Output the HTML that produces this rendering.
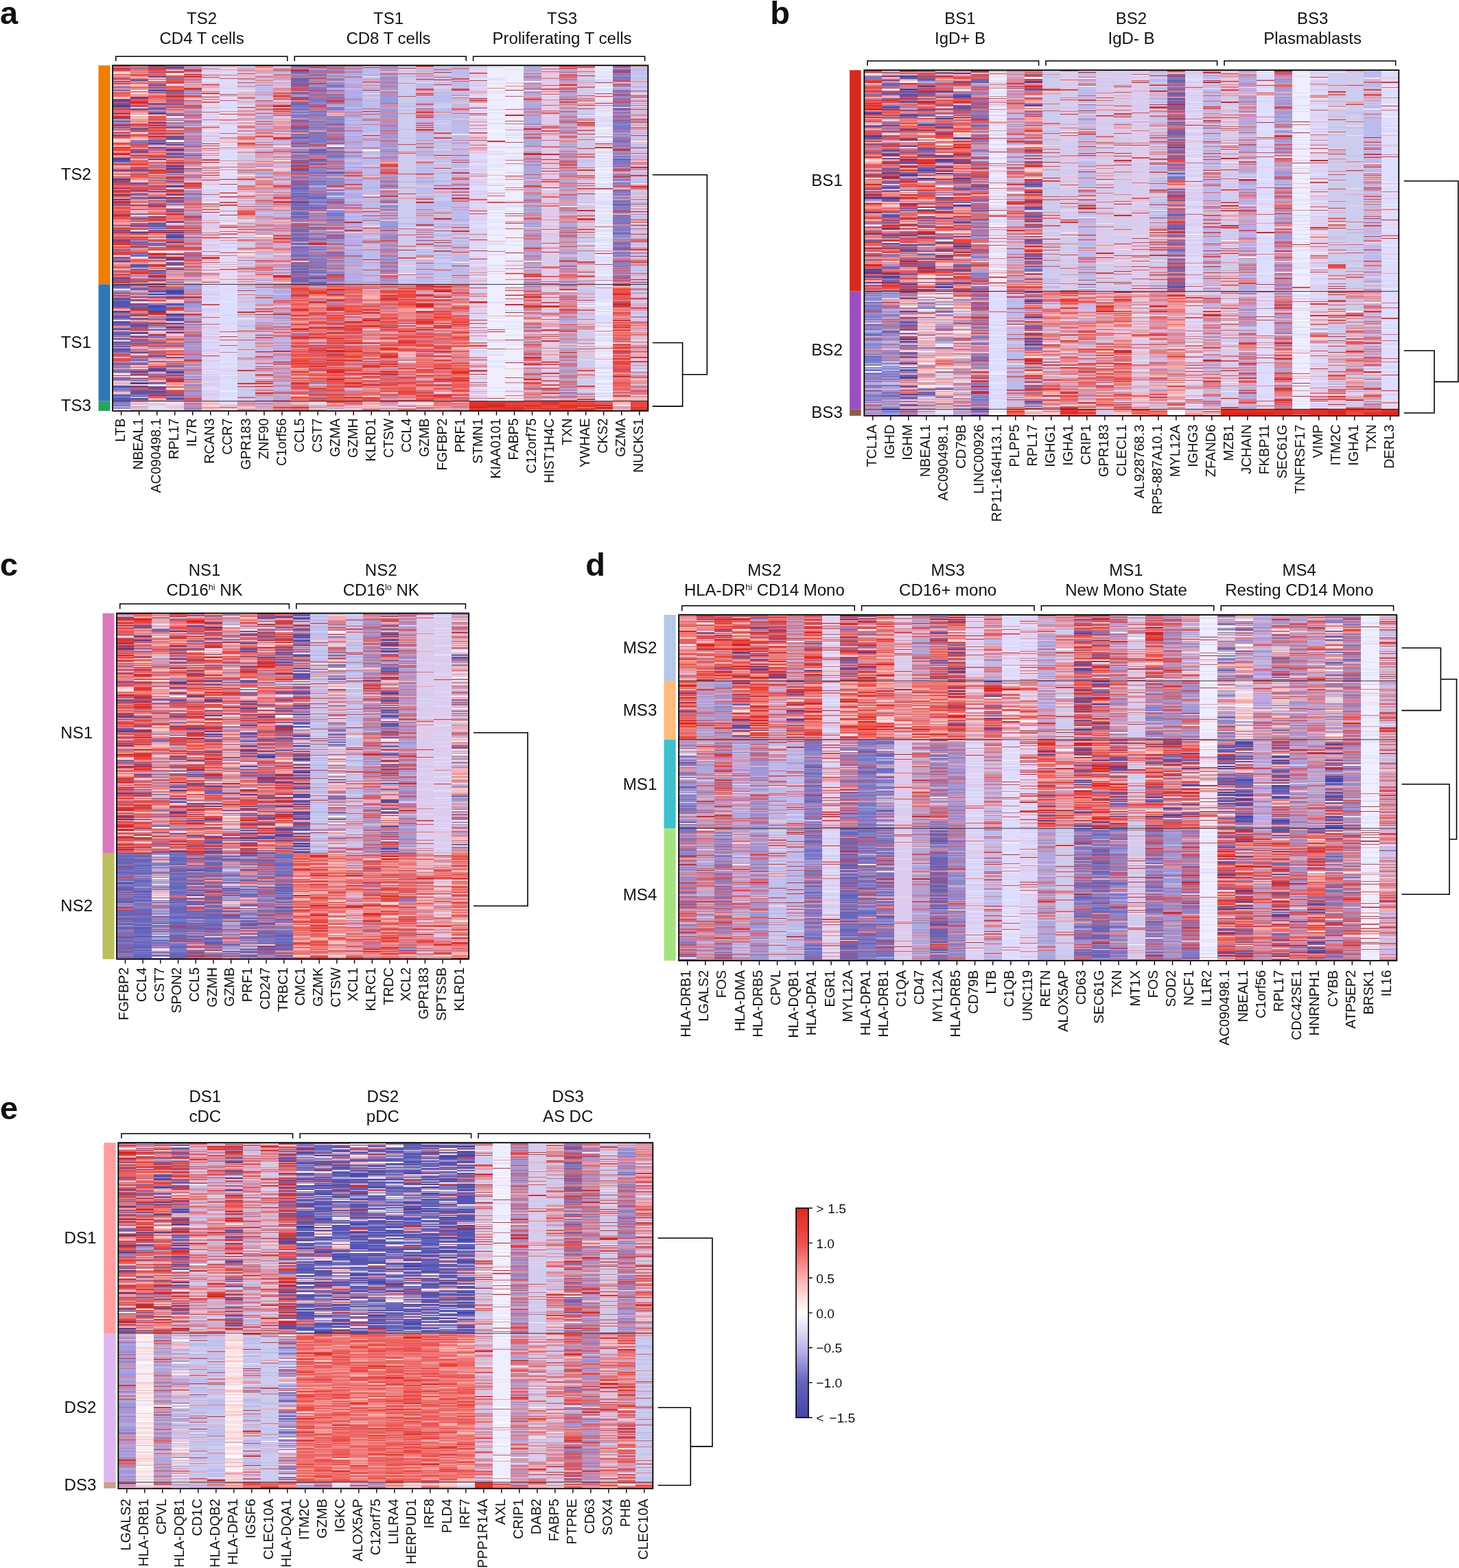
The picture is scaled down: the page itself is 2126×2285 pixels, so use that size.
<!DOCTYPE html>
<html><head><meta charset="utf-8"><title>Figure</title>
<style>html,body{margin:0;padding:0;background:#fff}svg{display:block}text{font-family:'Liberation Sans', Arial, Helvetica, sans-serif;fill:#111}</style></head>
<body>
<svg width="2126" height="2285" viewBox="0 0 2126 2285">
<rect width="2126" height="2285" fill="#fff"/>
<!-- panel a -->
<defs><clipPath id="cpa"><rect x="163.6" y="95.3" width="781.2" height="503.5"/></clipPath><filter id="bla" filterUnits="userSpaceOnUse" x="155.6" y="87" width="797.2" height="520" color-interpolation-filters="sRGB"><feGaussianBlur in="SourceGraphic" stdDeviation="0.35 0.5" result="S"/><feColorMatrix in="S" values=".299 .587 .114 0 0 .299 .587 .114 0 0 .299 .587 .114 0 0 0 0 0 1 0" result="L"/><feGaussianBlur in="SourceGraphic" stdDeviation="0.9 1.3"/><feColorMatrix values=".3505 -.2935 -.057 0 .5 -.1495 .2065 -.057 0 .5 -.1495 -.2935 .443 0 .5 0 0 0 1 0"/><feComposite in2="L" operator="arithmetic" k1="0" k2="2" k3="1" k4="-1"/></filter></defs>
<g clip-path="url(#cpa)"><g filter="url(#bla)" fill="none" stroke-width="26.04" shape-rendering="crispEdges">
<rect x="157.6" y="89" width="793.2" height="516" fill="#d8d4ee"/>
<path stroke="#66b" d="M176.62 93v1m0 33v1m0 3v2m0 15v1m0 23v2m0 2v2m0 7v2m0 79v2m0 30v2m0 74v3m0 17v1m0 12v2m0 8v3m0 6v2m0 9v2m0 16v2m0 2v2m0 2v1m0 7v2m0 5v1m0 4v3m0 1v2m0 10v4m0 8v3m0 16v2m0 9v2m0 9v2m0 25v1M202.66 100v1m0 106v1m0 41v1m0 37v3m0 21v2m0 14v2m0 20v1m0 2v2m0 18v2m0 15v1m0 20v1m0 4v2m0 2v4m0 22v3m0 9v2m0 12v1m0 4v2m0 3v1m0 4v1m0 2v1m0 5v3m0 1v2m0 2v1M228.7 94v1m0 5v1m0 20v1m0 35v1m0 8v1m0 37v3m0 55v1m0 33v1m0 30v2m0 25v3m0 3v1m0 34v2m0 23v1m0 43v2m0 5v1m0 5v1m0 3v1m0 17v2m0 46v1m0 9v3M254.74 113v1m0 32v2m0 3v2m0 14v2m0 6v1m0 7v1m0 23v1m0 19v1m0 15v1m0 15v1m0 3v3m0 27v3m0 10v2m0 84v1m0 26v1m0 1v2m0 5v2m0 49v2m0 22v1m0 25v1m0 3v2m0 12v1m0 31v1M437.02 95v2m0 7v2m0 9v3m0 2v1m0 2v2m0 9v1m0 6v1m0 6v1m0 1v3m0 10v1m0 23v2m0 6v1m0 25v2m0 3v1m0 6v2m0 5v1m0 2v1m0 24v2m0 3v3m0 5v2m0 2v2m0 11v2m0 2v2m0 6v3m0 2v2m0 17v1m0 2v1m0 8v3m0 5v3m0 2v1m0 12v2m0 3v2m0 8v2m0 2v2m0 4v1m0 6v2m0 1v1m0 1v1M463.06 217v3m0 1v2m0 10v2m0 3v2m0 47v3m0 12v2m0 30v1m0 14v1m0 47v1m0 8v1m0 4v3M489.1 250v3m0 146v2M905.74 101v3m0 56v1m0 70v2m0 65v2m0 40v1m0 20v2m0 5v1m0 39v1"/>
<path stroke="#fcc" d="M176.62 94v1m0 9v4m0 25v1m0 8v2m0 58v5m0 5v2m0 179v1m0 152v1m0 1v2M202.66 123v2m0 32v1m0 35v2m0 7v2m0 109v2m0 192v1m0 7v3m0 14v1m0 3v2M228.7 212v2m0 21v1m0 18v1m0 79v1m0 54v1m0 93v1m0 70v2m0 6v1M254.74 106v1m0 15v1m0 40v1m0 89v1m0 42v1m0 3v2m0 70v2m0 6v2m0 213v1M280.78 174v1m0 236v2M306.82 150v1m0 93v1m0 9v1m0 51v1m0 27v1M332.86 93v1m0 31v1m0 75v1m0 9v1m0 123v1m0 15v1m0 53v1m0 7v1m0 7v1M358.9 280v1m0 209v1M384.94 100v1m0 159v2m0 194v1M410.98 192v1m0 52v2M437.02 380v2m0 216v3M463.06 329v1m0 255v2M541.18 195v1m0 30v1m0 14v1m0 62v1m0 40v1m0 133v2m0 96v1m0 12v2M593.26 527v1M619.3 118v1m0 164v1m0 300v1M645.34 127v1m0 118v1m0 187v2M671.38 173v1m0 332v2M697.42 100v1m0 49v1m0 28v1m0 15v1m0 380v1M749.5 397v1M775.54 466v2M801.58 400v1m0 20v1m0 79v1m0 61v1M827.62 413v1M853.66 152v1m0 207v1m0 29v1m0 55v2m0 122v1M879.7 175v1M905.74 417v2M931.78 138v1m0 200v1m0 155v3m0 53v1"/>
<path stroke="#e55" d="M176.62 95v2m0 17v1m0 19v3m0 24v2m0 29v1m0 64v2m0 58v3m0 26v1m0 20v1m0 9v2m0 16v2m0 51v2m0 76v1M202.66 114v1m0 29v2m0 66v3m0 12v1m0 27v4m0 75v1m0 12v2m0 8v2m0 34v1m0 124v2M228.7 104v2m0 9v1m0 23v3m0 30v2m0 42v1m0 10v1m0 8v2m0 35v3m0 85v2m0 46v1m0 11v2m0 80v1m0 11v3m0 56v1m0 2v1m0 6v1M254.74 111v2m0 3v2m0 19v2m0 9v1m0 1v1m0 82v2m0 3v2m0 41v2m0 7v2m0 58v2m0 126v1m0 20v2m0 3v2m0 7v1m0 49v2M280.78 141v1m0 45v2m0 25v1m0 21v2m0 59v1m0 35v1m0 4v2m0 14v3m0 130v2M306.82 100v1m0 34v1m0 8v1m0 18v1m0 79v1m0 1v1m0 126v1m0 27v1m0 61v1M332.86 194v1m0 48v1m0 43v1m0 42v1m0 37v1M358.9 308v3M384.94 221v2m0 231v1m0 18v1m0 17v1m0 54v1M410.98 135v2m0 30v2m0 33v2m0 49v1m0 43v1m0 35v1m0 8v3m0 7v2M437.02 249v1m0 3v1m0 161v2m0 20v2m0 3v3m0 33v1m0 4v1m0 22v1m0 4v2m0 5v2m0 2v2m0 8v3m0 16v1m0 8v2m0 3v3m0 3v3M463.06 134v1m0 93v2m0 10v1m0 64v1m0 162v2m0 1v1m0 18v1m0 13v2m0 9v5m0 16v2m0 6v2m0 10v1m0 11v1M489.1 104v2m0 298v2m0 8v1m0 2v2m0 11v2m0 13v3m0 38v1m0 4v2m0 11v2m0 14v2m0 4v1m0 8v1m0 10v1m0 4v1m0 2v2m0 1v3m0 9v2m0 9v4M515.14 302v2m0 115v1m0 10v2m0 18v3m0 4v2m0 2v2m0 28v2m0 2v3m0 12v1m0 2v1m0 12v1m0 47v1M541.18 158v1m0 14v1m0 1v1m0 68v1m0 200v3m0 25v1m0 100v1M567.22 401v3m0 10v1m0 2v2m0 13v2m0 8v3m0 19v2m0 5v1m0 19v2m0 36v1m0 22v2m0 11v3m0 15v1M593.26 333v1m0 66v1m0 25v2m0 11v3m0 24v2m0 22v1m0 10v2m0 5v2m0 22v1m0 13v1m0 9v1m0 35v1M619.3 96v1m0 13v1m0 20v1m0 18v1m0 9v1m0 1v1m0 1v1m0 1v1m0 23v1m0 150v1m0 50v1m0 35v2m0 43v1m0 8v1m0 4v2m0 2v2m0 8v2m0 5v2m0 31v2M645.34 200v1m0 135v1m0 29v1m0 97v2m0 10v1m0 29v1m0 6v1m0 16v2m0 1v2m0 30v3M671.38 118v1m0 39v1m0 6v1m0 125v1m0 123v2m0 19v1m0 22v2m0 3v4m0 6v2m0 7v1m0 15v2m0 3v2m0 5v2m0 23v5m0 19v2m0 1v2M697.42 167v1m0 43v1m0 44v1m0 33v2m0 185v1m0 54v1m0 24v1M723.46 285v1M749.5 140v1m0 92v1m0 189v1M775.54 317v3m0 143v1m0 17v2m0 18v2m0 11v1m0 7v2m0 50v1m0 21v2M801.58 104v1m0 32v1m0 15v1m0 7v1m0 29v1m0 2v1m0 9v1m0 40v1m0 18v2m0 20v2m0 73v1m0 40v2m0 6v1m0 22v1m0 31v1m0 24v1m0 37v1m0 25v1m0 5v1m0 22v1M827.62 115v1m0 28v2m0 52v2m0 53v1m0 182v1m0 161v3M853.66 104v1m0 22v1m0 15v1m0 31v1m0 27v1m0 52v1m0 101v1m0 6v1m0 43v1m0 41v2m0 22v1m0 1v1m0 1v1M879.7 585v5m0 8v3M905.74 150v1m0 23v1m0 95v3m0 125v1m0 7v1m0 25v2m0 55v1m0 13v1m0 14v2m0 7v1m0 5v2m0 6v2m0 14v3m0 8v1m0 6v2M931.78 174v1m0 64v1m0 121v1m0 36v1m0 71v1m0 98v2m0 21v1"/>
<path stroke="#e66" d="M176.62 97v2m0 9v2m0 27v4m0 43v1m0 25v2m0 41v1m0 16v3m0 8v2m0 21v4m0 14v1m0 4v2m0 11v2m0 17v1m0 30v1m0 6v1m0 3v3m0 53v2M202.66 93v1m0 12v1m0 3v1m0 10v1m0 29v2m0 75v2m0 3v2m0 1v2m0 32v3m0 20v3m0 24v2m0 8v1m0 34v3m0 12v2m0 25v1m0 90v1m0 12v2m0 71v1M228.7 118v2m0 5v2m0 15v2m0 31v1m0 4v2m0 5v2m0 11v2m0 5v1m0 13v2m0 32v2m0 9v2m0 17v2m0 17v1m0 67v2m0 41v2m0 78v3m0 3v2m0 24v1m0 7v1m0 16v2M254.74 99v1m0 25v2m0 1v3m0 22v3m0 74v1m0 82v2m0 2v3m0 97v2m0 64v1m0 26v3m0 17v2m0 12v2m0 2v2M280.78 189v1m0 12v2m0 98v2m0 1v1m0 71v2m0 148v1m0 10v3M306.82 149v1m0 24v1m0 73v1M332.86 109v1m0 29v1m0 34v1m0 25v1m0 139v1m0 31v1M358.9 142v2m0 56v2m0 8v2m0 64v1m0 152v1m0 28v1m0 50v1M384.94 95v2m0 49v2m0 32v2m0 28v2m0 129v1m0 50v1m0 77v1m0 4v1m0 28v1m0 50v1m0 12v1m0 6v1m0 8v1M410.98 144v2m0 234v2m0 57v3m0 42v2M437.02 320v2m0 104v2m0 4v4m0 12v2m0 3v2m0 15v1m0 2v1m0 7v1m0 12v1m0 13v2m0 18v1m0 15v2m0 8v2m0 24v3m0 1v1m0 11v2M463.06 189v1m0 231v2m0 5v2m0 18v2m0 14v2m0 28v1m0 3v1m0 25v2m0 6v1M489.1 415v2m0 3v1m0 34v2m0 33v1m0 3v1m0 27v2m0 3v1m0 8v2m0 6v2m0 19v3m0 30v3M515.14 420v1m0 2v3m0 11v2m0 9v2m0 23v1m0 8v1m0 23v1m0 40v1m0 8v1m0 3v2m0 13v2m0 10v3m0 8v3M541.18 181v1m0 20v1m0 1v1m0 214v1m0 48v2m0 8v1m0 7v1m0 19v1m0 11v2m0 10v2m0 9v2m0 7v2m0 11v2m0 6v3m0 22v2M567.22 278v2m0 179v4m0 7v1m0 1v1m0 10v1m0 3v2m0 25v1m0 39v2m0 6v1m0 15v2M593.26 221v1m0 136v1m0 78v2m0 6v3m0 31v2m0 5v1m0 54v2m0 8v1m0 11v2m0 10v2m0 19v2M619.3 237v1m0 67v1m0 29v1m0 2v1m0 33v1m0 46v1m0 16v1m0 24v2m0 13v1m0 49v1m0 3v2m0 1v2m0 13v2m0 43v2m0 3v3M645.34 455v2m0 2v2m0 5v2m0 13v1m0 12v1m0 4v2m0 2v1m0 31v1m0 5v2m0 8v1m0 28v3m0 15v3M671.38 139v1m0 19v1m0 119v1m0 165v3m0 13v2m0 26v1m0 3v1m0 26v2m0 24v1m0 10v3m0 2v1m0 11v1M697.42 182v1m0 32v1m0 125v1m0 179v1m0 19v1m0 38v1m0 3v1M723.46 366v1M749.5 159v1m0 20v1m0 80v1m0 14v1m0 17v2m0 27v1m0 67v1m0 68v1m0 96v1m0 18v1M775.54 163v1m0 284v2m0 20v1m0 2v1m0 29v1m0 20v2M801.58 114v1m0 181v1m0 92v1m0 117v1m0 40v1m0 16v1M827.62 113v1m0 113v1m0 173v3m0 41v3m0 7v2m0 37v1m0 34v1m0 20v1m0 32v1M853.66 98v1m0 27v1m0 18v1m0 43v1m0 34v2m0 18v1m0 167v1m0 52v1m0 111v1m0 15v2M879.7 153v1m0 176v1m0 77v1M905.74 377v2m0 78v2m0 20v2m0 1v1m0 8v2m0 11v2m0 4v1m0 45v1m0 3v2m0 3v3M931.78 153v1m0 12v1m0 1v1m0 18v1m0 85v3m0 14v1m0 21v1m0 20v1m0 177v2m0 61v1"/>
<path stroke="#d33" d="M176.62 99v1m0 18v2m0 30v1m0 5v1m0 32v1m0 73v3m0 12v2m0 53v1m0 18v5m0 32v1m0 19v1m0 1v2m0 134v1M202.66 244v1m0 88v1m0 7v1m0 3v1m0 113v2m0 33v1M228.7 127v1m0 22v1m0 34v2m0 39v1m0 1v2m0 17v2m0 71v2m0 63v2m0 7v1M254.74 257v2m0 18v1m0 44v1m0 18v1M280.78 101v3m0 162v2m0 111v1M306.82 112v1m0 192v1m0 105v1m0 106v1M332.86 268v1m0 62v1M358.9 93v1m0 26v1m0 213v1m0 147v1m0 56v2m0 38v1M384.94 453v1m0 34v1m0 67v1m0 1v2m0 3v1M410.98 139v2m0 316v2m0 17v1M437.02 144v2m0 95v2m0 2v2m0 203v3m0 6v2m0 25v1m0 4v3m0 99v2M463.06 114v1m0 6v1m0 317v3m0 28v1m0 32v1m0 80v1M489.1 146v2m0 280v2m0 20v3m0 23v3m0 27v1m0 3v1m0 2v1m0 10v2m0 2v1m0 9v3m0 27v1M515.14 468v3m0 5v1m0 1v1m0 32v2m0 31v2m0 11v3M541.18 98v1m0 188v1m0 15v1m0 10v1m0 17v1m0 20v1m0 120v2m0 23v2m0 32v2M567.22 240v1m0 44v2m0 143v2m0 2v3m0 56v1m0 26v2M593.26 99v1m0 182v1m0 137v1m0 50v1m0 38v1M619.3 115v1m0 174v1m0 37v1m0 21v1m0 64v4m0 51v2m0 31v1m0 52v1m0 26v1M645.34 93v1m0 107v1m0 43v1m0 28v2m0 138v1m0 17v2m0 37v1m0 35v1m0 28v2m0 14v2m0 21v2M671.38 236v1m0 14v2m0 8v1m0 74v1m0 213v1M697.42 307v1m0 69v1m0 41v1m0 19v3m0 24v1m0 72v2M723.46 585v2m0 6v2m0 1v2M749.5 590v2m0 1v8M775.54 530v2m0 58v2M801.58 100v1m0 89v1m0 222v1m0 44v1m0 84v1m0 17v1m0 10v2m0 11v5M827.62 99v1m0 259v1m0 61v2m0 59v1m0 109v3M853.66 97v1m0 60v1m0 159v2m0 18v1m0 43v1m0 54v1m0 136v1m0 15v2m0 3v1m0 2v3M879.7 595v1M905.74 257v2m0 207v2m0 13v1m0 24v1m0 4v2m0 1v1m0 7v2m0 4v1M931.78 141v1m0 36v1m0 92v2m0 77v1m0 22v1m0 219v2m0 1v2"/>
<path stroke="#55a" d="M176.62 100v1m0 14v1m0 35v2m0 43v2m0 64v1m0 66v1m0 5v2m0 69v1m0 27v2m0 3v3m0 37v2m0 5v1m0 23v1m0 52v2M202.66 116v2m0 40v2m0 60v1m0 26v2m0 17v2m0 119v2m0 3v1m0 55v2m0 24v2m0 37v1m0 49v2m0 9v1m0 5v3M228.7 95v2m0 26v2m0 162v3m0 2v1m0 22v2m0 8v2m0 2v1m0 3v1m0 11v1m0 28v3m0 21v1m0 9v1m0 4v1m0 36v3m0 19v1m0 45v2m0 43v2m0 6v3M254.74 133v1m0 64v2m0 49v1m0 42v1m0 49v3m0 14v1m0 22v2m0 1v2m0 55v3m0 14v2m0 5v2m0 78v1m0 5v2m0 26v3"/>
<path stroke="#e44" d="M176.62 101v3m0 9v1m0 35v1m0 30v2m0 11v2m0 20v1m0 1v3m0 82v2m0 4v2m0 5v2m0 20v1m0 7v1m0 23v3m0 143v3m0 4v4M202.66 127v1m0 5v1m0 12v2m0 32v2m0 14v2m0 12v2m0 26v3m0 4v2m0 26v3m0 49v2m0 67v3m0 81v1m0 22v2m0 41v2M228.7 97v2m0 2v3m0 4v2m0 79v3m0 1v2m0 116v2m0 24v1m0 11v1m0 183v2m0 13v2M254.74 127v1m0 16v2m0 69v1m0 89v1m0 25v2m0 24v2m0 2v2m0 27v2m0 42v2m0 79v3m0 32v1m0 18v2m0 3v1M280.78 108v2m0 10v1m0 210v2m0 13v1m0 13v1m0 23v1m0 83v2m0 110v3M306.82 185v1m0 26v1m0 3v1m0 15v1m0 63v1m0 4v1m0 44v1m0 35v1m0 15v1m0 73v1M332.86 137v1m0 8v1m0 139v1m0 11v1m0 38v1m0 157v1M358.9 107v1m0 152v2m0 87v1m0 145v1M384.94 379v1m0 38v1m0 14v1m0 85v2m0 8v1m0 17v1m0 14v1M410.98 270v3m0 14v3m0 294v1M437.02 128v3m0 51v1m0 52v1m0 183v2m0 68v2m0 8v2m0 12v1m0 12v1m0 8v1m0 27v2m0 9v1M463.06 97v2m0 356v4m0 28v2m0 24v1m0 12v1m0 2v3m0 19v1M489.1 216v1m0 53v3m0 186v2m0 42v1m0 14v2m0 12v1m0 10v1m0 18v1M515.14 268v2m0 204v2m0 3v2m0 8v1m0 30v2m0 41v2M541.18 215v1m0 14v1m0 29v1m0 210v1m0 50v2m0 56v3M567.22 250v3m0 57v1m0 165v1m0 2v3m0 87v2m0 13v1M593.26 253v1m0 121v2m0 53v4m0 40v2m0 19v3m0 5v1m0 53v3m0 11v4M619.3 94v1m0 34v2m0 27v1m0 11v2m0 17v1m0 19v1m0 135v1m0 9v2m0 26v1m0 71v2m0 7v4m0 18v1m0 24v2m0 15v1m0 9v3m0 36v2m0 1v3M645.34 101v1m0 10v1m0 157v1m0 150v2m0 30v2m0 2v2m0 19v1m0 7v1m0 6v1m0 10v2m0 20v1m0 5v1m0 13v1m0 7v2m0 22v2M671.38 114v2m0 13v2m0 102v1m0 46v1m0 145v2m0 40v3m0 13v2m0 65v3m0 14v3m0 4v2m0 2v1M697.42 204v1m0 390v1M723.46 294v2m0 184v1m0 27v1M749.5 207v1m0 227v1m0 114v1M775.54 200v2m0 52v1m0 302v3m0 38v3M801.58 124v1m0 4v2m0 32v1m0 50v1m0 85v1m0 33v1m0 91v1m0 13v2m0 85v1m0 27v1m0 34v2m0 1v2M827.62 244v1m0 134v1m0 70v3m0 103v1m0 11v1m0 16v2m0 9v2M853.66 173v1m0 7v1m0 8v1m0 76v1m0 2v1m0 3v2m0 108v1m0 123v1m0 30v2m0 22v1M879.7 140v1m0 133v2M905.74 192v1m0 211v2m0 13v1m0 6v2m0 102v2m0 6v3M931.78 223v1m0 13v1m0 8v1m0 9v1m0 95v1m0 11v1m0 3v1m0 11v1m0 5v1m0 47v2m0 70v1m0 19v1m0 58v2m0 3v2m0 3v1m0 2v3"/>
<path stroke="#fbb" d="M176.62 110v1m0 12v2m0 49v1m0 52v1m0 185v1m0 81v3m0 73v3M202.66 107v1m0 48v1m0 7v2m0 6v2m0 18v1m0 38v2m0 29v4m0 31v1m0 8v2m0 2v1m0 12v2m0 136v2m0 115v1m0 19v3M228.7 149v1m0 17v2m0 61v1m0 46v1m0 62v1m0 41v3m0 54v3m0 34v1m0 16v1m0 14v2m0 14v2M254.74 192v1m0 80v3m0 9v2m0 81v1m0 28v1m0 41v3m0 26v2m0 3v1m0 13v2m0 9v1m0 15v1m0 3v2m0 4v2M280.78 113v1m0 30v2m0 2v1m0 104v1m0 9v3m0 64v1m0 124v2M306.82 132v1m0 12v1m0 115v1m0 63v1m0 32v1m0 43v3m0 5v1M332.86 165v1m0 39v2m0 31v1m0 159v1M358.9 94v1m0 238v1m0 96v1m0 111v1M384.94 175v1m0 60v2m0 326v1M410.98 122v1m0 60v1m0 65v1M463.06 414v1m0 145v2M515.14 596v2M541.18 144v1m0 111v1m0 29v1m0 43v1m0 27v1m0 73v2m0 61v3m0 87v2m0 6v2M567.22 104v2m0 214v2M593.26 598v3M619.3 106v1m0 122v1m0 27v1m0 11v1m0 315v2M645.34 241v1m0 105v1M671.38 149v2m0 63v1m0 123v1m0 24v1m0 78v3M697.42 198v1m0 37v1m0 67v1m0 107v1M723.46 270v1M749.5 121v1m0 101v1m0 215v1m0 97v1M801.58 135v1m0 13v1m0 14v1m0 103v1m0 162v1m0 18v1m0 63v1m0 59v1M827.62 107v1m0 264v2m0 24v1M853.66 102v2m0 45v1m0 38v1m0 61v1m0 75v1m0 103v1m0 7v1m0 31v1m0 5v1m0 39v2m0 26v1M879.7 161v1M905.74 579v4m0 4v3m0 6v2M931.78 198v1m0 8v1m0 42v1m0 32v1m0 3v1m0 33v1m0 83v1"/>
<path stroke="#d89" d="M176.62 111v2M280.78 97v2m0 84v1m0 156v1m0 187v1M358.9 141v1m0 19v2m0 4v2m0 21v2m0 3v1m0 66v1m0 50v2m0 15v1m0 61v1m0 13v2m0 179v3M384.94 120v1m0 117v2m0 53v3m0 9v1m0 9v2m0 16v1m0 20v3m0 235v1M410.98 115v1m0 12v3m0 56v2m0 61v3m0 2v2m0 3v2m0 11v3m0 7v2m0 25v1m0 50v2m0 57v1m0 50v1m0 15v2m0 57v1m0 45v1M437.02 595v1M489.1 111v2m0 221v1m0 54v1M541.18 436v1m0 16v2m0 36v2m0 43v5m0 21v1M567.22 172v2m0 86v2m0 107v3m0 78v3m0 29v1m0 39v2m0 44v1M593.26 415v2m0 53v1m0 13v2m0 18v2m0 56v1M619.3 434v2m0 3v3M645.34 420v1m0 162v1M671.38 434v2m0 1v2m0 89v1m0 1v2m0 46v1M775.54 311v2m0 64v2m0 41v1m0 85v1m0 40v1m0 3v1m0 11v2M827.62 230v1m0 10v2m0 17v2m0 6v2m0 34v1m0 29v1m0 62v1m0 44v3m0 42v2M931.78 478v1m0 24v3m0 26v1"/>
<path stroke="#f99" d="M176.62 116v2m0 125v1m0 76v2m0 1v2m0 57v2m0 97v1M202.66 111v2m0 21v1m0 2v4m0 144v2m0 15v2m0 80v1m0 45v2m0 34v2m0 15v1m0 66v1M228.7 93v1m0 13v1m0 6v1m0 18v1m0 3v2m0 21v1m0 59v1m0 69v2m0 14v2m0 60v1m0 8v2m0 57v1m0 22v2m0 2v1m0 4v2m0 52v2M254.74 95v2m0 60v1m0 16v1m0 14v1m0 22v2m0 17v2m0 35v2m0 40v1m0 16v2m0 60v1m0 92v1m0 39v2m0 33v5M280.78 125v2m0 7v1m0 250v2m0 170v3m0 25v2M306.82 122v1m0 60v1m0 2v1m0 11v1m0 19v2m0 17v1m0 21v1m0 8v1m0 35v1m0 16v1m0 25v1m0 31v1m0 213v2M332.86 97v1m0 81v1m0 187v1m0 17v1M358.9 439v1m0 44v1M384.94 101v3m0 421v1m0 45v1M410.98 323v2m0 52v2M437.02 133v1m0 59v2m0 276v1m0 42v1m0 28v1m0 33v1m0 5v1M463.06 541v3M489.1 166v1m0 252v1m0 14v2m0 151v3M541.18 120v1m0 172v1m0 39v1m0 2v1m0 89v4M567.22 192v1m0 262v2M593.26 288v2m0 230v2M619.3 134v2m0 123v1m0 267v1m0 62v2M645.34 164v1m0 50v1m0 63v2m0 26v1m0 160v2m0 74v2m0 22v1M671.38 157v1m0 21v1m0 76v1m0 5v1m0 216v2m0 6v2m0 9v1m0 72v3M697.42 202v1m0 14v1m0 191v1m0 110v1m0 9v1m0 39v1M723.46 495v1M749.5 258v1m0 140v1m0 22v1m0 85v1m0 61v1M775.54 120v1m0 157v2M801.58 282v1m0 185v1m0 13v1m0 28v1m0 4v2M827.62 296v1m0 122v1M853.66 96v1m0 22v1m0 141v1m0 51v1m0 1v1m0 14v1m0 4v1m0 5v1m0 74v1m0 39v1m0 36v1m0 18v1m0 23v1m0 8v1m0 3v1m0 29v1M879.7 523v1M905.74 250v3m0 208v2m0 20v1m0 59v1m0 51v1M931.78 96v1m0 2v1m0 88v1m0 39v1m0 5v1m0 1v1m0 32v1m0 131v1"/>
<path stroke="#ebb" d="M176.62 120v1M202.66 169v3m0 334v1M228.7 346v1m0 137v2M306.82 595v1M358.9 149v1M437.02 587v3M593.26 513v1"/>
<path stroke="#55b" d="M176.62 121v1m0 111v2m0 12v2m0 101v2m0 62v3m0 19v1m0 5v6m0 13v2m0 5v2m0 23v1m0 10v2m0 2v2m0 65v2m0 3v4M202.66 305v1m0 53v1m0 25v2m0 45v2m0 30v2m0 4v1m0 19v1m0 33v2m0 1v1m0 1v1m0 41v3M228.7 106v1m0 44v2m0 5v2m0 35v1m0 19v1m0 43v1m0 18v2m0 55v2m0 77v1m0 8v3m0 6v2m0 14v2m0 76v1m0 9v2m0 31v2M254.74 185v2m0 13v2m0 8v2m0 11v3m0 97v2m0 4v1m0 190v2m0 53v2M437.02 247v2m0 44v3M905.74 277v1"/>
<path stroke="#e43" d="M176.62 122v1m0 75v2m0 8v2m0 6v1m0 21v3m0 27v2m0 10v1m0 4v2m0 44v2m0 27v1m0 49v1M202.66 108v2m0 50v1m0 93v1m0 23v2m0 66v1m0 32v1m0 92v1m0 6v2m0 10v2M228.7 174v1m0 75v3m0 64v3m0 21v1m0 8v2m0 11v2m0 72v2m0 74v1m0 65v1M254.74 110v1m0 7v3m0 69v2m0 1v2m0 49v1m0 2v2m0 11v2m0 68v1m0 18v1m0 100v3m0 98v1M280.78 139v2m0 129v3m0 88v2M306.82 109v1m0 38v1m0 134v1m0 14v1m0 144v2M332.86 114v1m0 51v1m0 127v2m0 32v1m0 12v1m0 141v1m0 19v1M358.9 208v2m0 101v2M384.94 198v2m0 92v1m0 184v1m0 4v1m0 51v1M410.98 161v2m0 251v1m0 112v1m0 65v2M437.02 192v1m0 134v2m0 92v2m0 101v2m0 1v1m0 51v1M463.06 423v3m0 56v1m0 3v1m0 78v3m0 6v3M489.1 99v1m0 231v2m0 68v3m0 66v1m0 1v1m0 26v2m0 29v2m0 15v1m0 2v1m0 5v1m0 17v3m0 1v1m0 6v2M515.14 255v2m0 179v1m0 16v2m0 29v2m0 32v2m0 18v3m0 9v2m0 26v1m0 5v1M541.18 94v1m0 71v1m0 154v1m0 71v1m0 56v3m0 11v2m0 69v1m0 12v2m0 4v2M567.22 241v2m0 107v2m0 71v3m0 42v2m0 45v3m0 15v2m0 25v2M593.26 107v1m0 32v1m0 69v1m0 12v1m0 118v1m0 80v3m0 2v2m0 12v3m0 36v1m0 7v1m0 1v2m0 43v2m0 31v2m0 7v1M619.3 97v1m0 9v1m0 106v1m0 159v1m0 62v2m0 38v1m0 20v1m0 19v2m0 40v2m0 9v3m0 1v2M645.34 193v2m0 115v1m0 39v1m0 42v1m0 42v3m0 22v3m0 60v2M671.38 93v1m0 132v1m0 66v1m0 66v1m0 40v1m0 46v2m0 41v2m0 1v1m0 37v1M697.42 145v1m0 2v1m0 162v1m0 116v1m0 2v1m0 67v1m0 3v1m0 30v1M723.46 595v1m0 2v3M749.5 176v1m0 79v1m0 54v1m0 2v1m0 104v1m0 167v3m0 2v1M775.54 144v2m0 124v3m0 88v2m0 36v5m0 3v1m0 177v5m0 3v2M801.58 354v1m0 35v1m0 54v1m0 41v1m0 48v1m0 40v1m0 14v1m0 3v5M827.62 473v1m0 113v3m0 5v1M853.66 139v1m0 76v1m0 97v1m0 87v2m0 10v1m0 131v1m0 38v5M879.7 385v1m0 121v1M905.74 414v1m0 6v2m0 32v2m0 16v1m0 27v2m0 23v1m0 19v1m0 30v1M931.78 132v1m0 14v1m0 11v1m0 13v1m0 11v1m0 111v1m0 25v1m0 17v1m0 106v2m0 100v1m0 36v3"/>
<path stroke="#a8b" d="M176.62 125v2m0 296v3m0 143v2M202.66 120v1m0 68v1m0 224v1m0 107v2M228.7 148v1m0 174v2M280.78 166v1m0 111v2M437.02 108v2m0 54v2m0 51v3m0 11v2m0 47v1M463.06 123v4m0 184v2m0 4v3m0 5v2m0 15v3m0 5v2M489.1 95v2m0 78v1m0 68v1m0 137v2M905.74 99v1m0 120v3m0 119v3m0 22v1m0 39v1"/>
<path stroke="#e88" d="M176.62 128v3m0 90v2m0 3v1m0 32v1m0 27v3m0 2v1m0 64v2m0 26v2m0 89v1m0 26v1M202.66 104v2m0 22v3m0 30v2m0 3v1m0 9v2m0 17v1m0 19v1m0 7v3m0 15v2m0 16v3m0 28v2m0 8v2m0 61v2m0 17v2m0 33v2m0 63v1m0 21v2m0 41v1M228.7 146v2m0 44v1m0 30v3m0 12v2m0 5v2m0 21v2m0 149v1m0 46v2m0 60v1m0 1v2m0 24v1M254.74 161v2m0 33v2m0 16v1m0 11v1m0 93v2m0 18v1m0 57v1m0 7v1m0 1v2m0 20v2m0 49v1m0 44v1M280.78 158v2m0 4v2m0 6v2m0 126v2m0 90v1m0 1v1m0 170v3M306.82 127v1M332.86 101v1m0 60v1m0 12v1m0 26v1m0 44v1m0 32v1m0 69v1m0 56v1M358.9 101v3m0 94v2m0 73v3m0 21v1m0 52v2m0 64v1m0 106v1M384.94 97v2m0 17v2m0 144v1m0 10v3m0 7v2m0 102v2m0 26v1m0 27v2m0 55v2m0 51v1m0 15v1m0 7v1M410.98 120v1m0 64v2m0 49v2m0 92v1m0 36v1m0 41v1M437.02 146v2m0 288v1m0 18v2m0 38v3m0 40v3m0 6v1m0 4v2m0 38v1M463.06 227v1m0 117v1m0 84v2m0 10v3m0 8v2m0 6v2m0 3v2m0 13v1m0 7v1m0 73v2M489.1 363v2m0 117v1m0 4v2m0 44v2M515.14 428v2m0 12v3m0 77v2M541.18 128v1m0 126v1m0 84v1m0 8v1m0 14v1m0 17v1m0 31v3m0 31v2m0 9v2m0 22v1m0 9v1m0 74v1m0 6v2m0 7v1m0 13v3M567.22 153v3m0 77v2m0 185v1m0 7v2m0 48v1m0 25v2m0 89v1M593.26 121v1m0 151v1m0 85v1m0 88v2m0 7v6m0 14v1m0 57v1m0 43v1M619.3 99v1m0 104v1m0 10v1m0 5v1m0 13v1m0 18v1m0 33v2m0 21v1m0 1v2m0 19v1m0 44v1m0 109v1m0 39v1m0 16v1M645.34 163v1m0 405v2m0 13v1m0 8v2M671.38 217v1m0 84v1m0 59v1m0 41v1m0 66v1m0 4v1m0 4v1m0 19v2m0 12v3m0 4v2m0 2v1m0 63v2M697.42 107v1m0 25v1m0 1v1m0 41v1m0 9v1m0 6v1m0 58v1m0 143v1m0 2v1m0 55v1m0 50v1M723.46 281v1M749.5 189v1m0 196v1m0 42v1M775.54 434v2m0 28v2m0 84v1m0 9v2m0 9v3m0 1v2m0 1v1M801.58 182v1m0 13v1m0 56v1m0 45v1m0 20v1m0 139v1m0 28v1m0 36v1M827.62 204v3m0 38v2m0 70v3m0 119v3m0 51v1M853.66 146v1m0 82v1m0 30v1m0 62v1m0 9v1m0 12v1m0 54v1m0 26v1m0 4v1m0 131v1M879.7 199v1m0 165v1m0 53v1M905.74 411v2m0 35v2m0 3v2m0 9v2m0 2v2m0 16v1m0 3v1m0 17v2m0 34v2m0 37v1m0 8v1M931.78 118v1m0 31v1m0 31v1m0 87v1m0 15v1m0 17v1m0 19v1m0 15v1m0 36v1m0 6v1m0 89v2m0 1v1m0 6v2m0 92v1"/>
<path stroke="#faa" d="M176.62 141v1m0 53v1m0 11v1m0 12v1m0 20v2m0 7v3m0 23v1m0 48v2m0 57v1m0 6v1m0 58v3m0 29v1m0 23v1m0 13v2m0 35v3M202.66 95v2m0 78v1m0 2v2m0 20v2m0 14v1m0 75v1m0 15v2m0 94v2m0 28v2m0 57v1m0 34v1m0 4v2M228.7 233v2m0 46v2m0 59v3m0 2v2m0 62v2m0 93v1m0 73v3M254.74 101v3m0 78v1m0 4v2m0 215v2m0 49v2m0 49v1m0 21v1m0 54v1M280.78 430v2m0 39v1m0 9v1M306.82 156v1m0 142v1m0 85v1m0 3v1m0 19v1m0 81v1M332.86 207v1m0 9v1m0 103v1m0 60v1m0 5v1m0 4v1M358.9 481v1M384.94 99v1m0 57v1m0 87v2m0 98v1m0 1v2m0 14v4m0 31v1m0 2v3m0 10v1m0 36v2m0 10v1m0 39v1m0 22v1m0 30v1M410.98 215v1m0 86v3m0 60v2m0 39v1M437.02 468v2m0 6v1m0 30v1m0 28v2m0 10v2m0 18v1M463.06 100v1m0 207v2m0 122v2m0 61v3M489.1 164v2m0 1v2m0 263v2m0 150v1M541.18 280v1m0 58v1m0 90v2m0 2v2m0 3v3m0 35v1m0 20v1m0 21v2m0 56v1M567.22 236v2m0 252v1m0 20v2m0 58v3m0 22v2M593.26 515v3M619.3 320v1m0 37v1m0 119v1M645.34 315v1m0 194v1m0 81v1M671.38 244v1m0 53v1m0 31v1m0 39v2m0 36v1m0 5v1m0 180v1M697.42 218v2m0 171v1m0 54v2m0 52v2m0 49v1M723.46 255v1m0 95v1m0 43v1m0 64v1M749.5 332v1m0 247v1M775.54 459v2M801.58 107v1m0 5v1m0 71v1m0 47v1m0 50v1m0 13v1m0 16v1m0 24v1m0 182v1M827.62 125v2m0 184v2M853.66 120v1m0 59v1m0 19v1m0 16v1m0 5v1m0 53v1m0 24v1m0 90v2m0 142v1M879.7 141v1m0 328v1M905.74 584v1M931.78 121v1m0 40v1m0 138v1m0 57v1m0 126v1"/>
<path stroke="#946" d="M176.62 144v2M202.66 221v2m0 75v2M228.7 565v3M254.74 156v1m0 130v3m0 43v1m0 1v2M437.02 114v1m0 7v1"/>
<path stroke="#44a" d="M176.62 146v2m0 5v3m0 26v1m0 47v3m0 2v1m0 24v2m0 21v2m0 5v2m0 88v2m0 71v2m0 15v1m0 2v1m0 20v1m0 3v1m0 51v1m0 11v1M202.66 142v2m0 43v2m0 37v1m0 50v1m0 51v1m0 8v2m0 133v1m0 10v2m0 28v1m0 26v2m0 3v1m0 4v1m0 5v3m0 17v1M228.7 111v2m0 18v2m0 1v1m0 29v2m0 12v2m0 28v2m0 21v2m0 195v2m0 15v3m0 5v2m0 83v3M254.74 97v2m0 1v1m0 116v3m0 21v2m0 2v2m0 7v1m0 15v3m0 10v2m0 53v2m0 5v2m0 5v2m0 23v2m0 14v1m0 29v5m0 4v2m0 23v2m0 5v2m0 5v2m0 3v2m0 6v2m0 55v3"/>
<path stroke="#e77" d="M176.62 157v1m0 2v1m0 6v2m0 18v2m0 39v2m0 15v2m0 7v1m0 55v1m0 31v3m0 16v2m0 24v2m0 39v2m0 2v2m0 40v2m0 13v1m0 42v1M202.66 94v1m0 6v3m0 59v1m0 10v1m0 8v1m0 1v2m0 11v2m0 50v3m0 51v1m0 26v2m0 44v2m0 20v2m0 10v3m0 39v4m0 11v2m0 82v2m0 29v1M228.7 110v1m0 9v1m0 1v1m0 12v2m0 7v2m0 7v3m0 20v2m0 18v2m0 65v3m0 14v1m0 2v2m0 8v3m0 6v2m0 4v3m0 69v2m0 9v1m0 42v2m0 37v1m0 20v1m0 46v2m0 3v1m0 4v1M254.74 160v1m0 23v1m0 35v3m0 12v1m0 30v2m0 12v1m0 34v2m0 37v3m0 38v2m0 13v1m0 3v1m0 75v1m0 4v3m0 9v1m0 27v1m0 42v1M280.78 110v1m0 5v2m0 102v1m0 10v2m0 60v3m0 27v2m0 27v2m0 26v2M306.82 125v1m0 7v1m0 89v1m0 2v1m0 24v2m0 71v1m0 14v1m0 5v1m0 20v1m0 7v1m0 2v1m0 15v1M332.86 215v1m0 18v1m0 72v1m0 205v1m0 79v2M358.9 183v2m0 17v2m0 125v1m0 8v2m0 181v1M384.94 111v2m0 167v1m0 79v1m0 30v1m0 38v1m0 3v1m0 10v1m0 16v1m0 32v1m0 3v1m0 13v1m0 8v1m0 16v2M410.98 108v3m0 2v1m0 81v1m0 154v2m0 11v2m0 27v1m0 155v2M437.02 255v2m0 160v2m0 20v3m0 15v2m0 7v2m0 6v2m0 22v1m0 2v2m0 7v1M463.06 241v2m0 176v2m0 13v2m0 14v3m0 19v1m0 6v2m0 39v2m0 13v1m0 10v1m0 31v1M489.1 298v2m0 157v2m0 9v2m0 38v2m0 38v2m0 27v1m0 12v2M515.14 207v1m0 207v2m0 97v1m0 17v1m0 8v3m0 8v4m0 13v2M541.18 116v1m0 7v1m0 133v1m0 104v1m0 37v1m0 9v1m0 5v2m0 18v2m0 48v2m0 14v3m0 2v5m0 30v1m0 12v1M567.22 176v2m0 67v2m0 2v1m0 165v2m0 22v3m0 11v2m0 11v2m0 18v1m0 11v1m0 25v2m0 12v3M593.26 165v1m0 268v2m0 19v2m0 7v2m0 21v2m0 5v1m0 16v2m0 31v2m0 14v2m0 33v1M619.3 236v1m0 162v1m0 4v1m0 9v1m0 79v1m0 4v2m0 23v2m0 6v1m0 21v2m0 1v3m0 35v1M645.34 229v1m0 100v1m0 88v1m0 53v1m0 16v3m0 35v2m0 20v1m0 36v5M671.38 99v2m0 41v1m0 17v1m0 43v1m0 3v1m0 58v1m0 78v1m0 70v3m0 8v4m0 7v3m0 11v2m0 8v1m0 18v1m0 12v3m0 29v1m0 7v1m0 12v2m0 6v1m0 8v3m0 19v3M697.42 200v1m0 280v1m0 2v1m0 4v1m0 70v1m0 1v1M723.46 128v1M749.5 125v1m0 112v1m0 34v1m0 59v1m0 12v1m0 33v1m0 26v1M775.54 142v2m0 137v2m0 221v2m0 5v2m0 23v2M801.58 96v1m0 36v1m0 11v1m0 67v1m0 23v2m0 24v1m0 124v1m0 27v1m0 54v1m0 1v1m0 1v1m0 17v1m0 36v1M827.62 97v2m0 52v2m0 251v2M853.66 147v1m0 3v1m0 32v1m0 70v1m0 216v1m0 22v1m0 4v1m0 3v1M879.7 211v1m0 270v1m0 109v1m0 3v2M905.74 276v1m0 115v1m0 44v2m0 11v3m0 62v3m0 2v2m0 2v2m0 26v2m0 9v2M931.78 232v1m0 118v1m0 27v1m0 1v1m0 91v1"/>
<path stroke="#947" d="M176.62 158v2m0 178v2m0 64v2M202.66 322v1m0 119v3m0 124v2M228.7 214v1m0 85v2m0 77v1M254.74 139v2m0 95v2m0 38v1M463.06 404v2"/>
<path stroke="#f98" d="M176.62 163v1m0 234v1M202.66 125v2M228.7 322v1M254.74 415v2m0 74v2M280.78 546v1M384.94 196v2M410.98 176v2M437.02 461v2M489.1 384v1M541.18 472v1M593.26 450v3M619.3 463v1m0 42v1m0 44v1M645.34 445v3M671.38 510v1M931.78 554v2"/>
<path stroke="#d22" d="M176.62 164v2m0 3v3m0 42v1m0 8v3m0 23v1m0 27v1m0 15v3m0 17v2m0 34v1m0 18v1M202.66 141v1m0 6v3m0 217v1m0 29v1m0 7v1m0 155v1M228.7 99v1m0 82v2m0 14v2m0 76v1m0 61v2m0 29v3m0 29v3m0 3v1m0 47v2m0 13v1m0 16v2M254.74 104v2m0 35v1m0 162v1m0 6v2m0 61v3m0 117v1m0 59v2M280.78 111v2m0 113v1m0 102v1m0 102v2M306.82 123v1m0 12v1m0 4v1m0 67v1m0 23v1m0 2v1m0 18v1m0 6v1m0 46v1m0 65v2M332.86 95v1m0 165v1m0 19v1m0 31v1m0 32v1m0 45v1M358.9 156v1m0 234v1m0 31v1m0 31v1m0 107v1M384.94 450v1m0 7v1m0 20v1m0 32v1m0 24v1m0 34v2M410.98 153v3m0 2v2m0 40v2m0 199v3m0 107v2M437.02 101v3m0 368v1m0 6v2m0 48v1M463.06 354v3m0 153v1M489.1 421v2m0 70v1m0 17v2m0 28v2m0 9v2M515.14 323v2m0 174v2m0 78v1M541.18 119v1m0 11v1m0 30v1m0 34v1m0 110v1m0 69v1m0 76v2m0 9v2m0 58v1m0 17v2m0 14v2M567.22 541v2m0 1v2M593.26 364v1m0 49v1m0 68v1m0 14v1m0 51v1m0 32v1M619.3 136v1m0 1v1m0 13v1m0 10v1m0 15v1m0 2v1m0 5v1m0 64v1m0 40v2m0 31v1m0 102v2m0 10v6m0 99v1M645.34 105v1m0 10v1m0 6v1m0 102v1m0 91v2m0 33v1m0 63v2m0 4v3m0 51v1M671.38 269v1m0 4v2m0 8v1m0 3v2m0 47v1m0 134v1m0 56v1m0 13v1M697.42 106v1m0 36v1m0 13v1m0 35v1m0 155v1m0 15v1m0 138v1m0 19v1m0 67v3m0 3v3M723.46 483v1m0 106v3M749.5 131v1m0 35v2m0 199v1m0 61v1m0 12v2m0 10v1m0 72v1M775.54 187v2m0 34v3m0 206v2m0 86v2m0 30v2M801.58 165v1m0 18v1m0 1v1m0 37v2m0 6v1m0 16v1m0 117v1m0 78v2m0 48v2m0 46v1m0 24v1m0 9v1M827.62 95v2m0 51v1m0 91v1M853.66 110v1m0 42v1m0 24v1m0 3v1m0 45v1m0 29v1m0 23v1m0 23v2m0 12v1m0 13v1m0 61v1m0 165v1M879.7 120v1m0 29v1m0 58v1m0 4v1m0 154v1m0 220v2m0 1v2M905.74 428v2m0 12v3m0 25v1m0 6v1m0 70v2M931.78 139v1m0 36v1m0 20v1m0 45v2m0 10v1m0 52v1m0 19v1m0 34v1m0 18v1m0 24v1m0 3v1m0 115v1"/>
<path stroke="#77c" d="M176.62 166v1m0 212v1m0 148v1m0 9v3m0 24v4m0 8v2m0 6v2m0 3v2M202.66 184v1m0 23v2m0 159v3m0 36v1m0 145v2M228.7 156v1m0 140v1m0 99v1m0 6v2m0 36v3m0 34v2m0 8v4m0 21v1m0 29v2m0 4v1M254.74 94v1m0 39v1m0 272v1m0 3v2m0 50v1m0 74v3m0 36v1M437.02 106v2m0 13v1m0 35v3m0 7v2m0 9v2m0 16v4m0 12v2m0 16v1m0 7v2m0 10v3m0 4v2m0 11v3m0 3v1m0 1v2m0 3v2m0 5v2m0 8v2m0 6v2m0 7v3m0 5v2m0 6v1m0 15v1m0 13v5m0 1v3m0 17v2m0 7v1m0 2v3m0 9v1M463.06 95v2m0 2v1m0 10v1m0 2v1m0 13v4m0 6v2m0 5v4m0 13v3m0 3v2m0 7v2m0 7v2m0 5v4m0 2v10m0 15v3m0 18v1m0 5v3m0 2v2m0 2v1m0 3v3m0 2v2m0 13v4m0 6v3m0 2v4m0 2v1m0 5v1m0 19v1m0 9v2m0 4v1m0 12v1m0 3v2m0 7v2m0 11v2m0 3v1m0 4v2m0 11v1m0 1v1m0 168v1M489.1 123v4m0 14v1m0 8v1m0 5v1m0 1v2m0 14v1m0 12v2m0 26v1m0 5v2m0 4v3m0 5v1m0 17v1m0 36v2m0 4v2m0 13v4m0 18v1m0 11v1m0 1v2m0 20v3m0 7v1m0 29v1M905.74 94v1m0 13v2m0 1v4m0 7v1m0 8v4m0 4v2m0 12v3m0 13v3m0 4v4m0 3v6m0 6v1m0 11v1m0 4v2m0 2v1m0 10v1m0 7v3m0 3v2m0 40v2m0 8v3m0 6v2m0 13v5m0 1v2m0 8v1m0 7v1m0 3v1m0 6v2m0 5v1m0 24v1m0 16v3m0 9v1"/>
<path stroke="#979" d="M176.62 175v1"/>
<path stroke="#99d" d="M176.62 178v2m0 240v1m0 172v2M202.66 401v3m0 106v1M254.74 399v2m0 69v1M280.78 100v1m0 60v2m0 19v1m0 13v2m0 6v3m0 1v2m0 17v1m0 19v2m0 101v2m0 7v1m0 55v4m0 1v3m0 3v2m0 14v6m0 5v2m0 8v5m0 2v1m0 2v3m0 10v1m0 4v3m0 5v4m0 3v2m0 10v2m0 2v2m0 6v2m0 3v3m0 5v3m0 2v3m0 11v3m0 3v1m0 2v4m0 8v2m0 8v2M437.02 161v2m0 3v1M463.06 337v1m0 99v2M489.1 151v2m0 64v3m0 11v2m0 29v1m0 130v1m0 4v1m0 11v1m0 72v1M567.22 94v1m0 2v2m0 2v3m0 3v1m0 3v2m0 1v1m0 1v2m0 3v1m0 1v2m0 3v3m0 2v1m0 5v11m0 1v2m0 3v1m0 1v5m0 4v5m0 3v1m0 2v4m0 3v5m0 6v6m0 6v2m0 2v2m0 2v4m0 1v2m0 7v3m0 2v1m0 21v2m0 3v1m0 3v2m0 5v3m0 5v2m0 7v2m0 4v1m0 1v2m0 2v2m0 2v2m0 9v3m0 2v8m0 1v3m0 6v2m0 7v1m0 4v3m0 4v2m0 5v1m0 5v3m0 3v2m0 9v1m0 14v2m0 1v2m0 2v1m0 5v1m0 157v1M775.54 298v2m0 5v1m0 68v3M827.62 243v1m0 5v1M905.74 161v2m0 33v2m0 139v1m0 9v2m0 50v2"/>
<path stroke="#957" d="M176.62 183v1m0 127v2M202.66 283v2m0 32v3m0 248v1M228.7 249v1m0 143v1M254.74 228v2m0 154v1"/>
<path stroke="#cce" d="M176.62 190v2m0 368v2M202.66 585v2m0 8v1M280.78 184v1M332.86 112v1M358.9 95v4m0 1v1m0 3v2m0 2v2m0 6v2m0 3v1m0 1v2m0 2v1m0 5v1m0 5v2m0 3v4m0 2v3m0 10v1m0 28v1m0 33v1m0 1v5m0 12v2m0 7v1m0 4v1m0 3v3m0 2v2m0 23v4m0 1v2m0 22v3m0 2v2m0 6v2m0 8v1m0 1v2m0 3v5m0 23v4m0 3v2m0 1v1m0 22v3m0 1v3m0 1v1m0 2v5m0 2v3m0 1v4m0 1v6m0 2v6m0 2v2m0 1v2m0 1v2m0 1v1m0 1v7m0 2v5m0 2v1m0 1v5m0 2v3m0 1v13m0 1v2m0 1v8m0 4v3m0 1v6m0 1v3m0 2v1m0 1v15m0 2v3m0 1v4m0 1v8m0 3v5M384.94 115v1m0 6v1m0 21v2m0 10v1m0 153v1m0 116v1m0 18v2m0 37v1m0 46v1M410.98 169v3m0 54v1m0 163v1M489.1 285v2M541.18 97v1m0 14v1m0 28v2m0 6v1m0 43v1m0 26v1m0 18v1m0 17v1m0 44v1m0 20v1m0 3v1m0 34v1m0 17v1m0 8v1M593.26 93v6m0 1v7m0 1v2m0 1v1m0 1v4m0 1v3m0 1v18m0 1v10m0 1v2m0 2v4m0 1v4m0 1v16m0 1v5m0 1v12m0 2v7m0 2v9m0 1v1m0 1v22m0 1v6m0 1v2m0 1v1m0 1v5m0 2v7m0 1v8m0 1v5m0 2v12m0 1v9m0 1v4m0 1v7m0 2v4m0 1v1m0 1v8m0 1v4m0 1v1m0 1v8m0 2v4m0 1v10m0 2v3m0 3v4m0 1v8m0 1v1m0 1v1m0 1v3m0 1v3m0 1v3m0 1v1m0 100v1m0 3v2m0 8v1m0 48v1M619.3 109v1m0 34v1m0 4v1m0 81v1m0 10v1m0 28v2m0 7v1m0 10v1m0 72v1m0 4v1m0 42v1M645.34 94v1m0 1v2m0 6v1m0 2v3m0 1v1m0 1v1m0 3v3m0 2v1m0 1v3m0 1v3m0 1v2m0 3v1m0 11v1m0 1v7m0 7v1m0 6v1m0 2v2m0 1v4m0 1v2m0 1v1m0 1v1m0 1v3m0 3v3m0 4v2m0 4v2m0 2v2m0 1v4m0 3v1m0 6v1m0 2v1m0 2v4m0 2v1m0 4v1m0 1v2m0 3v2m0 1v2m0 1v2m0 4v2m0 8v2m0 4v2m0 1v1m0 1v6m0 9v1m0 2v2m0 4v1m0 2v1m0 8v2m0 4v1m0 1v1m0 1v2m0 3v3m0 4v2m0 2v1m0 2v1m0 1v1m0 4v1m0 3v2m0 3v2m0 3v2m0 2v6m0 2v1m0 1v3m0 1v1m0 5v1m0 1v1m0 1v1m0 2v2m0 2v2m0 1v2m0 59v1M671.38 96v1m0 37v1m0 12v1m0 18v1m0 157v2m0 17v3m0 3v1m0 3v2M775.54 262v1M801.58 151v1m0 98v1m0 77v1m0 14v2m0 61v1m0 4v1m0 41v1m0 67v1m0 25v1m0 9v1m0 22v1M853.66 93v3m0 3v3m0 3v5m0 1v6m0 1v1m0 2v1m0 1v3m0 2v5m0 1v5m0 1v2m0 2v1m0 3v1m0 1v1m0 3v4m0 1v7m0 1v1m0 1v1m0 2v1m0 1v1m0 1v2m0 5v1m0 1v3m0 3v4m0 1v4m0 1v2m0 1v11m0 3v5m0 3v2m0 2v3m0 1v1m0 1v8m0 1v1m0 3v1m0 1v3m0 3v1m0 1v1m0 2v5m0 1v2m0 1v3m0 2v1m0 1v4m0 1v8m0 2v4m0 2v3m0 1v3m0 2v2m0 1v2m0 3v2m0 3v1m0 2v2m0 1v3m0 1v2m0 4v1m0 1v2m0 1v3m0 2v5m0 1v1m0 1v3m0 1v1m0 1v4m0 1v15m0 4v5m0 1v2m0 2v1m0 1v4m0 3v5m0 1v2m0 1v1m0 1v1m0 2v5m0 1v2m0 1v1m0 1v1m0 1v2m0 1v3m0 2v3m0 1v2m0 3v3m0 2v3m0 1v1m0 1v6m0 1v4m0 1v1m0 1v2m0 3v1m0 1v12m0 2v1m0 1v4m0 1v2m0 2v3m0 1v3m0 2v2m0 2v6m0 1v11m0 2v1m0 3v2m0 3v2m0 1v12m0 2v1m0 1v4m0 1v1m0 3v2m0 3v1m0 2v2M931.78 94v2m0 2v1m0 1v1m0 3v1m0 1v1m0 2v3m0 1v1m0 2v2m0 2v1m0 1v3m0 3v4m0 3v1m0 4v1m0 3v1m0 3v2m0 1v2m0 1v2m0 5v1m0 2v2m0 1v1m0 2v2m0 3v1m0 1v1m0 3v1m0 1v1m0 6v1m0 1v1m0 7v2m0 2v1m0 3v2m0 2v1m0 4v3m0 1v2m0 1v2m0 7v1m0 1v1m0 2v1m0 1v1m0 1v1m0 2v1m0 3v1m0 3v1m0 4v1m0 1v1m0 2v1m0 4v1m0 8v3m0 1v1m0 6v2m0 2v2m0 4v1m0 6v2m0 3v2m0 1v2m0 2v1m0 4v1m0 7v2m0 4v2m0 4v1m0 2v1m0 1v1m0 6v1m0 2v2m0 1v1m0 4v3m0 4v1m0 2v2m0 10v1m0 1v1m0 1v2m0 2v2m0 5v3m0 4v1m0 2v1m0 2v5m0 3v3m0 4v2m0 5v5m0 11v2m0 2v4m0 3v4m0 8v1m0 5v1m0 8v2m0 1v1m0 4v4m0 11v1m0 7v4m0 4v2m0 1v3m0 8v2m0 14v2m0 13v2m0 2v1"/>
<path stroke="#c67" d="M176.62 200v2M280.78 387v2m0 10v2M384.94 334v1M410.98 543v1m0 27v3M463.06 158v2m0 390v1M489.1 259v1m0 94v3m0 141v1M515.14 227v1m0 144v2M567.22 190v2m0 153v1m0 155v2m0 25v1m0 21v1M775.54 292v1m0 130v3m0 11v2m0 32v1m0 5v1m0 37v3m0 47v3M827.62 128v3m0 18v1m0 26v2m0 42v1m0 117v2m0 2v3m0 65v1m0 4v2m0 15v2m0 98v1m0 14v1m0 15v2M905.74 393v1m0 15v1m0 20v2"/>
<path stroke="#99c" d="M176.62 236v2M254.74 172v2M463.06 409v1M489.1 287v3"/>
<path stroke="#a9c" d="M176.62 244v1m0 269v1M202.66 315v2M254.74 436v1M905.74 121v1m0 205v2m0 60v1m0 161v1"/>
<path stroke="#ecc" d="M176.62 255v2M254.74 176v2M306.82 585v2M358.9 411v2m0 185v3M593.26 585v2"/>
<path stroke="#a47" d="M176.62 273v3M905.74 95v2"/>
<path stroke="#a68" d="M176.62 296v1m0 68v2M202.66 276v1m0 261v3m0 24v3M437.02 183v1m0 60v1m0 59v1M463.06 104v2m0 106v2m0 29v1M489.1 93v1m0 296v1m0 80v1M905.74 325v2m0 60v2m0 1v1"/>
<path stroke="#d32" d="M176.62 297v1M202.66 182v1m0 7v2m0 168v1m0 36v1m0 11v1m0 40v3M228.7 298v2m0 87v2m0 68v2M254.74 93v1m0 37v2m0 145v2m0 168v2m0 77v1m0 28v1M280.78 128v3m0 184v2m0 140v2m0 65v2M306.82 342v1M332.86 299v1m0 190v1M358.9 454v1m0 103v2M384.94 492v1m0 52v1M410.98 293v3m0 51v2M437.02 430v2m0 109v2m0 14v3M463.06 426v2m0 49v2m0 12v2m0 14v1m0 25v2m0 12v1M489.1 436v3m0 9v2m0 13v1m0 20v2M515.14 335v2m0 144v1m0 42v2m0 36v1M541.18 351v1m0 124v1m0 37v1m0 17v1m0 46v1M567.22 477v1m0 25v1m0 3v3m0 8v2m0 10v2M593.26 436v1M619.3 168v1m0 16v1m0 234v1m0 32v2m0 13v2m0 9v2m0 9v1M645.34 358v1m0 6v1m0 108v2m0 35v2m0 5v2m0 57v1M671.38 131v1m0 127v1m0 71v1m0 35v1m0 19v1m0 153v2m0 11v2m0 28v1M697.42 117v1m0 28v1m0 18v1m0 305v1m0 73v1m0 39v7m0 4v2M723.46 205v2m0 373v1m0 6v3M749.5 325v1m0 72v1m0 96v1m0 89v2M775.54 195v1m0 249v3m0 144v1m0 2v1M801.58 261v1m0 11v1m0 154v1m0 27v1m0 23v2m0 49v1m0 34v2m0 27v1M827.62 123v2m0 388v1m0 70v1m0 5v2M853.66 179v1m0 15v1m0 51v2m0 132v1m0 199v2m0 9v1m0 3v2M879.7 136v1m0 78v1M905.74 104v2m0 111v3m0 195v2m0 90v1M931.78 215v1m0 104v1m0 27v1m0 171v2"/>
<path stroke="#e76" d="M176.62 300v2M228.7 243v1M384.94 189v1M410.98 550v1M437.02 445v3m0 72v2M515.14 471v1M567.22 563v2M593.26 421v2M619.3 522v2M645.34 415v2m0 65v1M671.38 533v2m0 12v1M905.74 420v1m0 111v1m0 21v2"/>
<path stroke="#eef" d="M176.62 330v1M202.66 487v2M228.7 560v2m0 33v1M254.74 107v1M280.78 121v1M306.82 116v1m0 152v1M332.86 159v1m0 56v1m0 18v1m0 13v1m0 17v1m0 14v1m0 10v1m0 44v1m0 70v1m0 29v1m0 48v1m0 39v1m0 5v1m0 11v1m0 22v2m0 8v1M410.98 212v2M463.06 595v1M619.3 120v1m0 210v1m0 46v1m0 208v3M697.42 509v1M723.46 94v4m0 1v14m0 1v1m0 2v4m0 1v6m0 1v4m0 1v1m0 1v9m0 1v13m0 2v3m0 1v8m0 1v5m0 2v9m0 1v14m0 3v5m0 2v5m0 2v1m0 3v5m0 1v2m0 1v3m0 1v2m0 1v1m0 1v3m0 1v7m0 1v5m0 1v5m0 1v1m0 2v6m0 1v3m0 1v1m0 3v5m0 1v1m0 3v3m0 1v1m0 2v1m0 2v4m0 1v3m0 1v5m0 1v2m0 1v6m0 1v2m0 1v8m0 1v8m0 1v1m0 1v1m0 2v8m0 2v3m0 2v14m0 2v3m0 1v3m0 1v2m0 1v15m0 1v25m0 2v18m0 1v2m0 1v1m0 1v2m0 1v9m0 1v1m0 1v2m0 1v11m0 4v9m0 1v3m0 1v3m0 2v7m0 1v1m0 1v5m0 1v1m0 1v29m0 1v4m0 1v6m0 1v2m0 1v4M749.5 93v1m0 1v6m0 1v18m0 2v3m0 1v2m0 1v2m0 1v6m0 1v1m0 1v1m0 1v15m0 3v4m0 1v1m0 2v7m0 1v3m0 1v4m0 1v1m0 1v1m0 1v4m0 1v1m0 2v2m0 1v6m0 1v6m0 2v7m0 1v4m0 1v1m0 1v2m0 1v4m0 1v1m0 1v9m0 3v3m0 3v2m0 1v5m0 1v5m0 1v2m0 1v2m0 1v12m0 1v1m0 2v2m0 4v5m0 1v2m0 2v1m0 2v1m0 1v4m0 1v1m0 1v1m0 1v2m0 1v3m0 3v11m0 1v4m0 1v5m0 1v10m0 1v8m0 1v2m0 1v2m0 1v2m0 1v1m0 1v2m0 1v1m0 1v2m0 4v5m0 1v1m0 1v11m0 1v2m0 2v5m0 2v4m0 1v1m0 1v1m0 1v3m0 2v1m0 2v3m0 2v1m0 3v3m0 1v8m0 1v5m0 1v3m0 1v8m0 1v6m0 3v1m0 1v2m0 1v5m0 2v15m0 1v2m0 1v8m0 1v12m0 1v4m0 5v5m0 1v2m0 4v4m0 2v2m0 1v4M853.66 168v1m0 128v1m0 144v1M879.7 95v5m0 1v3m0 1v1m0 1v2m0 1v1m0 2v2m0 6v1m0 1v1m0 2v3m0 4v1m0 1v1m0 6v3m0 1v1m0 5v1m0 6v1m0 2v1m0 1v2m0 1v2m0 10v1m0 5v4m0 1v2m0 1v1m0 2v2m0 2v1m0 1v3m0 5v1m0 2v1m0 4v2m0 4v2m0 2v2m0 2v2m0 2v1m0 3v1m0 3v3m0 1v5m0 1v1m0 1v2m0 2v2m0 1v4m0 3v1m0 2v1m0 2v6m0 2v2m0 2v2m0 1v1m0 7v2m0 2v1m0 1v2m0 2v3m0 1v1m0 1v1m0 2v2m0 3v1m0 2v2m0 4v2m0 4v3m0 1v4m0 1v1m0 4v1m0 1v3m0 2v2m0 2v1m0 6v4m0 3v1m0 3v1m0 1v1m0 2v1m0 3v1m0 2v1m0 1v1m0 1v1m0 1v3m0 5v1m0 1v1m0 1v3m0 3v1m0 19v1m0 2v6m0 2v1m0 2v2m0 2v3m0 1v1m0 12v1m0 4v5m0 2v2m0 3v2m0 2v1m0 4v5m0 3v1m0 1v1m0 2v1m0 1v2m0 1v4m0 2v1m0 1v2m0 1v1m0 1v2m0 2v1m0 4v4m0 2v3m0 3v1m0 2v5m0 3v3m0 1v3m0 1v3m0 3v1m0 3v4m0 1v1"/>
<path stroke="#e65" d="M176.62 334v1M202.66 97v2M228.7 399v2m0 167v1M254.74 142v2m0 96v1m0 233v2m0 92v1M280.78 249v1m0 178v2M358.9 306v2M384.94 214v1M410.98 404v2M463.06 436v1m0 115v4M489.1 461v2M515.14 426v2m0 27v2m0 15v1m0 17v1m0 7v1m0 16v3m0 11v1m0 50v3M541.18 489v1m0 93v1M567.22 238v2m0 249v1m0 9v2m0 50v1M593.26 507v1M619.3 504v2m0 29v1M645.34 514v1M671.38 473v1m0 29v1m0 79v1M775.54 491v2m0 36v1M827.62 236v2m0 280v2M905.74 472v1m0 11v2m0 1v2m0 4v1m0 77v3M931.78 487v2"/>
<path stroke="#a69" d="M176.62 347v2m0 115v2m0 52v2M228.7 507v1m0 3v2M280.78 146v2m0 28v2m0 103v2M437.02 331v2m0 46v1M463.06 108v2m0 196v2m0 69v2m0 14v1M489.1 142v2m0 101v2m0 125v2m0 33v1m0 58v2M905.74 97v2m0 24v2m0 19v2m0 99v2m0 68v2m0 43v1"/>
<path stroke="#968" d="M176.62 363v2M202.66 463v1M254.74 195v1m0 164v1m0 171v1M437.02 214v1M463.06 327v2m0 60v1M489.1 137v2"/>
<path stroke="#fdd" d="M176.62 372v2m0 47v2m0 43v2m0 76v2m0 10v1m0 27v1M202.66 296v1m0 77v3m0 62v3m0 118v2M228.7 116v2m0 195v2M254.74 108v2m0 13v2m0 44v3m0 162v1m0 52v2m0 24v1m0 23v2m0 47v1m0 2v1m0 72v1m0 2v3m0 19v3M280.78 106v1m0 136v1M306.82 105v1m0 32v1M332.86 173v1m0 80v1M358.9 255v2m0 63v2m0 47v3M384.94 244v1m0 306v1M410.98 230v1m0 2v2m0 251v1M437.02 215v1m0 359v2M541.18 111v1m0 217v1M593.26 387v1M619.3 233v1m0 141v2m0 73v3m0 139v1M645.34 228v1M671.38 196v1M749.5 454v1M775.54 380v2M801.58 326v1m0 8v1M827.62 300v2m0 121v3M853.66 524v1M879.7 238v1M905.74 120v1m0 378v2m0 73v1M931.78 136v1m0 47v1m0 11v1m0 8v2m0 95v1"/>
<path stroke="#e87" d="M176.62 392v1M202.66 118v2m0 2v1M228.7 257v2M254.74 262v1M384.94 263v3M410.98 379v1M463.06 175v1m0 401v1M489.1 377v2M515.14 546v1M541.18 569v2M671.38 486v1M775.54 584v1M931.78 556v1"/>
<path stroke="#958" d="M176.62 399v2m0 29v2M202.66 436v1m0 93v2M228.7 474v2m0 22v1M254.74 135v2m0 113v3m0 55v2m0 59v3M437.02 175v1m0 32v2m0 200v1M463.06 231v2M905.74 175v1m0 121v1m0 82v2"/>
<path stroke="#a9b" d="M176.62 477v1M228.7 406v1M254.74 298v2M280.78 407v1"/>
<path stroke="#a57" d="M176.62 490v1M202.66 230v1M228.7 330v1M254.74 115v1m0 33v1m0 421v3M437.02 266v2m0 54v1m0 7v1m0 10v1m0 40v2m0 24v1m0 5v1M463.06 122v1m0 8v2m0 23v1M489.1 94v1m0 113v2m0 67v1m0 89v1M905.74 137v2m0 9v1m0 113v1m0 29v1"/>
<path stroke="#aad" d="M176.62 491v2M202.66 390v2M228.7 184v1m0 167v2m0 72v2m0 155v1M280.78 322v1m0 11v1M384.94 172v2m0 76v3m0 23v1m0 172v1m0 73v1m0 59v1M410.98 345v1m0 73v1m0 3v3m0 4v2m0 2v2m0 25v2m0 3v2m0 9v1m0 28v1m0 28v1m0 11v1m0 8v1m0 3v2m0 7v2m0 9v3M463.06 230v1m0 39v3m0 84v2M489.1 108v2m0 242v2m0 120v2M515.14 97v2m0 2v3m0 2v1m0 7v1m0 6v1m0 20v2m0 2v2m0 3v5m0 2v2m0 6v1m0 2v3m0 3v1m0 13v1m0 14v3m0 1v2m0 10v1m0 5v1m0 16v2m0 12v2m0 7v2m0 8v2m0 7v2m0 38v2m0 10v1m0 2v1m0 22v2m0 9v5m0 3v2m0 8v1m0 18v2m0 115v1M541.18 109v1m0 64v1m0 98v1m0 44v2M567.22 287v3M619.3 116v1m0 52v1m0 22v1m0 31v2m0 32v1m0 5v2m0 15v1m0 26v1m0 1v1m0 14v1m0 270v2M671.38 305v1m0 14v1m0 6v1M775.54 97v3m0 1v3m0 4v2m0 3v1m0 1v3m0 5v2m0 2v1m0 5v1m0 1v4m0 11v8m0 8v1m0 2v11m0 2v1m0 2v2m0 5v1m0 9v10m0 2v1m0 5v3m0 3v1m0 1v2m0 8v2m0 1v3m0 3v7m0 1v4m0 7v4m0 3v3m0 1v1m0 7v5m0 12v3m0 1v4m0 5v2m0 5v3m0 4v1m0 3v1m0 3v3m0 1v1m0 4v1m0 2v3m0 2v6m0 7v1m0 1v3m0 7v1m0 4v5m0 4v1m0 3v1m0 8v1m0 1v3m0 3v1m0 46v2m0 11v2m0 2v3m0 12v1m0 5v2m0 6v3m0 8v2m0 6v1m0 8v1m0 5v2m0 5v2m0 18v1M827.62 101v3m0 14v2m0 15v2m0 9v2m0 2v1m0 5v1m0 7v2m0 1v2m0 3v2m0 8v1m0 1v1m0 2v2m0 7v2m0 12v4m0 7v2m0 8v2m0 17v3m0 1v1m0 8v3m0 7v3m0 5v2m0 2v2m0 5v1m0 4v3m0 8v3m0 14v6m0 2v1m0 7v1m0 5v3m0 7v2m0 6v3m0 6v5m0 5v1m0 8v1m0 15v1m0 4v1m0 2v2m0 1v1m0 27v2m0 7v2m0 4v1m0 2v2m0 9v2m0 10v2m0 4v3m0 10v2m0 5v3m0 4v2m0 2v1m0 8v3m0 5v1m0 2v1m0 4v3m0 8v1m0 2v3m0 6v1M905.74 128v3m0 62v2m0 35v1m0 32v3m0 80v1m0 222v2"/>
<path stroke="#a7a" d="M176.62 507v1M202.66 204v3m0 36v1m0 93v1m0 197v1M228.7 161v2m0 39v2m0 6v2m0 93v1M254.74 178v2M280.78 107v1m0 41v1m0 104v1M437.02 111v2m0 232v1M463.06 135v2m0 43v2m0 187v3m0 7v1m0 147v1m0 43v3M489.1 185v2m0 2v1m0 202v1M905.74 115v1m0 51v2m0 141v1m0 80v1"/>
<path stroke="#b9c" d="M176.62 527v1M280.78 137v2m0 146v2m0 23v3m0 123v1m0 13v3m0 61v1m0 75v2M463.06 399v2M489.1 133v1m0 50v1m0 62v3m0 161v2M567.22 244v1m0 89v1m0 3v2m0 71v2m0 123v2M905.74 110v1m0 263v3"/>
<path stroke="#77b" d="M176.62 529v1m0 5v1M437.02 153v3m0 18v1m0 15v2m0 67v1m0 69v1m0 12v3m0 39v1m0 8v1M463.06 382v2m0 10v1m0 6v3M489.1 115v1m0 79v1m0 114v1M905.74 233v2m0 78v2m0 23v2"/>
<path stroke="#a79" d="M176.62 533v2M202.66 428v2M228.7 241v2M254.74 208v2m0 127v1m0 123v2M280.78 190v2m0 197v1m0 142v1m0 23v1m0 21v1M437.02 292v1M489.1 223v3M567.22 99v1m0 13v1m0 6v1m0 13v1m0 15v1m0 92v1m0 19v3m0 106v2m0 13v2m0 6v2M905.74 107v1"/>
<path stroke="#e99" d="M176.62 536v2M202.66 342v3M228.7 260v2m0 148v1m0 99v1M254.74 255v2m0 144v3m0 132v2M280.78 308v2m0 219v1M358.9 287v3M410.98 235v1M463.06 214v1m0 230v3m0 53v2m0 45v2m0 42v1m0 3v2M489.1 592v1M567.22 100v1m0 431v1M619.3 565v3M671.38 420v1M775.54 439v3m0 114v1M827.62 278v2m0 13v3M905.74 471v1m0 78v1"/>
<path stroke="#fa9" d="M176.62 543v1"/>
<path stroke="#88c" d="M176.62 551v1m0 35v3m0 5v1M202.66 99v1m0 443v1m0 31v2M228.7 128v3m0 109v1m0 90v2m0 187v2M254.74 114v1m0 232v2m0 96v3m0 45v1m0 7v2M280.78 115v1m0 19v2m0 26v1m0 28v1m0 30v3m0 57v2m0 2v3m0 84v3m0 183v2M437.02 99v1m0 56v1m0 32v1m0 12v2m0 16v1m0 117v2m0 71v2m0 74v2m0 73v1M463.06 101v3m0 14v2m0 28v1m0 15v2m0 6v2m0 4v2m0 3v1m0 3v2m0 26v1m0 29v5m0 12v1m0 10v3m0 14v2m0 21v2m0 45v3m0 11v3m0 7v1m0 114v2m0 56v3m0 2v1M489.1 101v3m0 2v1m0 3v1m0 3v1m0 5v2m0 12v1m0 4v2m0 19v1m0 2v1m0 5v5m0 2v4m0 2v1m0 13v2m0 6v3m0 7v1m0 15v1m0 12v1m0 16v2m0 1v7m0 11v4m0 7v1m0 7v2m0 13v5m0 9v1m0 8v2m0 1v1m0 8v2m0 8v1m0 26v2m0 17v1m0 1v1m0 4v1m0 12v2M567.22 300v2m0 45v2M905.74 151v2m0 27v2m0 8v2m0 16v2m0 13v3m0 17v1m0 5v1m0 3v1m0 6v2m0 6v2m0 11v2m0 4v3m0 6v1m0 3v2m0 2v1m0 25v1m0 26v2m0 10v3m0 10v2m0 1v2"/>
<path stroke="#bac" d="M176.62 554v2M280.78 118v2m0 120v1m0 3v1m0 150v2m0 79v1m0 1v1m0 75v2M437.02 357v2M463.06 216v1M489.1 349v1m0 9v1M775.54 395v2M905.74 141v1"/>
<path stroke="#bad" d="M176.62 574v1M228.7 486v1M280.78 215v1m0 126v3m0 12v2m0 102v2M463.06 417v2M489.1 113v1m0 14v3m0 322v2M567.22 311v2m0 2v2M775.54 260v2M905.74 593v2"/>
<path stroke="#eaa" d="M176.62 592v1M202.66 423v3M228.7 430v2m0 100v1M280.78 195v1M384.94 270v3m0 322v1M437.02 556v1M541.18 587v3M567.22 495v3M905.74 585v2"/>
<path stroke="#fff" d="M176.62 596v2M202.66 131v2m0 393v1m0 29v1M228.7 113v1m0 245v1m0 7v1m0 110v1m0 64v1m0 41v2M254.74 204v3m0 160v1M306.82 294v2m0 6v1M332.86 168v1m0 230v1M358.9 464v1M384.94 561v1M489.1 212v2M541.18 218v2m0 64v1M567.22 276v1M619.3 361v1M723.46 190v1m0 274v1M749.5 142v1m0 170v1m0 142v1m0 99v1M853.66 354v1m0 90v1m0 57v1M905.74 156v1"/>
<path stroke="#969" d="M176.62 598v3M202.66 253v1m0 27v2M228.7 244v1m0 145v1m0 113v2M437.02 131v2m0 74v1m0 69v1m0 9v3m0 95v2M463.06 367v1M489.1 226v1M905.74 149v1m0 7v1m0 46v3m0 147v3m0 6v2m0 148v1"/>
<path stroke="#fee" d="M202.66 113v1m0 21v2m0 30v2m0 166v2m0 211v2M228.7 365v2m0 25v1m0 199v1M254.74 394v1m0 113v2M280.78 276v1M306.82 190v1M332.86 325v1M358.9 176v2m0 187v2M384.94 342v3m0 199v1M489.1 305v1M541.18 136v1M567.22 297v1M593.26 398v1m0 194v2M619.3 98v1M671.38 140v1m0 54v1m0 186v1M697.42 498v1m0 20v1M775.54 118v2M801.58 99v1m0 39v1m0 22v1m0 113v1M905.74 590v2M931.78 267v1m0 17v1m0 39v1"/>
<path stroke="#b68" d="M202.66 115v1M228.7 253v1m0 324v1M280.78 157v1m0 9v2m0 38v1m0 4v2m0 82v1m0 20v3m0 48v1m0 70v3m0 30v1m0 17v1m0 61v2m0 41v1M437.02 94v1m0 54v1m0 78v2M463.06 139v2m0 55v2m0 189v2m0 26v2m0 152v2M489.1 144v2m0 3v1m0 33v1m0 16v2m0 327v1m0 49v1M567.22 106v1m0 140v2m0 4v1m0 38v4m0 102v1m0 128v1m0 46v1M827.62 387v2M905.74 349v1m0 126v1"/>
<path stroke="#a58" d="M202.66 153v3m0 61v3m0 48v2m0 84v3m0 163v2M228.7 270v3M254.74 121v1m0 257v1m0 204v1M437.02 118v2m0 5v2m0 136v3m0 74v1m0 9v2m0 8v1M463.06 220v1M489.1 148v1m0 31v2m0 164v1"/>
<path stroke="#e54" d="M202.66 235v1m0 104v1M228.7 163v1m0 5v3m0 185v2M254.74 166v1m0 196v2M280.78 397v1M384.94 598v3M410.98 407v1M437.02 423v3m0 38v2m0 37v1m0 11v3m0 12v2m0 14v1m0 31v1M463.06 508v2m0 73v1M489.1 423v3m0 38v2m0 7v1m0 5v2m0 8v1m0 5v3m0 9v1m0 55v2M515.14 421v2m0 22v3m0 59v3M567.22 426v2m0 29v2m0 47v1m0 3v1m0 64v2M593.26 482v1m0 82v3M619.3 543v1m0 18v1M645.34 489v1m0 72v1M671.38 544v2M775.54 428v2m0 68v1m0 45v2M827.62 283v2M905.74 423v3m0 8v3m0 37v2m0 22v1m0 36v1m0 26v1m0 35v3M931.78 498v1"/>
<path stroke="#ddf" d="M202.66 280v1M228.7 482v1m0 46v1M254.74 302v2m0 21v2m0 38v2M306.82 93v2m0 1v1m0 4v1m0 5v1m0 2v2m0 5v3m0 6v1m0 4v1m0 7v1m0 2v2m0 2v2m0 3v2m0 1v2m0 1v1m0 1v3m0 3v1m0 2v2m0 2v2m0 2v1m0 1v5m0 4v1m0 1v1m0 1v1m0 1v1m0 1v1m0 1v1m0 1v2m0 1v1m0 4v2m0 1v1m0 3v1m0 2v1m0 3v2m0 4v2m0 2v1m0 3v1m0 2v2m0 1v2m0 3v1m0 2v1m0 10v1m0 2v1m0 2v2m0 3v5m0 3v1m0 2v1m0 1v1m0 3v2m0 7v1m0 2v1m0 6v1m0 2v3m0 1v1m0 2v1m0 2v1m0 15v1m0 6v2m0 4v1m0 1v1m0 1v2m0 4v1m0 3v2m0 3v4m0 1v1m0 4v1m0 2v1m0 2v1m0 1v2m0 2v3m0 2v2m0 10v2m0 3v5m0 2v1m0 1v3m0 2v1m0 4v2m0 1v1m0 1v1m0 1v5m0 2v4m0 5v1m0 1v4m0 1v1m0 2v5m0 1v2m0 1v2m0 4v1m0 1v1m0 1v1m0 1v1m0 2v2m0 2v1m0 2v3m0 2v1m0 1v2m0 1v3m0 5v2m0 1v2m0 3v3m0 3v1m0 1v2m0 1v2m0 1v2m0 2v3m0 1v2m0 2v1m0 7v1m0 1v1m0 5v6m0 2v1m0 6v1m0 1v1m0 3v1M332.86 94v1m0 1v1m0 1v3m0 1v2m0 1v2m0 1v1m0 1v2m0 1v1m0 1v10m0 1v2m0 1v8m0 1v1m0 1v6m0 1v9m0 1v2m0 1v2m0 1v2m0 2v1m0 1v4m0 3v3m0 1v1m0 1v12m0 1v5m0 3v2m0 3v3m0 1v3m0 3v16m0 2v2m0 1v4m0 1v3m0 1v1m0 1v4m0 1v6m0 1v5m0 2v11m0 3v3m0 2v5m0 3v2m0 2v7m0 1v5m0 1v7m0 1v3m0 1v2m0 1v1m0 2v3m0 1v1m0 2v1m0 2v4m0 1v2m0 3v2m0 1v5m0 1v6m0 2v3m0 1v9m0 1v2m0 1v2m0 1v3m0 2v4m0 3v4m0 1v1m0 1v1m0 2v2m0 1v7m0 1v17m0 1v19m0 1v11m0 1v11m0 1v4m0 1v1m0 1v1m0 1v2m0 1v7m0 1v3m0 1v5m0 1v14m0 2v4m0 1v1m0 1v2m0 2v4m0 2v1m0 1v2m0 1v17m0 2v8m0 1v5m0 2v3M463.06 587v3M593.26 587v3M671.38 245v1m0 35v1m0 99v1M697.42 94v2m0 3v1m0 2v2m0 4v1m0 4v4m0 1v1m0 8v2m0 5v1m0 1v1m0 2v3m0 9v3m0 4v3m0 1v3m0 4v4m0 3v1m0 3v2m0 3v1m0 2v2m0 1v2m0 3v1m0 6v1m0 16v1m0 3v8m0 1v1m0 3v5m0 1v1m0 1v1m0 3v1m0 1v2m0 2v1m0 1v1m0 1v2m0 1v1m0 4v1m0 2v8m0 2v1m0 3v2m0 1v1m0 5v1m0 3v2m0 1v2m0 1v1m0 4v2m0 4v1m0 2v1m0 2v1m0 1v3m0 1v7m0 1v1m0 2v1m0 1v1m0 8v1m0 2v1m0 2v3m0 1v3m0 1v3m0 1v2m0 1v5m0 5v1m0 1v1m0 2v4m0 11v1m0 2v3m0 6v1m0 2v1m0 2v2m0 4v1m0 5v1m0 6v1m0 1v1m0 3v1m0 5v1m0 1v1m0 3v2m0 2v1m0 1v2m0 1v3m0 2v1m0 1v1m0 1v5m0 1v3m0 4v1m0 1v2m0 1v2m0 1v1m0 1v3m0 7v1m0 2v1m0 3v1m0 1v4m0 4v1m0 5v1m0 2v1m0 5v2m0 4v1m0 2v2m0 2v1m0 2v3m0 8v4m0 1v1m0 4v2m0 5v3M723.46 93v1m0 4v1m0 14v1m0 1v2m0 4v1m0 11v1m0 1v1m0 9v1m0 13v2m0 3v1m0 8v1m0 5v2m0 26v1m0 5v2m0 5v2m0 1v3m0 5v1m0 2v1m0 3v1m0 2v1m0 1v1m0 3v1m0 13v1m0 5v1m0 1v1m0 7v1m0 5v2m0 6v1m0 1v1m0 5v1m0 1v2m0 1v2m0 4v1m0 3v1m0 5v1m0 2v1m0 6v1m0 2v1m0 8v1m0 10v1m0 1v2m0 8v1m0 4v2m0 14v2m0 3v1m0 6v1m0 15v1m0 25v2m0 21v1m0 4v1m0 9v1m0 17v3m0 13v1m0 3v2m0 7v1m0 1v1m0 5v1m0 1v1m0 29v1m0 4v1m0 6v1M749.5 94v1m0 6v1m0 18v1m0 7v1m0 9v1m0 19v1m0 1v1m0 4v1m0 19v1m0 1v1m0 6v1m0 1v2m0 2v1m0 13v2m0 12v1m0 1v1m0 9v1m0 9v3m0 4v1m0 9v1m0 11v1m0 12v1m0 5v4m0 5v1m0 2v1m0 5v1m0 4v1m0 6v1m0 5v1m0 16v1m0 5v1m0 19v1m0 5v1m0 4v1m0 4v1m0 2v1m0 8v1m0 31v1m0 8v2m0 3v2m0 16v1m0 5v1m0 3v1m0 8v1m0 7v2m0 1v1m0 2v1m0 6v1m0 15v1m0 29v1m0 2v2m0 5v1m0 2v2m0 1v1m0 5v1M801.58 108v1m0 34v2m0 24v1m0 166v1m0 2v1m0 17v1m0 104v2m0 3v1m0 18v1m0 21v1m0 29v1m0 3v1m0 35v1M879.7 93v2m0 5v1m0 3v1m0 1v1m0 2v1m0 1v2m0 2v3m0 1v1m0 2v1m0 1v2m0 3v4m0 1v1m0 2v3m0 5v1m0 1v3m0 1v1m0 2v5m0 1v1m0 2v1m0 2v1m0 2v6m0 1v3m0 1v5m0 4v1m0 2v1m0 1v2m0 2v1m0 2v1m0 3v4m0 3v1m0 3v2m0 2v4m0 2v2m0 2v2m0 2v2m0 1v1m0 1v1m0 1v3m0 3v1m0 5v1m0 1v1m0 2v2m0 2v1m0 4v3m0 1v2m0 9v2m0 2v2m0 2v1m0 1v7m0 2v2m0 1v1m0 2v2m0 3v1m0 1v1m0 1v2m0 2v3m0 1v2m0 2v2m0 1v1m0 2v4m0 3v1m0 4v1m0 1v4m0 1v1m0 3v2m0 2v2m0 1v1m0 1v3m0 5v3m0 1v3m0 1v1m0 1v1m0 2v3m0 1v2m0 1v1m0 1v1m0 1v1m0 3v5m0 3v1m0 3v3m0 1v1m0 1v17m0 1v2m0 6v2m0 1v2m0 2v2m0 3v1m0 1v10m0 1v1m0 1v4m0 6v1m0 2v2m0 3v2m0 1v4m0 5v3m0 3v2m0 1v1m0 2v1m0 4v2m0 4v1m0 1v1m0 2v2m0 1v2m0 1v1m0 4v2m0 3v3m0 1v2m0 5v3m0 3v1m0 3v1m0 3v3m0 1v3m0 4v1"/>
<path stroke="#a8a" d="M202.66 350v2M254.74 180v2M280.78 104v2M463.06 111v2"/>
<path stroke="#aac" d="M202.66 361v2M280.78 347v2m0 61v1M437.02 352v2M489.1 254v1"/>
<path stroke="#b7a" d="M202.66 426v2m0 80v2M254.74 158v2M280.78 169v3m0 126v2m0 45v1m0 136v1m0 30v1m0 78v1M437.02 463v1M463.06 93v1m0 182v1m0 38v2m0 146v1M489.1 116v2m0 184v2m0 138v3m0 56v2M515.14 262v1M567.22 108v2m0 5v1m0 68v1m0 8v2m0 33v2m0 29v1m0 105v2m0 37v2m0 88v1M775.54 240v1m0 176v2m0 75v1M827.62 141v1m0 50v1m0 40v2m0 3v2m0 128v1m0 202v3M905.74 172v2m0 205v1m0 15v2m0 13v1m0 136v1"/>
<path stroke="#a46" d="M202.66 437v2M254.74 202v2"/>
<path stroke="#bbd" d="M202.66 579v1M280.78 221v2m0 324v1M437.02 323v2M489.1 257v2M567.22 157v1M905.74 273v3m0 35v2"/>
<path stroke="#ebc" d="M202.66 587v3M332.86 590v2M358.9 134v1m0 47v1m0 21v3m0 95v2m0 104v1m0 183v1m0 2v1M384.94 182v1M410.98 125v3M645.34 426v2m0 167v1"/>
<path stroke="#ede" d="M202.66 590v2M254.74 585v2M306.82 590v2M332.86 596v2M358.9 131v2M384.94 410v1M515.14 595v1M567.22 592v1"/>
<path stroke="#c9b" d="M202.66 592v1M280.78 93v1m0 296v1m0 57v2M384.94 123v2m0 26v2m0 16v3m0 118v2m0 46v2m0 10v2m0 33v2m0 21v1M410.98 331v2m0 80v1m0 171v2m0 8v1M489.1 161v2M515.14 148v1m0 15v2m0 16v1m0 2v2m0 117v1m0 189v1m0 6v2M541.18 457v2m0 88v1M567.22 202v2m0 3v1m0 19v1m0 76v1m0 55v1m0 152v1m0 21v1m0 44v3M619.3 520v2M645.34 428v2m0 9v3M671.38 596v2M775.54 110v1m0 14v2m0 106v2m0 9v1m0 18v3m0 54v2m0 93v2m0 4v2m0 87v1M827.62 139v2m0 17v2m0 47v1m0 82v2m0 180v1m0 18v2m0 14v1m0 36v2M905.74 166v1m0 118v2m0 3v2M931.78 546v1"/>
<path stroke="#dbc" d="M202.66 593v2m0 1v2M280.78 404v2m0 3v1M358.9 135v2m0 20v1m0 2v1m0 53v1m0 12v1m0 8v2m0 121v1m0 33v1M384.94 94v1m0 117v2m0 160v3M410.98 172v2m0 134v2m0 10v3M567.22 593v2M593.26 473v1M645.34 527v1M775.54 468v2m0 99v2M905.74 127v1"/>
<path stroke="#b69" d="M228.7 217v3M437.02 550v1M463.06 142v2m0 137v2m0 37v2M489.1 131v2M905.74 146v2"/>
<path stroke="#936" d="M228.7 417v2m0 156v2M254.74 297v1"/>
<path stroke="#97a" d="M228.7 461v2M254.74 164v2m0 50v1M437.02 97v2m0 11v1m0 99v2m0 50v1m0 50v2m0 79v1M463.06 107v1m0 25v1m0 132v2M905.74 142v2m0 19v1m0 158v1"/>
<path stroke="#dce" d="M228.7 587v5m0 4v2M254.74 453v2m0 137v3m0 3v3M280.78 304v1m0 60v2M306.82 95v1m0 2v2m0 2v3m0 1v1m0 1v1m0 4v3m0 4v2m0 2v1m0 3v3m0 3v1m0 2v1m0 2v1m0 12v1m0 4v1m0 3v1m0 1v1m0 1v2m0 2v2m0 3v1m0 1v1m0 6v1m0 3v1m0 3v1m0 1v1m0 1v1m0 4v1m0 1v4m0 4v1m0 1v1m0 1v1m0 4v1m0 3v2m0 3v2m0 3v1m0 5v1m0 6v1m0 2v1m0 2v1m0 2v3m0 5v2m0 4v1m0 5v3m0 1v2m0 3v3m0 2v4m0 9v1m0 4v1m0 4v1m0 1v2m0 1v2m0 2v2m0 2v8m0 1v1m0 1v2m0 1v2m0 6v1m0 1v1m0 1v1m0 2v3m0 2v3m0 2v1m0 1v1m0 12v1m0 2v1m0 4v1m0 5v1m0 2v1m0 1v1m0 1v1m0 3v2m0 10v2m0 1v1m0 3v2m0 1v4m0 2v1m0 1v1m0 1v1m0 11v5m0 1v1m0 4v1m0 2v1m0 5v1m0 5v4m0 1v1m0 1v1m0 1v1m0 1v2m0 2v1m0 2v2m0 3v2m0 1v1m0 2v1m0 3v5m0 2v1m0 3v2m0 3v3m0 1v1m0 2v1m0 2v1m0 2v2m0 3v1m0 2v2m0 1v7m0 1v1m0 1v5m0 6v2m0 1v6m0 1v1m0 1v3m0 8v1M332.86 104v1m0 2v1m0 20v1m0 27v1m0 24v1m0 167v1m0 10v1m0 39v1m0 9v1m0 48v1m0 11v1m0 20v1m0 14v1m0 21v1m0 6v1m0 2v2m0 4v1m0 2v1m0 2v1M358.9 111v2m0 5v2m0 2v1m0 5v3m0 27v2m0 9v3m0 8v2m0 5v2m0 7v2m0 18v1m0 3v1m0 2v3m0 9v1m0 30v2m0 9v1m0 3v4m0 5v2m0 13v1m0 35v4m0 15v1m0 11v2m0 3v2m0 6v2m0 10v4m0 3v2m0 3v1m0 12v1m0 23v2m0 18v1m0 45v1m0 15v1m0 6v1m0 57v2M384.94 108v2m0 31v1m0 21v1m0 208v2m0 10v1M410.98 97v2m0 148v2m0 120v3M463.06 598v3M489.1 596v2M515.14 338v2M541.18 552v2M593.26 117v1m0 64v1m0 19v1m0 43v1m0 11v1m0 43v1m0 9v1m0 18v1m0 15v1m0 1v1m0 31v2m0 13v1m0 7v1m0 67v1m0 74v1M645.34 571v3M697.42 93v1m0 2v3m0 2v1m0 2v2m0 3v4m0 6v8m0 2v4m0 4v2m0 3v1m0 1v1m0 2v1m0 1v1m0 4v3m0 4v1m0 4v1m0 1v1m0 4v3m0 2v1m0 4v2m0 1v1m0 3v1m0 6v1m0 1v1m0 1v1m0 3v6m0 1v3m0 1v1m0 4v3m0 8v1m0 1v2m0 6v1m0 1v1m0 1v3m0 1v1m0 3v1m0 3v1m0 2v1m0 1v4m0 1v2m0 8v2m0 1v3m0 2v1m0 1v2m0 2v1m0 1v3m0 2v1m0 2v1m0 2v2m0 3v1m0 1v2m0 1v2m0 1v2m0 1v1m0 3v1m0 7v1m0 1v2m0 1v1m0 1v1m0 1v6m0 2v1m0 1v2m0 3v1m0 3v1m0 6v1m0 5v3m0 1v1m0 1v1m0 1v2m0 4v3m0 1v5m0 1v1m0 2v1m0 3v4m0 1v1m0 2v1m0 1v2m0 3v3m0 1v4m0 2v1m0 1v4m0 1v1m0 5v3m0 3v1m0 1v3m0 3v1m0 1v1m0 2v1m0 4v1m0 1v1m0 12v2m0 2v1m0 5v1m0 1v1m0 7v1m0 3v1m0 3v2m0 1v1m0 4v1m0 4v1m0 1v3m0 1v1m0 3v1m0 1v2m0 5v1m0 1v1m0 3v2m0 2v1m0 3v1m0 1v2m0 1v1m0 1v1m0 4v1m0 2v3m0 3v3M775.54 183v1m0 207v1m0 135v1m0 5v2M801.58 93v3m0 1v2m0 2v3m0 1v2m0 2v4m0 2v9m0 1v4m0 2v2m0 1v1m0 1v1m0 1v1m0 1v3m0 3v3m0 1v1m0 1v1m0 1v7m0 5v3m0 1v12m0 1v1m0 3v3m0 2v2m0 1v1m0 1v7m0 1v8m0 2v9m0 2v6m0 2v3m0 2v6m0 1v3m0 2v2m0 1v7m0 1v1m0 3v2m0 1v4m0 1v2m0 1v5m0 1v1m0 1v1m0 2v8m0 1v1m0 3v14m0 1v4m0 1v5m0 1v1m0 1v5m0 3v2m0 2v2m0 2v9m0 1v2m0 1v3m0 1v5m0 1v20m0 3v9m0 1v1m0 2v2m0 1v3m0 2v1m0 1v2m0 1v4m0 1v4m0 1v1m0 1v2m0 1v1m0 1v6m0 2v3m0 3v2m0 1v2m0 1v2m0 1v1m0 1v1m0 1v1m0 2v1m0 1v1m0 2v2m0 1v1m0 1v1m0 1v4m0 3v3m0 2v1m0 2v2m0 1v2m0 2v3m0 1v5m0 2v2m0 1v2m0 1v1m0 2v3m0 1v1m0 1v2m0 3v1m0 2v4m0 1v1m0 1v3m0 3v2m0 2v5m0 2v1m0 1v2m0 2v1m0 1v1m0 3v1m0 1v2m0 3v2m0 4v2m0 1v1M827.62 160v1M853.66 133v1m0 36v2m0 74v1m0 7v1m0 36v2m0 5v1m0 37v1m0 46v1m0 33v1m0 74v1m0 20v1M879.7 118v1m0 369v1m0 47v1M931.78 463v1m0 25v1m0 20v1m0 17v1"/>
<path stroke="#dde" d="M228.7 593v2M254.74 596v2M306.82 598v3M358.9 153v3m0 37v2m0 145v1M410.98 146v2M593.26 526v1M775.54 131v2M931.78 538v3"/>
<path stroke="#ecd" d="M228.7 598v3M254.74 590v2M306.82 596v2M332.86 592v1M358.9 217v3m0 137v2M410.98 118v2M515.14 592v1"/>
<path stroke="#b79" d="M254.74 420v1M280.78 175v1m0 9v2m0 70v2m0 82v1m0 135v1m0 6v2m0 83v2M437.02 374v3M463.06 169v3m0 12v1m0 23v2m0 16v1m0 53v1M489.1 97v2m0 137v2m0 17v2m0 117v3M567.22 125v2m0 77v3m0 156v2M775.54 107v1m0 3v2m0 277v1M827.62 157v1m0 3v2m0 15v2m0 34v1m0 100v2m0 14v2m0 148v1m0 38v2M905.74 210v2m0 185v1"/>
<path stroke="#98c" d="M280.78 94v1m0 36v3m0 44v2m0 30v2m0 47v1m0 32v1m0 13v2m0 5v2m0 10v2m0 10v1m0 53v1m0 6v1m0 35v2M437.02 260v2M463.06 141v1m0 32v1m0 61v2m0 22v2m0 30v1m0 105v1m0 107v1M489.1 100v1m0 26v1m0 176v1m0 20v2m0 53v2m0 3v2m0 8v2M567.22 268v2m0 60v1m0 36v1m0 9v3m0 13v1M905.74 215v1m0 38v1"/>
<path stroke="#cbe" d="M280.78 95v2M384.94 121v1m0 28v1m0 262v1M410.98 133v1m0 226v1m0 67v2m0 148v1M489.1 335v2M567.22 399v2M645.34 479v2m0 34v3M775.54 486v1M931.78 432v2m0 21v2"/>
<path stroke="#b8b" d="M280.78 99v1m0 22v1m0 70v2m0 22v3m0 147v1m0 40v1m0 102v2m0 7v2m0 53v3M410.98 455v2m0 69v1M463.06 368v1m0 38v1M489.1 240v1m0 96v1M567.22 137v2m0 75v1m0 68v2m0 99v1m0 7v1m0 4v1M775.54 114v1m0 65v2m0 350v1m0 29v1M827.62 116v2m0 277v2m0 101v1m0 34v2M905.74 93v1m0 120v1"/>
<path stroke="#c78" d="M280.78 114v1m0 120v1m0 2v2m0 15v2m0 33v2m0 28v2m0 137v2M384.94 158v2m0 4v2m0 10v2m0 15v2m0 64v1m0 8v2m0 57v2m0 32v2m0 34v1M410.98 94v1m0 6v3m0 60v2m0 18v1m0 5v2m0 205v1m0 19v2m0 44v1m0 26v1m0 92v1M437.02 482v1M463.06 115v1m0 368v2M489.1 327v2m0 32v2m0 28v1m0 89v1M515.14 99v2m0 10v2m0 160v3m0 54v1m0 196v1m0 7v1m0 47v1M541.18 442v3M567.22 182v1m0 94v1m0 79v2m0 49v1m0 147v1M619.3 459v2m0 11v1m0 96v2M645.34 448v2m0 45v3m0 87v2M671.38 450v3m0 37v1M775.54 342v3m0 201v1M827.62 110v1m0 146v2m0 46v1m0 173v2m0 2v1m0 30v1m0 62v1M905.74 125v2m0 332v2m0 2v1M931.78 421v2m0 139v1m0 5v1"/>
<path stroke="#cac" d="M280.78 123v2m0 35v1M384.94 352v2m0 57v2m0 183v2M410.98 95v2m0 14v2m0 43v1m0 133v2M437.02 484v2M489.1 118v2M515.14 122v1m0 89v2m0 35v1m0 4v1m0 15v3m0 33v2m0 86v4m0 65v1M567.22 131v2m0 457v2M775.54 95v2m0 7v3m0 86v2m0 101v1m0 37v1m0 57v1m0 33v2m0 61v1m0 5v3m0 40v3m0 39v3M827.62 166v1m0 13v2m0 26v2m0 7v3m0 140v3m0 19v2m0 6v1m0 15v1m0 21v2m0 54v2m0 13v2"/>
<path stroke="#dab" d="M280.78 127v1m0 22v1m0 268v1m0 113v2M358.9 106v1m0 3v1m0 26v2m0 102v2m0 14v2m0 56v5m0 17v1m0 36v3m0 7v1m0 9v1M384.94 110v1m0 115v1m0 60v3m0 33v4m0 266v2M410.98 163v1m0 59v3m0 15v2m0 106v1m0 4v3m0 136v1m0 39v2m0 28v2M489.1 330v1m0 63v1M541.18 461v2M593.26 463v1M619.3 544v2M645.34 522v2M671.38 457v2M775.54 160v1M827.62 153v3m0 27v1m0 78v1m0 208v1m0 55v1M905.74 259v1M931.78 479v2m0 12v1m0 35v1"/>
<path stroke="#dac" d="M280.78 142v2m0 106v3m0 7v2M358.9 233v2m0 43v2m0 121v3M384.94 114v1m0 20v2m0 183v2M410.98 180v2m0 94v1m0 4v2m0 58v1m0 15v2M437.02 585v2M515.14 593v2M541.18 421v2m0 123v1m0 45v1M671.38 585v2M827.62 216v1m0 363v3M931.78 442v6m0 42v1m0 27v2m0 64v1"/>
<path stroke="#d9a" d="M280.78 151v2m0 174v2m0 174v1M358.9 125v2m0 21v1m0 29v2m0 32v2m0 7v2m0 15v3m0 2v1m0 5v1m0 42v1m0 32v2m0 4v2m0 30v2m0 2v2m0 26v2m0 188v2M384.94 134v1m0 55v2m0 35v3m0 48v2m0 26v2m0 21v1m0 37v1M410.98 99v1m0 31v2m0 18v2m0 29v1m0 27v2m0 4v1m0 14v2m0 35v2m0 30v2m0 35v1m0 140v1m0 20v2m0 17v2m0 18v3m0 33v1m0 15v2M463.06 474v2m0 7v1M489.1 340v1M515.14 387v2m0 75v4m0 35v1m0 29v2M541.18 423v3m0 101v1m0 37v3M567.22 337v1M593.26 493v1m0 28v2M619.3 423v3m0 6v2m0 102v2m0 36v1m0 4v1M645.34 483v3m0 77v2M671.38 455v2M775.54 352v2m0 133v2m0 54v1M827.62 120v1m0 199v2m0 28v2m0 2v3m0 6v2m0 94v2m0 13v2m0 35v2M905.74 365v2M931.78 414v1m0 126v2m0 14v3m0 17v1m0 5v1"/>
<path stroke="#b57" d="M280.78 153v3m0 112v2m0 65v2m0 35v2M410.98 220v1M437.02 160v1m0 15v2m0 118v1m0 102v2m0 27v2m0 74v2M463.06 153v3m0 54v2m0 23v1m0 302v3M489.1 293v3m0 24v2m0 20v3m0 23v1M567.22 473v1M905.74 158v2m0 146v4"/>
<path stroke="#c56" d="M280.78 156v1m0 236v1m0 104v1M463.06 476v1m0 45v2m0 56v3M567.22 305v1m0 29v2m0 57v1m0 42v2m0 87v1m0 19v1m0 10v3M827.62 93v1m0 14v2m0 23v1m0 101v1m0 144v2M905.74 529v1"/>
<path stroke="#b9b" d="M280.78 180v2m0 359v2m0 36v1M437.02 139v2M463.06 365v2m0 25v1M489.1 107v1M567.22 166v1m0 56v3m0 195v2M775.54 196v2m0 132v1m0 182v1m0 63v1M827.62 94v1m0 369v2m0 72v3m0 13v2M905.74 100v1"/>
<path stroke="#c79" d="M280.78 198v2m0 73v3m0 125v3m0 9v1m0 112v1m0 60v3M384.94 297v1M410.98 93v1m0 134v2m0 116v1m0 156v1M437.02 368v1M463.06 459v2M489.1 233v2m0 6v2m0 328v3M515.14 104v2m0 57v1m0 26v2m0 240v2M567.22 95v2m0 86v1m0 96v1m0 304v2M775.54 93v1m0 34v3m0 27v2m0 24v1m0 45v3m0 57v2m0 48v1m0 19v1m0 11v2M827.62 100v1m0 154v2m0 9v2m0 124v1m0 41v2m0 17v2m0 6v2m0 67v2m0 16v2m0 10v2m0 17v1M905.74 135v2m0 103v1m0 254v3"/>
<path stroke="#b8a" d="M280.78 200v2M410.98 515v3M437.02 223v3M463.06 94v1m0 11v1m0 9v2m0 2v1m0 175v1m0 41v2M489.1 322v1m0 116v3M515.14 144v2m0 107v1m0 103v2M567.22 118v2m0 2v1m0 262v2M775.54 121v2m0 89v2m0 66v1m0 12v3m0 14v1m0 78v1m0 46v1m0 13v3M827.62 104v3m0 20v1m0 46v2m0 9v2m0 3v2m0 8v2m0 21v3m0 2v2m0 47v1m0 28v2m0 27v2m0 15v2m0 76v2m0 44v1m0 26v1M905.74 198v2"/>
<path stroke="#c9a" d="M280.78 216v1M358.9 250v3M437.02 172v2M463.06 323v2m0 10v2M489.1 122v1m0 12v2m0 377v1M905.74 244v1M931.78 426v2m0 8v1"/>
<path stroke="#98d" d="M280.78 228v2m0 47v1m0 216v1M489.1 192v1m0 14v1m0 72v1m0 25v4M567.22 342v3m0 44v2"/>
<path stroke="#b78" d="M280.78 230v1M489.1 238v2M567.22 220v1m0 92v2m0 233v2M827.62 302v2"/>
<path stroke="#c8a" d="M280.78 233v2m0 27v1m0 119v2m0 22v1m0 16v3m0 11v2m0 40v2m0 14v3m0 12v1m0 87v3M358.9 99v1M384.94 184v1m0 7v1m0 48v2m0 10v1m0 3v2m0 7v2m0 32v2m0 47v1M410.98 141v1m0 120v1m0 22v2m0 19v2m0 81v1m0 3v1m0 142v2M437.02 100v1m0 468v2m0 19v2M463.06 157v1m0 99v2m0 38v1m0 175v1m0 19v1M489.1 193v2M515.14 127v1m0 39v2m0 240v1M567.22 93v1m0 33v1m0 7v2m0 26v3m0 29v1m0 14v2m0 140v2M619.3 514v1m0 35v1M671.38 423v3m0 51v1m0 40v2m0 73v2M775.54 148v1m0 18v2m0 20v1m0 110v2m0 11v2m0 30v1m0 17v4m0 31v1m0 84v1M827.62 134v1m0 28v1m0 25v1m0 36v1m0 20v2m0 21v3m0 3v1m0 45v3m0 12v1m0 8v1m0 60v1m0 18v2m0 82v1m0 30v2M905.74 578v1"/>
<path stroke="#d8a" d="M280.78 241v2m0 240v1M384.94 149v1m0 185v2m0 56v1m0 193v3M410.98 217v3m0 1v2m0 75v2m0 27v3m0 222v2M463.06 254v1M515.14 215v1M567.22 254v1m0 288v1M619.3 448v2m0 43v1m0 69v2M671.38 524v2M775.54 394v1"/>
<path stroke="#c57" d="M280.78 245v2m0 122v3M463.06 253v1m0 257v2M489.1 190v2M905.74 536v2"/>
<path stroke="#cab" d="M280.78 280v1M463.06 190v2M489.1 153v3M905.74 226v1"/>
<path stroke="#c89" d="M280.78 349v1M384.94 330v1M410.98 483v1M437.02 216v1m0 260v1M463.06 150v1m0 126v1m0 44v1M515.14 487v2M567.22 174v1m0 171v1m0 98v3M619.3 457v2M775.54 335v2m0 45v2M905.74 350v2"/>
<path stroke="#b67" d="M280.78 363v2m0 124v1M437.02 93v1M463.06 528v1M567.22 270v3m0 109v2m0 90v2M905.74 494v1"/>
<path stroke="#cbd" d="M280.78 414v1M384.94 142v2m0 22v1m0 35v2m0 27v2m0 113v1m0 57v2M410.98 160v1m0 179v1M515.14 290v2M541.18 490v1M567.22 110v1m0 197v2m0 174v2m0 112v3M775.54 217v3m0 184v2m0 13v1m0 33v2M827.62 215v1m0 288v3"/>
<path stroke="#a9d" d="M280.78 504v2m0 2v2m0 86v2M489.1 357v2m0 6v2M567.22 226v1m0 28v2m0 102v1M775.54 161v2m0 35v2m0 83v2m0 40v2M827.62 131v2m0 9v2m0 143v3m0 121v2m0 24v2m0 136v2"/>
<path stroke="#d68" d="M280.78 515v3M515.14 439v3m0 41v1M775.54 411v2"/>
<path stroke="#dbd" d="M280.78 551v1M358.9 189v1M384.94 195v1m0 8v3m0 8v1M410.98 189v1m0 6v2m0 65v3m0 116v2m0 61v3m0 34v1m0 31v1m0 17v1M515.14 233v2m0 5v1m0 118v1M593.26 476v1M619.3 474v2M775.54 297v1m0 33v2m0 151v2m0 68v2M827.62 195v1m0 6v2m0 55v1M931.78 428v2m0 53v1m0 68v2"/>
<path stroke="#bbe" d="M306.82 97v1M332.86 354v1M358.9 420v1m0 13v1m0 26v1m0 12v2m0 15v1m0 30v1m0 1v1m0 43v1m0 8v2M384.94 93v1m0 12v2m0 5v1m0 11v9m0 5v2m0 7v1m0 12v2m0 4v2m0 5v1m0 3v2m0 3v1m0 1v2m0 13v2m0 6v2m0 7v4m0 9v1m0 9v1m0 2v1m0 5v1m0 4v3m0 20v1m0 7v2m0 9v1m0 1v2m0 2v2m0 4v2m0 1v4m0 7v1m0 8v2m0 4v1m0 2v1m0 27v4m0 5v2m0 16v2m0 9v2m0 1v1m0 6v2m0 1v8m0 1v2m0 1v2m0 2v8m0 5v1m0 6v1m0 1v1m0 1v3m0 2v6m0 1v2m0 1v1m0 1v1m0 1v1m0 1v2m0 1v2m0 1v2m0 1v2m0 2v2m0 1v3m0 3v1m0 2v7m0 2v5m0 2v1m0 2v1m0 2v2m0 1v2m0 1v1m0 1v2m0 1v1m0 2v3m0 4v3m0 1v1m0 1v1m0 5v1m0 4v3m0 2v1m0 3v1m0 1v1m0 1v5m0 2v2m0 3v2M410.98 104v4m0 6v1m0 1v2m0 3v1m0 1v2m0 25v1m0 6v1m0 8v1m0 26v2m0 9v6m0 4v1m0 12v1m0 10v2m0 3v2m0 9v1m0 2v3m0 6v2m0 9v3m0 12v1m0 3v1m0 14v4m0 10v2m0 7v1m0 3v2m0 19v1m0 8v1m0 5v3m0 7v1m0 6v1m0 2v3m0 2v2m0 7v1m0 1v1m0 10v2m0 45v2m0 3v1m0 21v3m0 3v2m0 1v2m0 7v1m0 10v2m0 25v1m0 5v3m0 5v3m0 7v2m0 21v3M463.06 590v2M489.1 210v2m0 61v3m0 2v2m0 313v2M515.14 110v1m0 4v1m0 2v3m0 7v3m0 25v2m0 14v3m0 1v4m0 3v2m0 7v1m0 3v2m0 19v3m0 11v2m0 2v1m0 5v2m0 2v2m0 12v1m0 18v3m0 11v1m0 18v4m0 2v3m0 2v1m0 6v1m0 3v1m0 7v1m0 5v2m0 11v3m0 4v1m0 21v2m0 2v1m0 14v1m0 1v1m0 2v1m0 45v2m0 87v2m0 15v4m0 8v1M541.18 93v1m0 1v2m0 2v10m0 1v1m0 2v3m0 1v2m0 2v3m0 1v3m0 1v2m0 1v4m0 1v4m0 2v1m0 1v4m0 1v8m0 1v3m0 1v3m0 1v6m0 3v5m0 1v11m0 1v1m0 1v1m0 1v4m0 1v1m0 1v10m0 1v2m0 3v5m0 1v3m0 1v8m0 1v1m0 1v2m0 1v10m0 4v1m0 1v12m0 1v6m0 1v3m0 1v1m0 2v5m0 1v8m0 3v3m0 1v5m0 1v3m0 2v1m0 1v1m0 1v3m0 1v1m0 2v1m0 2v2m0 1v2m0 2v4m0 1v3m0 1v1m0 1v1m0 1v4m0 1v3m0 3v13m0 1v1m0 1v1m0 1v6m0 1v3m0 1v7m0 1v9m0 1v2m0 67v1m0 19v2m0 21v2M567.22 215v1M593.26 110v1m0 1v1m0 38v1m0 2v2m0 4v1m0 27v1m0 12v1m0 9v1m0 44v1m0 7v2m0 51v1m0 7v2m0 53v1m0 27v1m0 3v1M619.3 93v1m0 1v1m0 4v6m0 2v1m0 2v4m0 2v1m0 1v1m0 1v8m0 3v2m0 3v1m0 1v5m0 1v4m0 2v1m0 1v5m0 1v1m0 1v1m0 3v1m0 1v1m0 4v7m0 1v2m0 1v2m0 1v2m0 3v1m0 1v11m0 1v4m0 1v4m0 2v5m0 1v2m0 2v3m0 1v1m0 1v1m0 1v1m0 3v4m0 1v10m0 2v2m0 3v4m0 2v3m0 1v1m0 2v7m0 2v1m0 1v4m0 4v2m0 2v9m0 1v2m0 1v1m0 2v1m0 2v5m0 1v4m0 1v1m0 2v2m0 1v2m0 2v2m0 1v2m0 1v3m0 1v4m0 1v4m0 2v1m0 1v2m0 1v2m0 1v4m0 1v2m0 1v1m0 3v1m0 2v3m0 1v8m0 1v6m0 1v4m0 1v7m0 1v1m0 12v2m0 55v1m0 23v1m0 44v2M645.34 95v1m0 2v3m0 1v2m0 2v1m0 3v1m0 3v2m0 4v2m0 9v1m0 2v3m0 1v11m0 1v1m0 7v5m0 3v6m0 1v2m0 2v1m0 4v1m0 2v1m0 1v1m0 1v1m0 5v1m0 3v1m0 2v1m0 2v4m0 2v2m0 7v3m0 1v2m0 1v1m0 3v2m0 1v2m0 4v1m0 2v2m0 3v1m0 2v3m0 2v1m0 2v1m0 2v4m0 2v2m0 1v3m0 4v1m0 2v1m0 2v1m0 1v1m0 6v9m0 1v2m0 3v2m0 2v2m0 2v2m0 2v3m0 2v4m0 3v1m0 2v1m0 1v1m0 3v4m0 3v1m0 2v1m0 3v3m0 2v3m0 4v1m0 2v3m0 2v2m0 6v2m0 1v1m0 3v1m0 1v1m0 1v3m0 1v1m0 1v1m0 1v2m0 2v2m0 2v1m0 2v1m0 143v3M671.38 94v2m0 1v2m0 2v13m0 2v2m0 1v10m0 3v2m0 1v4m0 2v1m0 1v4m0 1v1m0 2v6m0 4v4m0 2v6m0 1v5m0 1v15m0 2v7m0 1v3m0 1v5m0 1v2m0 1v8m0 1v6m0 1v2m0 1v7m0 2v5m0 2v3m0 1v2m0 1v1m0 2v4m0 1v1m0 1v4m0 2v3m0 3v2m0 1v3m0 2v1m0 1v1m0 1v4m0 1v3m0 1v2m0 1v14m0 1v3m0 2v1m0 1v2m0 2v4m0 3v4m0 4v2m0 1v3m0 2v5m0 1v1m0 2v3m0 1v2m0 2v9m0 2v4m0 1v13m0 1v2m0 1v3m0 1v5m0 18v2m0 143v1M775.54 149v1M827.62 569v2M853.66 117v1m0 4v1m0 19v1m0 23v1m0 48v1m0 17v1m0 1v1m0 74v1m0 11v1m0 22v1m0 6v1m0 70v1m0 2v1m0 31v1m0 82v1m0 30v2m0 4v1M931.78 93v1m0 3v1m0 3v3m0 1v1m0 1v2m0 3v1m0 1v2m0 3v1m0 5v3m0 5v2m0 2v1m0 4v2m0 1v2m0 9v3m0 1v1m0 2v1m0 5v1m0 2v1m0 6v2m0 5v1m0 2v1m0 1v1m0 1v3m0 3v1m0 2v2m0 6v2m0 1v2m0 1v1m0 3v1m0 5v2m0 1v3m0 9v1m0 5v2m0 2v2m0 1v1m0 2v1m0 1v1m0 1v2m0 1v3m0 9v1m0 3v1m0 1v1m0 1v1m0 6v1m0 2v3m0 2v2m0 2v1m0 3v1m0 1v1m0 5v2m0 1v2m0 6v2m0 1v1m0 2v1m0 1v2m0 2v1m0 4v2m0 1v1m0 2v1m0 3v1m0 1v2m0 5v1m0 6v3m0 2v1m0 3v1m0 4v1m0 1v1m0 2v1m0 1v1m0 2v2m0 2v1m0 1v2m0 5v1m0 1v1m0 1v1m0 2v1m0 122v2"/>
<path stroke="#fba" d="M306.82 587v3M775.54 215v1M931.78 580v3"/>
<path stroke="#edd" d="M332.86 585v2m0 11v3"/>
<path stroke="#eee" d="M332.86 595v1"/>
<path stroke="#eab" d="M358.9 113v1m0 50v2M384.94 118v2m0 113v2M410.98 198v2M515.14 590v2M593.26 506v1M671.38 508v2M931.78 472v1m0 42v3"/>
<path stroke="#d78" d="M358.9 114v1m0 70v2m0 113v2m0 2v1m0 56v2m0 26v1m0 20v1M384.94 160v1m0 46v1m0 96v1M410.98 100v1m0 41v2m0 173v3m0 15v2m0 111v2m0 29v2m0 48v1m0 47v1m0 18v2M515.14 308v2m0 107v2m0 15v2m0 41v1m0 93v3M541.18 494v1m0 12v1m0 20v1m0 28v3M593.26 417v2m0 49v2m0 54v2m0 3v1m0 3v2m0 8v1m0 10v2m0 28v1M619.3 481v1m0 86v1M645.34 430v2m0 18v3m0 17v1m0 27v1m0 39v3m0 7v2M671.38 421v2m0 175v3M775.54 259v1m0 182v3m0 27v1m0 55v1m0 54v1M827.62 122v1m0 46v3m0 173v1m0 48v1m0 129v2m0 31v3M931.78 420v1m0 40v2m0 5v2m0 1v1m0 41v1m0 29v1m0 4v2m0 21v3"/>
<path stroke="#d77" d="M358.9 115v1m0 50v1m0 80v2m0 21v3M384.94 153v3m0 224v2M410.98 280v1M593.26 419v1m0 58v1M775.54 490v1M931.78 563v2"/>
<path stroke="#d9b" d="M358.9 172v2m0 1v1m0 31v1M384.94 104v2m0 117v3m0 91v3m0 39v1m0 22v2M410.98 148v1m0 25v1m0 3v2m0 192v2m0 96v1m0 116v3M489.1 595v1M567.22 587v3M593.26 590v2M619.3 513v1M645.34 596v2M931.78 450v3m0 28v1m0 25v3m0 37v1m0 17v3"/>
<path stroke="#e9a" d="M358.9 174v1m0 171v1m0 243v2M541.18 595v1M593.26 453v2m0 125v3M645.34 501v2m0 17v2"/>
<path stroke="#d88" d="M358.9 215v1m0 28v1m0 351v2M410.98 134v1m0 2v2M463.06 160v1M593.26 530v2"/>
<path stroke="#dcd" d="M358.9 253v1M384.94 216v1m0 64v2M410.98 175v1m0 64v1M827.62 501v2"/>
<path stroke="#d67" d="M358.9 285v2m0 92v1M384.94 389v1m0 4v1m0 4v2M410.98 437v2m0 123v1M515.14 95v2m0 153v3m0 161v1m0 71v1m0 6v1m0 36v2m0 53v2M541.18 420v1m0 42v1m0 18v1m0 30v1m0 1v3m0 11v1M593.26 548v2m0 2v2m0 14v1M619.3 484v2m0 9v3m0 12v1m0 4v3M645.34 442v3m0 42v2m0 19v2m0 33v1m0 3v1m0 26v1M671.38 478v1m0 101v3m0 9v1M775.54 134v1m0 212v2m0 81v2m0 23v2m0 19v1m0 102v1M827.62 111v2m0 80v2m0 204v2"/>
<path stroke="#c9c" d="M384.94 137v2m0 48v2M410.98 149v1m0 237v2m0 53v3m0 134v1M515.14 123v2m0 220v1m0 39v2M775.54 164v2m0 24v2m0 35v1m0 140v1m0 88v2M827.62 313v2m0 25v1m0 44v2m0 99v1"/>
<path stroke="#d66" d="M384.94 235v1m0 11v2m0 141v1M515.14 536v2"/>
<path stroke="#bae" d="M384.94 357v2M410.98 305v1m0 9v2m0 81v1m0 27v2m0 8v1m0 16v2m0 9v2m0 8v2m0 5v1m0 9v2m0 1v1m0 13v3m0 9v2m0 19v2m0 1v2M515.14 107v1m0 8v2m0 13v4m0 2v4m0 8v1m0 11v2m0 17v2m0 5v2m0 4v3m0 4v4m0 10v1m0 21v2m0 22v2m0 1v3m0 15v4m0 2v3m0 3v5m0 2v2m0 8v1m0 4v2m0 3v2m0 5v2m0 2v2m0 9v3m0 1v1m0 2v8m0 8v2m0 2v3m0 7v1m0 4v1m0 6v1m0 9v3m0 2v2M775.54 94v1m0 5v1m0 40v1m0 74v1m0 196v1M827.62 121v1m0 247v3m0 96v2"/>
<path stroke="#c8b" d="M410.98 385v2m0 28v2m0 137v2M515.14 334v1M541.18 470v1"/>
<path stroke="#fcb" d="M410.98 411v2"/>
<path stroke="#aae" d="M410.98 432v2m0 25v2m0 37v1m0 8v1m0 14v2M515.14 93v2m0 13v2m0 3v1m0 11v2m0 8v2m0 4v1m0 8v1m0 9v1m0 37v2m0 10v2m0 4v1m0 6v3m0 2v3m0 7v2m0 7v2m0 56v1m0 62v1m0 11v2m0 16v3m0 3v2M775.54 146v2m0 88v2m0 7v2m0 29v1m0 50v2M827.62 114v1m0 22v2m0 250v1m0 18v1m0 119v1"/>
<path stroke="#d99" d="M410.98 450v3M541.18 484v2M593.26 538v3M671.38 513v1"/>
<path stroke="#daa" d="M410.98 472v1"/>
<path stroke="#c68" d="M410.98 489v1m0 38v1m0 1v2M437.02 127v1M463.06 352v2m0 160v1M489.1 198v2M515.14 221v2m0 75v2M567.22 448v2m0 97v1M775.54 235v1M827.62 391v1m0 186v1M905.74 118v2m0 69v1"/>
<path stroke="#cad" d="M410.98 568v1M775.54 139v2M827.62 280v1m0 189v1"/>
<path stroke="#98b" d="M437.02 113v1m0 23v2m0 167v2"/>
<path stroke="#959" d="M437.02 135v2"/>
<path stroke="#858" d="M437.02 142v2m0 56v2m0 103v1m0 89v2"/>
<path stroke="#87c" d="M437.02 169v3M463.06 149v1m0 1v2m0 13v1m0 15v1m0 95v2m0 53v1m0 13v2m0 31v2m0 9v1M489.1 157v1m0 118v1m0 46v2m0 72v1M905.74 106v1m0 75v1m0 17v4m0 24v2m0 25v2m0 9v2m0 12v1m0 24v1m0 28v3m0 35v2m0 20v1"/>
<path stroke="#97b" d="M437.02 180v2m0 22v3m0 20v1M905.74 331v2"/>
<path stroke="#b45" d="M437.02 184v1m0 51v2M489.1 515v3M905.74 445v3"/>
<path stroke="#859" d="M437.02 185v2"/>
<path stroke="#b56" d="M437.02 254v1m0 151v1M463.06 331v2M489.1 202v2m0 16v1M905.74 116v2m0 321v3"/>
<path stroke="#96a" d="M437.02 297v1m0 63v2"/>
<path stroke="#869" d="M437.02 335v2"/>
<path stroke="#e98" d="M463.06 593v2M671.38 514v1M905.74 478v1"/>
<path stroke="#b89" d="M489.1 560v2"/>
<path stroke="#d56" d="M515.14 504v2M619.3 421v2M645.34 556v1"/>
<path stroke="#c45" d="M567.22 463v1M905.74 247v2"/>
<path stroke="#d43" d="M593.26 499v2M645.34 560v2"/>
<path stroke="#a6a" d="M905.74 164v2m0 72v2m0 38v2m0 49v1"/>
</g></g>
<line x1="163.6" x2="944.8" y1="414.4" y2="414.4" stroke="#101020" stroke-width="0.9" opacity="0.9"/>
<line x1="163.6" x2="944.8" y1="584.6" y2="584.6" stroke="#101020" stroke-width="0.9" opacity="0.9"/>
<rect x="164.1" y="95.3" width="780.2" height="503.5" fill="none" stroke="#000" stroke-width="1.8"/>
<rect x="143.5" y="95.3" width="17" height="319.1" fill="#F07E00"/>
<text transform="translate(133 261.85) scale(1.045 1)" font-size="23.1" text-anchor="end">TS2</text>
<rect x="143.5" y="414.4" width="17" height="170.2" fill="#2E79B5"/>
<text transform="translate(133 506.5) scale(1.045 1)" font-size="23.1" text-anchor="end">TS1</text>
<rect x="143.5" y="584.6" width="17" height="14.2" fill="#2BA160"/>
<text transform="translate(133 598.7) scale(1.045 1)" font-size="23.1" text-anchor="end">TS3</text>
<path d="M168.8 89V82.3H418.8V89" fill="none" stroke="#000" stroke-width="1.5"/>
<text transform="translate(294.1 34.5) scale(1.04 1)" font-size="23.1" text-anchor="middle">TS2</text>
<text transform="translate(294.1 63.5) scale(1.04 1)" font-size="23.1" text-anchor="middle">CD4 T cells</text>
<path d="M429.2 89V82.3H679.2V89" fill="none" stroke="#000" stroke-width="1.5"/>
<text transform="translate(566 34.5) scale(1.04 1)" font-size="23.1" text-anchor="middle">TS1</text>
<text transform="translate(566 63.5) scale(1.04 1)" font-size="23.1" text-anchor="middle">CD8 T cells</text>
<path d="M689.6 89V82.3H939.6V89" fill="none" stroke="#000" stroke-width="1.5"/>
<text transform="translate(819 34.5) scale(1.04 1)" font-size="23.1" text-anchor="middle">TS3</text>
<text transform="translate(819 63.5) scale(1.04 1)" font-size="23.1" text-anchor="middle">Proliferating T cells</text>
<text transform="translate(182.22 609.7) rotate(-90) scale(0.976 1)" font-size="20" text-anchor="end">LTB</text>
<text transform="translate(208.26 609.7) rotate(-90) scale(0.976 1)" font-size="20" text-anchor="end">NBEAL1</text>
<text transform="translate(234.3 609.7) rotate(-90) scale(0.976 1)" font-size="20" text-anchor="end">AC090498.1</text>
<text transform="translate(260.34 609.7) rotate(-90) scale(0.976 1)" font-size="20" text-anchor="end">RPL17</text>
<text transform="translate(286.38 609.7) rotate(-90) scale(0.976 1)" font-size="20" text-anchor="end">IL7R</text>
<text transform="translate(312.42 609.7) rotate(-90) scale(0.976 1)" font-size="20" text-anchor="end">RCAN3</text>
<text transform="translate(338.46 609.7) rotate(-90) scale(0.976 1)" font-size="20" text-anchor="end">CCR7</text>
<text transform="translate(364.5 609.7) rotate(-90) scale(0.976 1)" font-size="20" text-anchor="end">GPR183</text>
<text transform="translate(390.54 609.7) rotate(-90) scale(0.976 1)" font-size="20" text-anchor="end">ZNF90</text>
<text transform="translate(416.58 609.7) rotate(-90) scale(0.976 1)" font-size="20" text-anchor="end">C1orf56</text>
<text transform="translate(442.62 609.7) rotate(-90) scale(0.976 1)" font-size="20" text-anchor="end">CCL5</text>
<text transform="translate(468.66 609.7) rotate(-90) scale(0.976 1)" font-size="20" text-anchor="end">CST7</text>
<text transform="translate(494.7 609.7) rotate(-90) scale(0.976 1)" font-size="20" text-anchor="end">GZMA</text>
<text transform="translate(520.74 609.7) rotate(-90) scale(0.976 1)" font-size="20" text-anchor="end">GZMH</text>
<text transform="translate(546.78 609.7) rotate(-90) scale(0.976 1)" font-size="20" text-anchor="end">KLRD1</text>
<text transform="translate(572.82 609.7) rotate(-90) scale(0.976 1)" font-size="20" text-anchor="end">CTSW</text>
<text transform="translate(598.86 609.7) rotate(-90) scale(0.976 1)" font-size="20" text-anchor="end">CCL4</text>
<text transform="translate(624.9 609.7) rotate(-90) scale(0.976 1)" font-size="20" text-anchor="end">GZMB</text>
<text transform="translate(650.94 609.7) rotate(-90) scale(0.976 1)" font-size="20" text-anchor="end">FGFBP2</text>
<text transform="translate(676.98 609.7) rotate(-90) scale(0.976 1)" font-size="20" text-anchor="end">PRF1</text>
<text transform="translate(703.02 609.7) rotate(-90) scale(0.976 1)" font-size="20" text-anchor="end">STMN1</text>
<text transform="translate(729.06 609.7) rotate(-90) scale(0.976 1)" font-size="20" text-anchor="end">KIAA0101</text>
<text transform="translate(755.1 609.7) rotate(-90) scale(0.976 1)" font-size="20" text-anchor="end">FABP5</text>
<text transform="translate(781.14 609.7) rotate(-90) scale(0.976 1)" font-size="20" text-anchor="end">C12orf75</text>
<text transform="translate(807.18 609.7) rotate(-90) scale(0.976 1)" font-size="20" text-anchor="end">HIST1H4C</text>
<text transform="translate(833.22 609.7) rotate(-90) scale(0.976 1)" font-size="20" text-anchor="end">TXN</text>
<text transform="translate(859.26 609.7) rotate(-90) scale(0.976 1)" font-size="20" text-anchor="end">YWHAE</text>
<text transform="translate(885.3 609.7) rotate(-90) scale(0.976 1)" font-size="20" text-anchor="end">CKS2</text>
<text transform="translate(911.34 609.7) rotate(-90) scale(0.976 1)" font-size="20" text-anchor="end">GZMA</text>
<text transform="translate(937.38 609.7) rotate(-90) scale(0.976 1)" font-size="20" text-anchor="end">NUCKS1</text>
<path d="M176.62 599.7v5.6M202.66 599.7v5.6M228.7 599.7v5.6M254.74 599.7v5.6M280.78 599.7v5.6M306.82 599.7v5.6M332.86 599.7v5.6M358.9 599.7v5.6M384.94 599.7v5.6M410.98 599.7v5.6M437.02 599.7v5.6M463.06 599.7v5.6M489.1 599.7v5.6M515.14 599.7v5.6M541.18 599.7v5.6M567.22 599.7v5.6M593.26 599.7v5.6M619.3 599.7v5.6M645.34 599.7v5.6M671.38 599.7v5.6M697.42 599.7v5.6M723.46 599.7v5.6M749.5 599.7v5.6M775.54 599.7v5.6M801.58 599.7v5.6M827.62 599.7v5.6M853.66 599.7v5.6M879.7 599.7v5.6M905.74 599.7v5.6M931.78 599.7v5.6" fill="none" stroke="#000" stroke-width="1.4"/>
<path d="M950.8 499.5H994.6V592.1H950.8M950.8 254.8H1030.3V545.8H994.6" fill="none" stroke="#000" stroke-width="1.6" stroke-linejoin="miter"/>
<text x="0" y="34.8" font-size="47" font-weight="bold" fill="#000">a</text>
<!-- panel b -->
<defs><clipPath id="cpb"><rect x="1258.8" y="102.2" width="780" height="503.7"/></clipPath><filter id="blb" filterUnits="userSpaceOnUse" x="1250.8" y="94" width="796" height="520" color-interpolation-filters="sRGB"><feGaussianBlur in="SourceGraphic" stdDeviation="0.35 0.5" result="S"/><feColorMatrix in="S" values=".299 .587 .114 0 0 .299 .587 .114 0 0 .299 .587 .114 0 0 0 0 0 1 0" result="L"/><feGaussianBlur in="SourceGraphic" stdDeviation="0.9 1.3"/><feColorMatrix values=".3505 -.2935 -.057 0 .5 -.1495 .2065 -.057 0 .5 -.1495 -.2935 .443 0 .5 0 0 0 1 0"/><feComposite in2="L" operator="arithmetic" k1="0" k2="2" k3="1" k4="-1"/></filter></defs>
<g clip-path="url(#cpb)"><g filter="url(#blb)" fill="none" stroke-width="26" shape-rendering="crispEdges">
<rect x="1252.8" y="96" width="792" height="516" fill="#d8d4ee"/>
<path stroke="#e66" d="M1271.8 100v3m0 26v3m0 80v2m0 25v2m0 11v2m0 7v2m0 17v2m0 24v1m0 8v2m0 7v2m0 19v1m0 14v1m0 2v2m0 5v1m0 46v3M1297.8 181v1m0 2v1m0 54v4m0 60v2m0 73v1m0 15v2m0 18v1M1323.8 123v2m0 26v4m0 17v2m0 10v3m0 9v1m0 54v1m0 38v1m0 2v1m0 18v3m0 7v1m0 54v1m0 29v1m0 4v1m0 11v1m0 3v1m0 79v2m0 44v1m0 16v3M1349.8 162v4m0 21v2m0 20v1m0 13v2m0 14v2m0 34v2m0 5v1m0 4v3m0 58v4m0 10v1m0 42v1m0 143v1m0 49v1M1375.8 112v3m0 32v4m0 61v2m0 84v3m0 21v1m0 19v3m0 79v1M1401.8 100v3m0 71v2m0 40v2m0 10v2m0 1v1m0 25v2m0 18v1m0 12v1m0 39v2m0 8v2m0 6v1m0 78v1m0 34v2m0 64v1m0 8v1M1427.8 128v1m0 12v2m0 57v1m0 49v1m0 34v2m0 30v2m0 25v1m0 4v3m0 17v1m0 42v1m0 15v1m0 102v2m0 60v1M1453.8 238v1m0 27v1m0 7v1m0 38v2m0 139v1M1479.8 257v2m0 31v1m0 16v4m0 19v2m0 123v1m0 12v1m0 38v1m0 34v1m0 26v1m0 26v2m0 6v2M1505.8 123v2m0 10v4m0 38v1m0 11v1m0 24v2m0 27v1m0 54v3m0 16v2m0 157v1m0 36v2m0 67v2m0 4v1M1531.8 151v1m0 27v2m0 83v1m0 26v1m0 21v2m0 97v1m0 37v5m0 17v1m0 32v1m0 5v2m0 86v1M1557.8 162v1m0 23v1m0 242v3m0 8v2m0 30v1m0 3v3m0 65v2m0 20v2m0 10v2m0 2v2m0 4v1m0 17v2M1583.8 112v1m0 3v1m0 125v1m0 16v1m0 37v1m0 66v1m0 24v1m0 32v1m0 10v1m0 6v2m0 48v2m0 30v2M1609.8 135v1m0 10v1m0 6v1m0 44v2m0 69v1m0 11v1m0 12v1m0 16v1m0 120v1m0 7v2m0 1v1m0 13v1m0 80v3M1635.8 124v1m0 43v1m0 39v1m0 190v1m0 33v1m0 28v2m0 3v1m0 18v1m0 35v5m0 34v1m0 18v1M1661.8 190v1m0 17v1m0 57v1m0 91v1m0 73v1m0 69v1m0 28v2m0 60v1m0 6v1M1687.8 162v1m0 34v1m0 23v1m0 102v1m0 7v1m0 16v1m0 12v2m0 33v1m0 64v3m0 12v2m0 16v1m0 56v2M1713.8 185v2m0 22v1m0 13v2m0 68v1m0 27v1m0 98v1m0 13v2m0 29v2m0 28v1m0 12v2M1739.8 490v1m0 2v1m0 9v1m0 24v1M1765.8 208v1m0 4v1m0 37v1m0 5v1m0 22v1m0 11v1m0 80v1m0 46v1m0 95v1M1791.8 126v1m0 85v1m0 81v1m0 59v1m0 111v1m0 37v1m0 14v1M1817.8 184v1m0 36v2m0 279v1m0 54v1M1843.8 492v1m0 24v1M1869.8 125v2m0 103v1m0 1v3m0 63v3m0 75v1m0 61v2m0 49v1m0 56v1m0 2v1m0 14v1m0 5v1m0 10v1M1895.8 562v1M1921.8 196v1m0 25v1m0 151v1m0 1v1m0 113v1m0 104v1M1947.8 124v1m0 137v1m0 101v1m0 48v1m0 53v1m0 18v1m0 40v1m0 21v1m0 17v1m0 12v1M1973.8 151v1m0 171v1m0 238v2m0 2v2M1999.8 119v2m0 18v1m0 26v1m0 44v1m0 43v2m0 4v1m0 5v1m0 9v1m0 28v1m0 43v2m0 34v2m0 57v3m0 13v1m0 132v2M2025.8 127v1m0 32v1m0 118v1m0 25v1m0 135v1m0 45v1m0 39v1"/>
<path stroke="#e43" d="M1271.8 103v2m0 11v2m0 9v1m0 11v2m0 14v3m0 99v2m0 14v2m0 32v2m0 8v2m0 18v3m0 67v1m0 13v1M1297.8 254v3m0 22v1m0 40v1m0 40v1m0 5v2m0 31v1m0 16v3m0 20v2M1323.8 176v1m0 13v2m0 177v1m0 50v1M1349.8 106v2m0 15v2m0 14v2m0 44v2m0 13v1m0 9v2m0 16v2m0 40v3m0 4v1m0 7v2m0 93v2M1375.8 121v2m0 70v1m0 3v4m0 30v1m0 164v2M1401.8 123v2m0 34v2m0 21v1m0 4v2m0 94v2m0 64v5m0 16v1m0 31v3M1427.8 108v2m0 17v1m0 23v2m0 86v2m0 13v3m0 128v3m0 93v1M1453.8 143v1M1479.8 293v3m0 15v1m0 89v1m0 15v3m0 180v1m0 5v2M1505.8 128v1m0 14v2m0 55v1m0 8v1m0 11v2m0 67v1m0 29v1m0 5v1m0 90v3m0 28v2m0 88v3m0 27v2m0 24v2M1531.8 194v1m0 160v1M1557.8 130v2m0 65v1m0 125v1m0 47v1m0 66v2m0 47v2m0 87v2M1583.8 121v1m0 23v1m0 60v1m0 6v1m0 71v1m0 89v1m0 106v3m0 23v2m0 19v2m0 6v1m0 60v1m0 2v3M1609.8 142v1m0 64v1m0 300v2m0 7v2m0 2v1m0 6v1m0 15v2m0 3v1m0 31v1m0 7v2M1635.8 134v1m0 19v1m0 138v1m0 159v2m0 61v1m0 24v2m0 46v2M1661.8 353v1m0 9v1m0 8v1m0 1v1m0 223v1M1687.8 100v1m0 68v1m0 13v1m0 16v1m0 49v1m0 28v1m0 54v1m0 29v1m0 234v1m0 4v2M1713.8 100v3m0 276v1m0 139v2m0 41v2M1739.8 127v1m0 289v1m0 20v1m0 1v1m0 79v1m0 26v1m0 16v1m0 17v1M1765.8 175v1m0 18v1m0 53v1m0 19v1m0 69v2m0 65v1m0 100v2m0 91v1M1791.8 303v1m0 2v1m0 118v1m0 1v1m0 119v1M1817.8 193v1m0 41v2m0 349v2M1843.8 200v1m0 288v1m0 101v1M1869.8 106v2m0 47v3m0 298v1m0 108v1M1895.8 544v1m0 55v1M1921.8 141v1m0 123v1m0 173v1m0 2v1m0 44v1m0 9v1m0 13v1m0 6v1m0 63v1M1947.8 192v1m0 25v1m0 56v1m0 27v1m0 14v1m0 87v1m0 18v2m0 32v2m0 63v1M1973.8 124v1m0 27v1m0 441v4m0 1v2M1999.8 130v2m0 5v2m0 68v1m0 57v1m0 62v2m0 138v1m0 107v2m0 22v1M2025.8 464v1"/>
<path stroke="#d22" d="M1271.8 105v1m0 44v1m0 7v3m0 5v1m0 101v2m0 26v2m0 64v1m0 22v3m0 10v2m0 24v1M1297.8 135v1m0 23v2m0 65v2m0 31v2m0 81v2m0 67v1M1323.8 232v3m0 6v2m0 21v2m0 17v2m0 32v2m0 23v2m0 61v1M1349.8 132v1m0 14v3m0 33v1m0 53v2m0 39v1m0 22v2m0 34v3m0 49v3m0 2v2M1375.8 110v2m0 73v2m0 7v2m0 30v2m0 81v2m0 19v2m0 31v2m0 7v2m0 4v1M1401.8 214v2m0 9v1m0 11v2m0 43v1m0 84v2M1427.8 103v2m0 177v1m0 23v1m0 114v1m0 140v2m0 6v4M1453.8 412v1M1479.8 128v1m0 21v1m0 99v1m0 45v2m0 37v2m0 90v1m0 4v1m0 39v1m0 75v1m0 19v1M1505.8 100v3m0 12v1m0 9v2m0 42v1m0 71v2m0 18v2m0 16v1m0 14v2m0 23v1m0 38v2m0 5v2m0 9v1m0 92v1m0 54v3m0 2v2m0 16v2M1531.8 236v1m0 22v1m0 3v1m0 84v1m0 153v1m0 73v2M1557.8 166v1m0 153v1m0 3v1m0 102v1M1583.8 105v1m0 17v1m0 71v1m0 27v1m0 2v1m0 23v1m0 48v2m0 2v1m0 73v1m0 36v1m0 178v1M1609.8 168v1m0 53v1m0 145v2m0 5v1m0 77v2m0 50v1M1635.8 170v1m0 62v2m0 62v1m0 15v2m0 40v1m0 39v1m0 29v2m0 29v1m0 54v2M1661.8 211v1m0 208v1M1687.8 110v1m0 13v1m0 7v1m0 19v1m0 3v2m0 48v1m0 30v1m0 39v1m0 20v1m0 36v1m0 24v1m0 11v1M1713.8 151v2m0 170v1m0 97v1M1739.8 182v1m0 250v1m0 98v1m0 3v1m0 4v1M1765.8 105v1m0 13v2m0 55v1m0 9v1m0 19v1m0 94v1m0 18v1m0 4v1m0 4v1m0 34v1m0 8v1m0 13v1m0 69v3m0 63v3M1791.8 118v1m0 29v2m0 64v1m0 15v2m0 15v1m0 28v1m0 22v2m0 27v2m0 1v1m0 33v1m0 49v1m0 33v1m0 22v1m0 107v1m0 13v1m0 1v3m0 2v3m0 2v2M1817.8 261v2m0 149v1m0 130v1m0 54v1m0 2v5M1843.8 124v1m0 53v1m0 159v2m0 74v1m0 106v1m0 79v3m0 2v2M1869.8 103v2m0 206v1m0 93v1m0 38v1m0 54v2m0 21v2m0 19v1m0 38v2m0 12v2M1895.8 177v1m0 15v1m0 162v1m0 201v1m0 18v1M1921.8 233v2m0 96v1m0 22v1m0 104v2m0 11v1m0 16v1m0 47v1m0 66v2M1947.8 332v1m0 87v1m0 8v1m0 9v1m0 26v1m0 23v1m0 61v1m0 25v1m0 10v1m0 8v6m0 2v2M1973.8 248v1m0 175v1m0 157v2M1999.8 200v1m0 16v1m0 6v1m0 4v1m0 13v1m0 31v1m0 245v1M2025.8 320v1m0 22v1m0 3v1m0 248v2m0 3v3"/>
<path stroke="#dce" d="M1271.8 106v2m0 480v1M1297.8 434v2m0 128v1M1349.8 578v2M1375.8 473v1m0 123v1M1401.8 127v1M1453.8 474v1m0 6v1m0 10v1m0 7v1m0 46v1m0 3v1m0 3v1m0 12v1m0 7v1m0 3v1M1531.8 122v1m0 10v1m0 1v1m0 47v1m0 34v1m0 5v1m0 16v1m0 1v1m0 14v1m0 82v1m0 7v1m0 50v1m0 13v1m0 86v1M1557.8 100v3m0 1v5m0 1v1m0 1v4m0 3v2m0 1v2m0 2v2m0 6v1m0 6v1m0 1v1m0 6v4m0 1v1m0 2v2m0 1v1m0 1v2m0 3v1m0 1v3m0 2v2m0 1v1m0 3v2m0 1v1m0 2v1m0 1v1m0 1v1m0 2v1m0 2v2m0 1v6m0 1v1m0 1v2m0 2v1m0 2v2m0 2v1m0 2v2m0 2v1m0 1v2m0 1v2m0 1v1m0 2v2m0 2v4m0 1v1m0 1v2m0 2v3m0 2v2m0 1v2m0 1v4m0 2v5m0 1v1m0 3v1m0 2v1m0 2v1m0 3v2m0 2v1m0 1v1m0 5v1m0 3v3m0 2v3m0 1v3m0 2v1m0 8v1m0 2v3m0 1v1m0 2v1m0 4v1m0 2v1m0 7v1m0 1v1m0 5v4m0 1v1m0 4v4m0 1v1m0 2v3m0 4v1m0 3v1m0 11v3m0 1v2m0 3v1m0 1v4m0 1v2m0 79v1M1583.8 222v1m0 273v1M1609.8 100v1m0 3v1m0 1v3m0 1v3m0 3v1m0 4v2m0 4v5m0 2v1m0 1v5m0 3v1m0 5v1m0 1v1m0 1v5m0 2v1m0 2v1m0 1v2m0 4v1m0 1v2m0 2v1m0 4v7m0 2v2m0 2v2m0 6v1m0 5v2m0 4v1m0 1v1m0 4v1m0 1v1m0 2v1m0 1v1m0 2v2m0 1v3m0 1v1m0 2v2m0 1v2m0 1v3m0 1v2m0 3v1m0 4v1m0 2v2m0 2v1m0 3v1m0 5v1m0 1v1m0 2v1m0 2v2m0 2v2m0 1v1m0 1v4m0 1v1m0 2v3m0 4v1m0 4v1m0 1v4m0 4v1m0 3v3m0 1v1m0 1v6m0 1v8m0 4v1m0 1v1m0 1v1m0 4v1m0 1v1m0 5v2m0 2v1m0 1v1m0 2v1m0 1v2m0 8v1m0 5v1m0 1v3m0 1v2m0 5v1m0 1v2m0 4v1m0 74v1m0 22v2m0 14v2m0 9v1m0 23v1m0 23v4m0 1v2m0 5v1M1635.8 100v1m0 2v4m0 3v1m0 1v3m0 1v2m0 3v1m0 5v1m0 1v3m0 1v1m0 3v2m0 2v2m0 1v1m0 1v1m0 3v1m0 5v4m0 3v2m0 6v2m0 2v2m0 8v1m0 1v1m0 1v1m0 1v1m0 4v4m0 3v1m0 2v1m0 3v1m0 1v2m0 4v3m0 5v1m0 1v1m0 2v1m0 5v2m0 4v1m0 1v1m0 2v2m0 7v4m0 2v1m0 3v1m0 2v1m0 2v2m0 2v1m0 1v1m0 1v2m0 1v1m0 2v4m0 1v1m0 2v1m0 3v2m0 1v1m0 1v3m0 4v1m0 5v1m0 1v2m0 2v1m0 2v2m0 4v1m0 2v5m0 1v3m0 2v1m0 1v5m0 1v1m0 1v2m0 1v4m0 1v1m0 1v3m0 2v1m0 1v1m0 1v1m0 4v4m0 1v3m0 6v1m0 2v1m0 5v3m0 1v1m0 7v1m0 66v3m0 23v2m0 58v2m0 14v2M1661.8 101v7m0 2v5m0 1v1m0 4v11m0 1v11m0 1v8m0 1v1m0 1v8m0 1v1m0 1v9m0 2v5m0 1v6m0 1v17m0 1v1m0 2v16m0 3v4m0 1v8m0 1v5m0 2v14m0 1v9m0 1v11m0 2v1m0 1v4m0 1v10m0 1v2m0 1v9m0 1v6m0 1v15m0 1v1m0 3v5m0 1v2m0 1v1m0 1v4m0 1v1m0 1v3m0 1v1m0 2v1m0 2v4m0 1v7m0 1v4m0 1v12m0 1v6m0 1v2m0 1v3m0 1v1m0 1v2m0 3v1m0 7v2m0 4v1m0 21v4m0 6v2m0 17v8m0 2v2m0 3v2m0 1v2m0 4v4m0 1v2m0 4v3m0 13v2m0 1v2m0 6v2m0 1v3m0 7v3m0 10v3m0 4v1m0 2v1M1739.8 103v6m0 1v1m0 1v1m0 5v4m0 2v3m0 1v4m0 2v2m0 1v4m0 1v2m0 1v2m0 3v2m0 1v1m0 2v2m0 2v4m0 1v1m0 2v1m0 1v1m0 1v1m0 4v5m0 1v1m0 1v3m0 5v5m0 2v1m0 4v4m0 2v1m0 3v2m0 1v1m0 3v1m0 2v2m0 1v2m0 6v1m0 1v1m0 1v1m0 2v2m0 2v1m0 1v1m0 1v1m0 2v4m0 5v1m0 4v2m0 1v2m0 2v3m0 1v7m0 1v6m0 3v1m0 2v5m0 6v2m0 3v1m0 2v1m0 1v2m0 1v1m0 1v5m0 2v1m0 3v1m0 1v2m0 3v1m0 1v2m0 2v3m0 2v1m0 1v3m0 1v1m0 1v1m0 1v2m0 1v2m0 2v2m0 1v1m0 7v1m0 5v2m0 2v1m0 1v1m0 3v2m0 1v1m0 1v3m0 1v1m0 4v4m0 5v1m0 4v3m0 3v1m0 6v1m0 1v1m0 2v1m0 4v1m0 1v2m0 1v3m0 1v1m0 5v1m0 3v3m0 2v3m0 3v3m0 4v3m0 6v2m0 3v1m0 5v1m0 5v1m0 1v1m0 2v1m0 3v1m0 2v1m0 2v1m0 6v2m0 2v3m0 1v1m0 1v1m0 3v2m0 2v2m0 3v1m0 1v3m0 3v1m0 1v1m0 3v1m0 3v1m0 1v3m0 4v1m0 6v2m0 2v1M1765.8 513v2M1791.8 103v4m0 1v1m0 4v3m0 5v2m0 1v1m0 4v1m0 3v1m0 1v1m0 4v1m0 5v2m0 2v1m0 1v1m0 2v4m0 6v2m0 1v2m0 4v2m0 2v3m0 1v1m0 2v1m0 5v2m0 1v1m0 3v2m0 2v1m0 3v2m0 1v1m0 1v1m0 1v1m0 1v2m0 2v3m0 1v1m0 1v1m0 2v1m0 3v3m0 2v2m0 1v3m0 1v3m0 4v2m0 5v2m0 1v3m0 1v2m0 1v2m0 3v1m0 1v1m0 2v2m0 1v1m0 2v1m0 1v1m0 1v2m0 2v2m0 3v1m0 4v1m0 6v4m0 3v1m0 4v2m0 1v1m0 9v3m0 1v2m0 3v1m0 2v1m0 8v2m0 3v2m0 2v1m0 2v1m0 3v1m0 3v2m0 3v1m0 8v1m0 9v1m0 1v1m0 5v1m0 4v1m0 5v2m0 1v1m0 4v1m0 2v1m0 6v3m0 1v2m0 2v1m0 10v1m0 5v1m0 6v1m0 1v1m0 5v2m0 2v1m0 1v1m0 2v1m0 3v3m0 2v2m0 2v2m0 2v2m0 1v1m0 1v1m0 2v3m0 1v3m0 5v3m0 3v3m0 2v2m0 2v1m0 5v1m0 1v1m0 4v1m0 3v3m0 2v2m0 2v2m0 2v1m0 3v1m0 4v2m0 4v2m0 1v1m0 2v1m0 1v1m0 1v1m0 2v1M1817.8 298v3M1843.8 127v1m0 5v1m0 13v1m0 63v1m0 31v1m0 23v1m0 15v1m0 63v1m0 7v1m0 20v1m0 25v1m0 8v1m0 6v2m0 8v1m0 3v2m0 8v1m0 1v1m0 52v1m0 9v1m0 21v1m0 2v1m0 10v1m0 31v1M1869.8 515v1M1921.8 100v1m0 2v1m0 1v3m0 1v1m0 7v4m0 2v4m0 2v3m0 1v1m0 3v2m0 4v1m0 6v2m0 6v1m0 3v1m0 2v1m0 1v2m0 1v1m0 1v1m0 5v1m0 2v1m0 5v2m0 2v2m0 2v1m0 1v4m0 1v2m0 3v4m0 4v1m0 9v1m0 1v2m0 7v1m0 2v1m0 1v3m0 2v1m0 1v2m0 1v1m0 5v2m0 5v1m0 5v1m0 2v1m0 1v4m0 1v1m0 5v6m0 4v2m0 1v2m0 9v1m0 4v2m0 1v1m0 1v1m0 1v1m0 1v3m0 1v3m0 4v1m0 8v1m0 3v4m0 1v1m0 1v1m0 2v1m0 2v3m0 1v1m0 3v1m0 3v1m0 1v1m0 2v2m0 1v2m0 2v4m0 3v1m0 1v1m0 2v1m0 1v1m0 5v2m0 1v1m0 5v1m0 1v6m0 4v1m0 7v1m0 1v2m0 3v1m0 4v3m0 2v3m0 2v2m0 4v1m0 6v1m0 8v1m0 1v1m0 13v2m0 4v1m0 2v3m0 1v1m0 1v2m0 1v1m0 1v1m0 1v1m0 2v1m0 1v2m0 6v3m0 1v1m0 1v1m0 3v2m0 2v1m0 2v1m0 3v2m0 1v1m0 4v3m0 1v1m0 1v1m0 2v5m0 2v1m0 1v1m0 2v2m0 6v2m0 1v3M1947.8 144v1m0 63v1m0 39v1m0 14v1m0 145v2m0 83v1m0 42v1m0 6v1m0 42v1M1973.8 108v1m0 10v2m0 14v1m0 18v1m0 3v1m0 10v1m0 2v1m0 34v1m0 30v1m0 1v1m0 58v2m0 23v1m0 8v1m0 1v1m0 40v1m0 9v2m0 21v2m0 76v2m0 27v1m0 54v3m0 18v1M1999.8 473v1M2025.8 113v2m0 69v1m0 4v1m0 1v1m0 92v1m0 3v2m0 32v1m0 10v1m0 7v1m0 3v1m0 14v1m0 16v1m0 30v1m0 6v1m0 1v1m0 32v1m0 27v1m0 22v1m0 32v1m0 1v1m0 4v1m0 5v1m0 22v1m0 3v2"/>
<path stroke="#fee" d="M1271.8 108v2m0 149v2m0 66v3M1297.8 129v3m0 220v2m0 15v1M1323.8 118v3m0 157v1m0 164v1m0 45v1m0 47v1M1349.8 100v3m0 154v2m0 143v3m0 59v1m0 30v1m0 15v2m0 15v1m0 26v2m0 5v2M1375.8 115v1m0 154v3m0 97v1m0 150v1m0 16v3m0 8v1m0 49v1m0 1v1M1401.8 193v1m0 288v3m0 17v1m0 67v1M1453.8 228v1m0 41v1m0 57v2m0 34v1m0 41v2m0 196v2M1505.8 212v2m0 128v2m0 57v1m0 117v2M1531.8 411v1m0 109v1M1557.8 191v1M1583.8 274v1m0 145v1M1609.8 264v1M1635.8 363v1m0 91v1M1687.8 212v1m0 123v1M1713.8 506v2M1739.8 341v1m0 87v1m0 71v1M1765.8 129v1m0 120v1M1791.8 350v2m0 81v1m0 5v1m0 29v1m0 87v1M1843.8 104v1M1921.8 368v1M1947.8 105v1m0 456v1m0 13v1m0 16v1M1999.8 238v1m0 201v2m0 112v1"/>
<path stroke="#a7a" d="M1271.8 110v2m0 102v2m0 258v2m0 74v2M1297.8 448v2m0 63v2M1323.8 127v1m0 72v1m0 247v2m0 52v1m0 95v1M1349.8 462v2M1375.8 127v1m0 11v2m0 125v2m0 273v2M1401.8 382v1M1427.8 164v2m0 145v1m0 36v1m0 30v1m0 42v1m0 163v2M1505.8 374v2m0 127v2M1713.8 279v1m0 29v2"/>
<path stroke="#77c" d="M1271.8 112v3m0 21v3m0 281v1m0 6v1m0 12v2m0 3v3m0 2v3m0 8v1m0 3v2m0 2v1m0 2v1m0 6v2m0 4v1m0 6v1m0 2v1m0 5v1m0 14v1m0 5v5m0 1v1m0 2v2m0 5v3m0 2v3m0 9v2m0 4v3m0 4v3m0 5v2m0 4v2m0 7v1M1297.8 153v2m0 23v3m0 138v1m0 50v1m0 1v2m0 163v1m0 3v2m0 1v2m0 6v2m0 11v1m0 5v3m0 20v2m0 3v2M1323.8 193v1m0 69v1m0 191v1m0 8v1m0 41v2m0 35v1m0 40v2m0 10v2m0 2v1M1349.8 376v1m0 71v2M1375.8 182v2m0 80v2m0 74v2m0 6v1m0 52v1m0 21v1m0 48v1m0 6v2m0 11v1M1401.8 176v1m0 144v1m0 174v1M1427.8 105v1m0 47v2m0 7v2m0 3v2m0 1v2m0 20v1m0 10v4m0 11v3m0 14v2m0 36v2m0 21v2m0 3v2m0 4v2m0 12v1m0 2v2m0 16v2m0 23v2m0 29v2m0 6v1m0 10v3m0 12v1m0 43v1m0 9v1m0 12v3m0 17v2m0 1v2m0 34v3m0 3v1m0 1v2m0 10v2m0 1v3m0 10v2m0 2v1M1505.8 472v1m0 19v1m0 6v2m0 7v2M1713.8 112v3m0 12v2m0 41v2m0 10v1m0 68v1m0 5v4m0 29v1m0 20v1m0 5v2m0 33v2m0 24v1m0 22v1"/>
<path stroke="#a79" d="M1271.8 115v1m0 219v2M1297.8 474v2m0 19v1M1349.8 193v1M1375.8 166v1m0 20v2m0 116v1m0 121v1m0 6v2M1401.8 365v2m0 160v1M1427.8 185v2M1505.8 254v3m0 324v1M1869.8 105v1"/>
<path stroke="#d33" d="M1271.8 118v3m0 49v2m0 56v2m0 14v1m0 126v1M1297.8 167v2m0 14v1m0 28v2m0 107v1M1323.8 201v2m0 25v2m0 31v2m0 24v3m0 8v3m0 26v3m0 146v1M1349.8 232v5m0 70v2m0 15v2m0 20v2m0 48v2m0 25v1M1375.8 216v2m0 136v2M1401.8 147v3m0 60v2m0 11v2m0 38v1m0 90v2m0 66v1M1427.8 177v1m0 23v2m0 42v2m0 303v2M1453.8 306v1M1479.8 121v2m0 82v2m0 61v2m0 329v1M1505.8 190v2m0 85v1m0 208v1m0 10v2M1531.8 130v2m0 90v1M1557.8 436v2m0 58v1m0 24v1m0 49v3m0 19v1m0 4v3M1583.8 188v1m0 4v1m0 83v1m0 13v1m0 10v1m0 46v1m0 11v1m0 19v1m0 218v1M1609.8 261v1m0 11v1m0 227v1M1635.8 165v2m0 60v1m0 12v1m0 131v1m0 38v1m0 24v2m0 75v2m0 14v2m0 62v1M1661.8 310v1m0 77v1m0 207v2M1687.8 356v1m0 14v1m0 35v1m0 12v1m0 24v3m0 39v2m0 13v1m0 75v2M1713.8 429v3M1739.8 264v1M1765.8 117v1m0 65v1m0 39v1m0 8v1m0 19v1m0 8v1m0 93v1m0 25v1m0 1v1m0 69v2m0 100v2M1791.8 217v1m0 77v1m0 11v1m0 228v1M1817.8 499v2m0 28v2m0 68v1m0 6v2M1843.8 117v1m0 307v1m0 40v1M1869.8 334v1m0 30v2m0 199v2M1895.8 237v1m0 361v1m0 1v3m0 2v2M1921.8 266v1m0 65v1m0 39v1m0 70v1m0 134v1m0 5v1m0 13v1m0 2v3M1947.8 134v1m0 39v1m0 242v1m0 44v1m0 41v1m0 36v1m0 5v1m0 20v1m0 1v1m0 6v1M1973.8 456v1m0 1v3m0 137v1m0 7v2M1999.8 273v1m0 12v1m0 31v1m0 61v1m0 160v2m0 23v2m0 28v2m0 1v1m0 4v4M2025.8 119v2m0 33v1m0 73v1m0 234v1m0 82v1"/>
<path stroke="#fbb" d="M1271.8 121v2m0 46v1m0 65v2m0 14v1m0 11v1m0 29v3m0 15v1m0 101v1M1297.8 103v2m0 100v2m0 87v2m0 9v1m0 202v2M1323.8 116v2m0 121v2m0 83v2m0 114v2m0 16v4m0 124v2M1349.8 279v1m0 11v2m0 39v2m0 24v2m0 7v2m0 10v1m0 21v1m0 12v1m0 12v1m0 33v1m0 8v3m0 9v3m0 16v1m0 22v3m0 11v3m0 11v3M1375.8 100v3m0 5v2m0 45v3m0 148v1m0 78v3m0 74v2m0 6v2m0 15v2m0 44v2m0 11v1m0 27v2M1401.8 108v2m0 93v2m0 169v3m0 87v1m0 20v1m0 20v2m0 9v2M1427.8 283v2m0 130v2m0 121v3M1453.8 127v1m0 40v1m0 10v2m0 67v1m0 37v1m0 16v1m0 92v1M1479.8 278v1m0 311v1M1505.8 210v2m0 16v2m0 19v1m0 74v2m0 89v2m0 26v1m0 38v3m0 73v3M1531.8 132v1m0 17v1m0 449v1m0 3v4M1557.8 257v1M1583.8 182v1m0 180v1m0 142v2m0 76v2m0 8v2M1609.8 115v1m0 29v1m0 57v1m0 155v1m0 3v1m0 7v1m0 134v2M1635.8 247v1m0 110v1m0 128v2m0 4v2m0 67v2m0 42v2M1661.8 515v1m0 64v1M1687.8 258v1m0 84v1m0 62v1M1713.8 176v1m0 93v3m0 204v2m0 64v1m0 11v2m0 19v2m0 4v2M1739.8 204v1m0 65v1m0 335v2M1765.8 127v1m0 35v1m0 6v1m0 50v1m0 89v2m0 86v1m0 147v2m0 45v2M1791.8 235v1m0 68v1m0 95v1m0 45v2m0 105v1M1843.8 297v1m0 280v1m0 15v1M1869.8 511v2M1895.8 245v1m0 21v1m0 5v1m0 175v1M1921.8 341v2m0 13v1m0 67v1m0 19v1m0 26v1m0 20v1m0 48v1M1947.8 170v1m0 277v1m0 59v1m0 5v1m0 18v1m0 52v1M1973.8 107v1M1999.8 162v1m0 231v1m0 176v3M2025.8 267v1m0 36v1m0 65v1m0 214v1m0 9v1"/>
<path stroke="#a9b" d="M1271.8 123v2m0 318v1M1401.8 468v1"/>
<path stroke="#e55" d="M1271.8 125v2m0 20v3m0 24v2m0 9v2m0 9v1m0 21v3m0 84v1m0 50v2m0 7v2m0 12v1m0 8v1m0 17v1m0 182v2M1297.8 132v1m0 29v4m0 34v1m0 15v2m0 88v1m0 10v2m0 39v2m0 5v2m0 12v1m0 40v1M1323.8 106v2m0 37v2m0 12v2m0 57v3m0 2v2m0 43v5m0 28v2m0 8v1m0 34v2m0 1v3m0 30v1m0 11v4m0 35v1m0 43v2m0 13v1M1349.8 108v2m0 41v2m0 2v3m0 18v1m0 77v3m0 52v2m0 235v1M1375.8 123v2m0 3v4m0 13v2m0 31v3m0 40v2m0 50v2m0 46v1m0 23v1m0 25v1m0 34v1m0 120v1m0 1v2M1401.8 145v2m0 31v3m0 9v3m0 19v2m0 7v2m0 22v2m0 59v1m0 20v3m0 59v3M1427.8 187v2m0 48v2m0 41v2m0 16v3m0 60v1M1453.8 123v1m0 77v1m0 222v1M1479.8 177v1m0 18v1m0 55v2m0 94v1m0 25v2m0 38v1m0 18v1m0 89v2m0 25v1m0 21v2M1505.8 105v1m0 52v1m0 71v1m0 8v2m0 70v1m0 51v2m0 17v1m0 75v3m0 18v2m0 29v1m0 54v1M1531.8 161v1m0 55v1m0 100v1m0 9v2m0 40v1m0 8v1m0 8v1m0 39v1m0 7v2m0 26v1m0 51v1m0 35v2m0 8v2m0 24v1M1557.8 103v1m0 12v1m0 169v1m0 55v1m0 82v2m0 15v1m0 12v1m0 59v1m0 65v1M1583.8 139v1m0 33v1m0 17v1m0 81v1m0 56v1m0 66v1m0 40v2m0 47v2m0 4v2M1609.8 209v1m0 5v1m0 87v1m0 26v1m0 96v1m0 20v5m0 32v1m0 24v1m0 18v2m0 23v1m0 2v1m0 18v2M1635.8 160v1m0 20v1m0 68v1m0 83v1m0 170v1m0 25v2m0 4v1m0 12v2m0 24v2m0 14v1M1661.8 117v1m0 1v2m0 167v2m0 103v1m0 22v1m0 159v2M1687.8 123v1m0 31v1m0 52v1m0 15v1m0 6v1m0 19v1m0 24v1m0 61v2m0 4v1m0 9v1m0 61v1m0 44v1M1713.8 167v2m0 66v2m0 27v2m0 116v1m0 2v3m0 23v1M1739.8 312v1m0 150v1m0 18v1m0 21v1m0 6v1m0 1v1m0 73v1M1765.8 101v2m0 36v1m0 7v1m0 30v1m0 75v1m0 48v1m0 27v1m0 12v1m0 25v1m0 31v1m0 147v2M1791.8 260v1m0 136v1m0 47v1m0 18v1m0 16v1m0 10v1M1817.8 413v1M1843.8 273v1m0 38v1M1869.8 210v2m0 4v2m0 39v2m0 21v2m0 139v1m0 10v1m0 24v1m0 35v2m0 8v2m0 79v2m0 3v2M1895.8 439v1M1921.8 122v1m0 16v1m0 71v1m0 48v1m0 18v1m0 65v1m0 13v1m0 139v1m0 81v1M1947.8 137v2m0 249v1m0 12v1m0 36v1m0 30v1m0 1v1m0 60v1m0 39v2m0 7v1M1973.8 177v1m0 178v1m0 46v2m0 64v1m0 12v3m0 53v3M1999.8 253v1m0 40v1m0 2v1m0 124v1M2025.8 496v1"/>
<path stroke="#e44" d="M1271.8 128v1m0 4v2m0 10v2m0 4v2m0 14v2m0 23v1m0 1v2m0 9v2m0 34v2m0 42v2m0 166v2M1297.8 100v3m0 44v3m0 51v2m0 7v2m0 38v1m0 56v2m0 21v2m0 81v1M1323.8 141v2m0 177v1m0 11v2m0 18v2m0 8v1m0 16v1m0 35v2m0 6v1M1349.8 129v3m0 26v1m0 13v2m0 16v2m0 22v2m0 25v2m0 7v1m0 32v2m0 32v2m0 98v3m0 36v1M1375.8 151v2m0 6v2m0 8v1m0 77v2m0 1v1m0 26v1m0 13v2m0 26v1m0 14v1m0 59v2m0 4v1m0 6v1m0 73v1M1401.8 112v3m0 28v2m0 5v1m0 13v2m0 121v3m0 1v2m0 29v1m0 37v1m0 18v1m0 18v2m0 7v1m0 85v2M1427.8 251v1m0 153v1m0 63v1m0 15v1m0 113v1M1453.8 315v1m0 31v1m0 9v1m0 45v2M1479.8 421v1m0 45v1m0 19v1m0 48v1m0 57v1M1505.8 110v2m0 4v2m0 9v1m0 33v1m0 45v2m0 54v1m0 14v1m0 61v2m0 27v1m0 28v2m0 7v1M1531.8 242v1m0 43v1m0 73v1m0 3v1m0 162v1m0 26v1m0 27v2M1557.8 145v1m0 47v1m0 75v1m0 20v1m0 240v2m0 63v2M1583.8 279v1m0 128v1m0 141v2M1609.8 241v1m0 155v1m0 71v1m0 92v2M1635.8 194v1m0 218v1m0 18v1m0 40v1m0 78v2m0 1v2m0 17v2M1661.8 108v1m0 55v1m0 64v2m0 149v1m0 25v1m0 80v2M1687.8 101v2m0 164v1m0 74v1m0 46v1m0 95v1m0 88v2m0 30v2M1713.8 228v2m0 2v3m0 52v3m0 34v2m0 263v2M1739.8 434v1m0 10v1m0 16v1m0 91v1m0 30v1M1765.8 228v1m0 84v2m0 119v2M1791.8 130v2m0 35v1m0 3v1m0 12v1m0 2v1m0 144v1m0 29v1m0 42v1m0 119v2m0 12v2m0 52v1M1817.8 335v2m0 149v1m0 14v1m0 53v2M1843.8 222v1m0 5v1m0 355v1M1869.8 231v1m0 285v2m0 31v2m0 9v1M1895.8 418v2m0 176v2M1921.8 160v1m0 76v1m0 63v1m0 4v1m0 27v1m0 150v1M1947.8 254v1m0 72v1m0 57v3m0 49v1m0 6v1m0 8v1m0 42v1m0 49v1m0 35v1M1973.8 368v1m0 31v1m0 92v2m0 4v2m0 100v5M1999.8 215v1m0 9v1m0 14v1m0 17v1m0 31v1m0 24v1m0 8v1m0 39v1m0 31v1m0 134v2M2025.8 448v1m0 73v1m0 46v1"/>
<path stroke="#947" d="M1271.8 132v1M1323.8 143v2m0 42v2m0 189v1m0 9v1m0 32v1m0 40v2M1375.8 192v1M1401.8 118v3m0 250v1M1427.8 270v3M1505.8 218v3m0 70v2m0 56v3m0 129v1m0 84v2M1713.8 400v1"/>
<path stroke="#e88" d="M1271.8 135v1m0 53v1m0 36v2m0 36v4m0 10v1m0 24v2m0 7v3m0 17v2m0 8v2m0 30v2m0 4v5M1297.8 106v2m0 10v3m0 30v2m0 68v2m0 60v2m0 11v2m0 65v2m0 57v1M1323.8 174v2m0 31v2m0 40v1m0 25v2m0 8v2m0 18v1m0 9v2m0 84v1m0 168v1M1349.8 145v2m0 37v1m0 45v1m0 35v2m0 67v2m0 5v2m0 28v4m0 39v2m0 11v1m0 40v1m0 65v2m0 49v2M1375.8 116v2m0 18v3m0 23v2m0 10v2m0 38v2m0 21v2m0 6v2m0 7v3m0 11v2m0 23v1m0 17v1m0 12v2m0 32v2m0 2v1m0 13v1m0 2v1m0 2v1m0 15v2m0 76v1m0 54v2m0 10v1M1401.8 103v2m0 20v2m0 58v2m0 2v1m0 17v2m0 59v2m0 31v2m0 17v1m0 59v2m0 32v1m0 25v2m0 1v1m0 4v2m0 22v1m0 26v2m0 15v1m0 44v1m0 38v1M1427.8 216v2m0 91v2m0 49v1m0 145v2m0 3v2M1453.8 128v1m0 19v2m0 9v1m0 81v1m0 48v1m0 43v1m0 41v1M1479.8 100v3m0 13v2m0 35v2m0 230v3m0 1v3m0 149v1m0 33v1M1505.8 132v1m0 17v1m0 13v2m0 27v1m0 3v3m0 87v3m0 47v3m0 22v1m0 4v2m0 54v1m0 4v1m0 41v2m0 23v1m0 15v2m0 3v3m0 27v1m0 5v2M1531.8 108v1m0 27v1m0 110v1m0 61v1m0 119v3m0 85v2m0 25v2m0 18v1m0 24v2M1557.8 227v1m0 73v1m0 88v2m0 8v1m0 63v1m0 3v1m0 12v1m0 40v2m0 3v1m0 52v1m0 23v2M1583.8 196v1m0 17v1m0 105v1m0 22v1m0 224v2m0 34v2M1609.8 160v1m0 196v1m0 78v2m0 32v2m0 14v1m0 28v1m0 50v2m0 16v2m0 2v1m0 2v1M1635.8 388v1m0 51v2m0 22v1m0 9v2m0 9v1m0 9v1m0 1v2m0 47v3m0 16v1M1661.8 177v1M1687.8 161v1m0 6v1m0 12v1m0 11v1m0 86v1m0 72v1m0 118v1m0 37v1m0 46v1m0 3v1m0 34v3M1713.8 141v2m0 123v2m0 90v2m0 16v1m0 19v2m0 27v3m0 12v2m0 1v1m0 13v1m0 15v1m0 7v1m0 23v1m0 7v3m0 11v1m0 40v2m0 23v1M1739.8 383v1m0 135v1m0 10v1m0 73v2M1765.8 169v1m0 77v1m0 141v1m0 16v1m0 9v1m0 52v1m0 4v2m0 34v1m0 89v1M1791.8 109v1m0 1v1m0 15v1m0 49v1m0 12v1m0 129v1m0 47v1m0 13v1m0 19v1m0 40v1m0 4v1m0 8v1m0 30v1m0 62v1M1817.8 166v1m0 18v2m0 136v1m0 179v2m0 16v1M1843.8 116v1m0 20v2m0 423v1M1869.8 277v1m0 92v2m0 62v2m0 59v1m0 17v2M1895.8 252v1m0 53v1m0 207v1m0 54v1m0 34v2M1921.8 454v1m0 12v1m0 109v1M1947.8 231v1m0 85v1m0 38v1m0 142v1m0 19v1m0 2v1m0 20v1m0 4v1M1973.8 103v1m0 339v1m0 45v1M1999.8 142v1m0 4v1m0 23v1m0 70v1m0 42v1m0 209v1M2025.8 142v1m0 444v1"/>
<path stroke="#faa" d="M1271.8 141v2m0 35v3m0 6v2m0 56v2m0 30v1m0 42v2m0 12v1m0 13v1m0 9v2m0 48v3m0 155v2M1297.8 108v2m0 2v3m0 26v2m0 50v1m0 81v2m0 49v1m0 21v1m0 27v1m0 47v1M1323.8 105v1m0 139v2m0 32v1m0 11v2m0 1v2m0 140v4m0 16v1m0 30v2m0 7v1m0 25v2m0 7v2m0 11v2m0 12v3m0 27v1m0 3v4M1349.8 105v1m0 68v2m0 20v1m0 101v3m0 99v1m0 11v1m0 12v2m0 62v1m0 7v2m0 20v2m0 16v1m0 54v1m0 8v1M1375.8 103v2m0 38v2m0 44v1m0 49v2m0 22v1m0 18v1m0 37v1m0 6v3m0 181v4m0 7v2m0 31v2m0 27v2M1401.8 105v1m0 90v1m0 42v2m0 6v2m0 36v2m0 55v2m0 98v1m0 68v2m0 52v1M1427.8 263v1m0 174v2m0 16v1m0 46v2M1453.8 152v1m0 24v1m0 72v1m0 134v1m0 8v1m0 58v1M1479.8 159v2m0 193v2m0 119v1m0 10v1m0 19v1m0 1v1m0 80v1M1505.8 147v3m0 34v1m0 9v2m0 7v2m0 27v3m0 9v1m0 5v1m0 6v2m0 23v1m0 63v2m0 31v1m0 33v1m0 13v1m0 36v1m0 56v1m0 21v3m0 8v1m0 23v2m0 21v3M1531.8 213v1m0 161v1m0 82v3m0 49v1m0 60v3m0 24v1M1557.8 264v1m0 196v1m0 43v1m0 23v2M1583.8 183v1m0 24v1m0 53v1m0 63v1m0 55v1m0 78v1M1609.8 200v1m0 25v1m0 12v1m0 138v1m0 41v1m0 8v3m0 95v1m0 13v2m0 50v1m0 11v1M1635.8 153v1m0 289v1m0 13v1m0 41v2m0 95v2m0 2v1M1661.8 291v1m0 286v2m0 24v2M1687.8 136v1m0 41v1m0 9v1m0 37v1m0 100v1m0 205v2m0 27v2m0 27v1M1713.8 105v3m0 169v1m0 23v2m0 43v2m0 26v2m0 88v1m0 3v1m0 55v3m0 10v1m0 23v1m0 9v3m0 6v1M1739.8 425v1m0 51v1m0 30v1m0 90v1M1765.8 323v1m0 71v1m0 175v3m0 27v3M1791.8 101v2m0 16v2m0 262v1m0 29v1m0 72v1M1817.8 106v2m0 136v1M1869.8 135v1m0 442v2M1895.8 217v1m0 217v1m0 112v1m0 2v1M1921.8 177v1m0 168v1m0 108v1m0 40v1M1947.8 161v1m0 74v1m0 109v1m0 55v1m0 55v1m0 58v1m0 57v1M1973.8 241v1m0 8v1M1999.8 143v1m0 87v1m0 71v1m0 4v1m0 76v1m0 31v1M2025.8 197v1m0 13v1m0 356v1"/>
<path stroke="#99c" d="M1271.8 143v2m0 174v1m0 148v1M1401.8 479v2m0 85v2M1505.8 389v3M1713.8 161v1m0 39v2"/>
<path stroke="#d32" d="M1271.8 153v2m0 54v1m0 142v2m0 47v1M1297.8 145v2m0 88v2m0 90v3m0 4v1m0 14v3m0 44v2m0 17v2M1323.8 103v2m0 138v1m0 3v2m0 134v2M1349.8 135v1M1375.8 176v1m0 84v2M1401.8 170v2m0 33v2m0 108v2m0 104v1M1427.8 174v2m0 143v1m0 142v2m0 91v2M1453.8 107v1m0 113v1M1479.8 244v1m0 117v1m0 86v1m0 43v1m0 88v1M1505.8 283v2m0 183v1m0 53v2M1531.8 531v2m0 33v2M1557.8 296v1m0 126v1m0 24v2m0 85v2m0 57v2m0 5v3M1583.8 146v1m0 14v1m0 142v1m0 4v1m0 32v1m0 85v1m0 157v2m0 8v2M1609.8 398v1m0 12v1m0 33v3m0 89v1M1635.8 126v1m0 84v1m0 11v1m0 286v1M1661.8 100v1m0 246v1M1687.8 133v1m0 98v1m0 6v1m0 77v1m0 34v1m0 47v1m0 52v2M1713.8 337v3M1765.8 106v1m0 48v1m0 2v1m0 12v1m0 98v1m0 126v1M1791.8 107v1m0 261v1m0 229v2m0 3v2M1817.8 306v1m0 64v1m0 178v2m0 44v2m0 2v1M1843.8 135v1m0 325v1m0 134v5m0 3v2M1869.8 197v3m0 248v2m0 102v2m0 44v10M1895.8 598v1M1921.8 112v1m0 103v1m0 179v1m0 199v2m0 1v2m0 5v2M1947.8 133v1m0 90v1m0 97v1m0 66v1m0 60v1m0 62v1m0 82v2m0 6v2M1973.8 511v2M1999.8 344v1m0 108v2m0 44v2m0 100v3M2025.8 598v3m0 3v4"/>
<path stroke="#fcc" d="M1271.8 161v1m0 19v1m0 185v2m0 45v1m0 55v2M1297.8 194v2m0 72v2m0 65v2m0 43v2m0 175v1M1323.8 158v1m0 18v1m0 36v2m0 349v1m0 16v2M1349.8 170v2m0 22v2m0 116v3m0 92v1m0 5v1m0 6v1m0 17v2m0 18v3m0 6v2m0 8v2m0 37v1m0 24v2m0 7v2m0 30v2M1375.8 209v1m0 20v1m0 26v2m0 19v1m0 77v2m0 25v2m0 17v3m0 37v1m0 21v1m0 17v3m0 16v1m0 66v2m0 1v3m0 17v1m0 2v2M1401.8 129v3m0 19v2m0 16v1m0 24v2m0 1v3m0 126v1m0 10v3m0 61v1m0 87v1m0 23v2m0 18v4m0 10v2m0 6v2m0 36v1M1427.8 380v2M1453.8 269v1m0 7v1m0 84v1m0 15v1m0 10v1M1505.8 155v3m0 18v1m0 68v2m0 26v2m0 31v3m0 52v1m0 94v1m0 58v1m0 21v1m0 42v1M1531.8 239v1m0 361v3M1557.8 117v1m0 283v1M1583.8 230v1m0 1v1m0 54v1m0 169v1m0 131v2m0 1v1M1609.8 354v1m0 34v1m0 87v2M1635.8 294v1m0 45v1m0 187v1m0 72v5M1661.8 422v1M1687.8 380v1M1713.8 428v1m0 129v3m0 9v1m0 3v2M1739.8 446v2m0 37v1m0 114v1M1765.8 115v1m0 334v3m0 143v2M1791.8 196v1m0 121v1m0 233v1M1817.8 511v2M1843.8 246v1m0 64v1m0 281v1M1869.8 330v2m0 48v2m0 105v2M1895.8 227v1m0 99v1m0 181v1M1921.8 231v1m0 89v1m0 107v1m0 61v1m0 42v1M1947.8 456v1m0 44v1M1973.8 552v2M1999.8 262v1m0 80v1m0 59v2M2025.8 112v1m0 214v1m0 65v1m0 114v1"/>
<path stroke="#66b" d="M1271.8 162v2m0 36v1m0 9v2m0 9v2m0 26v1m0 25v2m0 46v1m0 2v1m0 22v3m0 121v1m0 13v2m0 30v2M1297.8 121v4m0 11v3m0 4v2m0 25v2m0 73v2m0 19v2m0 54v1m0 17v2m0 47v3m0 14v1m0 1v3m0 16v1m0 54v3m0 76v1m0 14v2m0 18v2M1323.8 170v2m0 49v2m0 80v2m0 43v1m0 22v1m0 4v1m0 21v2m0 68v1m0 1v2m0 41v2m0 4v2m0 6v1m0 7v2m0 10v2m0 15v1m0 13v2m0 1v1m0 9v1m0 14v2M1349.8 103v2m0 11v2m0 10v1m0 7v3m0 4v2m0 21v4m0 48v3m0 24v2m0 2v1m0 11v2m0 17v2m0 14v2m0 7v1m0 64v1m0 14v3m0 4v2m0 172v2m0 3v5m0 15v1M1375.8 106v2m0 45v2m0 29v1m0 11v1m0 93v1m0 3v2m0 7v2m0 21v1m0 19v2m0 105v2m0 31v1m0 8v1m0 10v2m0 80v1M1401.8 136v3m0 22v1m0 5v2m0 57v2m0 66v2m0 15v1m0 7v1m0 25v1m0 10v2m0 3v1m0 23v3m0 35v1m0 46v2M1427.8 116v5m0 29v1m0 31v2m0 259v1m0 152v2m0 2v1M1505.8 108v2m0 41v2m0 29v1m0 13v1m0 8v2m0 19v2m0 38v2m0 2v3m0 32v1m0 6v3m0 6v1m0 8v2m0 16v1m0 3v4m0 24v2m0 1v2m0 7v2m0 112v2m0 19v1m0 58v2M1713.8 108v2m0 6v5m0 15v3m0 8v3m0 3v2m0 34v1m0 3v4m0 6v2m0 16v2m0 3v2m0 2v2m0 7v2m0 3v1m0 7v2m0 21v2m0 6v2m0 6v2m0 19v3m0 12v5m0 10v2m0 17v1m0 1v2m0 6v3m0 3v1m0 5v2m0 3v1m0 5v2m0 9v2m0 8v2m0 6v2"/>
<path stroke="#44a" d="M1271.8 164v2m0 18v1m0 12v3m0 79v1m0 7v3m0 19v2m0 29v2m0 50v2m0 2v2m0 13v2M1297.8 110v2m0 70v1m0 42v1m0 5v1m0 19v1m0 5v2m0 14v2m0 3v1m0 8v3m0 42v2m0 11v1m0 16v1m0 35v2m0 2v3m0 7v1M1323.8 110v2m0 17v3m0 1v2m0 26v1m0 5v2m0 20v1m0 13v2m0 7v2m0 17v1m0 22v3m0 20v1m0 18v2m0 8v1m0 49v2m0 22v2m0 31v2m0 7v1m0 30v2m0 18v1m0 19v2m0 2v2m0 30v2m0 18v3m0 22v2M1349.8 125v2m0 54v1m0 7v1m0 54v1m0 2v2m0 10v2m0 45v1m0 33v2m0 35v1m0 44v1M1375.8 133v2m0 37v2m0 58v3m0 9v1m0 4v1m0 2v2m0 107v1m0 43v1m0 5v1m0 1v2m0 2v3M1401.8 106v2m0 31v2m0 60v2m0 56v2m0 37v3m0 33v1m0 9v1m0 13v2m0 52v1M1505.8 118v3m0 32v2m0 189v1m0 25v1m0 6v1m0 10v1m0 49v2m0 21v1m0 31v2m0 1v1m0 4v2"/>
<path stroke="#f99" d="M1271.8 172v2m0 63v2m0 4v1m0 57v2m0 43v2m0 29v1M1297.8 166v1m0 9v1m0 12v1m0 42v3m0 8v1m0 36v2m0 19v2M1323.8 128v1m0 21v1m0 30v1m0 44v2m0 2v1m0 26v2m0 64v1m0 48v2m0 18v2m0 14v3m0 39v3m0 113v2M1349.8 141v2m0 10v2m0 76v1m0 41v2m0 15v1m0 29v1m0 40v1m0 62v1m0 78v2m0 22v1M1375.8 177v1m0 134v5m0 43v1m0 47v3m0 1v1m0 157v1M1401.8 115v1m0 19v1m0 36v2m0 9v2m0 58v1m0 6v2m0 27v1m0 27v2m0 37v2m0 48v2m0 19v3m0 8v1m0 58v2m0 16v1m0 83v2M1427.8 378v1m0 117v1m0 47v2M1453.8 104v1m0 16v1m0 24v1m0 43v1m0 151v1m0 54v1m0 13v1m0 4v1M1479.8 243v1m0 79v1m0 154v1m0 48v1m0 26v1m0 40v1M1505.8 121v2m0 22v2m0 23v6m0 5v1m0 69v1m0 80v2m0 22v2m0 44v3m0 7v1m0 7v1m0 1v1m0 10v1m0 19v2m0 18v1m0 31v1m0 25v2m0 16v1m0 20v1M1531.8 182v1m0 20v1m0 219v1m0 8v1M1557.8 181v1m0 313v1m0 10v2m0 60v2M1583.8 106v1m0 108v1m0 30v1m0 29v1m0 200v2m0 120v1M1609.8 159v1m0 67v1m0 27v2m0 52v1m0 270v1m0 17v1M1635.8 139v1m0 3v1m0 38v1m0 1v1m0 24v1m0 51v1m0 114v1M1661.8 132v1m0 174v1m0 177v1m0 120v2M1687.8 139v1m0 3v1m0 73v1m0 4v1m0 63v1m0 43v1m0 59v2m0 4v1m0 8v1m0 36v1m0 128v3M1713.8 348v1m0 87v2m0 7v3m0 8v1m0 12v1m0 19v1m0 56v1m0 3v2M1739.8 430v2m0 4v1m0 70v1m0 68v1m0 24v3M1765.8 281v1m0 13v2m0 29v1m0 81v1m0 3v1m0 19v1M1791.8 112v1m0 48v1m0 8v1m0 18v1m0 14v1m0 108v3m0 78v1m0 11v1m0 9v1m0 36v1m0 20v1m0 4v1m0 101v1M1817.8 349v3M1843.8 214v1m0 110v1m0 112v1m0 63v1M1869.8 290v1m0 44v2m0 118v1m0 71v1M1895.8 359v1M1921.8 223v1m0 61v1m0 97v1m0 90v1m0 13v1m0 59v1M1947.8 147v1m0 161v1m0 9v1m0 33v1m0 9v1m0 186v1m0 4v1M1973.8 148v2m0 133v1m0 136v1m0 157v2M1999.8 118v1m0 16v1m0 148v1m0 24v1m0 2v1m0 24v1m0 16v1m0 57v1M2025.8 398v1"/>
<path stroke="#e77" d="M1271.8 176v1m0 26v2m0 20v1m0 4v1m0 67v3m0 21v1m0 21v1m0 60v1m0 16v2m0 87v2M1297.8 115v1m0 11v1m0 44v2m0 3v1m0 104v1m0 2v2m0 36v1m0 13v3m0 34v2m0 1v1m0 14v2m0 13v1m0 162v1M1323.8 125v2m0 5v1m0 2v1m0 28v2m0 26v1m0 4v3m0 9v3m0 13v1m0 40v2m0 41v2m0 23v1m0 32v2m0 5v2m0 26v3m0 22v1m0 16v1m0 20v2m0 50v2m0 38v1m0 3v1M1349.8 127v1m0 64v1m0 10v2m0 7v2m0 49v1m0 4v2m0 23v3m0 38v1m0 63v2m0 168v2M1375.8 201v2m0 2v4m0 50v2m0 14v2m0 2v1m0 43v1m0 11v2m0 32v1m0 10v2m0 40v1m0 101v3M1401.8 110v2m0 69v1m0 27v1m0 8v3m0 20v2m0 1v1m0 33v1m0 30v2m0 6v2m0 44v2m0 41v1m0 1v3m0 4v2m0 7v1m0 42v1m0 118v2M1427.8 207v2m0 113v1m0 11v1M1453.8 140v1m0 37v1m0 152v1m0 20v1M1479.8 396v2m0 28v1m0 36v1m0 31v1m0 15v1m0 67v1m0 13v1m0 4v1M1505.8 103v2m0 1v2m0 75v1m0 3v2m0 86v2m0 8v2m0 48v2m0 8v1m0 14v1m0 17v1m0 6v3m0 56v4m0 42v2m0 84v2M1531.8 129v1m0 98v1m0 61v1m0 26v1m0 40v1m0 103v2m0 26v2m0 57v1m0 15v1m0 2v2M1557.8 142v1m0 83v1m0 10v1m0 84v1m0 32v1m0 57v1m0 20v2m0 21v1m0 61v2m0 20v2m0 14v1m0 26v2M1583.8 152v1m0 11v1m0 119v1m0 5v1m0 88v1m0 12v1m0 32v2m0 83v1m0 32v1m0 8v2m0 1v2m0 24v1m0 24v2M1609.8 169v1m0 75v1m0 6v1m0 152v1m0 62v1m0 78v2m0 37v2M1635.8 186v1m0 49v1m0 46v1m0 160v1m0 31v1m0 19v1m0 38v2m0 12v1m0 4v1m0 3v3m0 3v1m0 29v2m0 2v1M1661.8 425v2m0 41v1M1687.8 201v1m0 11v1m0 187v1m0 25v1m0 4v1m0 24v1m0 28v1m0 2v1m0 2v1m0 18v4m0 67v2m0 17v3M1713.8 243v1m0 38v1m0 79v1m0 7v1m0 31v3m0 27v1m0 20v2m0 17v1m0 14v2m0 10v2m0 15v1m0 64v1M1739.8 173v1m0 63v1m0 162v1m0 56v1m0 40v1m0 46v1m0 4v1m0 11v1m0 3v1m0 16v1M1765.8 104v1m0 29v1m0 21v2m0 7v1m0 72v1m0 19v1m0 48v1m0 49v1m0 14v1m0 67v2m0 63v1m0 38v2m0 12v3M1791.8 123v1m0 8v1m0 3v1m0 2v1m0 68v1m0 15v1m0 52v1m0 74v1m0 56v2m0 23v1m0 24v2m0 57v1m0 43v1M1817.8 155v3m0 127v2m0 168v1m0 54v1m0 71v2M1843.8 170v1m0 31v1m0 167v1m0 78v1m0 49v1m0 6v1m0 21v1M1869.8 356v2m0 78v2m0 41v2m0 29v1m0 18v2m0 40v3M1895.8 181v1M1921.8 147v1m0 56v1m0 188v1m0 71v1m0 99v1m0 6v2M1947.8 155v1m0 65v1m0 27v1m0 43v1m0 34v2m0 39v1m0 20v2m0 171v1M1973.8 235v1m0 98v1m0 60v1m0 29v2M1999.8 206v1m0 156v1m0 17v1m0 43v2m0 45v1m0 92v1M2025.8 225v1m0 360v1"/>
<path stroke="#55a" d="M1271.8 177v1m0 23v2m0 166v1m0 8v1m0 15v2M1297.8 105v1m0 22v1m0 26v3m0 60v3m0 16v2m0 85v2M1323.8 100v3m0 9v3m0 21v3m0 8v3m0 102v2m0 72v1m0 36v4m0 33v1m0 24v2m0 7v2m0 21v1m0 28v1m0 28v1m0 22v3m0 48v2M1349.8 133v2m0 24v2m0 21v1m0 43v2m0 23v1m0 69v1m0 34v2m0 13v1m0 39v1M1375.8 158v1m0 84v1m0 73v2m0 33v2m0 38v2M1401.8 323v3m0 68v2m0 17v1M1505.8 231v1m0 3v2m0 31v2m0 10v2m0 11v1m0 21v2m0 89v1m0 4v1m0 30v1m0 31v2m0 9v1m0 71v1m0 34v1M1713.8 214v2"/>
<path stroke="#88c" d="M1271.8 182v1m0 242v2m0 2v3m0 2v4m0 10v2m0 5v2m0 1v3m0 1v2m0 12v1m0 9v1m0 9v1m0 6v2m0 1v2m0 2v1m0 10v1m0 5v1m0 7v2m0 9v4m0 14v2m0 8v2m0 2v3M1297.8 185v2m0 157v1m0 127v1m0 3v3m0 13v1m0 17v1m0 4v2m0 12v2m0 31v2m0 10v2m0 2v2m0 8v1m0 4v1m0 12v2M1323.8 155v3m0 101v2m0 145v1m0 98v1m0 35v2m0 61v2M1349.8 178v3M1375.8 170v2m0 111v2m0 103v1M1401.8 377v1m0 58v2M1427.8 125v2m0 9v3m0 102v2m0 72v2m0 71v1m0 13v3m0 20v2m0 9v2m0 19v1m0 7v2m0 22v1m0 39v2m0 4v2m0 37v4m0 6v2m0 20v2M1713.8 319v1m0 60v2"/>
<path stroke="#55b" d="M1271.8 183v1m0 177v1m0 40v3M1297.8 116v2m0 91v1m0 13v2m0 27v2m0 39v1m0 18v5m0 37v2m0 67v1M1323.8 139v2m0 94v4m0 230v1m0 9v2m0 40v1m0 40v2M1349.8 115v1m0 34v1m0 65v2m0 7v1m0 89v2m0 5v1m0 22v1m0 75v1M1375.8 181v1m0 46v2m0 5v2m0 64v2m0 62v2m0 7v2m0 1v1m0 188v2M1401.8 141v2m0 12v4m0 41v1m0 34v2m0 38v2m0 111v1m0 16v1m0 185v1M1505.8 129v3m0 34v1m0 134v4m0 17v2m0 48v2m0 26v1m0 24v2m0 35v2m0 13v2m0 105v2M1713.8 143v2m0 267v1m0 4v3"/>
<path stroke="#a69" d="M1271.8 190v2m0 55v2M1297.8 158v1m0 28v2m0 199v1M1323.8 485v1m0 30v1M1349.8 221v2m0 232v1m0 50v2M1375.8 578v2M1401.8 162v2m0 85v1m0 150v1m0 142v1M1427.8 147v3m0 47v3m0 93v1m0 140v2m0 9v3M1505.8 162v2m0 391v2M1713.8 166v1m0 182v3"/>
<path stroke="#e54" d="M1271.8 193v1m0 29v2m0 164v3M1323.8 178v3m0 2v1M1401.8 429v3m0 29v1M1505.8 414v1M1557.8 456v1m0 40v2m0 55v1M1583.8 557v1m0 33v1M1609.8 564v1M1635.8 468v1m0 32v1M1687.8 528v1M1869.8 181v1m0 326v2M1999.8 598v1"/>
<path stroke="#fba" d="M1271.8 207v2M1375.8 582v2M1505.8 192v1M1531.8 543v1M1557.8 511v2M1687.8 547v2M1765.8 606v2"/>
<path stroke="#b9b" d="M1271.8 216v2m0 353v3M1297.8 586v2m0 4v1M1349.8 517v2M1375.8 493v2m0 2v2m0 65v1M1427.8 132v1m0 77v2m0 180v2m0 59v2m0 13v1M1505.8 591v1M1817.8 237v2M1869.8 164v2m0 73v2"/>
<path stroke="#eaa" d="M1271.8 231v1M1401.8 474v2m0 100v2M1531.8 465v2M1557.8 458v3M1583.8 436v2M1687.8 440v2M1713.8 448v2m0 20v2m0 24v1m0 38v2"/>
<path stroke="#fdd" d="M1271.8 232v3M1297.8 174v2m0 20v1m0 101v3M1323.8 205v2m0 114v1m0 8v2m0 38v1m0 140v2m0 20v2M1349.8 177v1m0 27v2m0 57v2m0 142v3m0 23v2m0 37v1m0 7v1m0 40v2m0 56v1M1375.8 161v1m0 5v2m0 41v2m0 11v2m0 60v2m0 50v3m0 9v3m0 15v2m0 56v2m0 2v3m0 36v1m0 20v1m0 15v1m0 29v2M1401.8 177v1m0 118v2m0 7v1m0 63v1m0 107v2m0 18v2m0 58v1m0 20v2M1427.8 354v2M1453.8 189v1m0 75v1m0 334v1M1479.8 212v2M1505.8 139v2m0 18v2m0 64v1m0 21v2m0 10v2m0 135v2m0 69v1m0 128v2M1531.8 212v1m0 123v1m0 8v1m0 153v2m0 95v2M1557.8 196v1m0 141v2M1583.8 103v1m0 46v1m0 15v1m0 78v1m0 55v1M1609.8 383v1m0 127v2M1635.8 308v1m0 70v1M1661.8 369v1M1687.8 285v1m0 93v1m0 42v1M1713.8 433v1m0 158v1M1739.8 556v1M1765.8 428v1m0 114v1M1791.8 176v1m0 6v1m0 26v1m0 252v1m0 1v1m0 42v1m0 29v1M1817.8 127v1M1869.8 396v2M1895.8 519v1M1921.8 140v1m0 78v2m0 146v1M1947.8 156v2m0 35v1m0 131v1M1973.8 183v1m0 13v1m0 76v1M1999.8 113v2m0 43v1m0 136v1m0 59v1m0 188v2M2025.8 167v1m0 144v1"/>
<path stroke="#e99" d="M1271.8 250v1M1297.8 169v1m0 213v2M1323.8 194v2m0 328v3M1349.8 432v1m0 63v1m0 34v2m0 25v3M1375.8 389v3m0 116v2m0 7v2m0 33v2m0 3v1M1401.8 116v2m0 48v1m0 63v1m0 213v1m0 28v1m0 57v2m0 11v2M1427.8 487v2M1479.8 415v2M1505.8 185v2m0 221v3M1531.8 486v1m0 97v2M1583.8 456v1M1609.8 461v1m0 27v1m0 12v1m0 40v1M1635.8 448v2m0 52v1m0 12v1M1661.8 429v3m0 40v1m0 113v2M1687.8 433v3m0 105v2m0 1v2M1713.8 444v1m0 47v1M1869.8 243v1m0 52v2m0 23v1m0 197v2"/>
<path stroke="#a46" d="M1271.8 254v3M1427.8 424v1M1505.8 436v2"/>
<path stroke="#e76" d="M1271.8 270v3M1531.8 427v1M1609.8 433v1m0 79v2m0 67v2M1635.8 458v3m0 4v2M1713.8 320v1m0 196v2M1973.8 557v1"/>
<path stroke="#a57" d="M1271.8 282v1M1297.8 197v3m0 205v1m0 62v1M1323.8 169v1m0 167v3m0 20v2m0 218v1M1349.8 112v3m0 268v2M1401.8 121v2m0 150v2m0 145v1M1427.8 363v2m0 102v1m0 56v3M1505.8 327v3M1713.8 155v3m0 11v1m0 11v1m0 152v1m0 19v2m0 57v1"/>
<path stroke="#936" d="M1271.8 283v2"/>
<path stroke="#a8b" d="M1271.8 290v1m0 151v1M1297.8 203v2m0 196v1m0 91v2m0 6v1m0 82v2M1323.8 467v1m0 31v2M1349.8 354v2m0 22v1m0 61v2m0 139v1M1375.8 125v2m0 153v2m0 192v2M1401.8 270v3m0 152v2m0 131v3m0 23v2M1427.8 305v1m0 149v1m0 37v2m0 42v1M1713.8 125v2m0 240v2"/>
<path stroke="#99d" d="M1271.8 291v2m0 135v1m0 28v1m0 41v2m0 16v2M1297.8 277v1m0 104v1m0 46v3m0 21v3m0 5v1m0 19v1m0 51v4m0 9v1m0 21v2m0 28v1m0 2v5M1349.8 363v2m0 4v1m0 66v2m0 7v3m0 109v1M1375.8 118v3m0 323v1M1401.8 280v2M1427.8 225v1m0 170v2m0 130v1m0 4v2m0 26v1m0 6v2m0 10v1m0 20v3M1505.8 141v2m0 80v2m0 180v1m0 18v1m0 25v3m0 136v2M1869.8 116v5m0 7v1m0 3v1m0 8v2m0 8v2m0 9v2m0 2v1m0 3v2m0 10v1m0 7v2m0 1v1m0 11v2m0 7v2m0 2v3m0 31v2m0 7v2m0 19v1m0 37v1m0 1v1m0 19v2m0 1v3m0 21v1m0 43v1m0 8v1m0 5v1m0 13v1m0 24v1m0 6v2m0 6v3m0 5v2m0 10v1m0 3v2m0 27v2m0 25v2m0 16v1M1921.8 479v1"/>
<path stroke="#958" d="M1271.8 330v2m0 83v2M1297.8 230v1m0 33v2M1323.8 340v2m0 43v3m0 29v3M1349.8 110v2m0 49v1m0 157v1M1375.8 241v2M1401.8 153v2m0 256v1M1427.8 143v2m0 27v2m0 83v2M1505.8 309v2m0 251v2M1713.8 207v2m0 198v1"/>
<path stroke="#e65" d="M1271.8 354v2M1297.8 421v1M1349.8 197v3m0 111v1M1375.8 296v2m0 34v2M1427.8 312v3M1479.8 601v3M1505.8 216v2m0 34v2m0 235v1m0 38v1m0 45v2M1531.8 487v2m0 14v2M1583.8 455v1m0 14v2m0 59v2m0 25v3M1661.8 489v1m0 111v3M1687.8 600v1M1713.8 205v2m0 61v2m0 45v2m0 121v2m0 114v1m0 33v1M1765.8 464v1M1817.8 348v1M1869.8 184v1m0 93v1M1973.8 524v3"/>
<path stroke="#957" d="M1271.8 372v2M1297.8 247v2m0 42v2m0 67v1M1323.8 166v1m0 379v1M1349.8 365v2m0 21v1M1375.8 105v1m0 26v1m0 8v2m0 164v2M1401.8 261v2M1505.8 432v1"/>
<path stroke="#a9c" d="M1271.8 376v1m0 136v2m0 66v1m0 2v2m0 6v1M1297.8 432v1m0 72v1m0 11v2m0 31v2M1323.8 307v2m0 267v2M1349.8 243v1m0 189v1m0 51v1m0 35v1m0 67v2M1375.8 443v1M1401.8 538v3M1427.8 332v2m0 42v1m0 97v2m0 3v2M1505.8 533v2M1713.8 132v1"/>
<path stroke="#bad" d="M1271.8 400v1m0 80v1m0 72v1M1297.8 425v2m0 9v2m0 12v3m0 129v2M1349.8 465v2m0 117v2M1375.8 440v2M1401.8 438v2m0 25v2M1427.8 323v1m0 21v1M1869.8 161v1m0 34v1"/>
<path stroke="#bac" d="M1271.8 432v1m0 125v3M1297.8 490v2M1375.8 465v2m0 29v1M1401.8 522v2m0 5v2M1427.8 189v1m0 33v2m0 367v1M1713.8 225v1M1869.8 424v1m0 48v1"/>
<path stroke="#98d" d="M1271.8 433v1m0 55v1m0 96v2M1297.8 485v1m0 25v2m0 11v3M1427.8 181v1"/>
<path stroke="#cbd" d="M1271.8 438v2m0 117v1M1297.8 442v1M1349.8 476v1m0 93v1M1375.8 433v1m0 65v2m0 9v1m0 5v1m0 33v2M1401.8 458v3m0 29v2M1427.8 497v2M1479.8 127v1m0 34v2m0 160v2M1583.8 485v1m0 19v1M1687.8 549v1M1765.8 503v2m0 22v1M1817.8 225v1m0 151v1m0 2v2m0 97v2m0 81v2M1869.8 189v1m0 54v1m0 313v3M1999.8 456v1m0 1v3"/>
<path stroke="#87c" d="M1271.8 444v1M1297.8 489v1m0 59v1M1427.8 374v2m0 44v1m0 69v2"/>
<path stroke="#b9c" d="M1271.8 464v1M1297.8 496v1m0 9v2M1401.8 546v1M1427.8 221v2M1869.8 112v3m0 12v1m0 221v3"/>
<path stroke="#cbe" d="M1271.8 467v1M1479.8 259v2m0 37v3M1531.8 440v2M1583.8 445v3m0 55v2M1687.8 448v2m0 32v3m0 5v2m0 29v1m0 13v2M1765.8 493v2M1999.8 464v1"/>
<path stroke="#98c" d="M1271.8 477v2m0 23v1m0 12v1m0 77v1M1297.8 528v1m0 26v2M1323.8 344v1M1401.8 580v1M1427.8 340v2m0 4v2m0 24v2m0 136v1m0 80v1M1713.8 335v2m0 32v1"/>
<path stroke="#aad" d="M1271.8 482v3m0 12v2m0 30v2m0 65v2m0 1v2m0 5v2M1297.8 150v1m0 277v1m0 27v2m0 4v2m0 3v1m0 31v2m0 2v2m0 33v3m0 2v1M1323.8 273v2m0 70v1m0 126v1m0 82v2M1349.8 118v3m0 423v2M1375.8 428v1m0 152v1M1401.8 592v1m0 1v2m0 3v1m0 1v3M1427.8 193v1m0 183v1m0 55v1M1479.8 438v1m0 11v1m0 116v1M1505.8 434v2m0 29v2M1583.8 104v1m0 13v1m0 8v1m0 25v1m0 21v1m0 33v1m0 8v1m0 59v1m0 44v1m0 50v1m0 13v1m0 7v1m0 2v1m0 7v1m0 10v2M1713.8 254v3m0 229v1m0 51v3M1765.8 109v2m0 108v2m0 3v1m0 38v1m0 54v1m0 14v1m0 7v1m0 37v1m0 12v1M1817.8 103v2m0 7v3m0 3v3m0 4v2m0 8v1m0 7v4m0 31v3m0 6v2m0 1v2m0 20v4m0 2v3m0 10v1m0 15v2m0 17v2m0 9v1m0 1v1m0 41v2m0 40v2m0 14v1m0 3v2m0 9v2m0 19v5m0 4v3m0 30v4m0 3v1m0 9v2m0 20v1m0 18v1m0 1v2m0 55v4m0 14v4M1869.8 143v2m0 8v2m0 12v2m0 3v4m0 2v3m0 26v2m0 14v2m0 12v2m0 6v2m0 17v2m0 17v2m0 6v2m0 19v5m0 45v1m0 15v1m0 4v2m0 17v3m0 24v3m0 29v1m0 62v3M1999.8 165v1m0 62v1m0 34v1m0 41v1m0 103v2"/>
<path stroke="#cab" d="M1271.8 490v2M1349.8 443v2M1375.8 450v3M1427.8 121v2m0 248v1"/>
<path stroke="#b68" d="M1271.8 493v2M1297.8 445v3M1401.8 332v2M1427.8 135v1m0 25v1m0 87v1m0 173v1m0 40v1m0 12v2m0 110v2M1505.8 421v1m0 7v3m0 8v2M1713.8 241v2m0 83v1M1869.8 324v2m0 48v2m0 44v1m0 19v2m0 43v1m0 6v1"/>
<path stroke="#a9d" d="M1271.8 505v1M1297.8 589v2M1375.8 515v1M1401.8 510v1m0 38v1M1817.8 421v1M1869.8 129v3m0 4v3m0 6v5m0 9v2m0 8v1m0 22v1m0 10v2m0 7v2m0 35v2m0 3v3m0 11v2m0 5v2m0 16v1m0 13v2m0 14v1m0 8v2m0 6v2m0 18v2m0 15v1m0 11v3m0 9v1m0 15v3m0 30v3m0 5v3m0 16v2m0 112v1"/>
<path stroke="#c9b" d="M1271.8 508v2m0 84v2M1297.8 591v1M1323.8 162v2m0 225v3M1375.8 565v1m0 27v1M1401.8 432v1m0 163v3M1427.8 123v2m0 87v2m0 63v1m0 116v2m0 99v1M1479.8 133v3m0 38v2m0 13v4m0 10v2m0 80v2m0 16v3m0 6v3m0 2v2m0 26v1m0 32v2m0 2v1m0 19v3M1609.8 555v2M1687.8 438v2m0 15v1M1713.8 462v2m0 58v2m0 5v2m0 47v2M1765.8 462v2m0 82v1M1817.8 139v2m0 20v1m0 10v2m0 26v1m0 44v2m0 40v3m0 3v1m0 15v2m0 58v1m0 102v1M1869.8 177v1m0 63v2m0 62v1m0 3v2m0 33v1m0 3v1m0 33v1m0 98v1m0 14v1m0 41v5M1973.8 533v2M1999.8 443v1m0 18v2m0 13v2m0 36v1"/>
<path stroke="#fff" d="M1271.8 533v2m0 6v2M1297.8 527v1M1323.8 445v3m0 53v1M1349.8 303v2m0 224v2m0 30v1M1375.8 203v2m0 231v2m0 7v3m0 54v1m0 93v1M1401.8 132v1M1453.8 106v1m0 234v1m0 254v3m0 2v3M1479.8 280v2m0 192v1m0 55v1M1505.8 112v3m0 426v2m0 55v1M1583.8 126v1m0 62v1m0 126v1M1661.8 109v1M1687.8 306v1M1713.8 250v1m0 345v3m0 1v4M1791.8 236v1M1817.8 374v2M1895.8 206v1m0 34v1m0 225v1M1947.8 468v1M1973.8 453v2M1999.8 257v1"/>
<path stroke="#cce" d="M1271.8 537v1M1297.8 531v2M1349.8 513v2m0 81v3m0 1v1m0 1v6M1375.8 547v2M1401.8 552v2M1427.8 513v2M1453.8 125v1M1479.8 237v2m0 82v1m0 107v1m0 7v1m0 6v1m0 17v1m0 19v1m0 14v1m0 1v2m0 50v1m0 26v1m0 2v1m0 5v1M1531.8 100v8m0 1v3m0 1v9m0 1v5m0 6v1m0 2v13m0 2v9m0 1v17m0 2v1m0 2v7m0 1v2m0 1v8m0 1v8m0 2v3m0 2v3m0 1v1m0 1v3m0 1v7m0 1v2m0 1v1m0 3v3m0 1v10m0 2v3m0 2v9m0 1v11m0 1v3m0 2v17m0 1v3m0 3v1m0 2v9m0 2v6m0 1v4m0 1v3m0 1v2m0 2v5m0 1v2m0 1v1m0 1v3m0 1v5m0 1v4m0 1v1m0 1v1m0 1v6m0 3v11m0 1v5m0 2v1m0 4v1m0 1v2m0 3v3m0 1v1m0 18v5m0 9v1m0 24v3m0 7v1m0 15v2m0 9v2m0 3v3m0 2v2m0 2v2m0 3v3m0 5v3m0 1v2m0 26v3M1557.8 109v1m0 1v1m0 6v1m0 2v1m0 2v2m0 2v2m0 2v2m0 1v6m0 3v1m0 1v4m0 4v1m0 1v2m0 2v1m0 4v1m0 1v1m0 1v1m0 3v2m0 2v1m0 1v2m0 3v1m0 2v1m0 1v1m0 4v1m0 5v1m0 6v1m0 1v1m0 2v2m0 1v2m0 2v2m0 1v2m0 5v1m0 2v1m0 2v1m0 2v1m0 2v2m0 4v1m0 1v1m0 2v2m0 4v1m0 2v1m0 8v1m0 5v1m0 1v3m0 1v2m0 1v1m0 2v2m0 3v2m0 3v3m0 1v1m0 1v2m0 4v2m0 3v1m0 3v1m0 5v5m0 1v2m0 3v1m0 4v1m0 1v1m0 2v2m0 1v6m0 2v1m0 1v5m0 4v1m0 1v1m0 1v2m0 4v1m0 1v2m0 3v4m0 3v1m0 1v6m0 2v3m0 3v1m0 2v2m0 2v1m0 4v1m0 3v1m0 7v1m0 32v2m0 18v2m0 3v2m0 21v2m0 31v3m0 16v1m0 23v2M1583.8 109v1m0 9v2m0 8v1m0 62v1m0 12v1m0 27v2m0 53v2m0 23v2m0 2v1m0 42v1m0 48v2m0 1v1M1609.8 101v3m0 1v1m0 3v1m0 3v2m0 2v4m0 2v4m0 5v2m0 7v1m0 1v1m0 3v3m0 1v1m0 10v2m0 1v1m0 4v2m0 1v1m0 2v2m0 1v4m0 7v2m0 2v2m0 5v2m0 2v2m0 1v1m0 3v3m0 2v1m0 1v3m0 2v1m0 4v1m0 1v2m0 2v1m0 6v1m0 5v1m0 8v1m0 1v2m0 1v1m0 2v1m0 2v1m0 2v2m0 2v5m0 3v2m0 1v2m0 2v2m0 4v1m0 4v1m0 2v1m0 3v1m0 1v1m0 2v4m0 1v1m0 4v2m0 1v1m0 1v2m0 4v1m0 1v1m0 6v1m0 8v2m0 1v1m0 5v2m0 1v1m0 1v1m0 3v1m0 1v1m0 3v1m0 3v2m0 4v3m0 1v4m0 1v2m0 2v1m0 1v1m0 6v3m0 1v1m0 1v1m0 2v3m0 2v3m0 13v2m0 15v1m0 34v2m0 1v2m0 2v2m0 59v3m0 40v4m0 2v1M1635.8 101v2m0 4v3m0 1v1m0 3v1m0 2v3m0 1v2m0 1v1m0 2v1m0 3v1m0 2v2m0 3v1m0 4v1m0 1v3m0 1v2m0 2v1m0 5v2m0 4v1m0 1v1m0 3v2m0 2v2m0 4v1m0 4v1m0 1v1m0 1v2m0 1v1m0 4v3m0 1v2m0 1v1m0 6v4m0 3v2m0 1v2m0 3v2m0 1v1m0 2v1m0 3v1m0 1v2m0 1v1m0 1v1m0 4v6m0 5v1m0 1v3m0 1v2m0 1v2m0 2v2m0 1v1m0 1v1m0 4v2m0 4v1m0 4v1m0 1v1m0 2v1m0 1v1m0 3v1m0 1v2m0 1v1m0 2v2m0 1v1m0 2v2m0 1v2m0 2v4m0 1v1m0 10v2m0 1v1m0 5v1m0 11v1m0 3v2m0 3v1m0 2v2m0 5v1m0 4v5m0 2v1m0 1v1m0 1v3m0 3v1m0 1v3m0 1v1m0 1v1m0 1v9m0 2v1m0 33v1m0 27v1m0 98v1m0 2v1M1661.8 118v1m0 25v1m0 8v1m0 1v1m0 10v1m0 16v1m0 60v1m0 5v2m0 24v1m0 43v1m0 6v1m0 17v1m0 10v1m0 8v1m0 5v1m0 3v1m0 37v1m0 113v1m0 38v2M1687.8 106v2m0 3v4m0 4v2m0 1v1m0 2v2m0 7v1m0 5v1m0 5v2m0 2v2m0 1v1m0 4v2m0 5v3m0 4v1m0 1v2m0 1v1m0 4v1m0 1v1m0 2v1m0 1v4m0 1v1m0 14v1m0 5v1m0 3v2m0 2v1m0 1v1m0 1v3m0 3v4m0 3v2m0 7v1m0 2v2m0 1v3m0 3v1m0 3v1m0 2v1m0 1v1m0 2v1m0 1v1m0 6v3m0 3v3m0 1v2m0 5v2m0 2v2m0 5v3m0 3v1m0 3v1m0 1v2m0 2v1m0 4v1m0 1v1m0 3v1m0 2v1m0 4v4m0 1v2m0 3v1m0 2v2m0 1v1m0 5v2m0 1v1m0 3v1m0 1v1m0 1v1m0 3v7m0 4v2m0 8v2m0 3v4m0 1v1m0 1v1m0 42v3m0 36v2m0 7v2m0 85v3M1765.8 108v1m0 13v1m0 51v1m0 10v1m0 14v1m0 9v1m0 6v1m0 22v1m0 67v1m0 92v1m0 25v1m0 42v2m0 43v1M1791.8 100v1m0 9v1m0 5v2m0 7v1m0 2v1m0 5v1m0 2v2m0 2v5m0 5v1m0 1v2m0 4v2m0 1v3m0 7v2m0 7v1m0 4v1m0 1v1m0 4v1m0 1v1m0 1v1m0 2v2m0 1v1m0 1v1m0 12v1m0 3v1m0 3v2m0 1v1m0 9v1m0 3v1m0 4v3m0 2v5m0 6v1m0 2v1m0 2v3m0 1v1m0 5v1m0 1v2m0 1v1m0 1v1m0 2v2m0 4v1m0 1v1m0 2v1m0 3v1m0 2v1m0 8v1m0 1v1m0 3v1m0 1v3m0 2v1m0 2v1m0 3v1m0 2v3m0 1v2m0 1v3m0 3v1m0 3v3m0 3v1m0 2v1m0 3v1m0 1v3m0 2v3m0 1v1m0 2v5m0 1v4m0 1v2m0 1v1m0 4v2m0 3v1m0 2v1m0 2v1m0 2v1m0 2v1m0 1v3m0 3v1m0 1v3m0 2v1m0 6v1m0 7v3m0 1v1m0 1v1m0 1v1m0 3v1m0 4v1m0 3v1m0 1v1m0 1v1m0 7v2m0 2v1m0 5v1m0 2v2m0 3v1m0 4v1m0 2v1m0 3v1m0 3v1m0 2v2m0 5v1m0 3v2m0 2v1m0 5v2m0 1v1m0 1v1m0 1v2m0 8v1m0 2v1m0 3v2m0 1v2m0 2v4m0 2v2m0 7v1m0 1v1m0 1v1M1817.8 164v2m0 66v3m0 19v3m0 172v3m0 45v2M1869.8 187v2m0 74v1M1947.8 100v5m0 1v18m0 1v8m0 2v2m0 2v2m0 1v2m0 1v2m0 1v6m0 4v3m0 1v7m0 2v3m0 1v10m0 1v6m0 2v2m0 1v11m0 1v9m0 1v2m0 1v2m0 1v1m0 1v4m0 2v3m0 1v11m0 2v4m0 1v7m0 2v11m0 1v17m0 1v8m0 2v5m0 1v7m0 3v2m0 1v2m0 1v1m0 3v2m0 1v12m0 2v1m0 1v4m0 1v2m0 2v5m0 2v4m0 1v12m0 1v2m0 7v9m0 2v3m0 1v2m0 2v2m0 1v3m0 1v2m0 1v4m0 2v2m0 1v7m0 3v4m0 1v3m0 1v1m0 1v2m0 1v2m0 1v1m0 3v1m0 1v3m0 4v1m0 1v4m0 1v9m0 1v3m0 1v3m0 1v1m0 4v1m0 1v2m0 1v3m0 1v4m0 2v2m0 1v1m0 1v2m0 1v1m0 1v2m0 1v4m0 2v3m0 1v3m0 1v1m0 2v1m0 5v1m0 1v2m0 1v3m0 2v1m0 2v2m0 3v1m0 1v1m0 2v1m0 4v1m0 3v3m0 2v1m0 1v3m0 1v2M1973.8 100v3m0 1v3m0 2v10m0 2v2m0 2v10m0 1v12m0 2v1m0 2v1m0 1v3m0 1v4m0 1v1m0 1v3m0 1v2m0 1v4m0 1v5m0 1v2m0 1v10m0 1v9m0 1v19m0 1v7m0 1v1m0 2v1m0 2v6m0 3v23m0 1v8m0 1v15m0 2v22m0 2v8m0 3v2m0 2v16m0 1v3m0 1v3m0 1v3m0 1v7m0 1v3m0 1v5m0 2v2m0 2v3m0 1v4m0 1v2m0 2v4m0 2v9m0 1v3m0 4v1m0 7v2m0 2v3m0 1v9m0 2v1m0 5v1m0 3v2m0 1v1m0 1v3m0 3v1m0 8v1m0 4v3m0 2v2m0 24v1m0 21v1m0 3v3m0 11v1m0 3v1m0 2v2m0 14v5M1999.8 103v1m0 23v1m0 5v1m0 14v2m0 2v1m0 11v1m0 5v1m0 109v1m0 15v1m0 14v1m0 58v1m0 47v2m0 127v2m0 33v2M2025.8 213v1"/>
<path stroke="#97b" d="M1271.8 552v2M1427.8 413v1M1713.8 344v1"/>
<path stroke="#c67" d="M1271.8 598v1M1297.8 465v2M1427.8 112v3m0 51v1m0 191v2m0 47v1m0 6v1m0 87v1m0 40v1M1505.8 296v2M1713.8 261v2m0 59v1m0 99v1M1817.8 307v2m0 118v1m0 34v2m0 58v2M1869.8 123v2m0 96v2m0 83v1m0 30v3m0 58v2m0 69v3m0 29v1"/>
<path stroke="#b8a" d="M1271.8 601v3M1297.8 214v2m0 253v3M1375.8 469v1m0 7v2M1401.8 541v2M1427.8 400v1m0 10v1M1713.8 296v2m0 42v2m0 155v2m0 48v2m0 37v2M1765.8 490v2M1817.8 108v2m0 31v2m0 4v3m0 19v1m0 58v2m0 81v1m0 77v3m0 58v3m0 15v1m0 4v1m0 11v1m0 49v2M1869.8 176v1m0 58v2m0 42v1m0 14v2m0 104v1m0 11v1m0 84v2m0 29v1"/>
<path stroke="#bae" d="M1271.8 604v2M1479.8 411v1m0 8v1M1817.8 116v2m0 10v4m0 18v1m0 8v2m0 9v2m0 2v2m0 33v1m0 6v2m0 31v1m0 14v2m0 2v2m0 8v1m0 12v2m0 3v2m0 5v2m0 14v2m0 9v5m0 2v3m0 2v4m0 10v2m0 12v1m0 7v1m0 27v1m0 16v1m0 9v1m0 11v5m0 6v1m0 67v3m0 37v1m0 15v1M1999.8 537v1"/>
<path stroke="#a68" d="M1297.8 125v2m0 122v1M1323.8 250v1m0 230v1m0 21v2m0 63v2M1349.8 207v2m0 118v3M1401.8 372v2m0 127v1M1427.8 100v3m0 149v2m0 10v2m0 135v1m0 48v3m0 94v2M1505.8 237v2m0 132v1M1713.8 174v2m0 11v2m0 8v3m0 49v1m0 13v1m0 34v3m0 97v2m0 14v1"/>
<path stroke="#a58" d="M1297.8 133v2m0 55v2m0 52v1M1323.8 244v1m0 354v1M1349.8 382v1m0 59v1M1401.8 254v3m0 7v2M1427.8 169v1m0 26v1m0 71v2m0 21v2m0 179v1m0 131v2M1505.8 264v2m0 189v1m0 1v1M1713.8 129v3m0 58v2m0 20v2m0 66v2m0 23v1m0 50v2"/>
<path stroke="#fa9" d="M1297.8 139v2M1323.8 182v1M1427.8 194v2M1635.8 578v2M1713.8 533v2"/>
<path stroke="#a8a" d="M1297.8 161v1m0 281v1m0 75v2M1401.8 495v1M1427.8 458v3M1505.8 201v2M1713.8 247v2"/>
<path stroke="#946" d="M1297.8 192v1m0 97v1M1323.8 121v2m0 367v2M1349.8 330v2M1375.8 287v3M1401.8 232v3m0 127v1m0 29v2M1505.8 487v2m0 61v2M1713.8 285v2m0 45v2"/>
<path stroke="#c8a" d="M1297.8 207v2m0 371v1M1375.8 218v3m0 194v2M1401.8 503v2m0 59v1m0 9v2M1427.8 190v2m0 170v1m0 194v1M1479.8 103v2m0 10v1m0 2v3m0 15v3m0 8v3m0 8v1m0 22v1m0 11v1m0 41v2m0 38v3m0 23v2M1531.8 470v2M1557.8 462v2M1583.8 468v1m0 92v1m0 12v2M1687.8 469v1m0 68v3m0 13v1m0 13v2M1765.8 436v2m0 10v2m0 15v2m0 61v1m0 12v2m0 14v1m0 28v2M1817.8 121v4m0 33v1m0 80v2m0 2v1m0 31v2m0 49v1m0 19v2m0 59v1m0 32v2m0 28v2m0 33v1m0 7v2m0 46v1M1869.8 317v3m0 74v2m0 11v4m0 105v1m0 4v1m0 25v2m0 5v1m0 21v2M1999.8 522v2m0 19v1"/>
<path stroke="#eef" d="M1297.8 228v2M1323.8 282v1m0 199v3M1349.8 201v2m0 120v1m0 105v3m0 18v3M1375.8 251v1m0 168v1m0 141v2M1401.8 521v1M1453.8 100v1m0 7v2m0 1v1m0 1v4m0 1v1m0 3v1m0 1v1m0 5v3m0 1v1m0 2v3m0 1v2m0 4v1m0 8v2m0 3v1m0 2v3m0 2v4m0 1v2m0 5v1m0 2v1m0 1v1m0 1v1m0 3v1m0 1v1m0 3v2m0 5v5m0 2v4m0 7v1m0 1v3m0 4v5m0 8v2m0 4v2m0 1v4m0 1v1m0 1v1m0 6v1m0 2v3m0 1v2m0 2v1m0 2v2m0 1v1m0 2v2m0 1v3m0 2v3m0 2v1m0 3v1m0 1v1m0 1v2m0 1v1m0 4v2m0 6v2m0 3v1m0 15v1m0 1v1m0 4v2m0 1v1m0 1v2m0 1v1m0 6v5m0 1v2m0 3v1m0 1v1m0 2v1m0 5v4m0 1v1m0 4v3m0 5v3m0 7v2m0 1v1m0 13v1m0 30v1m0 9v1m0 11v1m0 4v1m0 7v1m0 3v1m0 17v1m0 4v1m0 12v1m0 1v3m0 10v1m0 1v1m0 24v1m0 15v1m0 6v2M1505.8 593v1m0 10v2M1557.8 306v1M1583.8 122v1M1609.8 325v1M1713.8 606v2M1739.8 230v1M1765.8 417v1M1791.8 500v1m0 69v1M1843.8 107v1m0 57v1m0 22v1m0 72v1m0 28v1m0 13v1m0 12v1m0 22v1m0 1v1m0 55v1m0 55v1m0 3v1M1869.8 228v2M1895.8 100v4m0 1v5m0 1v1m0 1v22m0 1v4m0 1v2m0 1v9m0 2v3m0 1v3m0 1v14m0 1v3m0 3v3m0 1v5m0 1v6m0 1v3m0 1v1m0 2v2m0 1v4m0 1v1m0 1v9m0 1v5m0 2v2m0 1v3m0 2v2m0 1v3m0 1v1m0 2v7m0 1v6m0 1v5m0 1v7m0 1v8m0 1v1m0 1v4m0 1v8m0 1v6m0 2v2m0 1v3m0 2v4m0 1v3m0 1v3m0 1v5m0 1v6m0 1v4m0 1v2m0 1v2m0 1v3m0 1v1m0 1v9m0 1v1m0 1v5m0 1v1m0 1v2m0 1v1m0 2v7m0 1v1m0 1v15m0 3v1m0 1v3m0 1v3m0 4v2m0 1v1m0 1v1m0 1v2m0 1v1m0 1v4m0 1v1m0 2v11m0 1v2m0 1v1m0 1v6m0 2v4m0 1v3m0 3v2m0 1v12m0 1v4m0 1v1m0 2v1m0 1v4m0 1v9m0 1v6m0 1v7m0 1v2m0 2v1m0 2v6m0 1v3m0 1v4m0 1v1m0 1v4m0 1v2m0 1v6m0 1v3m0 1v7M1999.8 159v1m0 193v1m0 59v1M2025.8 104v1m0 20v1m0 3v1m0 21v1m0 12v1m0 4v2m0 14v1m0 8v1m0 70v1m0 4v1m0 27v1m0 3v1m0 31v1m0 22v1m0 21v1m0 40v1m0 49v1m0 9v1m0 24v1m0 32v1m0 45v1"/>
<path stroke="#f98" d="M1297.8 261v2M1323.8 280v2M1401.8 303v2m0 7v3m0 20v2M1531.8 468v2M1583.8 472v1m0 13v1M1635.8 599v1M1713.8 474v2m0 45v1m0 9v2m0 8v2M1999.8 428v1"/>
<path stroke="#969" d="M1297.8 263v1m0 45v2m0 270v1M1349.8 406v1M1375.8 164v2M1401.8 133v2m0 131v2M1427.8 209v1m0 20v1m0 13v1m0 45v1m0 12v2m0 15v1m0 9v2m0 141v1m0 18v1m0 12v1m0 9v1M1505.8 535v2M1713.8 218v3m0 171v2"/>
<path stroke="#76b" d="M1297.8 270v3M1323.8 474v2M1505.8 561v1"/>
<path stroke="#ddf" d="M1297.8 311v1M1323.8 335v2M1349.8 326v1m0 178v1M1375.8 456v1m0 4v1m0 41v2m0 75v1m0 17v1m0 1v1m0 1v6M1401.8 486v1m0 67v1M1453.8 101v3m0 1v1m0 4v1m0 1v1m0 4v1m0 1v2m0 5v1m0 2v1m0 3v1m0 1v2m0 7v2m0 4v2m0 1v3m0 2v1m0 1v1m0 1v2m0 3v1m0 5v1m0 2v1m0 5v2m0 1v1m0 1v1m0 3v1m0 1v1m0 1v3m0 2v1m0 1v3m0 5v2m0 4v5m0 1v1m0 1v1m0 4v3m0 5v1m0 1v2m0 1v3m0 2v1m0 1v1m0 3v1m0 4v1m0 1v1m0 1v3m0 2v1m0 10v1m0 1v2m0 2v1m0 2v1m0 6v2m0 3v2m0 1v1m0 1v1m0 3v1m0 2v1m0 4v1m0 2v6m0 2v1m0 4v2m0 1v6m0 2v3m0 3v3m0 3v1m0 4v1m0 2v1m0 1v3m0 5v1m0 3v1m0 2v1m0 1v2m0 2v3m0 9v2m0 5v1m0 7v3m0 1v1m0 2v1m0 1v2m0 1v10m0 1v17m0 2v11m0 1v7m0 1v1m0 1v4m0 1v6m0 1v3m0 2v6m0 2v3m0 1v17m0 1v4m0 1v12m0 1v1m0 3v1m0 1v3m0 1v3m0 2v1m0 1v9m0 1v7m0 1v3m0 1v2m0 1v12M1531.8 315v1m0 276v1M1557.8 344v1m0 188v2M1583.8 113v2m0 247v1M1661.8 115v1m0 60v1m0 33v1m0 17v1m0 6v1m0 60v1m0 46v1m0 2v1m0 98v3M1687.8 185v1M1713.8 584v2M1739.8 100v3m0 6v1m0 1v1m0 1v5m0 4v2m0 8v2m0 2v1m0 4v1m0 2v1m0 2v3m0 2v1m0 1v2m0 2v2m0 4v1m0 1v2m0 1v1m0 1v1m0 2v3m0 7v1m0 3v5m0 5v2m0 1v3m0 5v2m0 1v3m0 2v1m0 1v3m0 1v2m0 2v1m0 3v5m0 3v1m0 1v2m0 2v2m0 1v1m0 1v1m0 1v2m0 4v5m0 2v3m0 5v2m0 3v1m0 7v1m0 6v3m0 1v2m0 5v6m0 3v2m0 1v2m0 1v1m0 2v1m0 1v1m0 5v2m0 1v3m0 1v1m0 2v1m0 1v1m0 1v1m0 2v2m0 3v2m0 1v1m0 3v1m0 1v1m0 1v1m0 2v1m0 2v2m0 2v1m0 1v7m0 2v4m0 2v2m0 1v1m0 1v3m0 4v1m0 3v1m0 1v4m0 4v1m0 1v3m0 1v3m0 10v1m0 1v1m0 4v2m0 4v1m0 1v1m0 2v1m0 5v3m0 3v3m0 3v2m0 3v1m0 1v1m0 4v2m0 4v1m0 1v2m0 1v1m0 2v1m0 1v1m0 2v1m0 2v1m0 3v2m0 4v2m0 1v1m0 3v2m0 1v2m0 2v1m0 1v1m0 1v1m0 3v1m0 5v1m0 2v1m0 4v1m0 3v1m0 2v1m0 4v1m0 4v3m0 1v3m0 5v2m0 4v1m0 1v3m0 2v2M1765.8 598v1M1791.8 478v1m0 105v1m0 1v1M1843.8 100v4m0 1v2m0 1v8m0 2v6m0 1v2m0 1v5m0 1v1m0 1v1m0 2v8m0 1v17m0 1v4m0 1v7m0 1v9m0 1v11m0 1v1m0 1v8m0 1v2m0 1v7m0 1v5m0 1v14m0 1v2m0 1v14m0 1v5m0 1v5m0 1v9m0 1v6m0 1v6m0 1v6m0 1v6m0 2v4m0 1v7m0 1v12m0 3v1m0 1v4m0 1v7m0 1v14m0 1v5m0 1v21m0 1v3m0 1v8m0 1v2m0 1v3m0 2v5m0 1v2m0 1v3m0 2v4m0 1v3m0 1v1m0 1v4m0 1v4m0 1v3m0 1v2m0 1v4m0 1v22m0 1v2m0 1v4m0 1v1m0 1v2m0 1v3m0 2v9m0 1v3m0 1v6m0 2v2m0 1v10m0 1v18m0 1v12m0 1v2m0 1v5m0 1v6m0 1v1m0 2v1M1895.8 104v1m0 5v1m0 1v1m0 22v1m0 4v1m0 2v1m0 9v2m0 3v1m0 3v1m0 19v2m0 3v1m0 12v1m0 3v1m0 2v1m0 2v1m0 4v1m0 17v2m0 7v1m0 6v1m0 1v1m0 8v1m0 20v1m0 8v1m0 1v1m0 4v1m0 15v2m0 2v1m0 3v2m0 8v1m0 3v1m0 5v1m0 6v1m0 4v1m0 9v1m0 1v1m0 9v1m0 1v1m0 5v1m0 1v1m0 2v1m0 1v2m0 7v1m0 1v1m0 15v1m0 3v1m0 3v1m0 3v4m0 4v1m0 4v1m0 1v1m0 6v2m0 11v1m0 4v1m0 6v2m0 4v1m0 3v3m0 2v1m0 12v1m0 6v2m0 16v1m0 6v1m0 10v1m0 2v1m0 16v1m0 6v1m0 9v1m0 3v1M1921.8 101v2m0 1v1m0 3v1m0 1v2m0 1v4m0 4v1m0 5v2m0 3v1m0 1v3m0 5v1m0 1v3m0 1v2m0 2v6m0 1v1m0 1v1m0 1v2m0 1v1m0 2v1m0 1v1m0 1v4m0 2v2m0 1v5m0 2v2m0 2v2m0 6v1m0 3v2m0 5v3m0 2v2m0 2v1m0 2v1m0 1v1m0 2v2m0 1v1m0 2v1m0 2v1m0 1v1m0 3v2m0 1v1m0 2v1m0 1v5m0 2v1m0 1v3m0 3v3m0 1v2m0 1v1m0 6v4m0 7v4m0 2v1m0 3v4m0 1v3m0 1v4m0 2v1m0 1v1m0 3v1m0 3v1m0 5v1m0 2v5m0 2v1m0 3v1m0 4v1m0 4v1m0 2v1m0 3v1m0 1v1m0 3v2m0 5v1m0 2v1m0 3v1m0 4v3m0 3v1m0 2v1m0 1v5m0 2v1m0 1v5m0 1v1m0 6v2m0 1v1m0 1v2m0 1v4m0 1v1m0 2v1m0 1v1m0 4v1m0 3v2m0 7v1m0 2v1m0 1v2m0 1v1m0 1v1m0 1v1m0 2v1m0 1v3m0 3v4m0 1v1m0 6v1m0 4v1m0 2v2m0 3v1m0 1v1m0 4v1m0 1v1m0 1v1m0 2v1m0 2v6m0 3v1m0 3v1m0 1v1m0 3v1m0 1v2m0 1v1m0 1v1m0 2v1m0 1v4m0 3v1m0 1v1m0 2v1m0 8v1m0 7v1m0 1v2m0 2v1m0 3v2M1947.8 498v1M1973.8 574v2M1999.8 251v1M2025.8 100v4m0 1v7m0 3v4m0 2v4m0 1v1m0 1v1m0 1v12m0 1v8m0 1v2m0 1v5m0 1v3m0 1v2m0 1v1m0 2v13m0 2v3m0 1v1m0 1v2m0 1v2m0 1v13m0 1v1m0 1v11m0 1v2m0 1v36m0 1v1m0 1v2m0 1v8m0 1v4m0 1v3m0 2v8m0 1v3m0 1v1m0 2v6m0 1v7m0 1v1m0 1v4m0 1v5m0 2v6m0 1v1m0 1v1m0 1v1m0 1v9m0 1v2m0 1v9m0 1v6m0 1v1m0 1v13m0 1v4m0 1v9m0 1v6m0 1v1m0 1v2m0 1v20m0 1v6m0 1v1m0 1v12m0 2v5m0 1v7m0 1v1m0 1v6m0 1v8m0 1v4m0 1v3m0 1v2m0 1v13m0 1v4m0 1v6m0 1v1m0 1v1m0 1v2m0 1v4m0 2v20m0 3v3m0 2v8m0 4v7"/>
<path stroke="#b79" d="M1297.8 346v2M1323.8 358v2M1349.8 121v2m0 221v1M1375.8 458v3m0 76v1M1427.8 159v2m0 100v2m0 64v3m0 7v3m0 177v2M1713.8 200v1m0 15v2m0 88v1M1869.8 183v1m0 17v2m0 151v2m0 23v1m0 106v1m0 107v2"/>
<path stroke="#97a" d="M1297.8 356v2m0 13v1m0 86v3m0 25v1m0 60v2M1323.8 442v1M1349.8 360v1M1401.8 128v1M1427.8 335v2m0 179v1M1713.8 115v1"/>
<path stroke="#b8b" d="M1297.8 385v3m0 45v1m0 53v2M1349.8 576v2M1427.8 176v1m0 149v1m0 181v2m0 78v1M1505.8 167v2m0 9v3M1713.8 237v2M1869.8 110v2m0 38v1m0 34v2m0 64v1m0 210v2"/>
<path stroke="#cac" d="M1297.8 438v2M1349.8 547v2M1401.8 453v2m0 2v1m0 23v1m0 86v2m0 34v2M1427.8 266v2m0 26v2m0 256v2M1479.8 166v1m0 179v2M1583.8 516v1M1687.8 516v1m0 53v1M1713.8 273v2m0 226v2m0 25v1M1739.8 598v1M1765.8 443v1M1817.8 177v1m0 3v1m0 23v2m0 108v4m0 53v2m0 8v1m0 5v1m0 54v1m0 49v2m0 57v2M1869.8 133v2m0 330v2m0 70v1M1999.8 497v2m0 14v2m0 43v3"/>
<path stroke="#d9a" d="M1297.8 444v1M1375.8 438v2m0 50v2M1401.8 550v2M1427.8 389v3M1479.8 106v2m0 4v3m0 139v3m0 25v1m0 49v2m0 64v2M1531.8 476v1m0 29v2m0 27v2M1557.8 489v1m0 2v1m0 6v2m0 60v1m0 24v2M1583.8 427v1m0 30v3m0 15v1m0 44v1m0 25v2m0 17v2m0 2v4m0 6v1M1609.8 465v2m0 28v1M1635.8 442v1m0 2v3m0 90v3m0 25v2m0 14v2M1661.8 440v2m0 1v1m0 4v2m0 12v2m0 85v1M1687.8 501v1m0 6v2m0 9v2m0 25v1m0 34v1m0 4v2M1713.8 493v2m0 99v2M1765.8 482v3m0 32v2m0 30v1M1817.8 312v3m0 86v1m0 9v1m0 26v2m0 55v1m0 12v2m0 55v1m0 22v1M1869.8 425v2m0 6v1m0 42v1M1973.8 429v3m0 1v3m0 21v1m0 16v2m0 41v2m0 9v1m0 51v1M1999.8 438v2"/>
<path stroke="#c9a" d="M1297.8 464v1m0 14v2M1375.8 576v2m0 11v2m0 1v1M1401.8 524v3M1427.8 214v2M1583.8 499v2M1635.8 571v3M1973.8 570v1m0 22v1M1999.8 584v2"/>
<path stroke="#c78" d="M1297.8 473v1m0 47v1M1323.8 601v3M1427.8 178v3m0 171v2m0 28v1M1479.8 145v2m0 17v2m0 18v1m0 31v2m0 21v2m0 8v1m0 90v2m0 28v1m0 37v3m0 1v1m0 9v2M1583.8 481v1m0 56v3m0 21v2M1687.8 529v2m0 12v1M1713.8 183v1m0 301v1M1765.8 467v1m0 18v1m0 78v1m0 8v4M1817.8 203v2m0 75v2m0 79v1m0 3v2m0 18v3m0 8v2m0 30v1m0 7v2m0 23v1m0 19v1m0 5v2M1869.8 115v1m0 356v1M1999.8 481v1m0 3v1m0 22v2m0 17v1m0 53v1m0 10v1"/>
<path stroke="#bbd" d="M1297.8 497v2M1323.8 108v2M1349.8 499v2M1375.8 225v1m0 302v1M1401.8 571v3m0 14v1M1427.8 232v3M1869.8 266v2m0 2v3"/>
<path stroke="#c57" d="M1297.8 502v1M1427.8 228v2"/>
<path stroke="#c89" d="M1297.8 522v2M1427.8 482v3m0 42v1M1479.8 266v2m0 5v2m0 69v1m0 49v2M1583.8 513v2m0 73v1M1687.8 425v2M1765.8 457v1m0 77v2M1817.8 506v2M1999.8 470v2m0 39v2"/>
<path stroke="#dac" d="M1297.8 554v1M1479.8 356v2M1531.8 434v2m0 19v1m0 23v2m0 16v2m0 56v3m0 23v1M1557.8 474v2m0 40v1m0 41v3M1583.8 432v1m0 46v2M1609.8 425v2m0 95v2M1635.8 479v2m0 36v2M1687.8 428v1m0 14v1m0 73v2m0 46v1M1713.8 442v1m0 39v3M1765.8 592v1M1817.8 570v1M1869.8 468v1M1973.8 462v2m0 41v1m0 2v2m0 17v1m0 1v2m0 23v1M1999.8 528v1m0 28v1"/>
<path stroke="#bbe" d="M1297.8 558v3M1349.8 508v2M1375.8 135v1M1479.8 105v1m0 4v2m0 17v3m0 35v5m0 6v3m0 2v1m0 1v2m0 10v4m0 8v3m0 11v5m0 2v5m0 6v2m0 4v2m0 12v2m0 24v3m0 1v2m0 27v1m0 1v1m0 3v4m0 12v2m0 5v3m0 6v4m0 1v7m0 2v2m0 2v2m0 2v2m0 1v2m0 3v1m0 3v2m0 6v1m0 4v1m0 1v1m0 17v1m0 2v1m0 1v2m0 2v3m0 2v5m0 1v4m0 2v4m0 1v6m0 2v3m0 2v3m0 1v1m0 2v2m0 1v3m0 1v3m0 2v5m0 1v1m0 1v1m0 1v1m0 2v5m0 3v2m0 1v11m0 2v2m0 1v2m0 1v5m0 1v4m0 2v5m0 1v1m0 2v2m0 1v12m0 3v2m0 2v1m0 1v2m0 2v1m0 2v4m0 1v1m0 2v2M1531.8 112v1m0 15v1m0 62v1m0 82v1m0 102v1m0 8v2m0 18v2m0 1v2m0 6v3M1583.8 100v3m0 4v2m0 1v2m0 3v1m0 1v1m0 6v2m0 2v1m0 1v9m0 1v5m0 2v3m0 1v1m0 2v7m0 1v2m0 1v1m0 1v6m0 1v1m0 1v6m0 2v4m0 2v1m0 3v1m0 2v8m0 2v1m0 2v3m0 3v2m0 1v3m0 2v2m0 1v3m0 1v1m0 3v7m0 1v2m0 2v3m0 1v8m0 1v2m0 1v10m0 2v1m0 4v4m0 2v1m0 5v5m0 1v1m0 6v4m0 1v3m0 2v1m0 2v2m0 1v2m0 1v2m0 1v3m0 1v11m0 2v5m0 1v10m0 5v9m0 2v1m0 1v1m0 1v1m0 2v5m0 2v2m0 1v3m0 2v1m0 1v7m0 4v1m0 1v1m0 1v3m0 3v1m0 1v2m0 17v2m0 4v2m0 15v2m0 35v1m0 21v3m0 1v1m0 4v2m0 19v1m0 23v2m0 2v2M1635.8 179v2M1687.8 103v3m0 2v2m0 5v4m0 2v1m0 5v5m0 3v1m0 1v2m0 2v2m0 1v2m0 2v2m0 4v1m0 5v1m0 2v2m0 5v2m0 1v1m0 2v1m0 2v2m0 5v1m0 8v2m0 1v2m0 2v4m0 1v1m0 2v2m0 2v1m0 1v1m0 1v1m0 11v1m0 7v1m0 3v7m0 5v1m0 4v2m0 1v3m0 1v1m0 2v1m0 1v2m0 1v1m0 3v1m0 2v1m0 5v1m0 3v1m0 2v4m0 3v2m0 2v1m0 1v3m0 3v3m0 2v2m0 1v1m0 3v1m0 2v2m0 11v1m0 15v1m0 7v2m0 2v1m0 3v1m0 1v1m0 1v1m0 3v1m0 10v1m0 2v1m0 2v2m0 2v1m0 9v1m0 1v1m0 2v3m0 1v1m0 1v2m0 31v1m0 65v2m0 31v2m0 9v2m0 8v2m0 14v1M1765.8 100v1m0 2v1m0 3v1m0 3v4m0 1v1m0 1v1m0 2v1m0 1v4m0 1v1m0 1v4m0 1v4m0 1v7m0 1v7m0 4v4m0 1v1m0 1v3m0 3v2m0 3v1m0 1v4m0 1v1m0 2v7m0 1v5m0 1v5m0 1v1m0 1v1m0 1v2m0 1v3m0 1v1m0 3v1m0 2v3m0 1v3m0 1v5m0 1v1m0 1v6m0 2v1m0 3v1m0 1v2m0 2v2m0 1v1m0 1v4m0 1v1m0 1v9m0 2v10m0 1v2m0 2v4m0 1v1m0 1v3m0 2v2m0 4v3m0 1v1m0 1v2m0 1v1m0 2v3m0 2v1m0 1v4m0 2v1m0 1v2m0 1v10m0 1v1m0 1v7m0 1v4m0 1v1m0 3v4m0 1v1m0 1v1m0 1v4m0 2v2m0 1v2m0 1v1m0 1v1m0 1v1m0 2v2m0 2v1m0 1v3m0 1v3m0 2v2m0 1v4m0 4v3m0 1v1m0 8v1m0 1v4m0 8v1m0 4v1m0 10v1m0 6v2m0 6v3m0 6v1m0 14v2m0 6v5m0 5v2m0 2v2m0 2v4m0 11v2m0 10v1m0 3v3m0 7v6m0 9v1M1817.8 100v3m0 2v1m0 47v2m0 28v1m0 8v1m0 1v3m0 4v2m0 20v2m0 16v2m0 8v3m0 3v2m0 11v5m0 7v1m0 7v1m0 3v2m0 44v2m0 12v2m0 2v2m0 2v1m0 4v2m0 29v2m0 2v3m0 27v1m0 20v2m0 12v1m0 8v1m0 5v3m0 4v1m0 43v2m0 2v1m0 3v2m0 6v1m0 16v2m0 23v1M1947.8 141v1m0 12v1m0 14v1m0 15v1m0 10v1m0 29v1m0 5v1m0 69v1m0 42v1m0 2v1m0 8v1m0 24v1m0 93v1m0 20v1m0 61v2m0 5v1M1973.8 123v1m0 39v1m0 1v1m0 20v1m0 40v1m0 9v1m0 11v1m0 88v2m0 20v1m0 3v1m0 15v1m0 9v2m0 143v2m0 54v1M1999.8 100v3m0 1v9m0 2v3m0 3v6m0 1v2m0 2v1m0 1v1m0 1v1m0 3v2m0 2v3m0 3v2m0 1v5m0 2v2m0 1v1m0 3v3m0 2v28m0 1v5m0 2v3m0 1v3m0 1v1m0 1v6m0 2v2m0 2v1m0 1v6m0 1v1m0 1v1m0 2v7m0 1v1m0 1v1m0 4v2m0 3v1m0 1v1m0 1v5m0 1v1m0 1v1m0 1v2m0 1v3m0 3v3m0 1v3m0 4v5m0 1v1m0 2v1m0 2v1m0 2v2m0 1v2m0 1v5m0 1v3m0 2v7m0 1v5m0 2v5m0 2v1m0 3v7m0 2v5m0 1v9m0 2v3m0 3v6m0 1v1m0 1v6m0 2v4m0 2v1m0 2v3m0 3v2m0 1v2m0 2v1m0 5v1m0 8v1m0 1v1m0 5v3m0 4v1m0 7v3m0 1v1m0 9v2m0 5v4m0 6v1m0 4v4m0 1v2m0 2v1m0 6v2m0 14v2m0 14v3m0 3v2m0 4v3m0 4v3m0 9v1m0 5v2m0 3v1m0 1v1"/>
<path stroke="#dbd" d="M1297.8 566v2M1323.8 432v1M1349.8 474v2M1375.8 558v3M1479.8 214v2m0 54v3M1557.8 517v2M1583.8 450v3m0 62v1m0 33v1M1609.8 481v1M1635.8 527v1M1661.8 470v2m0 33v1M1687.8 524v3m0 57v2M1713.8 476v1M1765.8 468v1m0 39v2M1817.8 136v3m0 58v3m0 222v1M1869.8 194v2m0 29v1m0 141v2m0 54v1M1973.8 503v2m0 14v2m0 25v1M1999.8 474v2"/>
<path stroke="#d89" d="M1323.8 115v1M1427.8 546v1M1479.8 108v2m0 31v2m0 44v2m0 163v2M1531.8 473v3m0 5v1m0 3v1m0 3v1m0 32v2m0 34v3M1557.8 470v2m0 10v3m0 23v3m0 13v3m0 35v2M1583.8 495v1m0 1v2m0 18v2M1609.8 462v2m0 3v1m0 8v1m0 22v2m0 23v3m0 38v1m0 2v2m0 1v3m0 18v1M1635.8 434v2m0 67v2m0 1v2m0 13v1m0 59v1M1661.8 456v1m0 44v1m0 41v1m0 8v2M1687.8 444v1m0 20v2m0 7v2m0 39v1m0 15v2M1713.8 455v1M1765.8 499v2m0 30v2m0 21v1M1817.8 110v2m0 55v2m0 231v1m0 7v3m0 58v1m0 57v2m0 9v3m0 40v1M1869.8 200v1m0 125v4m0 81v1m0 119v4m0 39v2m0 12v1m0 4v1M1973.8 486v1m0 14v1m0 20v2m0 20v2M1999.8 519v2m0 25v1m0 17v1m0 9v2m0 2v2"/>
<path stroke="#99b" d="M1323.8 216v2"/>
<path stroke="#979" d="M1323.8 319v1M1401.8 252v2M1505.8 564v1m0 6v3"/>
<path stroke="#ebc" d="M1323.8 354v2M1349.8 453v2M1401.8 456v1m0 19v1m0 85v2M1531.8 574v2M1557.8 549v1m0 41v1M1609.8 482v3M1635.8 450v3m0 37v2m0 65v1m0 12v1M1661.8 434v2m0 2v2m0 73v2m0 6v1m0 13v2m0 4v2m0 28v3m0 10v2m0 8v2M1687.8 481v1M1713.8 591v1M1765.8 425v2M1817.8 360v1"/>
<path stroke="#77b" d="M1323.8 411v1M1505.8 394v2M1713.8 178v3m0 184v2"/>
<path stroke="#98a" d="M1323.8 429v3M1505.8 334v1"/>
<path stroke="#a47" d="M1323.8 495v1M1375.8 421v1M1427.8 231v1"/>
<path stroke="#dde" d="M1323.8 510v1M1349.8 565v1M1375.8 544v2M1401.8 450v3M1583.8 565v1M1661.8 457v4m0 8v1m0 16v1m0 37v3m0 11v3M1687.8 496v1M1817.8 259v2M1999.8 535v2"/>
<path stroke="#b7a" d="M1323.8 528v1M1375.8 190v2M1401.8 606v2M1427.8 158v1m0 100v2m0 17v1m0 286v1M1505.8 133v2M1817.8 162v2m0 301v2M1869.8 108v2m0 48v1m0 142v2m0 82v3m0 4v2m0 20v3m0 10v1"/>
<path stroke="#e87" d="M1323.8 552v2M1349.8 352v2M1401.8 378v1M1531.8 425v2M1661.8 599v1M1687.8 468v1M1713.8 294v2"/>
<path stroke="#aac" d="M1349.8 252v2m0 203v1m0 136v2"/>
<path stroke="#cbc" d="M1349.8 479v2M1427.8 226v2"/>
<path stroke="#edd" d="M1349.8 486v1M1375.8 519v2m0 33v1M1401.8 433v1M1609.8 444v1"/>
<path stroke="#b69" d="M1349.8 487v2M1427.8 129v3m0 13v2m0 140v3m0 66v2m0 69v1m0 16v1m0 25v2M1713.8 245v2m0 56v2"/>
<path stroke="#fde" d="M1349.8 490v2M1401.8 455v1M1765.8 604v2"/>
<path stroke="#d9b" d="M1349.8 492v1M1401.8 383v2M1427.8 139v2M1479.8 161v1m0 20v1m0 68v1M1531.8 570v1M1557.8 473v1M1583.8 467v1m0 1v1m0 31v1m0 62v1M1687.8 467v1m0 2v2m0 4v1m0 2v2m0 46v1M1765.8 561v1M1817.8 207v2m0 205v1M1973.8 481v1M1999.8 529v2"/>
<path stroke="#ecc" d="M1349.8 493v2M1401.8 434v2M1557.8 493v2M1609.8 578v2M1661.8 477v2M1713.8 461v1m0 87v1"/>
<path stroke="#ebb" d="M1349.8 502v1m0 40v1m0 44v1m0 4v1M1375.8 586v2M1401.8 445v3M1531.8 591v1M1635.8 470v2M1661.8 546v1m0 18v1m0 8v2m0 16v1"/>
<path stroke="#dab" d="M1349.8 510v1M1401.8 469v1M1427.8 247v2M1479.8 263v1m0 70v1m0 2v3M1531.8 586v2M1557.8 445v3m0 2v3m0 50v2m0 38v1M1583.8 453v2m0 34v1m0 54v2M1609.8 458v3m0 3v1M1635.8 492v1M1661.8 482v3m0 48v2m0 2v1m0 12v2m0 2v1m0 7v3M1687.8 473v1m0 106v1m0 7v1M1713.8 458v3m0 6v1m0 11v2m0 71v2m0 10v1m0 1v2M1765.8 492v1m0 8v1m0 64v2M1817.8 226v2m0 96v2m0 164v2m0 66v3m0 28v2M1869.8 100v3m0 36v2m0 416v1M1973.8 473v1m0 41v1m0 39v2M1999.8 436v2"/>
<path stroke="#e98" d="M1349.8 515v1M1869.8 121v2"/>
<path stroke="#98b" d="M1349.8 533v2M1375.8 455v1M1401.8 293v1m0 221v1M1427.8 549v1"/>
<path stroke="#ecd" d="M1349.8 564v1M1375.8 432v1m0 52v1m0 75v1M1401.8 519v2M1505.8 600v1M1531.8 496v1M1557.8 467v1M1635.8 477v2M1661.8 461v1m0 11v1m0 83v1"/>
<path stroke="#b67" d="M1375.8 448v2M1869.8 259v2m0 145v1m0 36v1"/>
<path stroke="#fcd" d="M1375.8 457v1"/>
<path stroke="#ccd" d="M1375.8 467v1"/>
<path stroke="#c79" d="M1401.8 492v1m0 15v2m0 71v1M1427.8 133v2m0 235v1M1479.8 207v2m0 19v2m0 15v2m0 72v1M1687.8 436v2M1713.8 184v1m0 175v1m0 196v1M1765.8 438v2m0 62v1M1817.8 283v2m0 16v2m0 73v1m0 115v1m0 38v2m0 13v1m0 37v2M1869.8 555v2M1999.8 589v2"/>
<path stroke="#eab" d="M1401.8 582v2M1505.8 599v1M1531.8 448v2m0 63v3M1557.8 444v1m0 83v1m0 26v2M1609.8 428v1m0 45v2m0 27v2m0 69v2M1635.8 428v1m0 43v1M1661.8 453v2M1817.8 133v2M1973.8 438v2M1999.8 429v3"/>
<path stroke="#dbc" d="M1427.8 106v2M1479.8 143v2m0 119v2m0 13v1M1505.8 606v2M1531.8 477v2M1557.8 433v1m0 45v2m0 20v1M1583.8 429v3M1609.8 516v1M1661.8 479v2m0 35v1M1687.8 558v3m0 28v2M1713.8 503v2m0 6v2m0 52v1M1739.8 596v2M1869.8 453v2m0 9v1m0 40v1M1973.8 467v1m0 11v2m0 25v2m0 68v2m0 3v1"/>
<path stroke="#c56" d="M1427.8 110v2m0 349v1M1479.8 125v2M1817.8 210v2m0 51v1m0 304v2m0 1v3M1869.8 273v2m0 10v2m0 16v2m0 47v2m0 214v2m0 16v2"/>
<path stroke="#c45" d="M1427.8 115v1"/>
<path stroke="#b56" d="M1427.8 155v3m0 250v3m0 29v2M1713.8 103v2m0 303v3"/>
<path stroke="#a6a" d="M1427.8 184v1"/>
<path stroke="#b78" d="M1427.8 243v1m0 139v2M1713.8 121v2m0 10v2m0 409v2M1869.8 544v2m0 46v1"/>
<path stroke="#b57" d="M1427.8 275v2m0 88v2m0 62v3m0 10v1m0 111v1M1713.8 123v2m0 25v1m0 8v2"/>
<path stroke="#c68" d="M1427.8 279v1M1713.8 307v2M1817.8 544v2M1869.8 226v2m0 130v2"/>
<path stroke="#b46" d="M1427.8 448v2M1713.8 110v2m0 50v2m0 181v1"/>
<path stroke="#b45" d="M1427.8 521v1m0 19v2M1713.8 172v2"/>
<path stroke="#c9c" d="M1479.8 123v2m0 14v2m0 165v1m0 99v1M1713.8 490v2M1765.8 589v3M1817.8 132v1m0 364v2M1869.8 247v2M1999.8 476v1m0 39v1"/>
<path stroke="#d78" d="M1479.8 132v1m0 39v2m0 44v5M1531.8 433v1m0 4v2m0 2v1m0 13v1m0 4v1m0 31v3m0 32v1m0 8v1m0 3v2m0 51v2M1557.8 469v1m0 94v1m0 5v1m0 21v1M1583.8 474v2m0 100v2M1609.8 456v1m0 22v2m0 6v2m0 3v1m0 40v2m0 17v2M1635.8 533v2m0 9v2M1661.8 444v1M1687.8 429v3m0 18v3m0 52v1m0 31v1M1713.8 510v1M1817.8 230v1m0 161v2m0 11v1m0 36v1m0 1v1M1869.8 287v3M1973.8 427v1m0 36v1m0 48v2m0 22v1m0 3v2M1999.8 432v1m0 15v2m0 55v1m0 18v3m0 25v2m0 34v1"/>
<path stroke="#d77" d="M1479.8 151v2M1557.8 552v2M1609.8 442v1M1687.8 493v2M1999.8 493v2"/>
<path stroke="#d8a" d="M1479.8 155v3m0 213v1m0 52v1M1583.8 464v1m0 27v1M1713.8 164v2M1765.8 476v1m0 4v1M1817.8 151v2m0 97v1m0 54v1m0 128v2M1869.8 209v1m0 162v2M1999.8 455v1m0 26v3m0 5v2"/>
<path stroke="#ede" d="M1479.8 176v1M1661.8 427v1m0 64v1m0 17v1M1999.8 538v3"/>
<path stroke="#d67" d="M1479.8 194v2m0 5v2m0 80v2m0 30v2M1531.8 593v1M1583.8 434v2m0 75v2m0 22v2m0 9v1M1609.8 561v1M1635.8 519v2m0 65v2M1765.8 473v1m0 3v2m0 6v1m0 76v2m0 20v2M1869.8 388v1M1973.8 564v1"/>
<path stroke="#dcd" d="M1479.8 413v1M1583.8 462v2m0 55v2m0 6v1M1609.8 434v2m0 36v1m0 58v2M1661.8 433v1m0 16v3m0 108v1m0 27v2M1687.8 503v2m0 59v1M1765.8 455v1M1973.8 589v2"/>
<path stroke="#e9a" d="M1531.8 467v1M1557.8 428v1m0 24v2m0 82v4m0 9v2m0 22v2M1583.8 444v1M1635.8 481v1M1661.8 476v1m0 4v1m0 8v2M1687.8 499v2M1973.8 558v3"/>
<path stroke="#d66" d="M1531.8 561v1M1557.8 443v1M1609.8 550v2M1635.8 438v2M1765.8 588v1M1817.8 519v2M1973.8 432v1m0 64v2"/>
<path stroke="#e89" d="M1583.8 473v1M1635.8 543v1M1661.8 455v1m0 50v2"/>
<path stroke="#d43" d="M1583.8 541v2"/>
<path stroke="#daa" d="M1609.8 473v1M1765.8 497v2M1973.8 510v1m0 20v2"/>
<path stroke="#d99" d="M1635.8 429v3M1973.8 550v2"/>
<path stroke="#d88" d="M1635.8 469v1M1817.8 554v1M1973.8 477v2m0 23v1"/>
<path stroke="#d56" d="M1687.8 550v2M1765.8 495v1M1817.8 516v1M1999.8 492v1"/>
<path stroke="#858" d="M1713.8 135v1m0 22v1m0 18v1m0 32v2m0 177v3"/>
<path stroke="#86a" d="M1713.8 139v2"/>
<path stroke="#96a" d="M1713.8 145v2"/>
<path stroke="#859" d="M1713.8 192v1"/>
<path stroke="#959" d="M1713.8 278v1"/>
<path stroke="#e78" d="M1713.8 450v3"/>
<path stroke="#eee" d="M1713.8 599v1"/>
<path stroke="#fef" d="M1713.8 604v2"/>
<path stroke="#aae" d="M1817.8 115v1m0 66v1m0 6v1m0 137v3m0 22v2m0 66v1m0 126v2m0 29v2"/>
<path stroke="#c8b" d="M1817.8 176v1"/>
<path stroke="#cad" d="M1869.8 363v2"/>
<path stroke="#d68" d="M1869.8 445v3"/>
<path stroke="#f88" d="M1999.8 434v2"/>
</g></g>
<line x1="1258.8" x2="2038.8" y1="424.6" y2="424.6" stroke="#101020" stroke-width="0.9" opacity="0.9"/>
<line x1="1258.8" x2="2038.8" y1="596.4" y2="596.4" stroke="#101020" stroke-width="0.9" opacity="0.9"/>
<rect x="1259.3" y="102.2" width="779" height="503.7" fill="none" stroke="#000" stroke-width="1.8"/>
<rect x="1238.1" y="102.2" width="16.6" height="322.4" fill="#D42B1E"/>
<text transform="translate(1227.8 271.1) scale(1.045 1)" font-size="23.1" text-anchor="end">BS1</text>
<rect x="1238.1" y="424.6" width="16.6" height="171.8" fill="#9A4FC0"/>
<text transform="translate(1227.8 518.2) scale(1.045 1)" font-size="23.1" text-anchor="end">BS2</text>
<rect x="1238.1" y="596.4" width="16.6" height="9.5" fill="#8E5A4C"/>
<text transform="translate(1227.8 608.85) scale(1.045 1)" font-size="23.1" text-anchor="end">BS3</text>
<path d="M1264 95.7V88.8H1513.6V95.7" fill="none" stroke="#000" stroke-width="1.5"/>
<text transform="translate(1399 35) scale(1.04 1)" font-size="23.1" text-anchor="middle">BS1</text>
<text transform="translate(1399 63.6) scale(1.04 1)" font-size="23.1" text-anchor="middle">IgD+ B</text>
<path d="M1524 95.7V88.8H1773.6V95.7" fill="none" stroke="#000" stroke-width="1.5"/>
<text transform="translate(1648.5 35) scale(1.04 1)" font-size="23.1" text-anchor="middle">BS2</text>
<text transform="translate(1648.5 63.6) scale(1.04 1)" font-size="23.1" text-anchor="middle">IgD- B</text>
<path d="M1784 95.7V88.8H2033.6V95.7" fill="none" stroke="#000" stroke-width="1.5"/>
<text transform="translate(1912.6 35) scale(1.04 1)" font-size="23.1" text-anchor="middle">BS3</text>
<text transform="translate(1912.6 63.6) scale(1.04 1)" font-size="23.1" text-anchor="middle">Plasmablasts</text>
<text transform="translate(1276.6 618.6) rotate(-90) scale(1.0 1)" font-size="20" text-anchor="end">TCL1A</text>
<text transform="translate(1302.6 618.6) rotate(-90) scale(1.0 1)" font-size="20" text-anchor="end">IGHD</text>
<text transform="translate(1328.6 618.6) rotate(-90) scale(1.0 1)" font-size="20" text-anchor="end">IGHM</text>
<text transform="translate(1354.6 618.6) rotate(-90) scale(1.0 1)" font-size="20" text-anchor="end">NBEAL1</text>
<text transform="translate(1380.6 618.6) rotate(-90) scale(1.0 1)" font-size="20" text-anchor="end">AC090498.1</text>
<text transform="translate(1406.6 618.6) rotate(-90) scale(1.0 1)" font-size="20" text-anchor="end">CD79B</text>
<text transform="translate(1432.6 618.6) rotate(-90) scale(1.0 1)" font-size="20" text-anchor="end">LINC00926</text>
<text transform="translate(1458.6 618.6) rotate(-90) scale(1.0 1)" font-size="20" text-anchor="end">RP11-164H13.1</text>
<text transform="translate(1484.6 618.6) rotate(-90) scale(1.0 1)" font-size="20" text-anchor="end">PLPP5</text>
<text transform="translate(1510.6 618.6) rotate(-90) scale(1.0 1)" font-size="20" text-anchor="end">RPL17</text>
<text transform="translate(1536.6 618.6) rotate(-90) scale(1.0 1)" font-size="20" text-anchor="end">IGHG1</text>
<text transform="translate(1562.6 618.6) rotate(-90) scale(1.0 1)" font-size="20" text-anchor="end">IGHA1</text>
<text transform="translate(1588.6 618.6) rotate(-90) scale(1.0 1)" font-size="20" text-anchor="end">CRIP1</text>
<text transform="translate(1614.6 618.6) rotate(-90) scale(1.0 1)" font-size="20" text-anchor="end">GPR183</text>
<text transform="translate(1640.6 618.6) rotate(-90) scale(1.0 1)" font-size="20" text-anchor="end">CLECL1</text>
<text transform="translate(1666.6 618.6) rotate(-90) scale(1.0 1)" font-size="20" text-anchor="end">AL928768.3</text>
<text transform="translate(1692.6 618.6) rotate(-90) scale(1.0 1)" font-size="20" text-anchor="end">RP5-887A10.1</text>
<text transform="translate(1718.6 618.6) rotate(-90) scale(1.0 1)" font-size="20" text-anchor="end">MYL12A</text>
<text transform="translate(1744.6 618.6) rotate(-90) scale(1.0 1)" font-size="20" text-anchor="end">IGHG3</text>
<text transform="translate(1770.6 618.6) rotate(-90) scale(1.0 1)" font-size="20" text-anchor="end">ZFAND6</text>
<text transform="translate(1796.6 618.6) rotate(-90) scale(1.0 1)" font-size="20" text-anchor="end">MZB1</text>
<text transform="translate(1822.6 618.6) rotate(-90) scale(1.0 1)" font-size="20" text-anchor="end">JCHAIN</text>
<text transform="translate(1848.6 618.6) rotate(-90) scale(1.0 1)" font-size="20" text-anchor="end">FKBP11</text>
<text transform="translate(1874.6 618.6) rotate(-90) scale(1.0 1)" font-size="20" text-anchor="end">SEC61G</text>
<text transform="translate(1900.6 618.6) rotate(-90) scale(1.0 1)" font-size="20" text-anchor="end">TNFRSF17</text>
<text transform="translate(1926.6 618.6) rotate(-90) scale(1.0 1)" font-size="20" text-anchor="end">VIMP</text>
<text transform="translate(1952.6 618.6) rotate(-90) scale(1.0 1)" font-size="20" text-anchor="end">ITM2C</text>
<text transform="translate(1978.6 618.6) rotate(-90) scale(1.0 1)" font-size="20" text-anchor="end">IGHA1</text>
<text transform="translate(2004.6 618.6) rotate(-90) scale(1.0 1)" font-size="20" text-anchor="end">TXN</text>
<text transform="translate(2030.6 618.6) rotate(-90) scale(1.0 1)" font-size="20" text-anchor="end">DERL3</text>
<path d="M1271.8 606.8v5.6M1297.8 606.8v5.6M1323.8 606.8v5.6M1349.8 606.8v5.6M1375.8 606.8v5.6M1401.8 606.8v5.6M1427.8 606.8v5.6M1453.8 606.8v5.6M1479.8 606.8v5.6M1505.8 606.8v5.6M1531.8 606.8v5.6M1557.8 606.8v5.6M1583.8 606.8v5.6M1609.8 606.8v5.6M1635.8 606.8v5.6M1661.8 606.8v5.6M1687.8 606.8v5.6M1713.8 606.8v5.6M1739.8 606.8v5.6M1765.8 606.8v5.6M1791.8 606.8v5.6M1817.8 606.8v5.6M1843.8 606.8v5.6M1869.8 606.8v5.6M1895.8 606.8v5.6M1921.8 606.8v5.6M1947.8 606.8v5.6M1973.8 606.8v5.6M1999.8 606.8v5.6M2025.8 606.8v5.6" fill="none" stroke="#000" stroke-width="1.4"/>
<path d="M2045.7 511H2090V601.8H2045.7M2045.7 263.7H2124.8V556.4H2090" fill="none" stroke="#000" stroke-width="1.6" stroke-linejoin="miter"/>
<text x="1122.3" y="34.8" font-size="47" font-weight="bold" fill="#000">b</text>
<!-- panel c -->
<defs><clipPath id="cpc"><rect x="169.6" y="893.6" width="514" height="504.1"/></clipPath><filter id="blc" filterUnits="userSpaceOnUse" x="161.6" y="885" width="530" height="521" color-interpolation-filters="sRGB"><feGaussianBlur in="SourceGraphic" stdDeviation="0.35 0.5" result="S"/><feColorMatrix in="S" values=".299 .587 .114 0 0 .299 .587 .114 0 0 .299 .587 .114 0 0 0 0 0 1 0" result="L"/><feGaussianBlur in="SourceGraphic" stdDeviation="0.9 1.3"/><feColorMatrix values=".3505 -.2935 -.057 0 .5 -.1495 .2065 -.057 0 .5 -.1495 -.2935 .443 0 .5 0 0 0 1 0"/><feComposite in2="L" operator="arithmetic" k1="0" k2="2" k3="1" k4="-1"/></filter></defs>
<g clip-path="url(#cpc)"><g filter="url(#blc)" fill="none" stroke-width="25.7" shape-rendering="crispEdges">
<rect x="163.6" y="887" width="526" height="517" fill="#d8d4ee"/>
<path stroke="#f99" d="M182.45 891v2m0 60v1m0 10v2m0 7v2m0 2v2m0 55v1m0 11v1m0 67v1m0 17v1m0 12v2m0 14v1m0 64v1M208.15 921v2m0 14v2m0 15v2m0 120v1m0 32v1m0 15v2m0 14v2m0 27v1m0 26v1m0 28v1m0 9v1M233.85 893v2m0 18v1m0 16v1m0 13v1m0 63v2m0 64v1m0 36v2m0 11v1m0 25v1m0 205v1M259.55 909v2m0 13v1m0 6v1m0 39v1m0 13v1m0 18v2m0 42v1m0 5v2m0 13v2m0 42v1m0 36v1m0 40v1m0 14v1m0 13v2M285.25 891v2m0 6v2m0 8v2m0 39v1m0 24v1m0 3v1m0 47v1m0 6v1m0 153v1m0 17v1m0 51v2m0 52v1M310.95 919v2m0 50v1m0 7v1m0 1v2m0 2v1m0 20v2m0 108v1m0 3v2m0 21v1m0 17v1m0 21v2m0 24v2m0 2v1M336.65 906v1m0 72v1m0 1v1m0 106v1m0 16v2m0 98v1m0 164v2M362.35 904v2m0 3v2m0 108v2m0 27v1m0 40v2m0 23v1m0 3v1m0 4v1m0 10v2m0 19v2m0 54v2M388.05 906v1m0 32v1m0 2v1m0 2v2m0 65v2m0 22v1m0 2v1m0 16v2m0 47v2m0 43v1m0 52v2m0 22v1m0 5v1m0 4v1m0 52v1M413.75 929v1m0 49v1m0 5v1m0 61v1m0 34v1m0 8v1m0 5v1m0 27v2m0 38v1m0 12v2m0 13v2m0 4v2m0 2v2m0 140v2M439.45 898v1m0 69v1m0 91v1m0 6v2m0 51v2m0 29v2m0 2v2m0 23v2m0 24v1m0 67v1m0 27v1m0 60v1m0 34v2M465.15 1000v1m0 13v1m0 218v1m0 52v2m0 66v1m0 3v1M490.85 1029v1m0 2v2m0 180v1m0 55v1m0 8v2m0 5v2M516.55 1017v1m0 49v1m0 50v1m0 3v1m0 26v1m0 17v1m0 26v1m0 11v1m0 47v1m0 135v1M542.25 1250v1m0 55v2m0 55v1m0 2v2m0 24v2M567.95 994v2m0 5v1m0 92v1m0 106v2m0 3v1m0 25v1m0 38v2m0 30v1m0 29v2m0 22v1m0 4v1m0 28v1M593.65 997v1m0 30v1m0 224v1m0 1v1m0 1v1m0 25v1m0 63v1M619.35 949v1m0 50v1m0 254v1m0 58v2m0 59v1M670.75 937v2m0 1v2m0 35v2m0 37v2m0 3v2m0 58v1m0 21v2m0 34v2m0 65v1m0 76v1m0 5v1m0 41v2m0 37v2m0 12v1"/>
<path stroke="#44a" d="M182.45 893v2m0 49v3m0 29v1m0 16v1m0 50v2m0 19v2m0 16v1m0 26v1m0 7v1m0 36v2m0 36v2m0 40v1M208.15 932v2m0 89v1m0 41v2M259.55 919v2m0 21v1m0 51v3m0 47v2m0 25v1m0 75v1m0 3v2m0 15v2m0 13v2m0 41v1m0 13v2M285.25 934v1m0 26v1m0 20v1m0 31v2m0 45v2m0 13v1m0 93v1M310.95 907v2m0 5v2m0 37v1m0 16v1m0 48v2m0 14v1m0 6v2m0 21v2m0 2v2m0 74v2m0 27v2m0 51v1m0 12v2M362.35 924v1m0 20v2m0 9v1m0 69v1m0 4v1m0 9v1m0 5v1m0 8v2m0 34v2m0 15v1m0 6v1m0 14v1m0 25v2m0 55v1m0 5v2m0 17v1M388.05 1035v1m0 8v2m0 37v1m0 17v4m0 28v1m0 48v1m0 5v1m0 25v1m0 7v1M413.75 930v1m0 12v1m0 17v1m0 20v1m0 52v1m0 22v2m0 15v1m0 54v1m0 8v2m0 33v2m0 31v2m0 7v2M439.45 896v1m0 4v2m0 8v2m0 12v1m0 8v1m0 21v1m0 25v1m0 10v1m0 3v1m0 29v1m0 13v1m0 11v1m0 18v2m0 9v1m0 7v1m0 13v3m0 16v3m0 14v2m0 14v2m0 2v1m0 9v2m0 10v2m0 7v1m0 12v1m0 22v2m0 12v1M567.95 891v2m0 31v1m0 7v2m0 5v1m0 8v2m0 60v2m0 23v1m0 52v1m0 19v1m0 18v1m0 22v1m0 14v1m0 2v2m0 8v2m0 8v1m0 24v1m0 13v1m0 8v1"/>
<path stroke="#e88" d="M182.45 895v1m0 2v1m0 67v1m0 1v2m0 13v3m0 1v4m0 19v2m0 14v2m0 1v1m0 7v2m0 70v1m0 31v2m0 31v2m0 7v2m0 1v2m0 7v2M208.15 895v1m0 23v2m0 32v1m0 54v2m0 25v1m0 16v1m0 55v1m0 36v2m0 4v2m0 125v1M233.85 961v1m0 48v2m0 22v1m0 7v2m0 12v2m0 31v2m0 18v1m0 4v1m0 17v1m0 43v1m0 8v1m0 30v2M259.55 932v3m0 4v1m0 13v1m0 3v2m0 10v1m0 6v1m0 4v1m0 1v2m0 14v2m0 64v2m0 19v2m0 45v1m0 14v2m0 5v2m0 5v1m0 30v2m0 3v1m0 24v1m0 14v1M285.25 940v2m0 28v1m0 23v2m0 14v2m0 4v2m0 1v2m0 14v1m0 15v1m0 36v1m0 114v2m0 42v1M310.95 904v2m0 5v2m0 43v1m0 9v1m0 64v1m0 76v1m0 16v2m0 58v1m0 116v1M336.65 899v2m0 38v1m0 22v2m0 11v1m0 9v1m0 13v2m0 46v1m0 4v4m0 15v1m0 45v1m0 39v2m0 29v1m0 12v2m0 20v1m0 10v1m0 104v2m0 19v1M362.35 895v2m0 57v2m0 3v3m0 2v2m0 1v2m0 16v1m0 10v1m0 31v1m0 42v1m0 13v1m0 10v1m0 11v1m0 27v1m0 22v2m0 2v2m0 8v1m0 15v2m0 32v1m0 40v1m0 20v1m0 64v1M388.05 919v2m0 32v1m0 2v1m0 24v1m0 4v1m0 4v2m0 11v2m0 13v2m0 33v2m0 4v1m0 11v2m0 12v2m0 20v1m0 32v2m0 12v2m0 14v2m0 7v2m0 1v2m0 31v2m0 63v2M413.75 896v1m0 14v2m0 43v1m0 132v2m0 14v2m0 13v2m0 14v2m0 5v1m0 53v1m0 32v2m0 154v2M439.45 921v2m0 24v1m0 23v2m0 31v2m0 6v2m0 95v1m0 29v2m0 3v1m0 111v1m0 14v2m0 17v1m0 20v1m0 7v2m0 24v2m0 14v1m0 4v2m0 17v1m0 4v1M465.15 982v1m0 6v1m0 175v1m0 85v2m0 4v1m0 2v1m0 50v1m0 1v1m0 11v1m0 1v2m0 1v1m0 14v2m0 44v1M490.85 904v2m0 42v2m0 7v2m0 22v1m0 24v2m0 13v2m0 82v2m0 58v1m0 47v1m0 10v2m0 39v1m0 22v1m0 1v1m0 42v2m0 18v1m0 2v1m0 32v1M516.55 994v1m0 230v1m0 39v1m0 16v1m0 9v2m0 3v2m0 24v2m0 64v1M542.25 893v2m0 113v2m0 6v2m0 54v2m0 27v2m0 174v1m0 1v3m0 1v1m0 15v1m0 1v1m0 21v2m0 19v1m0 3v2m0 1v2m0 32v1M567.95 893v2m0 52v1m0 11v2m0 35v1m0 55v1m0 48v2m0 28v2m0 15v2m0 20v3m0 1v2m0 16v1m0 57v1m0 7v3m0 1v1m0 1v1m0 1v2m0 69v2m0 19v1m0 1v1m0 12v2m0 3v2m0 12v2M593.65 989v2m0 117v1m0 140v1m0 10v2m0 30v2m0 7v1m0 24v1m0 45v1M619.35 923v1m0 125v1m0 224v1m0 14v1m0 2v2m0 7v1m0 62v2M645.05 1248v1m0 25v1m0 34v3m0 13v1m0 47v2m0 3v2M670.75 903v1m0 2v1m0 94v1m0 129v2m0 91v2m0 19v1m0 8v1m0 2v1m0 6v2m0 22v1m0 10v1m0 11v1m0 32v1m0 2v1m0 12v1m0 2v1m0 4v2m0 24v2"/>
<path stroke="#e66" d="M182.45 896v1m0 26v1m0 51v1m0 20v1m0 2v2m0 7v2m0 37v1m0 8v2m0 9v2m0 7v1m0 5v1m0 70v2m0 11v2m0 31v2m0 31v1m0 3v1m0 120v1M208.15 909v2m0 19v2m0 30v2m0 9v2m0 5v1m0 16v2m0 25v2m0 11v2m0 9v1m0 33v1m0 5v1m0 6v1m0 43v2m0 12v2m0 16v2m0 7v2m0 19v4m0 9v1m0 9v2M233.85 943v1m0 39v2m0 90v1m0 15v1m0 5v1m0 55v2m0 15v3m0 50v1m0 27v2m0 66v2M259.55 891v2m0 3v1m0 7v3m0 30v2m0 11v1m0 26v2m0 19v1m0 31v1m0 4v1m0 4v1m0 34v1m0 16v2m0 3v1m0 37v2m0 24v1m0 18v2m0 19v2m0 103v2M285.25 921v2m0 3v1m0 5v2m0 22v1m0 16v2m0 11v1m0 2v2m0 7v1m0 5v2m0 36v2m0 2v2m0 4v1m0 26v2m0 15v1m0 6v2m0 11v1m0 13v1m0 17v2m0 33v2m0 29v1m0 5v2m0 4v1m0 11v1m0 134v2M310.95 901v2m0 29v2m0 5v1m0 21v1m0 7v1m0 40v2m0 16v1m0 10v1m0 12v1m0 10v2m0 17v2m0 5v2m0 7v1m0 4v2m0 32v1m0 9v1m0 2v1m0 26v1m0 20v1m0 31v2m0 3v1m0 26v1m0 11v1m0 55v1M336.65 927v2m0 16v2m0 81v1m0 91v2m0 51v1m0 68v1M362.35 913v1m0 26v3m0 8v3m0 29v2m0 14v2m0 22v1m0 6v1m0 60v1m0 35v1m0 16v1m0 58v2m0 33v1m0 16v1m0 101v1M388.05 926v1m0 2v1m0 21v2m0 20v2m0 2v2m0 6v1m0 3v2m0 11v2m0 4v2m0 6v3m0 15v1m0 14v1m0 8v2m0 3v2m0 16v1m0 2v1m0 28v1m0 3v1m0 4v1m0 20v1m0 9v2m0 23v2m0 18v1m0 9v1m0 21v2m0 15v1m0 46v2m0 6v1M413.75 895v1m0 44v2m0 2v1m0 3v2m0 20v1m0 1v1m0 3v3m0 48v1m0 18v1m0 2v1m0 38v1m0 10v2m0 14v1m0 29v2m0 3v1m0 25v1m0 29v1m0 7v1m0 8v1m0 3v1m0 4v1m0 5v1m0 47v2M439.45 1019v2m0 3v2m0 5v1m0 111v1m0 38v1m0 5v1m0 61v1m0 26v1m0 3v1m0 9v1m0 22v2m0 9v1m0 3v1m0 11v2m0 1v1m0 6v2m0 36v1M465.15 891v1m0 48v1m0 99v1m0 7v1m0 43v1m0 66v1m0 40v1m0 24v1m0 42v2m0 1v2m0 1v1m0 10v1m0 6v3m0 2v2m0 2v1m0 4v2m0 51v1m0 4v2m0 4v2m0 3v1m0 10v2m0 1v1m0 2v2M490.85 945v2m0 17v2m0 274v2m0 3v1m0 27v1m0 1v2m0 15v2m0 10v2m0 12v1m0 4v2m0 2v2m0 16v2m0 16v1m0 4v2m0 6v2m0 18v2M516.55 965v1m0 103v1m0 68v1m0 58v1m0 18v1m0 20v1m0 13v3m0 14v2m0 11v1m0 2v1m0 85v2m0 8v1M542.25 932v2m0 48v1m0 126v1m0 13v1m0 62v2m0 36v2m0 29v1m0 17v1m0 8v1m0 30v1m0 3v1m0 17v2m0 10v1m0 6v1m0 9v2m0 7v2M567.95 926v1m0 56v2m0 17v2m0 8v2m0 67v1m0 46v2m0 52v1m0 25v1m0 37v1m0 27v1m0 7v1m0 1v1m0 7v2m0 49v1m0 3v1m0 13v1m0 2v2m0 2v2m0 24v2M593.65 932v2m0 96v1m0 61v2m0 129v1m0 24v1m0 7v1m0 1v2m0 5v1m0 9v4m0 7v2m0 1v1m0 1v1m0 39v2m0 28v1m0 24v2M619.35 979v1m0 232v1m0 38v2m0 28v1m0 62v1m0 5v1M645.05 1247v1m0 16v1m0 1v2m0 7v2m0 25v1M670.75 914v2m0 11v2m0 140v2m0 65v1m0 100v1m0 11v1m0 16v2m0 5v1m0 3v1m0 7v1m0 23v2m0 24v2m0 11v2m0 9v1m0 16v2"/>
<path stroke="#fdd" d="M182.45 897v1m0 29v2m0 75v4m0 63v1m0 139v2M208.15 964v2m0 25v2m0 48v1M233.85 909v2m0 13v1m0 2v2m0 47v1m0 185v1m0 43v1m0 43v1m0 26v1m0 23v1m0 4v2m0 76v1m0 5v1M259.55 975v1m0 30v2m0 64v2m0 96v1M285.25 1054v2m0 45v2m0 52v2m0 5v1m0 28v1m0 30v1M310.95 948v2m0 189v2m0 35v1m0 11v1m0 10v2M336.65 891v4m0 16v2m0 113v1m0 56v1m0 154v1m0 6v1m0 71v1M362.35 1119v1m0 88v1m0 154v1M388.05 914v2m0 24v2m0 90v2m0 63v1M413.75 1012v2m0 10v2m0 28v2m0 145v2M439.45 942v1m0 1v1m0 46v2m0 1v2m0 65v2m0 16v2m0 158v1M465.15 933v1M490.85 896v1m0 19v1m0 44v1m0 13v1m0 6v1m0 14v2m0 2v3m0 32v1m0 11v1m0 85v1m0 8v1m0 6v1m0 54v1m0 26v1m0 23v1m0 4v1m0 32v1m0 66v2m0 27v1M542.25 1023v1M567.95 943v1m0 49v1m0 55v1m0 29v2m0 99v2m0 153v2M619.35 1268v2M645.05 1330v1M670.75 904v2m0 33v1m0 16v1m0 23v1m0 5v1m0 4v2m0 3v1m0 95v2m0 2v1m0 11v1m0 41v1m0 11v1m0 14v1m0 130v1m0 48v1"/>
<path stroke="#55b" d="M182.45 899v2m0 162v2m0 9v1m0 33v1m0 41v1m0 112v1m0 22v2m0 7v1m0 17v1M208.15 911v2m0 131v2m0 67v1m0 14v2m0 20v1m0 84v1m0 26v1m0 36v1m0 3v1m0 26v1m0 20v2m0 11v2m0 14v1M233.85 1213v1M259.55 959v2m0 41v2m0 6v2m0 29v1m0 67v1m0 7v1m0 45v2m0 49v1M285.25 896v1m0 14v3m0 83v1m0 99v1m0 9v1m0 15v1m0 4v2m0 14v1m0 50v2m0 35v1m0 35v2m0 48v1M310.95 930v1m0 164v1m0 26v1m0 9v1m0 37v1m0 47v2m0 16v1m0 116v1m0 19v2M336.65 1251v2m0 41v1m0 38v2M362.35 919v2m0 45v1m0 65v2m0 19v1m0 13v4m0 24v1m0 2v1m0 34v1m0 16v1m0 56v1m0 20v2m0 16v1m0 100v1m0 44v2M388.05 899v2m0 151v1m0 82v1m0 55v2m0 25v4M413.75 898v1m0 51v1m0 18v1m0 101v1m0 11v1m0 14v1m0 36v1m0 79v1m0 2v2m0 143v1M439.45 927v3m0 2v2m0 5v1m0 3v1m0 6v1m0 32v3m0 1v2m0 19v2m0 22v2m0 6v1m0 7v1m0 70v1m0 10v1m0 3v1m0 27v1m0 5v2m0 15v3m0 19v1m0 32v2M490.85 968v1M567.95 895v1m0 1v1m0 46v1m0 74v2m0 23v2m0 5v1m0 2v2m0 26v1m0 58v2m0 62v1m0 29v1m0 4v2M670.75 944v1m0 12v2m0 77v1m0 198v1"/>
<path stroke="#d32" d="M182.45 901v2m0 4v2m0 23v2m0 1v2m0 91v1m0 12v1m0 134v1m0 3v2m0 48v2M208.15 1030v1m0 61v2m0 5v2m0 14v1m0 100v2m0 2v2M259.55 940v2m0 119v2m0 13v1m0 53v1m0 99v2M285.25 930v1m0 16v1m0 5v1m0 15v1m0 7v2m0 6v1m0 42v1m0 42v1m0 42v1m0 3v1m0 115v1m0 5v2M310.95 940v2m0 66v2m0 17v1m0 134v1M336.65 1010v2m0 120v1M362.35 1195v2M388.05 966v1m0 192v2M413.75 927v2m0 60v2m0 69v1m0 73v1M439.45 1174v2m0 25v2m0 52v1M465.15 936v1m0 59v1m0 79v1m0 2v1m0 42v1m0 125v1m0 26v2m0 7v1m0 31v1m0 39v1M490.85 924v1M516.55 1220v1m0 25v1m0 138v1M542.25 998v1m0 19v1m0 367v2M567.95 1120v2m0 184v2m0 1v2m0 1v1m0 77v1M593.65 970v1m0 136v1m0 7v1m0 64v2M619.35 1051v1M645.05 1142v1m0 207v1M670.75 1248v1"/>
<path stroke="#d22" d="M182.45 903v1m0 33v2m0 3v1m0 11v2m0 6v2m0 48v2m0 39v1m0 32v2m0 28v1m0 16v1m0 1v1m0 3v2m0 6v1m0 30v2m0 8v1m0 2v1m0 11v2m0 4v2m0 9v2m0 15v2m0 61v1m0 25v1M208.15 893v2m0 6v3m0 72v1m0 6v2m0 31v2m0 8v1m0 2v1m0 33v2m0 10v1m0 40v1m0 26v1m0 29v1M233.85 1054v2m0 67v1M259.55 973v2m0 5v1m0 66v1m0 79v1m0 11v2m0 44v1m0 164v1M285.25 904v3m0 123v1m0 13v2m0 45v1m0 28v2m0 15v1m0 54v1m0 6v2m0 6v1m0 184v2M310.95 917v2m0 24v1m0 13v2m0 34v1m0 7v1m0 46v1m0 4v1m0 6v1m0 35v1m0 8v2m0 6v1m0 14v2m0 90v2m0 11v1m0 65v1M336.65 935v2m0 94v1m0 7v1m0 101v2m0 73v2M362.35 929v1m0 41v1m0 7v1m0 171v2m0 25v2m0 21v2m0 29v1m0 3v1m0 5v1M388.05 925v1m0 6v2m0 10v1m0 22v1m0 2v2m0 81v1m0 31v1m0 48v1m0 1v1m0 70v1M413.75 893v2m0 37v2m0 46v1m0 55v1m0 11v1m0 12v2m0 53v1m0 11v2m0 32v1m0 3v2m0 18v2m0 1v2m0 1v1m0 20v1M439.45 1118v1m0 185v2m0 37v1m0 31v1M465.15 908v1m0 66v1m0 41v1m0 191v1m0 36v2m0 5v1m0 54v1m0 9v1m0 14v2m0 9v1M490.85 1300v1M516.55 951v1m0 1v1m0 38v1m0 67v1m0 63v1m0 38v1m0 111v2m0 44v2M542.25 991v2m0 106v2m0 153v1m0 76v2M567.95 940v2m0 45v2m0 184v1m0 73v2m0 2v2m0 25v1m0 6v1m0 9v1m0 6v1m0 56v1M593.65 1141v2M619.35 1092v1m0 186v2m0 104v1M645.05 1313v1M670.75 921v2m0 338v1m0 92v1m0 18v2m0 21v2"/>
<path stroke="#e77" d="M182.45 904v3m0 2v2m0 6v2m0 10v1m0 20v1m0 8v2m0 11v1m0 59v2m0 2v1m0 35v2m0 17v1m0 2v2m0 74v1m0 21v1m0 13v1m0 15v1m0 10v1m0 8v1M208.15 897v2m0 18v2m0 23v1m0 8v2m0 15v1m0 30v2m0 9v2m0 27v1m0 67v1m0 15v1m0 9v1m0 3v1m0 6v1m0 18v2m0 20v1m0 2v1m0 20v2m0 21v1m0 5v1M233.85 923v1m0 11v2m0 14v2m0 17v1m0 55v1m0 3v1m0 51v1m0 22v2m0 10v1m0 26v1m0 3v2m0 23v1m0 4v2m0 2v1m0 5v1m0 8v2m0 10v4m0 20v1m0 4v1M259.55 907v2m0 2v2m0 4v2m0 7v1m0 17v1m0 22v1m0 19v2m0 2v2m0 23v3m0 37v2m0 64v1m0 42v1m0 39v1m0 3v2m0 5v2m0 9v3M285.25 954v2m0 11v1m0 19v2m0 10v3m0 4v2m0 16v2m0 5v1m0 33v2m0 17v2m0 3v2m0 14v2m0 27v1m0 4v2m0 6v1m0 17v1m0 27v2m0 2v1m0 7v1m0 3v2m0 2v1m0 21v1m0 17v1m0 41v1m0 30v1m0 17v1M310.95 891v2m0 10v1m0 71v1m0 26v2m0 33v2m0 15v4m0 13v1m0 2v1m0 1v1m0 4v1m0 4v2m0 29v1m0 39v2m0 21v2m0 15v1m0 13v2m0 26v1m0 14v1m0 27v1M336.65 914v2m0 3v2m0 36v2m0 47v2m0 8v3m0 4v1m0 16v1m0 24v2m0 2v2m0 40v3m0 10v1m0 5v1m0 34v1m0 8v2m0 39v1m0 16v1m0 6v1m0 16v1m0 137v2M362.35 897v1m0 8v1m0 75v1m0 4v2m0 8v1m0 56v2m0 2v2m0 24v1m0 14v2m0 2v5m0 31v2m0 4v2m0 110v1m0 13v2M388.05 911v2m0 74v2m0 32v3m0 6v1m0 15v1m0 4v1m0 9v2m0 6v2m0 21v2m0 13v1m0 15v1m0 3v1m0 20v2m0 36v2m0 27v1m0 138v1M413.75 903v1m0 17v2m0 44v1m0 3v1m0 1v2m0 8v2m0 2v2m0 10v2m0 22v1m0 5v1m0 7v3m0 10v1m0 21v2m0 10v1m0 66v2m0 18v2m0 7v3m0 45v2m0 12v1m0 35v1m0 58v2m0 46v1M439.45 909v2m0 46v4m0 8v1m0 29v2m0 25v1m0 22v1m0 31v1m0 56v1m0 81v2m0 21v2m0 1v1m0 1v2m0 25v2m0 11v1m0 3v2m0 1v2m0 9v2m0 8v2m0 19v2m0 16v1m0 3v2m0 7v2m0 6v2m0 3v1m0 4v3m0 2v1m0 2v2M465.15 985v1m0 24v1m0 136v1m0 95v2m0 5v1m0 27v3m0 9v1m0 5v1m0 38v4m0 8v1m0 2v1m0 12v1m0 21v1M490.85 934v1m0 8v1m0 174v1m0 59v2m0 68v1m0 2v2m0 7v1m0 20v1m0 2v1m0 6v1m0 7v1m0 1v1m0 6v1m0 8v1m0 8v1m0 2v2m0 10v2m0 8v2m0 2v1m0 1v1m0 1v1m0 21v1m0 4v2m0 3v1M516.55 1022v1m0 1v1m0 116v1m0 26v1m0 8v1m0 24v1m0 46v1m0 14v1m0 12v1m0 17v1m0 29v1m0 7v2m0 9v1m0 9v1m0 9v2M542.25 1048v1m0 25v1m0 41v1m0 96v1m0 19v1m0 23v1m0 2v1m0 31v2m0 45v2m0 12v1m0 30v1m0 6v1M567.95 913v1m0 16v1m0 26v2m0 2v1m0 61v1m0 8v2m0 29v2m0 130v2m0 19v2m0 2v2m0 4v1m0 18v1m0 7v1m0 14v2m0 16v2m0 51v2m0 10v2M593.65 1041v1m0 56v1m0 172v3m0 51v1m0 1v2m0 1v1m0 17v2m0 14v2m0 2v4m0 6v2M619.35 1056v1m0 121v1m0 57v1m0 9v1m0 44v1m0 14v2m0 18v1m0 8v2m0 22v1m0 36v2M645.05 1122v1m0 138v1m0 9v3m0 27v1m0 41v1m0 11v1m0 3v1M670.75 895v1m0 73v1m0 57v1m0 21v1m0 107v2m0 84v2m0 2v1m0 2v1m0 7v2m0 11v2m0 2v2m0 7v1m0 1v2m0 8v3m0 19v3m0 4v1m0 25v2m0 2v1m0 22v2m0 12v2m0 4v2"/>
<path stroke="#d33" d="M182.45 911v2m0 110v1m0 16v1m0 58v2m0 100v2m0 2v1M208.15 891v2m0 13v1m0 59v1m0 5v1m0 21v2m0 6v4m0 15v2m0 8v1m0 17v1m0 6v2m0 23v1m0 3v1m0 11v2m0 2v2m0 17v2m0 55v1m0 20v1m0 23v1M233.85 931v1m0 186v1M259.55 893v2m0 2v1m0 31v2m0 14v2m0 54v1m0 93v1m0 5v2m0 71v2M285.25 893v2m0 88v2m0 27v2m0 12v1m0 31v2m0 9v2m0 4v1m0 5v1m0 61v1m0 36v2m0 34v2m0 18v1m0 17v1M310.95 913v1m0 28v1m0 29v1m0 10v2m0 76v2m0 129v1m0 88v1M336.65 1048v1m0 165v1M362.35 975v1m0 1v2m0 19v1m0 50v1m0 44v1m0 135v2M388.05 893v2m0 2v1m0 45v1m0 28v1m0 25v1m0 95v1m0 43v1m0 8v1m0 20v2m0 23v2m0 37v1m0 68v1M413.75 904v2m0 19v1m0 9v2m0 31v1m0 50v2m0 9v1m0 50v1m0 14v1m0 36v1m0 13v1m0 40v1m0 9v1M439.45 1016v2m0 248v2m0 17v1m0 40v1m0 69v2M465.15 1213v1m0 59v1m0 15v1m0 29v2m0 27v2m0 3v1m0 40v2M516.55 903v1m0 12v1m0 321v1m0 34v1m0 16v1m0 5v1m0 22v2M542.25 1002v2m0 94v1m0 166v1m0 19v1m0 33v2m0 20v2m0 39v2M567.95 956v1m0 24v1m0 34v2m0 98v1m0 68v1m0 77v1m0 55v2m0 32v1m0 9v1m0 2v2m0 12v2m0 7v1M593.65 896v1m0 42v1m0 108v1m0 52v2m0 10v1m0 171v1M619.35 895v1m0 299v1m0 33v1m0 47v1m0 17v1m0 65v1M645.05 990v1m0 57v1m0 327v2m0 10v1M670.75 1279v2m0 19v1m0 65v2"/>
<path stroke="#ddf" d="M182.45 913v1M233.85 1130v1M259.55 986v1M336.65 897v1M362.35 1110v1m0 37v2M439.45 1056v2m0 206v1M465.15 1300v1M516.55 896v1M593.65 993v1M619.35 965v1m0 52v1m0 4v1m0 21v1m0 67v1m0 6v1m0 7v1m0 10v1m0 9v1m0 1v1m0 34v1m0 33v1m0 4v1m0 4v1M645.05 892v1m0 2v1m0 1v2m0 6v1m0 2v1m0 6v2m0 3v1m0 3v1m0 5v1m0 9v2m0 11v3m0 11v1m0 13v1m0 1v1m0 18v1m0 3v1m0 2v1m0 4v1m0 5v1m0 7v2m0 14v1m0 11v2m0 10v1m0 2v1m0 9v1m0 5v1m0 9v1m0 5v1m0 1v1m0 3v2m0 3v1m0 10v1m0 5v2m0 7v1m0 10v3m0 8v2m0 2v1m0 3v1m0 5v1m0 13v1m0 2v1m0 5v1m0 2v1m0 3v2m0 20v1m0 7v1m0 28v1m0 85v2M670.75 979v1m0 219v2"/>
<path stroke="#e44" d="M182.45 914v2m0 14v1m0 12v1m0 7v2m0 29v1m0 11v2m0 58v2m0 19v1m0 3v2m0 67v2m0 7v4m0 2v2m0 8v1m0 149v2M208.15 896v1m0 37v1m0 50v1m0 3v2m0 10v1m0 26v1m0 3v2m0 37v1m0 12v1m0 18v2m0 13v2m0 12v1m0 33v4m0 21v1m0 13v1m0 27v1m0 3v1M233.85 945v2m0 32v1m0 157v1m0 70v1m0 19v2M259.55 1024v2m0 2v1m0 13v2m0 33v2m0 5v1m0 74v2m0 54v1m0 20v1M285.25 903v1m0 3v2m0 7v1m0 10v2m0 52v1m0 58v1m0 15v2m0 14v2m0 24v1m0 46v2m0 10v2m0 39v1m0 38v1m0 85v2m0 38v1m0 14v2M310.95 897v1m0 26v1m0 12v2m0 77v2m0 11v2m0 84v1m0 2v1m0 29v2m0 9v2m0 17v2m0 9v2m0 32v1m0 61v1M336.65 950v3m0 11v2m0 36v2m0 17v2m0 300v2m0 41v2m0 4v1M362.35 907v2m0 16v1m0 24v1m0 50v1m0 27v1m0 20v1m0 23v1m0 93v2m0 22v1m0 167v1M388.05 898v1m0 24v1m0 35v2m0 7v2m0 31v1m0 38v1m0 9v1m0 28v2m0 30v2m0 31v1m0 31v1m0 32v2m0 31v1M413.75 906v1m0 24v1m0 54v1m0 15v2m0 63v2m0 42v2m0 28v2m0 12v4m0 36v2m0 42v1m0 91v2M439.45 961v1m0 73v1m0 58v1m0 37v1m0 93v1m0 34v1m0 3v1m0 16v1m0 16v1m0 13v1m0 21v2m0 10v1m0 14v1M465.15 969v1m0 55v1m0 232v2m0 6v2m0 15v1m0 47v2m0 18v2m0 2v1m0 1v1M490.85 914v2m0 207v1m0 126v1m0 12v1m0 57v2m0 27v1M516.55 921v1m0 167v1m0 2v1m0 55v1m0 25v1m0 10v1m0 175v1m0 34v2M542.25 913v1m0 169v1m0 1v1m0 76v1m0 28v1m0 55v1m0 14v1m0 1v1m0 26v1m0 10v1m0 1v2m0 2v1m0 48v1m0 10v2m0 10v1M567.95 898v1m0 107v2m0 16v2m0 43v2m0 3v1m0 17v2m0 113v1m0 35v2m0 30v2m0 19v1m0 16v1m0 13v2m0 26v1m0 16v1M593.65 893v2m0 237v1m0 135v2m0 51v2m0 16v2m0 14v1m0 32v2M619.35 900v1m0 300v1m0 84v2m0 14v1m0 51v1m0 15v2M645.05 1253v1m0 14v2m0 9v2m0 94v1m0 13v2M670.75 1088v1m0 157v1m0 15v1m0 51v2m0 13v1m0 45v1m0 9v1"/>
<path stroke="#e55" d="M182.45 916v1m0 2v4m0 1v1m0 22v3m0 21v1m0 25v1m0 26v2m0 25v1m0 6v2m0 24v1m0 34v1m0 2v3m0 2v1m0 8v1m0 1v1m0 12v2m0 9v1m0 51v1m0 9v2m0 13v3m0 37v2m0 103v1M208.15 907v2m0 31v2m0 3v2m0 3v1m0 18v1m0 7v2m0 7v1m0 63v1m0 3v2m0 11v4m0 1v2m0 5v2m0 10v1m0 19v2m0 11v1m0 61v2m0 1v2m0 15v1m0 6v1m0 28v1M233.85 896v1m0 45v1m0 5v2m0 39v2m0 3v2m0 41v2m0 7v1m0 5v1m0 7v1m0 37v1m0 140v1M259.55 913v1m0 2v1m0 37v2m0 23v1m0 2v1m0 14v1m0 25v1m0 3v1m0 3v1m0 31v2m0 17v1m0 24v1m0 24v1m0 4v1m0 6v1m0 32v1m0 8v3m0 33v1m0 16v1m0 158v2M285.25 901v2m0 11v2m0 1v2m0 18v2m0 12v2m0 4v4m0 5v1m0 69v3m0 11v1m0 2v1m0 23v2m0 20v2m0 18v1m0 12v1m0 5v1m0 12v2m0 20v1m0 54v2m0 9v1m0 42v1m0 25v1M310.95 896v1m0 67v2m0 30v1m0 29v1m0 9v1m0 10v1m0 37v1m0 15v2m0 8v2m0 6v1m0 13v1m0 7v2m0 20v2m0 41v1m0 15v1m0 81v2m0 88v4M336.65 948v2m0 6v1m0 2v2m0 73v1m0 41v1m0 15v2m0 237v2M362.35 898v1m0 4v1m0 40v1m0 82v1m0 9v2m0 3v2m0 84v2m0 7v2m0 14v2m0 15v1m0 27v1m0 6v2m0 9v2m0 15v1m0 6v2m0 44v2M388.05 916v1m0 45v2m0 42v2m0 18v1m0 15v2m0 23v2m0 7v1m0 33v1m0 9v2m0 3v2m0 4v1m0 34v2m0 68v1m0 152v1M413.75 923v2m0 81v2m0 10v1m0 60v2m0 36v1m0 20v1m0 52v1m0 28v2m0 4v1m0 13v2M439.45 937v2m0 107v1m0 50v1m0 16v1m0 22v1m0 130v2m0 19v1m0 18v1m0 9v1m0 8v2m0 21v1m0 5v1m0 16v2m0 5v1M465.15 979v1m0 51v1m0 68v1m0 154v1m0 7v2m0 44v2m0 10v4m0 1v1m0 12v2m0 2v1m0 38v2m0 12v4M490.85 1042v2m0 88v1m0 20v2m0 100v1m0 21v1m0 5v1m0 11v1m0 6v1m0 32v2m0 10v1M516.55 912v1m0 4v1m0 59v1m0 10v1m0 108v1m0 1v1m0 25v1m0 16v1m0 79v1m0 60v1m0 2v2m0 3v1m0 2v1m0 56v2m0 25v2M542.25 916v1m0 80v1m0 21v2m0 61v1m0 3v2m0 30v1m0 40v2m0 10v2m0 76v1m0 18v2m0 26v1m0 33v1M567.95 901v2m0 210v1m0 11v2m0 6v1m0 94v2m0 25v1m0 17v1m0 20v1m0 34v1m0 24v1m0 31v2m0 8v2M593.65 1177v1m0 61v1m0 6v2m0 33v2m0 11v5m0 4v1m0 12v1m0 24v2m0 2v2m0 6v1m0 9v1m0 32v2M619.35 1196v1m0 27v1m0 14v1m0 25v1m0 37v1m0 69v2M645.05 1337v2m0 33v1M670.75 1008v2m0 271v1m0 9v1m0 3v1m0 25v2m0 38v2m0 18v1"/>
<path stroke="#66b" d="M182.45 925v1m0 41v1m0 2v1m0 50v2m0 200v1m0 19v2m0 1v3m0 1v4m0 1v5m0 1v1m0 2v1m0 1v2m0 2v3m0 1v1m0 2v2m0 2v1m0 1v1m0 1v1m0 2v1m0 3v3m0 1v3m0 4v1m0 8v1m0 1v2m0 5v2m0 4v8m0 2v4m0 2v1m0 1v3m0 3v4m0 4v1m0 1v1m0 2v2m0 4v2m0 4v2m0 2v4m0 1v4m0 5v2M208.15 944v1m0 30v1m0 82v2m0 50v1m0 3v1m0 23v1m0 37v1m0 16v2m0 28v1m0 22v1m0 1v2m0 1v6m0 3v2m0 2v2m0 2v2m0 1v3m0 3v1m0 4v4m0 4v1m0 6v2m0 1v1m0 5v2m0 3v3m0 3v1m0 7v4m0 2v2m0 4v7m0 3v3m0 3v8m0 1v1m0 9v3m0 1v4m0 1v1m0 2v2m0 2v1m0 1v10M233.85 917v2m0 160v2m0 29v1m0 92v2m0 44v1m0 7v1m0 2v1m0 3v1m0 13v1m0 29v1m0 3v1m0 22v2m0 6v1m0 1v2m0 1v2m0 5v1m0 1v2m0 1v1m0 3v2m0 4v2m0 1v2m0 13v1m0 2v3m0 2v4M259.55 970v1m0 1v1m0 48v2m0 58v1m0 21v2m0 18v1m0 21v2m0 35v1m0 25v1m0 36v1m0 3v6m0 1v1m0 1v3m0 4v5m0 4v1m0 2v1m0 1v4m0 3v3m0 1v6m0 3v3m0 1v1m0 5v4m0 1v2m0 2v1m0 2v10m0 4v4m0 4v7m0 3v1m0 1v1m0 2v1m0 3v4m0 2v2m0 2v1m0 2v1m0 2v4m0 6v6m0 2v2M285.25 897v1m0 25v1m0 21v2m0 29v1m0 3v1m0 60v1m0 18v1m0 54v1m0 102v2m0 31v2m0 4v1m0 13v2m0 4v2m0 4v1m0 2v2m0 1v1m0 6v3m0 1v1m0 2v1m0 5v2m0 3v4m0 9v3m0 1v2m0 2v4m0 6v2m0 1v2m0 1v4m0 2v1m0 2v1m0 3v2m0 2v2m0 2v1m0 11v1m0 5v1m0 5v2M310.95 923v1m0 11v2m0 135v2m0 35v1m0 41v6m0 38v2m0 29v1m0 1v2m0 13v2m0 1v1m0 1v1m0 1v4m0 3v5m0 2v7m0 2v1m0 1v2m0 14v3m0 6v1m0 5v5m0 8v2m0 4v5m0 1v8m0 4v1m0 1v5m0 4v1m0 2v1m0 3v1m0 4v4m0 2v1m0 2v1m0 15v3m0 4v2M336.65 931v1m0 34v1m0 13v1m0 122v2m0 75v2m0 3v1m0 22v1m0 39v1m0 5v1m0 8v1m0 11v2m0 6v1m0 1v1m0 9v1m0 1v2m0 5v2m0 21v2m0 6v4m0 4v1m0 11v1m0 2v1m0 2v1m0 14v2m0 8v2m0 1v2M362.35 994v2m0 16v2m0 58v2m0 5v2m0 44v2m0 3v1m0 49v2m0 9v1m0 7v2m0 14v1m0 8v2m0 21v1m0 5v2m0 5v1m0 7v2m0 13v1m0 7v1m0 3v2m0 5v4m0 12v3m0 16v2m0 2v2m0 2v2m0 1v2m0 3v1m0 7v1m0 4v2m0 5v2m0 7v2m0 2v3M388.05 895v1m0 51v1m0 117v2m0 22v2m0 7v3m0 14v1m0 12v2m0 7v1m0 35v1m0 32v1m0 36v2m0 9v1m0 15v1m0 2v1m0 3v1m0 6v1m0 7v2m0 5v1m0 3v1m0 9v1m0 12v1m0 6v2m0 12v1m0 10v3m0 3v2m0 9v1m0 5v3m0 4v1m0 1v1M413.75 913v1m0 37v2m0 13v1m0 30v1m0 42v2m0 11v1m0 11v2m0 10v2m0 13v2m0 38v1m0 50v2m0 20v1m0 16v1m0 22v1m0 1v1m0 1v2m0 2v1m0 4v4m0 8v1m0 2v1m0 9v1m0 4v3m0 1v2m0 2v4m0 1v2m0 6v2m0 3v2m0 2v1m0 7v3m0 10v2m0 16v1m0 4v1m0 1v2m0 2v2m0 2v3m0 3v2m0 1v4m0 11v2M439.45 895v1m0 3v2m0 22v1m0 16v2m0 20v2m0 3v1m0 13v1m0 20v2m0 24v2m0 24v2m0 15v1m0 36v1m0 13v2m0 65v2m0 7v1m0 10v2m0 12v3m0 12v1M490.85 891v2m0 51v1m0 9v2m0 29v1m0 3v2m0 13v2m0 22v1m0 40v2m0 10v1m0 3v1m0 29v1m0 47v2m0 18v2m0 8v2m0 27v1M542.25 1295v1M567.95 903v1m0 17v2m0 8v1m0 18v1m0 2v1m0 8v2m0 9v2m0 14v2m0 37v1m0 1v2m0 2v1m0 2v3m0 7v1m0 10v2m0 5v2m0 4v1m0 19v1m0 6v1m0 18v1m0 6v1m0 98v1m0 13v2M670.75 916v1m0 17v1m0 19v2m0 63v2m0 2v1m0 2v1m0 21v1m0 40v2m0 70v1m0 43v1m0 1v1m0 22v2"/>
<path stroke="#e99" d="M182.45 926v1m0 161v1M208.15 1040v1m0 187v2M233.85 973v2m0 29v2m0 38v2m0 67v1m0 29v1m0 48v1m0 41v1M310.95 927v2m0 105v1m0 79v1m0 9v1M336.65 940v2m0 34v1m0 42v2m0 11v2m0 45v2m0 17v1m0 19v1m0 17v1m0 16v2m0 11v2m0 8v1m0 22v2m0 35v1M362.35 969v1m0 264v1m0 30v1m0 48v2m0 59v1M388.05 950v1M413.75 1185v1M439.45 1384v1M490.85 1088v1m0 55v1m0 119v1m0 41v2m0 11v2m0 23v1m0 13v1m0 19v2m0 4v1m0 9v2m0 2v2M516.55 1299v1m0 8v1m0 49v1M542.25 899v2m0 49v1m0 26v2m0 98v2m0 192v2m0 1v1m0 123v2M567.95 1261v1m0 3v1m0 17v1m0 17v1m0 6v1m0 14v2m0 23v2M619.35 1253v1m0 16v1m0 4v2m0 35v1m0 40v1M645.05 1249v1m0 42v2m0 51v2m0 33v1M670.75 1189v2m0 49v2m0 75v1m0 27v2m0 6v1m0 32v2"/>
<path stroke="#947" d="M182.45 931v1m0 8v2m0 38v1m0 61v2m0 17v2M208.15 982v1m0 31v2m0 58v1m0 42v1m0 41v2M259.55 951v2m0 40v1m0 80v1m0 114v2M285.25 991v2m0 74v2m0 39v1m0 204v1M310.95 1205v1M336.65 1030v1m0 124v2M362.35 937v2m0 47v1m0 101v1m0 99v1m0 33v1m0 20v2M388.05 1041v1m0 90v1m0 64v1m0 1v2M413.75 899v2m0 6v2m0 235v1m0 23v2m0 39v2m0 97v1m0 67v2M439.45 1030v1m0 162v2M567.95 911v2m0 3v1m0 6v1m0 198v1"/>
<path stroke="#a58" d="M182.45 934v1m0 233v2m0 208v2M208.15 956v1m0 62v2M233.85 1163v2M285.25 1171v2m0 13v2m0 57v1m0 38v1m0 65v1M310.95 1134v1m0 142v1m0 19v2m0 52v2m0 35v1M336.65 896v1m0 250v1M362.35 1097v1M388.05 1386v2M413.75 914v2m0 94v2m0 40v1m0 212v1M439.45 924v1m0 81v2M490.85 959v2m0 102v2M542.25 1245v1M567.95 971v1M593.65 1385v1M670.75 959v2m0 230v1"/>
<path stroke="#b8a" d="M182.45 939v1m0 377v1m0 26v1M208.15 1350v1M233.85 1139v2M285.25 1279v2M336.65 1261v1m0 15v1M362.35 1274v1m0 54v1m0 55v1M388.05 1263v1m0 59v2M413.75 1311v1m0 5v1m0 29v1M490.85 996v1M542.25 925v1m0 244v1M593.65 924v1m0 25v1m0 18v1m0 26v1m0 34v1m0 31v2m0 7v2m0 40v1m0 23v1m0 4v1m0 78v1m0 100v2M670.75 1147v1"/>
<path stroke="#b8b" d="M182.45 956v1M259.55 1178v2m0 193v2M388.05 1010v2M413.75 991v2m0 323v1M490.85 1016v2m0 191v2M542.25 924v1m0 185v1m0 8v1M567.95 909v2m0 192v2M593.65 907v2m0 47v1m0 152v1m0 85v2m0 10v1m0 136v1M670.75 994v2"/>
<path stroke="#e43" d="M182.45 957v2m0 55v2m0 14v1m0 4v1m0 33v2m0 27v1m0 2v2m0 10v1m0 20v1m0 36v2m0 24v2m0 16v1m0 2v2m0 14v1M208.15 904v2m0 55v1m0 50v2m0 32v1m0 4v1m0 25v2m0 26v2m0 15v1m0 7v1m0 26v2m0 15v2m0 2v2m0 19v2m0 29v2m0 2v1M233.85 971v1m0 120v2m0 72v2M259.55 914v2m0 92v2m0 29v1m0 39v2m0 17v1m0 16v1m0 18v1m0 64v2m0 23v2M285.25 944v1m0 17v2m0 32v1m0 5v2m0 28v2m0 5v1m0 46v2m0 6v1m0 14v1m0 7v1m0 32v1m0 25v1m0 12v2m0 39v2m0 10v1M310.95 906v1m0 19v1m0 35v2m0 9v2m0 12v2m0 15v2m0 6v2m0 9v1m0 25v1m0 34v1m0 9v1m0 15v1m0 16v1m0 43v2m0 18v1m0 9v2m0 11v1m0 27v1m0 20v1m0 47v1M336.65 987v2m0 8v1m0 10v2m0 218v2m0 72v1M362.35 943v1m0 36v1m0 29v2m0 23v1m0 15v1m0 8v1m0 61v1m0 39v1m0 3v2m0 3v2m0 20v2m0 122v1M388.05 961v1m0 86v1m0 22v1m0 141v1m0 10v2m0 32v2m0 19v2M413.75 942v1m0 176v1m0 28v2M439.45 989v2m0 27v1m0 116v1m0 122v2m0 61v2M465.15 964v1m0 97v1m0 21v1m0 49v1m0 31v1m0 121v1m0 52v2m0 19v1m0 9v1m0 3v2m0 2v1M490.85 1366v2m0 17v1M516.55 1033v1m0 7v1m0 49v1m0 108v1m0 35v1m0 24v1m0 51v1m0 80v2M542.25 999v2m0 124v2m0 108v1m0 82v1m0 14v2M567.95 904v2m0 73v1m0 129v2m0 119v2m0 58v1m0 13v2m0 25v2m0 12v2m0 23v2m0 26v2M593.65 917v2m0 28v1m0 24v1m0 61v1m0 39v1m0 231v2m0 10v1m0 79v2M619.35 1103v1m0 244v2m0 12v1m0 9v1M645.05 1278v1m0 12v1m0 56v2M670.75 1251v2m0 21v1m0 17v2m0 10v2m0 10v1"/>
<path stroke="#faa" d="M182.45 961v1m0 17v1m0 69v1m0 27v2m0 24v2m0 10v1m0 4v2m0 8v1m0 12v1m0 63v1m0 19v1M208.15 899v2m0 23v1m0 45v1m0 10v1m0 5v2m0 71v1m0 25v2m0 8v1m0 39v1m0 11v2m0 12v1M233.85 895v1m0 1v1m0 5v3m0 20v1m0 5v2m0 19v1m0 23v2m0 8v2m0 7v1m0 1v1m0 2v1m0 30v2m0 7v1m0 39v1m0 12v1m0 24v1m0 73v2m0 12v1m0 89v3M259.55 921v2m0 12v2m0 31v1m0 43v2m0 20v1m0 15v2m0 58v3m0 18v1m0 25v2M285.25 898v1m0 32v1m0 11v1m0 139v1m0 8v2m0 19v1m0 10v1m0 28v2m0 4v2m0 2v2m0 12v1m0 4v1m0 2v1m0 25v2m0 10v1m0 95v2M310.95 895v1m0 54v1m0 29v1m0 13v2m0 3v2m0 122v1m0 121v1M336.65 917v2m0 15v1m0 48v2m0 52v2m0 50v2m0 8v4m0 28v1m0 16v2m0 28v2m0 2v1m0 8v2m0 57v1m0 6v1m0 55v1m0 74v1M362.35 901v2m0 18v2m0 4v2m0 3v3m0 79v2m0 23v1m0 143v2m0 12v1m0 63v1m0 8v1m0 18v1m0 19v2m0 78v1M388.05 937v2m0 9v2m0 25v1m0 38v2m0 179v2m0 38v1M413.75 901v2m0 13v1m0 109v1m0 76v2m0 2v1m0 14v1m0 47v1M439.45 976v1m0 62v1m0 125v1m0 4v1m0 2v1m0 21v2m0 73v1m0 2v1m0 12v2m0 13v1m0 21v2m0 5v3m0 6v2m0 16v1m0 6v2m0 12v2M465.15 930v1m0 75v1m0 13v1m0 233v1m0 7v1m0 2v1m0 4v1m0 95v2m0 16v1M490.85 898v1m0 2v2m0 10v1m0 17v3m0 42v1m0 22v2m0 7v2m0 100v1m0 37v2m0 48v1m0 24v1m0 2v1m0 22v1m0 3v1m0 4v2m0 2v1m0 40v1m0 8v1m0 3v1m0 8v1m0 13v2m0 13v1m0 9v2m0 4v2m0 1v2m0 5v1M516.55 923v1m0 8v1m0 213v1m0 131v1m0 25v2m0 51v1m0 8v2M542.25 1139v2m0 3v1m0 21v2m0 75v2m0 16v1m0 128v1M567.95 907v2m0 20v1m0 21v2m0 17v1m0 69v1m0 42v1m0 52v1m0 2v2m0 4v2m0 6v2m0 4v2m0 2v2m0 34v2m0 13v1m0 24v1m0 14v1m0 15v1m0 8v2m0 36v1m0 8v1m0 29v1M593.65 1096v1m0 166v1m0 2v2m0 51v2m0 30v2M619.35 1262v1m0 37v1m0 22v2m0 73v2M645.05 1212v1M670.75 935v2m0 8v2m0 19v1m0 63v1m0 46v2m0 16v1m0 23v1m0 3v4m0 1v2m0 43v1m0 35v2m0 22v1m0 4v1m0 14v1m0 6v1m0 17v1m0 48v2m0 62v1"/>
<path stroke="#958" d="M182.45 981v1m0 49v1m0 222v1m0 10v1M208.15 1036v1M233.85 1019v2M259.55 961v1m0 132v1m0 102v1m0 153v2m0 13v2M285.25 1288v1M310.95 1249v1M336.65 1222v1M362.35 935v2m0 87v2m0 325v2M388.05 1109v1m0 240v1m0 11v1M413.75 945v2m0 289v1m0 151v2M439.45 1101v2m0 44v1m0 29v1m0 59v1M567.95 935v2m0 49v1m0 231v2"/>
<path stroke="#e54" d="M182.45 986v1m0 109v1M208.15 1027v1m0 154v1M233.85 1222v1m0 3v1M259.55 925v1m0 190v1m0 78v2m0 36v1M285.25 1063v2m0 159v2M310.95 916v1m0 8v1M336.65 1168v2M362.35 981v1m0 245v1M388.05 1028v1M413.75 909v2m0 262v1M439.45 1098v1m0 148v1m0 3v2m0 31v1m0 68v1M465.15 1249v1m0 53v1m0 8v1m0 60v2M516.55 1368v2M542.25 1141v2m0 115v2M567.95 1382v2M593.65 1199v2m0 134v2m0 6v1M619.35 1316v1m0 73v1M670.75 1255v1m0 47v1m0 22v1m0 6v2"/>
<path stroke="#a8b" d="M182.45 991v2m0 332v1M208.15 1034v1m0 228v1m0 11v2M233.85 980v1m0 55v1m0 279v1m0 69v2M285.25 1021v2m0 335v1M310.95 944v1m0 44v2m0 101v2m0 266v1m0 1v1m0 26v1M336.65 932v2m0 336v1m0 77v3M362.35 1077v2m0 199v1m0 48v2m0 49v2m0 16v2M388.05 931v1m0 3v2m0 182v1m0 145v1m0 82v2m0 42v2M413.75 962v2m0 189v2m0 99v1m0 24v2m0 32v1M439.45 919v2m0 142v2m0 88v2m0 58v1M490.85 1018v1m0 46v2m0 32v2M542.25 1263v1M567.95 998v1m0 145v1m0 64v2M670.75 907v2m0 137v1m0 169v2"/>
<path stroke="#55a" d="M182.45 998v1m0 40v1m0 8v1m0 88v1m0 47v1M208.15 926v1m0 220v1m0 7v2M259.55 947v1m0 71v2m0 15v1m0 16v1M285.25 1122v1m0 8v1m0 9v2M310.95 991v2m0 4v2m0 80v2m0 49v1M362.35 926v1m0 21v2m0 22v1m0 18v2m0 28v2m0 63v2m0 13v2m0 14v1m0 56v2m0 33v2m0 26v1M388.05 927v2m0 28v2m0 68v1m0 49v2m0 16v1m0 43v2m0 21v1M413.75 897v1m0 55v1m0 10v2m0 42v2m0 22v2m0 127v1m0 62v2m0 7v1m0 1v1M439.45 917v2m0 7v1m0 27v2m0 17v2m0 2v2m0 7v1m0 14v1m0 8v2m0 46v2m0 26v2m0 7v1m0 3v2m0 12v1m0 1v1m0 17v1m0 14v2m0 9v2m0 5v2m0 31v2m0 7v1m0 5v2m0 16v3M567.95 937v2m0 30v1m0 5v1m0 1v2m0 29v2m0 11v2m0 19v2m0 12v2m0 17v1m0 23v2m0 13v1m0 15v1m0 6v1m0 28v2m0 15v2m0 18v2m0 10v1"/>
<path stroke="#fcc" d="M182.45 1001v3m0 14v1m0 146v1m0 16v1m0 33v2M208.15 916v1m0 50v1m0 121v2m0 92v2M233.85 914v2m0 86v2m0 8v2m0 9v1m0 27v1m0 9v4m0 36v2m0 17v2m0 29v2m0 62v1m0 73v1M259.55 1032v2m0 3v2m0 198v1M285.25 925v1m0 92v1m0 91v3m0 177v1m0 91v2M310.95 893v2m0 64v2m0 16v2m0 7v1m0 37v2m0 24v1m0 152v2m0 11v2m0 146v2m0 20v2M336.65 898v1m0 55v2m0 17v2m0 11v1m0 14v1m0 123v2m0 6v1m0 3v1m0 45v2m0 10v2m0 29v2m0 131v1M362.35 893v2m0 4v2m0 38v1m0 49v2m0 25v2m0 47v2m0 44v2m0 19v1m0 28v1m0 20v1m0 171v1m0 17v1M388.05 907v2m0 90v2m0 30v1m0 50v1m0 33v1m0 48v1m0 71v1m0 138v2M413.75 937v2m0 75v2m0 79v1M439.45 907v2m0 175v1m0 4v2m0 5v1m0 13v1m0 124v1m0 64v1m0 8v2m0 37v2M465.15 1282v1M490.85 937v2m0 1v2m0 20v2m0 46v2m0 80v2m0 1v1m0 5v2m0 11v1m0 2v1m0 39v2m0 15v2m0 67v2m0 44v1m0 21v1m0 70v2M516.55 933v1m0 76v1m0 60v1m0 138v1m0 51v1m0 25v1m0 37v1m0 2v1M542.25 973v2m0 319v1M567.95 896v1m0 88v1m0 13v2m0 25v1m0 49v1m0 12v2m0 95v2m0 1v2m0 2v2m0 29v2m0 62v1m0 29v1M593.65 961v1m0 206v2m0 65v1m0 34v1M619.35 1066v1m0 103v1m0 180v2M670.75 923v1m0 18v1m0 24v1m0 13v1m0 36v1m0 25v2m0 7v1m0 154v1m0 6v1m0 7v1m0 78v1m0 40v1m0 6v1"/>
<path stroke="#77c" d="M182.45 1016v2m0 63v1m0 167v1m0 18v2m0 3v1m0 8v1m0 7v1m0 11v1m0 1v4m0 3v1m0 38v1m0 5v1m0 1v1m0 3v1m0 5v2m0 3v3m0 15v1M208.15 948v2m0 133v1m0 174v2m0 6v2m0 2v1m0 3v1m0 4v3m0 4v3m0 2v1m0 3v2m0 4v1m0 2v2m0 3v2m0 5v1m0 18v2m0 7v3m0 14v1m0 1v1m0 2v2m0 2v2m0 3v1m0 6v2m0 2v2m0 1v1M233.85 1040v1m0 36v2m0 101v2m0 48v2m0 60v2m0 36v1m0 45v2M259.55 956v1m0 235v1m0 14v1m0 35v2m0 3v1m0 13v1m0 8v2m0 2v2m0 1v1m0 17v3m0 3v1m0 13v1m0 14v4m0 4v4m0 11v1m0 5v1m0 15v2m0 6v4M285.25 942v1m0 182v2m0 121v1m0 14v1m0 1v1m0 7v1m0 56v1m0 10v2m0 4v1M310.95 898v1m0 338v1m0 18v1m0 84v2m0 7v1m0 19v2M336.65 1107v1m0 139v1m0 33v1m0 4v2m0 8v1m0 4v1m0 96v2M362.35 970v1m0 5v1m0 27v2m0 2v2m0 110v2m0 64v2m0 25v1m0 37v2m0 10v1m0 13v1m0 6v1m0 45v3m0 31v2m0 4v2M388.05 913v1m0 3v2m0 57v1m0 153v1m0 43v2m0 79v1m0 1v1m0 4v1m0 15v1m0 38v1m0 33v2m0 4v1m0 10v4M413.75 891v2m0 123v2m0 76v1m0 116v2m0 35v1m0 8v1m0 4v2m0 2v2m0 3v2m0 1v1m0 20v1m0 10v2m0 22v1m0 10v3m0 9v1m0 4v2m0 1v1m0 4v2m0 2v2m0 3v1M439.45 897v1m0 116v2m0 21v2m0 49v1m0 114v2m0 31v1M490.85 993v1m0 88v1m0 1v1m0 50v2m0 22v2m0 74v1M542.25 1350v1M567.95 945v2m0 25v1m0 9v1m0 53v1m0 49v2m0 9v1M593.65 1309v2m0 70v1M670.75 1159v2m0 31v1"/>
<path stroke="#946" d="M182.45 1019v2m0 64v1m0 31v1M208.15 914v2m0 77v1M259.55 898v1m0 277v1m0 57v1M285.25 993v1m0 29v1M310.95 1232v1M362.35 993v1m0 171v1M388.05 909v2m0 10v2m0 41v2m0 235v2m0 175v2M413.75 947v1m0 33v1m0 81v2m0 229v1M439.45 1218v2M567.95 925v1m0 1v2m0 304v1"/>
<path stroke="#e76" d="M182.45 1050v1m0 80v1M208.15 1239v1M233.85 921v2M285.25 939v1m0 142v1M310.95 1041v1m0 46v1M362.35 957v2M465.15 1304v2m0 55v1M542.25 1396v2M567.95 1300v1M593.65 925v1m0 431v1m0 32v1M619.35 1245v1m0 65v1"/>
<path stroke="#b7a" d="M182.45 1052v1M233.85 1145v2m0 67v1m0 12v1m0 147v1m0 2v3M259.55 1264v1M285.25 1166v2M310.95 1288v1M336.65 1024v2m0 217v2M362.35 1275v2m0 34v1M388.05 1285v1M490.85 1041v1m0 126v2M542.25 927v2m0 2v1m0 22v2m0 25v1m0 11v1m0 66v1m0 89v1m0 71v1m0 17v2m0 152v2M593.65 951v2m0 4v2m0 3v2m0 112v1m0 20v1m0 35v1m0 19v4m0 14v2m0 69v1"/>
<path stroke="#aad" d="M182.45 1060v1m0 223v1M208.15 943v1M233.85 1103v2m0 20v3m0 135v1m0 1v1m0 25v1m0 10v1m0 22v1m0 40v2m0 4v1M259.55 943v1M285.25 1249v1M310.95 947v1m0 346v1M336.65 904v2m0 3v2m0 18v1m0 38v1m0 75v2m0 49v1m0 42v1m0 139v1m0 66v3m0 33v1M362.35 1076v1m0 258v2M388.05 891v2M413.75 1034v1m0 142v1M439.45 891v2m0 38v1m0 119v1m0 124v1M490.85 911v2m0 70v2m0 71v2m0 21v2m0 13v1m0 29v1m0 66v1M516.55 1050v1m0 57v1M542.25 923v1m0 187v2m0 22v1m0 106v1M593.65 903v1m0 12v1m0 20v2m0 6v2m0 26v2m0 1v1m0 14v2m0 44v2m0 12v1m0 2v2m0 23v2m0 5v2m0 23v2m0 12v2m0 9v1m0 7v1m0 21v2m0 20v3m0 15v1m0 23v2m0 1v1m0 4v1m0 1v2m0 22v1M670.75 1040v1m0 15v2m0 36v1m0 48v1m0 83v1"/>
<path stroke="#bbd" d="M182.45 1089v2M233.85 1248v1M336.65 1122v1M413.75 996v1M439.45 1092v2M490.85 1234v1M542.25 1042v2m0 21v2m0 41v1m0 27v1M593.65 1071v1m0 133v1M670.75 1006v2m0 166v2"/>
<path stroke="#a69" d="M182.45 1092v2m0 50v1M208.15 1329v1M233.85 1189v2M259.55 1026v1m0 2v1m0 89v1M285.25 1029v1m0 178v1m0 46v1m0 4v1m0 30v1m0 10v1M310.95 1107v1m0 193v1m0 11v1M336.65 994v2M362.35 1034v1m0 46v1m0 61v1m0 33v1m0 165v2M388.05 954v2m0 26v1m0 46v1m0 301v2m0 30v1m0 8v1m0 12v1M413.75 1056v2m0 27v1M439.45 893v2m0 50v2m0 103v1m0 18v2m0 159v2M490.85 917v2m0 254v1m0 62v1M542.25 1032v2m0 269v1M567.95 917v2m0 108v1m0 79v1M593.65 1384v1M670.75 1086v2m0 88v1"/>
<path stroke="#fee" d="M182.45 1097v1m0 7v2M208.15 947v1m0 146v1m0 39v1m0 76v2m0 5v2M233.85 991v2m0 263v1m0 46v1m0 5v2m0 48v1m0 34v2M259.55 1108v1m0 16v2M285.25 929v1m0 18v2m0 99v1m0 118v2m0 45v1M310.95 945v2m0 97v2m0 5v1m0 130v1M336.65 996v1m0 45v2m0 65v1m0 4v1m0 74v2m0 7v1M362.35 1006v2m0 218v1M413.75 1044v2M439.45 951v2m0 45v1m0 75v1m0 152v1m0 164v2M465.15 967v1m0 8v1m0 325v1m0 87v1M490.85 893v2m0 188v1m0 5v2m0 12v2m0 3v1m0 2v2m0 15v2m0 69v2m0 10v2m0 69v1m0 65v2m0 42v2M516.55 1003v1m0 297v1M567.95 1077v2m0 16v1m0 95v1m0 5v1m0 51v1M670.75 947v1m0 66v2m0 16v2m0 45v2m0 32v1m0 16v1m0 4v1m0 44v2m0 100v1m0 58v2"/>
<path stroke="#a68" d="M182.45 1107v1m0 105v1m0 176v1M208.15 935v2m0 59v1M259.55 1083v1m0 34v1m0 127v1M285.25 1381v1M310.95 976v1m0 188v1m0 42v1m0 81v1M336.65 1041v1m0 32v1M388.05 1047v1m0 27v1m0 42v1m0 5v1m0 36v1m0 88v1m0 9v1m0 58v2M413.75 975v1m0 301v1m0 120v2M439.45 1128v2m0 15v2M490.85 970v1m0 190v2M542.25 1266v2m0 20v1M567.95 1198v1M670.75 1186v2m0 10v1"/>
<path stroke="#a7a" d="M182.45 1111v2M208.15 939v1m0 113v1m0 161v1m0 105v2M233.85 1224v2m0 44v1m0 43v2m0 23v2m0 10v2M259.55 1089v2m0 23v1m0 9v1m0 18v1m0 98v1M285.25 924v1m0 356v1m0 61v1m0 41v1m0 5v1M310.95 1247v1m0 23v2M336.65 942v1m0 18v1m0 42v2M362.35 1046v1m0 309v1m0 37v2M388.05 904v2m0 398v2m0 33v4m0 51v2M413.75 1028v1m0 72v2m0 230v4m0 54v1M439.45 930v1m0 90v2m0 53v1m0 114v1M490.85 906v1m0 40v1m0 171v1m0 77v1M542.25 1050v1m0 324v1M567.95 966v1m0 86v1m0 61v1m0 41v2m0 63v1M670.75 968v1m0 20v2m0 202v2m0 19v1m0 24v1"/>
<path stroke="#fbb" d="M182.45 1125v2m0 1v2M208.15 971v1m0 89v2m0 72v1m0 25v1m0 33v2M233.85 898v1m0 58v2m0 7v1m0 61v1m0 24v1m0 29v1m0 1v4m0 45v1m0 3v1m0 35v2m0 1v1m0 126v2M259.55 962v2m0 82v1m0 41v1m0 2v1m0 28v2m0 16v1m0 32v3m0 58v1M285.25 971v1m0 36v2m0 38v1m0 84v1m0 1v2m0 133v1M310.95 951v2m0 1v2m0 58v2m0 51v2m0 22v1m0 76v2m0 16v2m0 27v1M336.65 943v1m0 83v1m0 39v2m0 3v2m0 8v1m0 3v2m0 9v1m0 12v1m0 16v1m0 65v2m0 124v2M362.35 914v2m0 46v2m0 88v1m0 60v1m0 27v2m0 92v1m0 37v1m0 34v1m0 16v1M388.05 934v1m0 44v1m0 13v1m0 43v2m0 52v1m0 53v2m0 38v1m0 19v1m0 17v1m0 4v2m0 60v1M413.75 926v1m0 7v1m0 59v2m0 113v1m0 14v1M439.45 979v1m0 67v1m0 79v1m0 35v2m0 114v2m0 31v1m0 57v2m0 10v2M465.15 1261v1m0 37v1m0 17v1M490.85 923v1m0 15v1m0 51v2m0 21v2m0 60v1m0 36v1m0 56v1m0 11v1m0 32v1m0 17v1m0 4v1m0 27v2m0 92v1M516.55 943v1m0 189v1m0 98v1M542.25 1012v2m0 101v1m0 137v1m0 60v2m0 72v1M567.95 899v2m0 18v2m0 13v1m0 56v2m0 53v1m0 3v1m0 34v1m0 19v2m0 40v1m0 7v2m0 5v1m0 79v1m0 71v2m0 25v2m0 7v1m0 24v1m0 12v1M593.65 934v1m0 398v2m0 56v1M670.75 911v2m0 13v1m0 5v2m0 17v2m0 40v1m0 10v2m0 41v1m0 4v1m0 10v2m0 51v1m0 5v1m0 11v1m0 13v2m0 35v1m0 34v2m0 4v1m0 41v3m0 41v2m0 9v2m0 5v1m0 41v1m0 15v3"/>
<path stroke="#968" d="M182.45 1177v1M208.15 1018v1M285.25 1233v1M388.05 1189v2m0 35v1M439.45 970v1"/>
<path stroke="#936" d="M182.45 1189v2m0 17v1M208.15 927v2m0 278v1M259.55 903v1m0 154v2M310.95 1021v2m0 170v2M362.35 931v1m0 253v1"/>
<path stroke="#e65" d="M182.45 1228v2M208.15 979v1m0 26v2m0 34v2M233.85 1076v1M259.55 923v1m0 229v2M310.95 909v2m0 186v1m0 33v1M336.65 1123v1M362.35 973v2m0 69v2m0 172v2M388.05 1211v2M413.75 959v2m0 170v1M439.45 1245v1m0 14v1m0 2v1m0 90v1m0 3v1M465.15 1291v1m0 68v1m0 27v1M490.85 1271v2m0 12v1m0 11v2m0 15v2M516.55 1356v1M542.25 901v2m0 155v2m0 31v1m0 69v1m0 113v2m0 32v2M567.95 1256v1m0 24v1m0 39v2M593.65 1251v2m0 37v1M619.35 1317v1M645.05 1385v1"/>
<path stroke="#97a" d="M182.45 1245v1m0 29v2m0 58v2m0 59v2M208.15 1245v1m0 56v1m0 15v1M233.85 1131v1m0 25v2M259.55 1285v1M285.25 1301v1m0 59v1M310.95 1284v1m0 59v1m0 33v2m0 1v1M336.65 1253v1M362.35 1083v1m0 174v2M388.05 1251v2m0 21v1m0 8v1m0 16v1m0 15v1m0 44v1M413.75 1268v2m0 14v1m0 66v2M490.85 1176v1M670.75 1067v2"/>
<path stroke="#b79" d="M182.45 1260v1M233.85 929v1m0 139v2M285.25 1264v1M310.95 1317v1m0 64v2M336.65 998v1m0 78v2m0 83v1m0 77v2M362.35 1124v1m0 266v1M388.05 1234v1M413.75 1086v2M439.45 948v2M490.85 1054v2m0 15v1m0 134v1M542.25 1027v1m0 69v1m0 49v1m0 15v2m0 132v2m0 59v1M593.65 1131v1m0 7v2m0 4v2m0 132v2M670.75 1182v1"/>
<path stroke="#a57" d="M182.45 1262v1M208.15 1247v1M233.85 1018v1m0 5v2m0 192v2M259.55 895v1m0 189v1m0 19v2m0 156v1m0 6v1m0 99v2M285.25 919v2m0 174v1m0 82v2m0 47v1m0 161v1M310.95 921v2m0 123v1m0 11v2m0 17v2m0 128v1m0 30v1M336.65 926v1m0 236v2M362.35 1266v2M388.05 930v1m0 49v1m0 280v1M413.75 1076v1m0 208v1m0 64v1m0 41v2M490.85 1074v1m0 64v2M542.25 1343v1m0 11v1M567.95 954v2M593.65 1300v1"/>
<path stroke="#88c" d="M182.45 1289v1m0 26v1M208.15 1127v1m0 186v2M233.85 1258v2m0 58v1m0 18v2m0 11v1m0 30v1M259.55 901v2m0 86v2m0 61v1M285.25 1262v1m0 103v2M310.95 968v1m0 49v1m0 125v1m0 214v1M336.65 1145v2m0 127v1m0 46v2m0 6v1M388.05 924v1m0 252v1m0 131v2m0 1v1m0 78v1M413.75 1237v1m0 5v2m0 6v2m0 38v1m0 8v1m0 24v1m0 29v1M439.45 906v1m0 46v1m0 123v2M490.85 927v2m0 40v1m0 107v2M542.25 891v2m0 283v1m0 179v1M567.95 976v1m0 20v1m0 20v1m0 115v1M593.65 1313v1M670.75 962v2m0 6v1m0 140v2m0 25v1m0 24v2"/>
<path stroke="#969" d="M182.45 1291v1m0 49v2m0 20v1m0 8v1M208.15 1308v1m0 59v2M259.55 1060v1m0 67v2m0 178v1M285.25 972v1m0 301v1m0 46v2m0 2v1m0 30v1m0 13v2M310.95 1286v2m0 15v1m0 12v1m0 41v1M336.65 1134v1m0 62v1M362.35 1306v2M388.05 896v1m0 4v2m0 91v2m0 250v1m0 2v1m0 14v1m0 46v1m0 25v2m0 57v2M413.75 917v2m0 102v2m0 258v1M567.95 1061v2"/>
<path stroke="#98c" d="M182.45 1299v1M233.85 1243v3m0 81v2m0 60v1M259.55 1361v1M336.65 1060v1m0 2v2m0 181v1m0 2v1m0 53v1M362.35 1297v2m0 1v1M413.75 1303v1M490.85 929v1m0 41v1m0 75v1m0 172v2M542.25 1128v2M670.75 1118v1"/>
<path stroke="#a79" d="M182.45 1301v1m0 58v1M208.15 923v1m0 1v1M233.85 1186v2M259.55 948v2M285.25 1201v2M310.95 1289v1M336.65 969v1m0 59v1m0 28v2M439.45 904v2m0 29v2m0 166v2m0 73v2M490.85 1208v1M542.25 914v2m0 18v1m0 22v2m0 2v1m0 79v1m0 140v1M567.95 1041v1m0 134v1M670.75 1211v2"/>
<path stroke="#b68" d="M182.45 1308v1M233.85 967v1m0 31v2m0 47v1m0 79v2M285.25 964v2M310.95 929v1m0 382v1m0 43v1M336.65 1084v1M413.75 1069v2m0 184v1M439.45 1117v1M542.25 895v1m0 33v1m0 9v1m0 26v1m0 39v2m0 2v2m0 57v2m0 102v1m0 198v1M593.65 898v1m0 220v1m0 39v2m0 113v1m0 24v1m0 62v1m0 17v1M670.75 961v1"/>
<path stroke="#858" d="M182.45 1309v2m0 55v2M208.15 1243v2M259.55 1273v1m0 120v2M285.25 1388v1M310.95 1314v2m0 64v1M362.35 1256v1m0 25v1M388.05 1253v1m0 91v2m0 33v1M490.85 950v1"/>
<path stroke="#77b" d="M182.45 1318v1M208.15 1257v1m0 31v1m0 29v2m0 2v2M233.85 1271v2m0 22v1m0 25v2m0 31v1M259.55 1247v1m0 7v1m0 1v1m0 25v1m0 5v1m0 23v1m0 5v2m0 36v1m0 24v2M285.25 1380v1M310.95 1255v1m0 83v2m0 43v1M336.65 895v1m0 223v1M362.35 1245v1M388.05 1297v2m0 28v2m0 37v2m0 5v2M413.75 993v1m0 252v1m0 57v2m0 17v2m0 4v1m0 26v1m0 23v1M439.45 1052v1M490.85 1053v1m0 123v1M670.75 891v2"/>
<path stroke="#a9b" d="M182.45 1319v2M285.25 1127v1M310.95 899v2M336.65 1096v1M362.35 1075v1M388.05 1245v1M413.75 1074v1m0 52v1M439.45 1036v1M490.85 951v2M670.75 1101v2"/>
<path stroke="#98b" d="M182.45 1348v2m0 5v1m0 33v1M208.15 1208v1M233.85 969v1m0 125v1m0 245v2M259.55 1317v1m0 41v1M310.95 1136v1m0 142v2M362.35 1326v1m0 6v2m0 49v1M388.05 1325v1m0 29v1M490.85 1107v1M670.75 929v1m0 167v1"/>
<path stroke="#97b" d="M182.45 1392v2M233.85 916v1m0 55v1m0 323v1M336.65 1224v2m0 7v1m0 74v1m0 54v1M362.35 1323v2M388.05 1248v1m0 69v1M413.75 1264v1M670.75 898v1m0 140v1"/>
<path stroke="#c67" d="M182.45 1398v2M233.85 1168v2M310.95 1295v1M413.75 954v2M542.25 903v1m0 33v2m0 206v2m0 143v1m0 54v2M593.65 929v1m0 49v1m0 14v2m0 44v1m0 8v1m0 3v1m0 62v1m0 57v2m0 16v1m0 118v1m0 25v2m0 37v2"/>
<path stroke="#957" d="M208.15 913v1m0 43v2M259.55 964v3M285.25 1161v1M310.95 1099v2M362.35 923v1m0 112v1M388.05 1163v2m0 74v1M439.45 916v1m0 158v1M567.95 980v1m0 86v2"/>
<path stroke="#d89" d="M208.15 929v1M233.85 891v2m0 71v2m0 19v1m0 250v1M336.65 1230v2M465.15 1245v1M516.55 1270v1m0 14v1m0 23v2m0 48v1M542.25 947v1m0 123v1m0 23v1m0 34v1m0 196v2M593.65 914v2m0 67v2m0 33v1m0 98v1m0 93v2M619.35 1247v1m0 34v1m0 16v1m0 27v2m0 8v2M645.05 1270v1m0 10v1m0 17v1m0 8v1m0 57v2m0 16v1m0 1v2M670.75 1127v1"/>
<path stroke="#fba" d="M208.15 959v2M336.65 1284v1M439.45 1262v1M465.15 1281v1M490.85 1127v1m0 146v1M645.05 1347v1M670.75 1151v2"/>
<path stroke="#d88" d="M208.15 1047v1M516.55 1360v1M567.95 1385v1M619.35 1285v1M645.05 1394v2"/>
<path stroke="#a47" d="M208.15 1131v1M310.95 1363v1M362.35 1355v1M567.95 968v1"/>
<path stroke="#fff" d="M208.15 1165v1m0 61v1M233.85 1071v1m0 133v1M259.55 1014v2M285.25 968v1M310.95 934v1m0 238v1M336.65 913v1M362.35 917v2m0 83v2M388.05 903v1M413.75 919v2m0 77v1m0 43v2M439.45 1023v1m0 92v1m0 186v1M490.85 919v2m0 52v2m0 214v2m0 122v1m0 58v1M567.95 1029v1m0 18v1m0 267v1M670.75 987v2m0 62v1m0 47v2m0 131v1"/>
<path stroke="#eef" d="M208.15 1192v1M233.85 1235v1m0 10v1m0 32v2m0 30v1m0 35v1m0 15v1M259.55 1211v2M285.25 1074v1m0 231v2M310.95 1032v2M336.65 930v1m0 275v1m0 83v1M362.35 1082v1m0 238v2m0 58v1M413.75 1108v1m0 50v2M439.45 903v1m0 178v1m0 28v2m0 98v2M490.85 921v2m0 44v1m0 76v2m0 51v1m0 35v1m0 203v2m0 36v1M516.55 1073v1M567.95 1111v2M670.75 897v1m0 50v2m0 126v1m0 118v2"/>
<path stroke="#f98" d="M208.15 1240v2M233.85 975v1M259.55 1096v1M285.25 895v1M310.95 1138v1M336.65 1046v1m0 96v2M388.05 996v1M439.45 1216v2m0 76v1M490.85 1237v1m0 16v1m0 88v1M542.25 1321v2m0 3v1m0 2v1m0 31v1M593.65 953v1m0 282v1m0 25v1M645.05 1297v2M670.75 1137v1"/>
<path stroke="#99d" d="M208.15 1250v1M233.85 959v2m0 86v1m0 205v1m0 31v1m0 76v1m0 5v2M259.55 1203v2M285.25 935v2M310.95 1135v1M336.65 1085v1m0 185v2m0 39v1m0 60v2m0 3v2M362.35 911v2m0 202v1m0 133v1m0 62v1m0 77v1M388.05 1074v1m0 39v1m0 125v2m0 33v2M413.75 1001v1M439.45 975v1M490.85 935v2m0 97v1m0 25v1m0 14v1m0 109v1M542.25 896v1m0 7v5m0 8v4m0 5v1m0 16v1m0 1v2m0 6v1m0 2v1m0 2v2m0 3v2m0 2v2m0 2v1m0 6v2m0 2v2m0 4v2m0 3v2m0 5v1m0 12v2m0 5v2m0 3v1m0 3v1m0 21v1m0 3v2m0 3v4m0 19v1m0 3v3m0 3v1m0 8v5m0 5v2m0 2v1m0 2v3m0 30v2m0 2v2m0 19v2m0 13v4m0 1v1m0 6v4m0 5v1m0 8v1m0 4v2m0 2v1m0 3v1m0 1v2M567.95 1004v2m0 66v2m0 22v1M593.65 909v2m0 2v1m0 45v2m0 3v2m0 1v1m0 3v1m0 5v2m0 2v1m0 4v3m0 10v2m0 9v2m0 24v1m0 2v1m0 12v1m0 8v2m0 18v1m0 1v1m0 10v1m0 15v1m0 12v1m0 11v1m0 15v2m0 10v3m0 10v1m0 21v1m0 2v2m0 5v3m0 5v2m0 2v2m0 2v3m0 7v1m0 2v1m0 144v2M670.75 943v1m0 98v2m0 61v2m0 10v1m0 48v2"/>
<path stroke="#99c" d="M208.15 1292v2M233.85 1115v1m0 145v1m0 61v2m0 6v2m0 11v1M285.25 1285v1m0 53v2M336.65 1091v1m0 163v1m0 9v1m0 13v2m0 37v1m0 49v2M362.35 1292v2M388.05 1286v2M413.75 1114v1m0 233v2M439.45 966v1m0 29v1m0 47v2M490.85 1030v1m0 30v2m0 23v2m0 3v1m0 63v2M670.75 953v1m0 191v2"/>
<path stroke="#959" d="M208.15 1294v1m0 38v2M233.85 1232v1M285.25 1243v2M310.95 1355v1M336.65 1392v2M388.05 1256v1m0 87v1"/>
<path stroke="#b78" d="M233.85 899v2m0 232v1M336.65 1341v2M388.05 1288v1M413.75 1312v1M490.85 909v2m0 66v2M542.25 1004v2m0 61v2m0 68v1m0 47v1m0 3v2m0 25v2m0 19v1m0 8v1M593.65 948v2m0 149v2"/>
<path stroke="#c9b" d="M233.85 901v2m0 124v1m0 227v1m0 6v1m0 21v1M285.25 1311v1M336.65 1128v2m0 20v1m0 109v1M413.75 1110v1M516.55 1243v2M542.25 935v2m0 14v2m0 71v2m0 125v2m0 30v2m0 18v2m0 10v1M567.95 1234v1M593.65 891v2m0 11v2m0 69v1m0 50v1m0 110v1m0 89v1m0 56v1m0 81v2M670.75 909v2m0 6v2m0 196v1m0 85v2m0 31v1"/>
<path stroke="#d9a" d="M233.85 906v1M490.85 1192v1M516.55 1248v1m0 63v1m0 24v2m0 16v1m0 17v5m0 4v2M542.25 1226v1M567.95 1060v1M593.65 1044v2m0 258v2m0 44v1M619.35 1266v2m0 29v2m0 90v1M645.05 1277v1m0 25v1m0 10v2m0 3v2m0 2v2m0 14v2m0 12v1m0 4v1m0 22v3M670.75 1082v1m0 88v2"/>
<path stroke="#cbd" d="M233.85 907v2m0 2v2m0 41v2m0 344v1m0 60v1M336.65 907v2m0 357v2m0 21v1M542.25 1168v2m0 189v1M593.65 930v1m0 119v1M670.75 1074v1m0 32v1"/>
<path stroke="#86a" d="M233.85 919v2M259.55 1284v1M490.85 972v1"/>
<path stroke="#c89" d="M233.85 925v1m0 88v2m0 80v1M285.25 1256v1M336.65 901v2m0 67v1m0 64v1m0 290v1M516.55 1317v1m0 23v2m0 20v1M542.25 962v2m0 64v1m0 47v1m0 235v1M593.65 1356v1M670.75 999v2m0 109v1"/>
<path stroke="#c79" d="M233.85 934v1m0 100v1M362.35 1368v2M388.05 1151v2m0 118v2M439.45 914v2M490.85 1046v1M516.55 1311v1M542.25 1029v1m0 66v1m0 37v1m0 8v1m0 232v2M593.65 980v1m0 31v2m0 2v2m0 14v2m0 69v2m0 68v1m0 19v2M670.75 1382v2"/>
<path stroke="#f88" d="M233.85 937v2M439.45 1297v2M542.25 1337v2"/>
<path stroke="#ebb" d="M233.85 939v1m0 225v1m0 17v2M465.15 1368v2M490.85 925v1m0 125v1m0 93v2M619.35 1283v1m0 104v1M645.05 1284v1M670.75 1037v2m0 52v1m0 144v1"/>
<path stroke="#cac" d="M233.85 940v2m0 20v2m0 120v1m0 23v1m0 26v1m0 63v2m0 73v1m0 19v1m0 31v1M285.25 1376v2M336.65 903v1m0 19v1m0 29v1m0 60v2m0 143v2m0 46v1m0 54v1M362.35 1288v1m0 24v1m0 44v1m0 17v2M413.75 1004v2M490.85 956v1m0 29v1m0 7v2m0 76v2m0 73v1m0 3v2m0 65v2m0 168v1M542.25 940v2m0 92v1m0 16v1M567.95 964v2M593.65 899v2m0 20v2m0 100v1m0 11v1m0 94v1m0 47v2M670.75 925v1m0 5v1m0 96v1m0 43v2m0 96v1m0 17v1m0 24v1"/>
<path stroke="#b89" d="M233.85 947v1m0 193v2m0 58v2"/>
<path stroke="#eaa" d="M233.85 950v1m0 65v2m0 31v1m0 15v2m0 5v2m0 33v1M259.55 1261v1M336.65 916v1m0 132v1m0 11v2m0 52v1M439.45 980v1m0 273v1m0 2v1M465.15 1256v1m0 38v1M490.85 899v2m0 356v1M516.55 1335v2m0 25v1M542.25 1133v1m0 21v2M567.95 1277v1M593.65 1317v1M619.35 1380v1M670.75 973v2m0 60v1m0 5v1m0 8v1m0 7v2m0 24v1m0 252v4m0 39v1"/>
<path stroke="#ccd" d="M233.85 956v1m0 297v1M336.65 1316v1M670.75 985v1"/>
<path stroke="#bac" d="M233.85 968v1m0 147v1M285.25 1362v1M336.65 1306v2m0 1v2M362.35 1290v1m0 71v1M490.85 1027v1m0 102v1m0 55v2M542.25 1079v2m0 118v2M567.95 914v2M593.65 1084v1m0 3v1m0 39v2m0 85v1m0 38v1M670.75 893v2"/>
<path stroke="#c78" d="M233.85 981v1M336.65 1051v1M388.05 1268v2m0 65v2m0 16v1M516.55 1247v1m0 97v2m0 45v2M542.25 921v2m0 47v1m0 83v2m0 25v1m0 136v2m0 105v1M593.65 901v2m0 32v2m0 29v1m0 215v1m0 45v2m0 128v2m0 13v2M670.75 1356v1"/>
<path stroke="#d78" d="M233.85 982v1M516.55 1255v1m0 1v1m0 13v2m0 27v1m0 1v1m0 83v2M542.25 1197v1M567.95 1311v1m0 64v2M593.65 1004v2m0 208v1M619.35 1308v1m0 20v1m0 9v2m0 27v2m0 6v2m0 4v2M645.05 1255v2m0 64v2"/>
<path stroke="#dde" d="M233.85 986v1M490.85 1050v1M619.35 1254v1M645.05 1243v2m0 12v1m0 24v1m0 11v1m0 1v1m0 7v2m0 86v2"/>
<path stroke="#aac" d="M233.85 993v1m0 289v1m0 2v2M310.95 1278v1M336.65 1385v1M362.35 916v1m0 384v1M388.05 1024v2M413.75 1051v1M439.45 1042v2m0 41v1m0 45v1M490.85 942v1m0 182v2m0 10v1M567.95 942v1m0 71v2m0 68v1"/>
<path stroke="#a9c" d="M233.85 997v1m0 292v1M259.55 1049v1m0 91v2m0 23v2m0 67v1M285.25 1299v1m0 59v1M336.65 991v2m0 289v1m0 99v2m0 12v2M362.35 1339v2M388.05 1088v1m0 81v1m0 172v1M413.75 1113v1m0 276v1M439.45 1197v1M490.85 980v1m0 135v1m0 84v2m0 25v2m0 9v1M567.95 906v1m0 212v1m0 3v1m0 27v2m0 58v2M670.75 964v2m0 44v2"/>
<path stroke="#e9a" d="M233.85 1006v2M336.65 1161v1M439.45 1283v1M465.15 1277v1m0 51v1M490.85 903v1M516.55 1330v1M567.95 1344v1M593.65 1392v2M619.35 1278v1m0 66v2m0 19v2M645.05 1263v1m0 52v1m0 40v1M670.75 1218v2"/>
<path stroke="#bbe" d="M233.85 1021v2m0 259v1m0 30v1M259.55 1213v1M388.05 997v1M439.45 1065v2M465.15 895v1m0 2v2m0 2v4m0 1v1m0 2v1m0 1v4m0 1v2m0 3v5m0 1v2m0 2v1m0 4v3m0 1v1m0 5v1m0 1v2m0 2v3m0 3v1m0 1v3m0 1v1m0 5v2m0 1v1m0 2v2m0 1v2m0 1v1m0 6v2m0 3v1m0 5v1m0 2v2m0 1v3m0 1v1m0 7v1m0 4v1m0 1v2m0 2v1m0 3v2m0 3v1m0 3v4m0 2v4m0 3v1m0 1v1m0 1v2m0 5v1m0 5v1m0 4v1m0 1v3m0 3v1m0 1v3m0 4v3m0 1v1m0 4v2m0 1v2m0 2v1m0 1v4m0 1v1m0 1v1m0 2v4m0 1v5m0 8v4m0 4v2m0 1v4m0 4v1m0 2v2m0 3v3m0 1v1m0 2v1m0 2v1m0 2v5m0 2v1m0 3v1m0 4v1m0 3v2m0 3v2m0 6v2m0 1v1m0 3v3m0 7v2m0 1v2m0 3v4M490.85 1207v1M516.55 893v1m0 3v1m0 3v2m0 1v2m0 2v1m0 2v1m0 3v1m0 3v2m0 5v1m0 2v1m0 1v1m0 4v2m0 1v3m0 2v2m0 3v2m0 4v4m0 1v1m0 1v3m0 1v3m0 3v1m0 2v1m0 2v3m0 2v2m0 1v1m0 4v1m0 1v1m0 10v3m0 1v1m0 5v1m0 1v1m0 1v1m0 1v2m0 3v3m0 2v1m0 5v5m0 3v5m0 4v1m0 1v1m0 3v1m0 1v2m0 2v1m0 4v1m0 6v1m0 1v1m0 1v1m0 1v2m0 5v1m0 3v2m0 4v2m0 1v1m0 3v1m0 1v1m0 1v1m0 4v2m0 1v3m0 6v2m0 2v1m0 1v1m0 2v1m0 6v1m0 5v7m0 3v3m0 2v2m0 6v1m0 1v2m0 2v2m0 1v2m0 3v3m0 1v3m0 2v1m0 1v2m0 3v3m0 1v1m0 1v1m0 1v1m0 6v2m0 1v1m0 2v1m0 2v1m0 1v1m0 3v3m0 3v1m0 1v1m0 16v2m0 56v1M542.25 1037v2M567.95 1138v1M670.75 1263v1"/>
<path stroke="#b9b" d="M233.85 1029v1M336.65 921v2m0 59v1m0 230v1m0 139v1M362.35 1279v2M413.75 939v1m0 91v1m0 322v1M490.85 1012v2m0 95v1m0 21v1M542.25 985v1m0 58v2m0 81v1m0 183v1M593.65 1085v1M670.75 982v1m0 51v1m0 48v1m0 81v1"/>
<path stroke="#c8a" d="M233.85 1031v1m0 90v1m0 38v1m0 33v2m0 76v1M336.65 1050v1m0 30v1m0 26v1m0 102v2m0 45v2m0 32v2m0 5v1m0 56v2m0 22v1M362.35 1040v1m0 106v1m0 100v1m0 67v1M388.05 1289v1m0 24v2M413.75 1118v1m0 200v2M490.85 907v2m0 271v2m0 60v1M516.55 1372v1M542.25 897v2m0 12v2m0 63v1m0 58v1m0 3v2m0 12v1m0 84v1m0 81v2m0 12v1m0 49v1m0 31v1m0 61v2M593.65 931v1m0 76v2m0 14v2m0 30v2m0 11v2m0 20v1m0 32v1m0 37v1m0 20v2m0 28v1m0 36v1m0 37v1m0 105v2M670.75 1024v2m0 45v1m0 234v2"/>
<path stroke="#b57" d="M233.85 1039v1m0 200v2M285.25 1261v1M336.65 1012v2m0 22v1M413.75 1163v2M542.25 1278v1M670.75 913v1"/>
<path stroke="#b67" d="M233.85 1050v1M285.25 1275v2m0 117v2M310.95 1390v1M542.25 944v1m0 3v2m0 174v1m0 6v1m0 56v1m0 20v2m0 19v2M593.65 1042v2m0 3v1m0 195v2M670.75 976v1"/>
<path stroke="#ecd" d="M233.85 1058v2M336.65 1314v2M439.45 1034v1M465.15 1381v1M490.85 1120v2m0 105v1M516.55 1343v1M619.35 1250v1m0 5v1m0 52v2M645.05 1260v1m0 22v1m0 28v1m0 5v1m0 79v2M670.75 972v1m0 10v2"/>
<path stroke="#cab" d="M233.85 1067v2m0 199v2M336.65 924v1M362.35 1250v1M490.85 979v1M670.75 1197v1"/>
<path stroke="#eab" d="M233.85 1099v2M259.55 1099v2M336.65 944v1M362.35 1176v1m0 221v2M490.85 930v1m0 127v2M516.55 1314v2m0 37v1M619.35 1243v2m0 15v2m0 32v1M645.05 1250v1m0 76v2m0 25v1M670.75 1060v3m0 238v1"/>
<path stroke="#b46" d="M233.85 1136v1M388.05 1329v1"/>
<path stroke="#dab" d="M233.85 1147v1m0 185v2M336.65 993v1m0 81v1m0 249v1M490.85 1096v1M516.55 1318v1M542.25 975v1m0 116v2M567.95 1177v1m0 111v1M593.65 927v2m0 85v2M619.35 1248v1m0 8v1m0 60v1m0 6v1m0 4v3m0 45v2m0 11v5M645.05 1341v2M670.75 930v1m0 213v1m0 10v2"/>
<path stroke="#ebc" d="M233.85 1155v2M310.95 967v1M336.65 1135v1m0 34v1m0 213v1M490.85 1024v2m0 115v2m0 103v1m0 49v1M516.55 1381v1M567.95 1161v1m0 129v1M619.35 1258v2m0 53v1M645.05 1258v2m0 25v1m0 47v2m0 26v1m0 29v1m0 4v2M670.75 901v2m0 21v1m0 50v1m0 157v1m0 69v2m0 17v1"/>
<path stroke="#dce" d="M233.85 1159v2M336.65 1268v2M490.85 897v1m0 28v1m0 303v2M593.65 911v2M619.35 891v4m0 1v4m0 1v18m0 1v3m0 1v10m0 1v14m0 1v4m0 1v4m0 1v4m0 2v4m0 1v8m0 1v2m0 1v16m0 2v9m0 1v2m0 1v4m0 1v3m0 2v9m0 1v11m0 1v3m0 1v1m0 1v4m0 1v9m0 2v24m0 1v10m0 1v9m0 1v1m0 1v2m0 1v1m0 1v7m0 1v10m0 1v9m0 1v1m0 1v8m0 1v1m0 1v7m0 1v7m0 1v7m0 1v4m0 1v3m0 2v3m0 2v10m0 1v7m0 1v3m0 3v2m0 2v1m0 1v3m0 1v2m0 1v3m0 6v1m0 14v1m0 8v1m0 47v2m0 18v3m0 3v1m0 8v2m0 5v1m0 20v1M645.05 891v1m0 1v2m0 4v6m0 1v2m0 1v6m0 2v3m0 1v3m0 1v1m0 1v3m0 1v9m0 2v4m0 1v6m0 3v6m0 1v4m0 1v13m0 1v1m0 1v6m0 1v11m0 1v1m0 1v1m0 1v2m0 1v4m0 1v5m0 1v7m0 2v14m0 1v3m0 1v7m0 2v10m0 1v2m0 2v8m0 1v5m0 1v9m0 2v4m0 1v1m0 1v3m0 2v3m0 1v7m0 1v2m0 1v5m0 2v7m0 1v1m0 1v8m0 3v8m0 2v2m0 1v3m0 1v5m0 1v13m0 1v2m0 1v5m0 1v2m0 1v3m0 2v4m0 1v15m0 1v7m0 1v6m0 2v1m0 5v2m0 1v1m0 31v3m0 1v1m0 9v1m0 16v1m0 11v1m0 26v1m0 3v1m0 1v4M670.75 950v1m0 46v1m0 31v1m0 260v1"/>
<path stroke="#c9a" d="M233.85 1191v1m0 83v2M310.95 1318v1M336.65 967v1m0 9v2M362.35 1380v1M388.05 1330v1M542.25 1381v1M593.65 1375v1M670.75 1085v1"/>
<path stroke="#fa9" d="M233.85 1220v2M259.55 899v2M336.65 947v1M362.35 1018v1M413.75 1234v1M439.45 913v1M567.95 1257v1M670.75 1294v1"/>
<path stroke="#b56" d="M233.85 1237v1M285.25 1246v1M310.95 1376v2M542.25 1300v1M593.65 1354v1m0 5v1"/>
<path stroke="#859" d="M233.85 1242v1M285.25 1266v2m0 118v2m0 10v2M336.65 1220v2M388.05 1356v1M413.75 1275v2"/>
<path stroke="#cce" d="M233.85 1247v1m0 69v1m0 67v1M310.95 1075v1m0 207v1M336.65 1218v2m0 17v1m0 106v1M362.35 1262v1M465.15 892v3m0 1v2m0 2v2m0 4v1m0 2v1m0 1v1m0 4v1m0 2v3m0 5v1m0 3v1m0 2v2m0 6v5m0 1v1m0 2v2m0 3v3m0 1v1m0 5v1m0 1v1m0 1v1m0 2v1m0 10v1m0 1v3m0 3v3m0 2v3m0 2v2m0 8v2m0 1v2m0 1v1m0 2v3m0 4v2m0 2v2m0 2v3m0 2v2m0 4v1m0 5v3m0 1v1m0 1v1m0 3v4m0 1v5m0 1v2m0 1v1m0 5v1m0 1v1m0 1v1m0 3v1m0 1v2m0 3v1m0 2v3m0 2v1m0 2v2m0 1v1m0 4v1m0 1v1m0 1v1m0 5v1m0 5v1m0 1v6m0 4v2m0 1v1m0 2v1m0 4v3m0 2v2m0 4v1m0 3v1m0 1v2m0 1v2m0 1v2m0 5v2m0 1v3m0 1v4m0 1v2m0 3v3m0 2v1m0 1v3m0 3v1m0 1v3m0 3v1m0 1v5m0 5v3M490.85 1019v2m0 46v2m0 119v1m0 27v2M516.55 891v2m0 1v2m0 2v3m0 5v2m0 1v2m0 2v2m0 3v1m0 3v1m0 1v2m0 1v2m0 1v1m0 3v2m0 2v1m0 3v1m0 3v3m0 3v1m0 1v1m0 4v1m0 1v1m0 7v3m0 1v2m0 1v1m0 4v2m0 2v1m0 1v1m0 1v2m0 4v8m0 4v1m0 1v1m0 1v3m0 1v1m0 3v1m0 3v1m0 4v2m0 1v2m0 1v2m0 6v2m0 5v1m0 1v2m0 1v1m0 1v3m0 4v2m0 1v1m0 1v1m0 3v1m0 1v3m0 1v1m0 1v1m0 1v1m0 2v4m0 4v1m0 2v1m0 1v1m0 3v1m0 1v3m0 3v1m0 1v4m0 7v1m0 2v2m0 2v2m0 3v2m0 2v2m0 2v1m0 1v1m0 1v1m0 9v3m0 4v1m0 4v4m0 5v1m0 2v1m0 2v1m0 1v1m0 3v1m0 4v1m0 5v1m0 6v1m0 3v4m0 1v1m0 5v1m0 2v1m0 1v1m0 1v2m0 8v1m0 1v1m0 13v1m0 9v2m0 35v1m0 35v2m0 43v1M567.95 1143v1M619.35 919v1m0 14v1m0 19v1m0 4v1m0 4v1m0 5v1m0 11v1m0 16v1m0 10v1m0 2v1m0 8v1m0 10v1m0 33v1m0 47v1m0 2v1m0 41v1m0 1v1m0 28v1m0 8v1m0 25v1m0 5v1m0 55v1m0 69v1m0 27v2M645.05 896v1m0 29v1m0 19v1m0 15v1m0 41v1m0 67v1m0 25v1M670.75 971v1m0 26v1m0 365v2"/>
<path stroke="#bad" d="M233.85 1266v2m0 13v1m0 71v1M336.65 972v1m0 178v2m0 111v1m0 97v1m0 28v1M388.05 1398v2M490.85 966v1m0 70v2m0 127v2M542.25 1165v1M670.75 899v2m0 18v2"/>
<path stroke="#edd" d="M233.85 1288v1M490.85 1031v1m0 7v1M516.55 1388v1M670.75 1141v2"/>
<path stroke="#cbe" d="M233.85 1329v1M516.55 1260v1m0 45v2M670.75 1031v1"/>
<path stroke="#ede" d="M233.85 1382v2M336.65 937v2m0 177v1m0 86v2m0 83v1M490.85 1138v1m0 192v2M619.35 1304v2M645.05 1289v1M670.75 1098v1"/>
<path stroke="#a46" d="M259.55 927v2M285.25 1174v2M310.95 931v1M413.75 1360v1M439.45 1222v1M542.25 1256v1"/>
<path stroke="#a8a" d="M259.55 1067v2m0 149v2M310.95 1323v2M336.65 925v1M388.05 983v2M413.75 1123v1M439.45 1150v1M490.85 987v2M542.25 1270v1M670.75 896v1"/>
<path stroke="#b69" d="M259.55 1304v2M310.95 1040v1M388.05 1321v2M593.65 1312v1"/>
<path stroke="#869" d="M259.55 1356v1M310.95 1321v2"/>
<path stroke="#b45" d="M285.25 1250v1M310.95 1385v1M336.65 1171v2"/>
<path stroke="#96a" d="M285.25 1292v2m0 39v2M336.65 989v2m0 282v1m0 26v1m0 53v1m0 20v1M388.05 1296v1M413.75 1256v1m0 87v1"/>
<path stroke="#c68" d="M285.25 1294v1m0 60v1m0 19v1M310.95 1296v1M336.65 1235v1M490.85 1023v1m0 16v1M542.25 930v1m0 11v1m0 106v1m0 25v1m0 56v1M593.65 906v1m0 19v1m0 318v1m0 83v1M670.75 1178v2"/>
<path stroke="#848" d="M285.25 1304v2M388.05 1384v1M413.75 1321v2"/>
<path stroke="#98a" d="M310.95 1166v2M362.35 947v1M388.05 1157v2M439.45 1136v1M567.95 1135v1"/>
<path stroke="#76b" d="M310.95 1224v2M413.75 957v2"/>
<path stroke="#e89" d="M310.95 1234v1M336.65 1177v1M362.35 1063v2M567.95 1330v1M619.35 1271v2m0 23v1m0 22v2m0 12v2m0 20v1m0 25v1M645.05 1344v1m0 25v2"/>
<path stroke="#e87" d="M336.65 971v1M388.05 1096v1M439.45 1253v1m0 79v2M465.15 1378v2M490.85 1247v1m0 20v2M542.25 1360v1M670.75 1358v1"/>
<path stroke="#fef" d="M336.65 1056v2"/>
<path stroke="#fcd" d="M336.65 1094v1M439.45 1278v1"/>
<path stroke="#eba" d="M336.65 1139v2"/>
<path stroke="#dac" d="M336.65 1186v2M490.85 1052v1m0 69v1m0 80v2M516.55 1250v1m0 23v1m0 52v2m0 2v2m0 14v3M542.25 1248v1"/>
<path stroke="#dbc" d="M336.65 1209v2M490.85 1049v1M516.55 1279v2M542.25 1201v2M593.65 968v1m0 217v2M619.35 1263v1M645.05 1262v1m0 32v1m0 10v2m0 18v1m0 4v2M670.75 1065v2m0 47v1m0 53v2m0 58v2"/>
<path stroke="#87c" d="M336.65 1291v1m0 19v1M388.05 1306v2M413.75 1282v1m0 111v2"/>
<path stroke="#cbc" d="M336.65 1330v1M490.85 1171v2M670.75 1054v2m0 19v1"/>
<path stroke="#b9c" d="M336.65 1351v2m0 11v2M362.35 1061v2m0 296v1M388.05 1308v1M490.85 895v1m0 202v1M542.25 986v1m0 161v2m0 27v1m0 49v1M593.65 1065v2M670.75 1002v2m0 179v2"/>
<path stroke="#979" d="M362.35 891v2M567.95 1118v1"/>
<path stroke="#e98" d="M362.35 930v1M439.45 964v2m0 406v1M465.15 1314v2M490.85 1278v1M516.55 1391v1M567.95 1325v1M593.65 1302v1"/>
<path stroke="#87a" d="M362.35 1281v1"/>
<path stroke="#dbd" d="M362.35 1294v1M516.55 1245v1m0 104v1M542.25 1174v2m0 75v2M567.95 967v1M619.35 1360v1M670.75 1012v2m0 106v2"/>
<path stroke="#87b" d="M362.35 1299v1"/>
<path stroke="#c57" d="M388.05 1266v2M542.25 967v1m0 63v1M593.65 1161v1"/>
<path stroke="#ecc" d="M490.85 953v1m0 72v1m0 168v2M593.65 943v1M670.75 1109v1m0 132v1"/>
<path stroke="#d8a" d="M490.85 1035v1M516.55 1289v1M542.25 1192v1m0 177v2M593.65 1075v1"/>
<path stroke="#d67" d="M490.85 1309v2M593.65 940v2"/>
<path stroke="#d99" d="M516.55 1263v1"/>
<path stroke="#d77" d="M516.55 1398v2M567.95 1384v1M619.35 1284v1m0 5v1"/>
<path stroke="#98d" d="M542.25 909v2"/>
<path stroke="#a9d" d="M542.25 971v1m0 74v1m0 242v1M593.65 895v1m0 1v1m0 21v2m0 2v1m0 18v1m0 11v2m0 29v1m0 12v1m0 2v3m0 2v2m0 11v4m0 6v1m0 16v1m0 13v1m0 16v2m0 3v1m0 6v2m0 4v1m0 9v2m0 11v1m0 3v1m0 4v1m0 6v1m0 12v4m0 6v2m0 11v1m0 14v1m0 5v1m0 5v1m0 5v2m0 13v2m0 12v1m0 81v2"/>
<path stroke="#c56" d="M542.25 987v2m0 7v1m0 39v1m0 10v1m0 132v2m0 104v2m0 101v1M593.65 1067v2m0 51v2m0 186v1"/>
<path stroke="#d9b" d="M542.25 1211v2M645.05 1368v2"/>
<path stroke="#e78" d="M542.25 1362v1M670.75 1256v1"/>
<path stroke="#d66" d="M567.95 1297v2M645.05 1246v1"/>
<path stroke="#ea9" d="M567.95 1299v1"/>
<path stroke="#c9c" d="M593.65 944v1"/>
<path stroke="#cad" d="M593.65 982v1m0 44v1"/>
<path stroke="#d68" d="M593.65 1058v2"/>
<path stroke="#dcd" d="M645.05 1335v2M670.75 1153v2"/>
</g></g>
<line x1="169.6" x2="683.6" y1="1243" y2="1243" stroke="#101020" stroke-width="0.9" opacity="0.2"/>
<rect x="170.1" y="893.6" width="513" height="504.1" fill="none" stroke="#000" stroke-width="1.8"/>
<rect x="149.5" y="893.6" width="17.1" height="349.4" fill="#DC78C0"/>
<text transform="translate(135.3 1075.5) scale(1.045 1)" font-size="23.1" text-anchor="end">NS1</text>
<rect x="149.5" y="1243" width="17.1" height="154.7" fill="#BCBE5F"/>
<text transform="translate(135.3 1327.55) scale(1.045 1)" font-size="23.1" text-anchor="end">NS2</text>
<path d="M174.8 887.6V880H421.4V887.6" fill="none" stroke="#000" stroke-width="1.5"/>
<text transform="translate(298 838.5) scale(1.04 1)" font-size="23.1" text-anchor="middle">NS1</text>
<text transform="translate(298 867.7) scale(1.04 1)" font-size="23.1" text-anchor="middle">CD16<tspan font-size="12" dy="-7.4">hi</tspan><tspan dy="7.4"> NK</tspan></text>
<path d="M431.8 887.6V880H678.4V887.6" fill="none" stroke="#000" stroke-width="1.5"/>
<text transform="translate(555.2 838.5) scale(1.04 1)" font-size="23.1" text-anchor="middle">NS2</text>
<text transform="translate(555.2 867.7) scale(1.04 1)" font-size="23.1" text-anchor="middle">CD16<tspan font-size="12" dy="-7.4">lo</tspan><tspan dy="7.4"> NK</tspan></text>
<text transform="translate(187.25 1409.7) rotate(-90) scale(0.99 1)" font-size="20" text-anchor="end">FGFBP2</text>
<text transform="translate(212.95 1409.7) rotate(-90) scale(0.99 1)" font-size="20" text-anchor="end">CCL4</text>
<text transform="translate(238.65 1409.7) rotate(-90) scale(0.99 1)" font-size="20" text-anchor="end">CST7</text>
<text transform="translate(264.35 1409.7) rotate(-90) scale(0.99 1)" font-size="20" text-anchor="end">SPON2</text>
<text transform="translate(290.05 1409.7) rotate(-90) scale(0.99 1)" font-size="20" text-anchor="end">CCL5</text>
<text transform="translate(315.75 1409.7) rotate(-90) scale(0.99 1)" font-size="20" text-anchor="end">GZMH</text>
<text transform="translate(341.45 1409.7) rotate(-90) scale(0.99 1)" font-size="20" text-anchor="end">GZMB</text>
<text transform="translate(367.15 1409.7) rotate(-90) scale(0.99 1)" font-size="20" text-anchor="end">PRF1</text>
<text transform="translate(392.85 1409.7) rotate(-90) scale(0.99 1)" font-size="20" text-anchor="end">CD247</text>
<text transform="translate(418.55 1409.7) rotate(-90) scale(0.99 1)" font-size="20" text-anchor="end">TRBC1</text>
<text transform="translate(444.25 1409.7) rotate(-90) scale(0.99 1)" font-size="20" text-anchor="end">CMC1</text>
<text transform="translate(469.95 1409.7) rotate(-90) scale(0.99 1)" font-size="20" text-anchor="end">GZMK</text>
<text transform="translate(495.65 1409.7) rotate(-90) scale(0.99 1)" font-size="20" text-anchor="end">CTSW</text>
<text transform="translate(521.35 1409.7) rotate(-90) scale(0.99 1)" font-size="20" text-anchor="end">XCL1</text>
<text transform="translate(547.05 1409.7) rotate(-90) scale(0.99 1)" font-size="20" text-anchor="end">KLRC1</text>
<text transform="translate(572.75 1409.7) rotate(-90) scale(0.99 1)" font-size="20" text-anchor="end">TRDC</text>
<text transform="translate(598.45 1409.7) rotate(-90) scale(0.99 1)" font-size="20" text-anchor="end">XCL2</text>
<text transform="translate(624.15 1409.7) rotate(-90) scale(0.99 1)" font-size="20" text-anchor="end">GPR183</text>
<text transform="translate(649.85 1409.7) rotate(-90) scale(0.99 1)" font-size="20" text-anchor="end">SPTSSB</text>
<text transform="translate(675.55 1409.7) rotate(-90) scale(0.99 1)" font-size="20" text-anchor="end">KLRD1</text>
<path d="M182.45 1398.6v5.6M208.15 1398.6v5.6M233.85 1398.6v5.6M259.55 1398.6v5.6M285.25 1398.6v5.6M310.95 1398.6v5.6M336.65 1398.6v5.6M362.35 1398.6v5.6M388.05 1398.6v5.6M413.75 1398.6v5.6M439.45 1398.6v5.6M465.15 1398.6v5.6M490.85 1398.6v5.6M516.55 1398.6v5.6M542.25 1398.6v5.6M567.95 1398.6v5.6M593.65 1398.6v5.6M619.35 1398.6v5.6M645.05 1398.6v5.6M670.75 1398.6v5.6" fill="none" stroke="#000" stroke-width="1.4"/>
<path d="M689.8 1067.8H768.9V1320.3H689.8" fill="none" stroke="#000" stroke-width="1.6" stroke-linejoin="miter"/>
<text x="0" y="839.2" font-size="47" font-weight="bold" fill="#000">c</text>
<!-- panel d -->
<defs><clipPath id="cpd"><rect x="988.6" y="896" width="1047.2" height="503.9"/></clipPath><filter id="bld" filterUnits="userSpaceOnUse" x="980.6" y="888" width="1063.2" height="520" color-interpolation-filters="sRGB"><feGaussianBlur in="SourceGraphic" stdDeviation="0.35 0.5" result="S"/><feColorMatrix in="S" values=".299 .587 .114 0 0 .299 .587 .114 0 0 .299 .587 .114 0 0 0 0 0 1 0" result="L"/><feGaussianBlur in="SourceGraphic" stdDeviation="0.9 1.3"/><feColorMatrix values=".3505 -.2935 -.057 0 .5 -.1495 .2065 -.057 0 .5 -.1495 -.2935 .443 0 .5 0 0 0 1 0"/><feComposite in2="L" operator="arithmetic" k1="0" k2="2" k3="1" k4="-1"/></filter></defs>
<g clip-path="url(#cpd)"><g filter="url(#bld)" fill="none" stroke-width="26.18" shape-rendering="crispEdges">
<rect x="982.6" y="890" width="1059.2" height="516" fill="#d8d4ee"/>
<path stroke="#e88" d="M1001.69 894v1m0 4v1m0 8v1m0 2v1m0 4v1m0 123v1m0 23v1m0 12v1m0 41v2m0 2v2m0 105v1M1027.87 932v2m0 14v2m0 35v1m0 218v1m0 146v2m0 6v1m0 16v1M1054.05 942v1m0 9v1m0 33v2m0 16v2m0 150v1m0 12v1m0 24v1m0 4v1m0 3v1m0 32v1M1080.23 910v1m0 16v2m0 24v1m0 15v1m0 38v1m0 67v1m0 1v1m0 82v2m0 203v2M1106.41 912v1m0 51v1m0 18v2m0 7v2m0 16v1m0 8v2m0 18v1m0 11v2m0 171v1m0 58v1M1132.59 938v1m0 9v2m0 117v2m0 22v1m0 18v1m0 109v1m0 49v1m0 73v1M1158.77 909v1m0 35v2m0 1v2m0 3v1m0 34v3m0 23v1m0 50v1m0 33v1m0 55v1m0 43v1m0 30v1m0 2v1m0 100v1m0 7v1M1184.95 894v1m0 15v1m0 31v1m0 7v2m0 62v1m0 13v1m0 20v2m0 4v1m0 2v2m0 5v1m0 110v1m0 84v1M1211.13 915v1m0 13v1m0 31v1m0 25v1m0 22v1m0 19v1m0 90v1m0 6v1m0 9v1m0 43v1m0 72v1m0 77v1m0 23v1m0 18v1m0 16v1M1237.31 911v1m0 55v2m0 17v2m0 9v2m0 16v1m0 16v1m0 5v1m0 27v1m0 153v1m0 75v1m0 30v1M1263.49 957v1m0 2v1m0 20v1m0 14v1m0 7v2m0 15v2m0 10v1m0 2v2m0 37v1M1289.67 898v1m0 31v1m0 14v2m0 6v1m0 7v2m0 7v3m0 23v1m0 17v1m0 1v2m0 7v2m0 13v1m0 19v2m0 11v1m0 247v2M1315.85 927v1m0 5v1m0 49v1m0 11v1m0 20v2m0 14v1m0 1v2m0 8v3M1342.03 895v1m0 85v1m0 14v1m0 14v1m0 4v2m0 20v1m0 8v2m0 4v2m0 123v2m0 112v1m0 69v2M1368.21 927v2m0 38v2m0 4v1m0 6v1m0 11v2m0 2v1m0 9v2m0 4v1m0 42v1m0 17v1m0 52v1m0 4v1m0 196v1m0 3v2M1394.39 897v1m0 11v1m0 4v2m0 9v1m0 4v2m0 87v2m0 30v2m0 13v3m0 5v2m0 81v1m0 39v2m0 161v2m0 21v1M1420.57 905v1m0 82v1m0 5v1m0 26v2m0 10v1m0 30v1m0 25v1m0 189v1m0 38v1M1446.75 897v1m0 40v1m0 3v1m0 53v1m0 22v2m0 45v1m0 105v2m0 60v1m0 42v1m0 11v1m0 74v1M1472.93 912v1m0 56v1m0 183v1m0 10v1m0 170v1M1499.11 1029v2m0 74v1m0 155v1M1525.29 911v1m0 43v1m0 43v2m0 32v1m0 53v2m0 32v2m0 15v1m0 28v2m0 8v3m0 11v1M1551.47 974v2m0 13v2m0 34v1m0 138v1m0 5v2m0 11v1m0 80v1m0 37v1m0 39v1m0 31v1M1577.65 901v1m0 2v1m0 40v2m0 1v2m0 5v1m0 36v2m0 5v2m0 14v1m0 31v2m0 58v2m0 9v1m0 48v2m0 1v2m0 28v1m0 76v1m0 22v2m0 42v2M1603.83 899v1m0 6v1m0 31v1m0 28v2m0 62v1m0 57v1m0 50v1m0 29v2m0 3v1m0 24v1M1630.01 1004v2m0 6v1m0 21v2m0 11v2m0 42v1m0 7v2m0 24v1m0 3v2m0 27v2m0 16v1m0 1v2m0 180v2m0 14v1M1656.19 934v1m0 70v1m0 26v1m0 43v1m0 28v2m0 73v2m0 10v2m0 24v1m0 32v1m0 40v1m0 25v1m0 66v1M1682.37 900v1m0 4v1m0 13v2m0 17v3m0 2v4m0 77v1m0 16v2m0 35v1m0 13v2m0 9v1m0 3v2m0 12v2m0 4v2m0 48v1m0 21v1M1708.55 1002v2m0 107v2m0 47v1m0 6v2m0 14v1m0 78v2M1734.73 1078v1m0 3v4m0 35v2m0 8v1m0 9v1m0 33v1m0 23v1m0 4v1m0 3v2m0 96v1M1760.91 961v1m0 175v1m0 40v1m0 27v1M1787.09 970v2m0 47v2m0 89v1m0 53v1m0 13v2m0 9v2m0 9v1m0 35v1m0 5v2m0 17v3m0 23v2m0 10v1m0 76v1m0 4v1M1813.27 899v1m0 11v1m0 53v2m0 11v2m0 44v1m0 74v2m0 15v2m0 85v1m0 24v2m0 4v2m0 3v1m0 24v1m0 15v2m0 60v1m0 5v1m0 22v1M1839.45 923v1m0 80v2m0 32v1m0 92v1m0 98v1m0 13v2m0 4v1m0 92v1M1865.63 967v2m0 110v1m0 54v2m0 46v1m0 53v1m0 18v2m0 25v1m0 11v1m0 1v1m0 2v1m0 42v1m0 12v1m0 1v1m0 21v1M1891.81 924v1m0 116v1m0 142v1m0 68v1M1917.99 964v1m0 50v1m0 261v1m0 9v2m0 71v2m0 6v1m0 2v1m0 11v1m0 6v2M1944.17 897v1m0 27v1m0 63v2m0 41v1m0 119v2m0 21v1m0 52v3m0 9v2m0 35v1m0 16v1m0 43v1M1970.35 970v2m0 46v1m0 4v1m0 54v1m0 165v2m0 7v1m0 129v1m0 8v2M1996.53 1274v1m0 77v1m0 7v1M2022.71 949v1m0 22v1m0 216v2m0 36v1m0 55v1m0 18v2m0 86v2"/>
<path stroke="#e44" d="M1001.69 895v1m0 57v1m0 74v3m0 3v2m0 3v1m0 15v1m0 17v1M1027.87 911v1m0 14v3m0 54v2m0 4v2m0 62v2m0 48v1m0 79v1M1054.05 912v1m0 67v1m0 72v2m0 46v2m0 13v2m0 30v1m0 84v1M1080.23 894v1m0 19v2m0 31v1m0 68v2m0 3v3m0 15v1m0 4v2m0 251v2m0 69v1M1106.41 896v1m0 1v1m0 17v1m0 12v1m0 13v2m0 68v1m0 4v1m0 2v2m0 46v4m0 1v1m0 15v1m0 153v2m0 36v1M1132.59 914v2m0 11v2m0 1v1m0 16v1m0 12v1m0 6v2m0 16v1m0 95v1m0 19v1m0 56v1m0 8v1m0 60v1m0 2v1m0 83v1M1158.77 960v1m0 108v2m0 3v1m0 104v1m0 88v1m0 61v1M1184.95 898v1m0 3v3m0 7v1m0 105v1m0 13v1m0 13v1m0 20v2m0 205v1M1211.13 943v1m0 3v1m0 10v1m0 173v1m0 40v1m0 9v2m0 10v2m0 150v1M1237.31 943v2m0 5v2m0 8v1m0 11v1m0 46v2m0 149v2m0 5v1m0 196v1M1263.49 983v2m0 4v2m0 6v2m0 14v1m0 44v2m0 9v2m0 154v2M1289.67 894v1m0 15v1m0 104v1m0 23v1m0 2v1m0 12v1m0 263v1M1315.85 907v1m0 8v1m0 110v1m0 174v1M1342.03 923v1m0 34v2m0 3v1m0 24v1m0 39v1m0 131v1m0 152v2M1368.21 931v1m0 2v2m0 38v2m0 68v2m0 31v1M1394.39 896v1m0 13v1m0 74v1m0 30v2m0 6v1m0 24v2m0 134v1m0 130v2m0 25v1M1420.57 914v1m0 27v1m0 11v1m0 59v1m0 17v1m0 141v1M1446.75 972v1m0 50v1m0 25v2m0 5v2m0 72v1m0 88v1m0 21v1m0 100v1m0 26v1m0 30v1M1472.93 917v1m0 116v2m0 52v1m0 256v1m0 8v1M1499.11 990v1m0 91v1m0 17v1m0 21v1m0 37v1m0 136v1m0 76v1M1525.29 1042v1m0 35v1m0 7v1m0 5v2m0 35v1m0 71v1m0 1v2m0 175v1M1551.47 1063v1m0 76v1m0 105v1m0 51v1m0 63v1M1577.65 907v1m0 1v1m0 14v3m0 15v1m0 17v1m0 19v1m0 4v1m0 8v1m0 2v2m0 44v3m0 9v1m0 38v2m0 58v2m0 22v2M1603.83 894v1m0 81v2m0 23v1m0 9v1m0 7v2m0 8v2m0 3v2m0 19v1m0 6v2m0 15v1m0 2v2m0 2v1m0 44v1m0 42v1m0 1v1m0 1v2m0 3v1m0 10v1m0 137v2M1630.01 1078v2m0 10v1m0 10v2m0 10v3m0 76v3M1656.19 918v1m0 69v1m0 25v1M1682.37 927v2m0 1v1m0 24v1m0 1v1m0 2v1m0 11v1m0 355v1M1708.55 904v1m0 43v2m0 84v2m0 56v2m0 56v1m0 46v2M1734.73 917v2m0 64v2m0 88v1m0 18v2m0 10v1m0 35v1m0 103v2m0 46v1m0 20v2m0 26v1m0 20v2m0 13v2M1760.91 1103v1m0 20v1m0 38v1m0 25v1m0 14v1m0 23v1M1787.09 1107v2m0 128v2m0 5v2m0 18v1m0 1v1m0 4v2m0 40v2m0 54v1M1813.27 1119v2m0 65v1m0 33v1m0 3v1m0 70v2m0 9v1m0 1v2m0 19v2m0 15v2m0 8v1M1839.45 939v2m0 54v1m0 57v2m0 64v2m0 110v2m0 47v2m0 52v2m0 14v1M1865.63 978v2m0 66v1m0 35v2m0 94v2m0 64v2m0 18v1m0 24v1m0 3v1m0 13v1m0 7v1m0 33v1m0 6v1m0 41v1M1891.81 927v2m0 72v1m0 218v1m0 15v1m0 3v2m0 4v1m0 72v1m0 9v2m0 61v2M1917.99 945v2m0 117v1m0 27v2m0 140v2m0 1v2m0 20v2m0 35v1m0 58v1m0 3v1M1944.17 956v1m0 277v2M1970.35 902v2m0 178v2m0 203v2m0 19v2m0 50v2m0 10v2M1996.53 1226v1m0 57v1m0 98v1M2022.71 917v1m0 174v2m0 19v1m0 38v2m0 46v1m0 14v2m0 133v3m0 45v1"/>
<path stroke="#e43" d="M1001.69 896v1m0 98v1m0 47v1m0 2v1m0 11v2m0 14v2m0 209v2m0 44v1m0 7v2M1027.87 899v1m0 1v1m0 76v2m0 107v2m0 40v1M1054.05 913v1m0 2v1m0 6v1m0 32v2m0 6v1m0 184v1m0 194v2m0 28v1M1080.23 911v1m0 9v2m0 3v1m0 7v4m0 18v1m0 7v1m0 18v2m0 21v2m0 297v1m0 32v1M1106.41 908v1m0 16v1m0 8v2m0 66v4m0 3v1m0 1v1m0 48v2m0 5v2m0 89v2M1132.59 894v1m0 3v1m0 7v1m0 14v2m0 31v1m0 2v1m0 5v1m0 8v1m0 8v1m0 30v1m0 80v1m0 36v1m0 13v1m0 11v1m0 233v1M1158.77 942v1m0 68v1m0 1v1m0 63v1m0 48v1m0 3v1m0 72v1m0 8v1m0 13v1m0 14v1m0 78v1M1184.95 899v1m0 7v1m0 5v1m0 16v1m0 12v2m0 11v1m0 21v2m0 62v1M1211.13 932v1m0 138v1m0 47v1m0 32v1m0 2v1m0 10v1m0 20v1m0 1v1m0 150v1M1237.31 927v2m0 82v1m0 119v1m0 89v1M1263.49 914v2m0 92v1m0 3v1m0 11v1m0 9v2m0 3v1m0 7v2M1289.67 897v1m0 2v1m0 5v1m0 1v1m0 76v1M1315.85 901v1m0 20v1m0 16v1m0 14v1m0 209v1M1342.03 1013v1m0 7v2m0 66v1m0 64v2M1368.21 981v1m0 4v2m0 21v1m0 13v1m0 10v2m0 153v2M1394.39 911v1m0 41v1m0 10v1m0 5v2m0 27v2m0 31v1m0 1v2m0 167v1M1420.57 990v1m0 208v1M1446.75 923v1m0 109v1m0 4v1m0 47v1m0 45v1m0 67v1m0 8v1m0 32v1m0 52v1m0 93v1M1472.93 1143v1m0 146v1M1499.11 905v1m0 130v2m0 29v2m0 76v1m0 13v1m0 22v1M1525.29 1043v1m0 61v2m0 19v1m0 12v1m0 6v2m0 44v2m0 5v1M1551.47 950v2m0 50v1m0 130v1m0 5v1m0 8v1m0 38v2m0 111v1m0 57v1M1577.65 897v1m0 12v1m0 25v2m0 44v1m0 18v1m0 32v2m0 95v1m0 24v2m0 27v1m0 211v2M1603.83 900v1m0 59v1m0 86v2m0 2v2m0 43v1m0 16v1m0 7v2m0 9v1m0 9v2m0 61v2M1630.01 1018v1m0 70v1m0 56v2m0 3v1M1656.19 962v1m0 46v1m0 162v2m0 226v1M1682.37 908v3m0 42v1m0 61v1m0 110v1m0 48v1m0 7v1m0 2v1m0 5v2m0 14v2M1708.55 931v1m0 76v1m0 114v2m0 33v2m0 41v1M1734.73 1006v2m0 82v1m0 10v2m0 8v2m0 89v1m0 133v2M1760.91 1149v1m0 2v1M1787.09 1139v1m0 11v1m0 94v1m0 12v2m0 34v1m0 20v3m0 9v1m0 41v1m0 11v1M1813.27 1090v1m0 130v1m0 43v1m0 5v2m0 1v1m0 17v1m0 19v1m0 14v1m0 56v2m0 4v2M1839.45 1040v1m0 187v2m0 70v2m0 8v2m0 3v1m0 50v2m0 21v1M1865.63 912v1m0 88v1m0 129v1m0 81v1m0 16v1m0 38v2m0 13v1m0 20v1m0 80v1m0 5v2M1891.81 955v1m0 319v1m0 94v1M1917.99 900v1m0 52v1m0 50v2m0 307v2m0 21v2m0 13v2m0 36v1M1944.17 1180v2m0 33v2m0 16v1m0 3v2M1970.35 1001v1m0 42v2m0 18v1m0 117v1m0 45v2m0 64v1m0 47v1M1996.53 1216v1m0 42v1m0 56v1m0 36v1M2022.71 908v1m0 49v2m0 79v1m0 57v2m0 165v1m0 40v1"/>
<path stroke="#dce" d="M1001.69 897v1m0 84v1m0 220v1M1027.87 1066v1m0 69v2m0 99v2M1080.23 1142v2m0 10v2m0 71v1M1106.41 1073v1M1132.59 1157v1M1211.13 894v1m0 1v1m0 4v1m0 1v1m0 1v1m0 8v1m0 4v2m0 1v2m0 1v1m0 2v1m0 1v2m0 7v2m0 1v1m0 3v1m0 2v1m0 1v1m0 1v1m0 2v1m0 5v3m0 1v1m0 3v1m0 3v1m0 7v2m0 1v1m0 5v2m0 3v1m0 3v3m0 1v1m0 6v1m0 1v3m0 1v1m0 5v1m0 3v1m0 4v1m0 1v1m0 1v1m0 2v2m0 2v1m0 5v2m0 1v1m0 2v1m0 1v4m0 1v1m0 4v2m0 3v1m0 1v2m0 3v1m0 1v1m0 5v2m0 2v1m0 3v2m0 2v1m0 2v2m0 2v1m0 2v1m0 1v1m0 1v1m0 2v1m0 1v1m0 3v2m0 2v2m0 2v1m0 4v1m0 1v1m0 4v2m0 2v1m0 3v1m0 2v2m0 1v1m0 1v1m0 1v2m0 1v1m0 4v2m0 7v1m0 1v2m0 11v3m0 2v1m0 3v1m0 1v2m0 1v1m0 2v2m0 1v1m0 3v1m0 2v1m0 1v3m0 2v2m0 1v1m0 3v1m0 2v1m0 2v1m0 6v3m0 1v2m0 1v1m0 3v2m0 2v1m0 1v4m0 4v1m0 4v1m0 1v2m0 1v1m0 1v2m0 2v1m0 1v3m0 3v2m0 5v4m0 3v5m0 4v7m0 2v1m0 3v1m0 2v1m0 2v2m0 2v1m0 4v1m0 1v4m0 4v1m0 2v1m0 5v1m0 3v2m0 1v1m0 2v1m0 1v1m0 3v3m0 2v1m0 4v1m0 2v1m0 1v2m0 3v1M1237.31 1001v1M1289.67 1160v1M1315.85 894v1m0 1v4m0 2v5m0 1v1m0 1v3m0 1v2m0 1v2m0 4v4m0 1v5m0 1v3m0 3v2m0 1v3m0 2v4m0 1v1m0 1v9m0 1v5m0 1v3m0 1v3m0 1v4m0 2v3m0 1v5m0 8v2m0 4v1m0 5v1m0 16v1m0 19v2m0 5v2m0 7v2m0 9v9m0 1v2m0 1v8m0 1v1m0 1v2m0 1v1m0 1v5m0 1v8m0 1v4m0 1v2m0 1v13m0 1v2m0 2v16m0 1v3m0 1v1m0 1v4m0 1v1m0 2v7m0 1v3m0 1v2m0 1v8m0 1v1m0 2v10m0 1v1m0 1v5m0 1v2m0 1v4m0 1v7m0 1v10m0 2v13m0 1v40m0 2v34m0 3v1m0 1v11m0 1v3m0 1v7m0 1v7m0 1v6m0 1v5m0 1v1m0 1v7M1342.03 985v1m0 108v2M1368.21 1053v2m0 78v1M1420.57 895v3m0 4v1m0 3v1m0 1v1m0 1v3m0 2v2m0 1v1m0 2v4m0 2v2m0 1v1m0 1v2m0 1v5m0 10v1m0 2v1m0 1v7m0 5v2m0 1v2m0 1v2m0 3v1m0 1v7m0 4v1m0 17v1m0 5v1m0 24v1m0 10v2m0 28v3m0 9v1m0 1v3m0 1v1m0 1v2m0 1v2m0 1v1m0 1v1m0 2v2m0 2v4m0 1v1m0 1v2m0 1v1m0 3v1m0 3v2m0 1v1m0 1v2m0 1v6m0 2v1m0 1v1m0 3v1m0 4v2m0 4v1m0 2v2m0 1v1m0 1v1m0 2v3m0 1v1m0 2v1m0 5v2m0 1v1m0 6v3m0 1v1m0 1v1m0 1v1m0 1v2m0 2v2m0 1v3m0 1v1m0 1v1m0 1v2m0 2v2m0 2v1m0 2v1m0 1v6m0 1v6m0 3v1m0 2v2m0 1v1m0 3v1m0 1v2m0 2v1m0 1v1m0 1v1m0 2v2m0 1v1m0 1v1m0 4v4m0 1v2m0 1v1m0 4v1m0 2v2m0 1v3m0 3v1m0 1v3m0 4v5m0 3v4m0 2v3m0 1v1m0 1v5m0 1v1m0 1v1m0 1v2m0 1v1m0 2v1m0 7v1m0 1v3m0 3v1m0 1v4m0 4v2m0 1v1m0 2v1m0 1v2m0 1v4M1446.75 1078v1m0 8v2M1472.93 928v1m0 14v1m0 41v1m0 4v1m0 115v1m0 6v1m0 4v1m0 2v2m0 25v1m0 16v1m0 23v1m0 5v1m0 81v1m0 3v1m0 62v1m0 7v1M1499.11 895v1m0 1v1m0 1v1m0 2v3m0 1v1m0 2v1m0 5v3m0 2v1m0 2v2m0 1v2m0 1v1m0 1v1m0 3v2m0 4v1m0 4v2m0 6v1m0 2v1m0 6v2m0 5v1m0 2v1m0 4v1m0 4v2m0 1v2m0 80v2m0 13v2m0 1v2m0 4v1m0 1v2m0 1v1m0 7v1m0 4v3m0 2v2m0 5v1m0 2v2m0 3v1m0 3v1m0 2v2m0 1v2m0 3v1m0 5v1m0 1v1m0 6v1m0 3v1m0 4v1m0 1v1m0 3v2m0 1v1m0 5v2m0 5v2m0 3v1m0 6v1m0 1v1m0 1v2m0 2v1m0 8v1m0 2v2m0 1v2m0 1v1m0 3v1m0 5v1m0 1v6m0 2v1m0 1v1m0 1v1m0 2v1m0 5v2m0 1v4m0 1v1m0 2v1m0 2v1m0 2v1m0 1v2m0 3v1m0 2v1m0 2v2m0 7v3m0 1v1m0 1v1m0 1v1m0 1v1m0 1v1m0 1v1m0 1v1m0 3v1m0 2v5m0 2v1m0 2v1m0 1v2m0 2v5m0 1v1m0 1v4m0 1v1m0 1v1m0 1v1m0 2v4m0 4v4m0 3v1m0 3v3m0 4v2m0 2v1m0 1v3m0 2v1M1525.29 1001v1m0 339v1M1551.47 947v1m0 65v1m0 37v1m0 162v1m0 56v1m0 10v1m0 56v1m0 6v1m0 3v1m0 5v1m0 9v1m0 3v1m0 7v1M1656.19 894v4m0 5v1m0 2v1m0 4v1m0 2v1m0 4v1m0 5v2m0 1v1m0 2v2m0 8v1m0 1v2m0 3v1m0 9v1m0 4v1m0 5v2m0 2v1m0 2v2m0 3v4m0 8v1m0 2v2m0 3v1m0 8v1m0 2v1m0 3v2m0 1v2m0 3v3m0 1v1m0 1v1m0 4v2m0 1v1m0 3v2m0 4v1m0 3v2m0 1v2m0 1v5m0 1v2m0 2v2m0 2v1m0 13v2m0 14v1m0 5v1m0 1v2m0 14v2m0 1v1m0 11v2m0 5v1m0 2v2m0 3v1m0 28v1m0 13v2m0 5v1m0 5v3m0 3v1m0 4v3m0 2v4m0 5v1m0 5v1m0 2v3m0 3v1m0 1v4m0 5v1m0 3v2m0 3v1m0 2v1m0 6v1m0 2v1m0 2v1m0 4v2m0 1v2m0 2v1m0 2v2m0 3v2m0 1v2m0 3v1m0 1v1m0 1v1m0 1v1m0 1v1m0 2v1m0 1v1m0 1v1m0 1v1m0 1v1m0 3v1m0 3v1m0 3v1m0 1v1m0 4v1m0 1v1m0 1v1m0 1v2m0 1v2m0 3v1m0 2v1m0 4v1m0 2v1m0 2v2m0 1v1m0 2v1m0 4v2m0 3v1m0 1v1M1682.37 1163v1M1813.27 1001v1M1839.45 973v1m0 27v1m0 200v1m0 80v1M1865.63 906v1m0 38v2M1891.81 1114v2M1917.99 967v2m0 73v1M1944.17 1021v2M2022.71 1177v1m0 68v1"/>
<path stroke="#e55" d="M1001.69 898v1m0 33v2m0 2v2m0 14v1m0 11v1m0 2v2m0 42v2m0 6v2m0 46v2m0 7v1m0 276v2m0 22v2M1027.87 910v1m0 18v1m0 13v2m0 8v3m0 26v1m0 3v2m0 156v2m0 75v1m0 60v1m0 66v1m0 18v1m0 10v1M1054.05 896v1m0 7v1m0 22v2m0 10v2m0 13v1m0 6v2m0 4v2m0 1v2m0 9v1m0 104v1m0 87v1m0 7v1m0 135v1m0 56v1M1080.23 943v2m0 3v2m0 15v2m0 6v1m0 18v2m0 5v2m0 18v2m0 245v1m0 49v2M1106.41 957v1m0 39v2m0 7v2m0 16v1m0 3v1m0 7v2m0 8v1m0 144v1m0 58v1m0 24v1M1132.59 924v1m0 18v2m0 7v1m0 21v2m0 38v1m0 67v1m0 9v1m0 30v1m0 7v1m0 8v1m0 91v1m0 15v1m0 108v1M1158.77 898v1m0 95v1m0 345v1M1184.95 908v1m0 7v1m0 2v2m0 32v1m0 1v1m0 29v1m0 3v2m0 3v1m0 7v2m0 5v1m0 11v3m0 9v1m0 37v2m0 1v2m0 293v1m0 28v1M1211.13 913v1m0 2v1m0 7v1m0 59v1m0 24v1m0 84v1m0 2v1m0 6v2m0 30v1m0 119v1M1237.31 894v1m0 4v1m0 5v1m0 33v2m0 22v1m0 72v2m0 22v2m0 5v2m0 5v1m0 130v2m0 134v1M1263.49 907v1m0 28v3m0 13v1m0 3v1m0 34v3m0 1v1m0 27v1m0 32v2m0 8v1m0 81v1m0 210v1M1289.67 909v1m0 24v2m0 5v1m0 5v1m0 75v1m0 29v2m0 276v1m0 23v1M1315.85 919v1m0 22v1m0 72v1m0 202v1m0 126v1m0 40v1M1342.03 927v2m0 79v1m0 23v2m0 31v1m0 8v1m0 35v1m0 178v1M1368.21 895v1m0 49v2m0 11v2m0 48v1m0 130v1m0 201v1M1394.39 894v1m0 18v1m0 29v2m0 22v2m0 7v2m0 17v1m0 27v1m0 1v2m0 6v1m0 231v1M1420.57 1025v2m0 335v1m0 18v1M1446.75 902v2m0 7v1m0 13v1m0 110v2m0 15v2m0 16v2m0 75v1m0 18v2m0 107v1m0 50v1m0 20v1m0 1v1m0 24v1M1472.93 1002v2m0 186v1m0 67v1M1499.11 952v1m0 9v1m0 6v1m0 7v1m0 24v4m0 15v2m0 8v1m0 51v1m0 30v1m0 9v2m0 30v1m0 80v1m0 54v1M1525.29 919v2m0 159v2m0 7v2m0 5v1m0 10v3m0 3v1m0 18v1m0 8v1m0 7v2m0 38v2M1551.47 931v1m0 66v1m0 87v1m0 22v1m0 16v1m0 31v2M1577.65 896v1m0 2v1m0 27v2m0 21v2m0 1v1m0 4v2m0 10v2m0 1v1m0 12v2m0 3v1m0 4v1m0 5v2m0 24v1m0 96v1m0 20v2m0 24v2m0 149v2M1603.83 911v1m0 35v1m0 2v2m0 3v1m0 32v3m0 19v1m0 60v2m0 38v2m0 5v1m0 10v1m0 8v1m0 7v2m0 1v2m0 5v1m0 6v1m0 25v2m0 56v2m0 93v1M1630.01 898v1m0 39v1m0 19v2m0 83v1m0 92v2m0 10v1m0 16v2m0 16v1M1656.19 964v1m0 22v1m0 10v1m0 35v1m0 64v2m0 83v1m0 24v1M1682.37 897v1m0 19v2m0 7v1m0 9v2m0 35v1m0 9v3m0 144v1m0 13v2m0 4v1m0 1v4m0 2v3m0 9v2m0 33v2m0 18v2m0 10v2m0 140v1M1708.55 963v1m0 122v1m0 113v1m0 1v1M1734.73 1019v2m0 28v2m0 7v2m0 26v1m0 4v1m0 2v2m0 3v2m0 57v2m0 5v2m0 3v2m0 11v1m0 21v2m0 67v1m0 78v2M1760.91 951v1m0 16v1m0 79v1m0 29v1m0 40v1m0 8v1m0 1v1m0 52v1m0 123v1M1787.09 1141v1m0 30v2m0 23v2m0 6v2m0 1v2m0 3v1m0 36v1m0 14v1m0 34v2m0 8v2m0 17v2m0 15v2m0 8v1m0 9v2m0 9v2m0 1v1m0 2v3m0 14v2M1813.27 929v1m0 196v1m0 188v1m0 23v2m0 18v1m0 8v1m0 6v2m0 2v1m0 18v1M1839.45 1044v2m0 81v2m0 12v1m0 94v1m0 14v2m0 75v1m0 15v2M1865.63 926v1m0 157v2m0 39v1m0 61v2m0 42v2m0 88v2m0 13v2m0 28v3M1891.81 974v2m0 39v1m0 33v2m0 245v1m0 69v2M1917.99 1192v2m0 20v1m0 4v1m0 22v2m0 24v1m0 16v2m0 2v1m0 7v2m0 3v3m0 18v2m0 6v1m0 7v2m0 1v1m0 27v1m0 21v2M1944.17 939v2m0 4v2m0 86v1m0 79v1m0 50v1m0 20v1m0 190v1M1970.35 913v1m0 126v1m0 6v2m0 18v2m0 96v2m0 137v1m0 34v2m0 16v1m0 16v2m0 4v1M1996.53 1210v1m0 127v1M2022.71 937v2m0 2v1m0 24v1m0 1v1m0 56v2m0 119v2m0 173v2m0 51v2"/>
<path stroke="#fcc" d="M1001.69 900v1m0 40v1m0 1v2m0 147v2M1027.87 904v1M1054.05 930v1m0 34v2m0 301v1M1080.23 899v1m0 8v1m0 158v4m0 98v1m0 58v2M1106.41 931v1M1132.59 896v1m0 42v2m0 254v1m0 38v1m0 25v1M1158.77 995v1m0 23v2m0 55v1m0 312v1M1184.95 905v1m0 68v2m0 40v2M1211.13 1316v1M1237.31 904v1m0 103v1m0 34v1m0 7v2m0 95v1M1263.49 911v1m0 70v1m0 46v2M1289.67 942v1m0 45v1m0 32v2m0 21v2m0 57v1m0 203v1M1315.85 1112v1M1342.03 1029v2m0 49v2m0 69v1M1368.21 904v1m0 11v1m0 38v1m0 82v1m0 27v1M1394.39 895v1m0 143v1M1420.57 1079v1m0 116v1M1446.75 1034v2m0 74v1m0 212v1M1499.11 948v1m0 33v1m0 180v1M1525.29 914v2m0 247v1M1551.47 1027v1m0 10v2m0 36v1m0 109v1m0 143v1m0 34v1M1577.65 906v1m0 65v1m0 35v1m0 30v1m0 94v2M1603.83 986v2m0 54v1m0 34v1m0 58v2M1630.01 897v1m0 271v1m0 10v2m0 2v1M1656.19 1019v1m0 255v1m0 73v1M1682.37 965v4m0 127v1m0 19v2m0 67v1M1708.55 1091v1m0 69v2m0 29v2M1734.73 907v1m0 21v2m0 1v2m0 180v2m0 11v2m0 51v2m0 120v2M1760.91 1051v1m0 27v1m0 32v1m0 142v1M1787.09 930v2m0 31v1m0 32v1m0 37v2m0 40v1m0 37v2m0 2v1m0 57v1m0 10v2m0 14v1m0 3v1m0 2v2M1813.27 912v1m0 25v1m0 21v1m0 8v1m0 11v1m0 22v2m0 9v1m0 7v1m0 3v1m0 19v2m0 6v1m0 51v2m0 2v2m0 10v2m0 179v1m0 69v1M1865.63 948v2m0 47v2m0 5v2m0 6v1m0 2v1m0 13v2m0 27v2m0 107v2m0 45v1M1891.81 919v2m0 231v2m0 169v2m0 43v1M1917.99 1140v1m0 128v2M1944.17 921v2m0 32v1m0 46v2m0 27v1m0 33v1m0 106v2M1970.35 916v1m0 445v2M2022.71 897v1m0 380v2m0 16v1"/>
<path stroke="#e77" d="M1001.69 901v1m0 19v2m0 1v1m0 1v1m0 34v2m0 6v1m0 16v2m0 30v1m0 6v3m0 16v2m0 1v2m0 13v2m0 5v4m0 219v1m0 4v2m0 98v1M1027.87 912v1m0 1v2m0 42v2m0 1v2m0 2v2m0 127v2m0 9v2m0 34v1m0 83v2m0 49v1m0 8v2m0 103v2m0 2v1M1054.05 899v1m0 7v1m0 2v1m0 30v1m0 1v2m0 3v2m0 13v1m0 12v2m0 7v1m0 3v2m0 73v1m0 96v2m0 44v1m0 131v2M1080.23 900v1m0 3v1m0 11v1m0 2v2m0 10v1m0 35v2m0 28v2m0 3v2m0 9v1m0 41v1m0 18v2m0 34v1m0 45v1m0 139v1m0 42v2m0 30v1M1106.41 895v1m0 13v1m0 9v2m0 9v1m0 11v1m0 10v1m0 35v2m0 36v1m0 13v1m0 20v2m0 274v1m0 59v1M1132.59 895v1m0 5v1m0 8v1m0 5v1m0 6v1m0 37v2m0 6v1m0 6v2m0 14v2m0 19v1m0 5v2m0 23v2m0 139v1m0 37v1m0 52v1m0 70v1M1158.77 899v1m0 19v2m0 10v1m0 15v1m0 24v1m0 65v1m0 14v2m0 3v2m0 52v1m0 47v1m0 12v1m0 27v1m0 74v1M1184.95 897v1m0 25v2m0 4v1m0 22v1m0 1v1m0 25v1m0 11v2m0 16v1m0 33v2m0 7v2m0 1v2M1211.13 911v1m0 157v1m0 16v1m0 14v1m0 8v1m0 252v1m0 10v1M1237.31 901v1m0 12v2m0 5v3m0 6v1m0 21v1m0 17v2m0 16v1m0 73v2m0 57v2M1263.49 895v1m0 12v1m0 7v1m0 2v2m0 33v1m0 6v2m0 13v2m0 28v2m0 2v1m0 17v1m0 14v1m0 2v1m0 17v2m0 23v1M1289.67 938v1m0 4v2m0 3v2m0 6v1m0 7v1m0 17v1m0 46v2m0 1v1m0 36v2m0 6v1m0 18v1M1315.85 1074v1m0 2v1m0 127v1m0 21v1m0 115v1m0 27v1M1342.03 901v1m0 11v1m0 81v1m0 1v2m0 37v2m0 2v2m0 4v1m0 4v2m0 7v2m0 162v1m0 2v1M1368.21 905v1m0 3v1m0 3v1m0 10v1m0 14v2m0 12v1m0 22v2m0 11v2m0 6v2m0 2v1m0 2v2m0 19v2m0 5v2m0 6v1m0 2v1m0 14v2m0 22v2m0 70v2m0 27v1M1394.39 898v1m0 17v3m0 28v3m0 41v1m0 5v2m0 22v2m0 15v1m0 30v2m0 186v2m0 139v1M1420.57 946v1m0 95v1m0 33v1m0 1v1m0 146v1M1446.75 908v1m0 36v2m0 27v2m0 34v1m0 16v1m0 4v1m0 18v2m0 16v2m0 20v1m0 214v1m0 33v1m0 24v1m0 32v1M1472.93 924v1m0 71v1m0 21v1m0 14v1m0 13v2m0 11v2m0 13v1m0 193v1M1499.11 908v1m0 10v1m0 39v1m0 104v1m0 26v1m0 44v1m0 20v1m0 8v1m0 32v1m0 88v1m0 97v1M1525.29 1015v1m0 75v1m0 18v1m0 5v2m0 12v1m0 11v2m0 8v2m0 3v1m0 11v1m0 2v2m0 23v2m0 3v1M1551.47 913v1m0 56v2m0 6v2m0 5v1m0 24v1m0 32v1m0 92v2m0 25v1m0 25v2m0 170v1M1577.65 894v1m0 17v1m0 41v1m0 40v1m0 42v1m0 1v1m0 19v2m0 76v1m0 5v2m0 17v1m0 1v2m0 7v1m0 11v3m0 31v1m0 43v1m0 112v2M1603.83 904v1m0 7v1m0 30v4m0 48v1m0 28v1m0 13v1m0 1v1m0 28v2m0 19v1m0 3v2m0 8v3m0 3v1m0 117v2M1630.01 907v1m0 39v1m0 79v1m0 47v1m0 4v2m0 12v2m0 27v2m0 24v1m0 2v2m0 23v1m0 7v1m0 9v2m0 5v1m0 1v1M1656.19 949v1m0 88v1m0 71v1m0 43v2m0 18v1m0 1v1m0 143v1M1682.37 898v1m0 51v2m0 4v1m0 12v1m0 8v2m0 99v1m0 10v1m0 10v2m0 11v2m0 2v1m0 10v1m0 18v1m0 2v1m0 12v1m0 30v2m0 4v1m0 18v1m0 12v1M1708.55 899v1m0 10v1m0 5v1m0 35v1m0 21v2m0 145v2m0 8v1m0 14v2m0 28v1m0 3v2m0 3v1m0 19v2m0 136v1M1734.73 985v1m0 101v2m0 49v1m0 22v3m0 90v1m0 38v1M1760.91 1188v1M1787.09 1021v2m0 37v4m0 18v2m0 60v2m0 48v3m0 18v2m0 4v1m0 8v1m0 54v2m0 3v2m0 13v1m0 26v2m0 5v2m0 27v1m0 21v2m0 3v2M1813.27 989v2m0 140v1m0 24v1m0 10v2m0 8v1m0 2v2m0 1v1m0 46v1m0 5v1m0 29v1m0 1v1m0 13v1m0 35v1m0 2v2m0 5v1m0 3v2m0 17v2m0 11v2m0 29v2M1839.45 992v2m0 79v1m0 146v1m0 48v2m0 4v1m0 13v1m0 14v1m0 8v2m0 45v2m0 2v2m0 8v1M1865.63 914v2m0 40v2m0 22v1m0 28v1m0 6v2m0 35v2m0 41v1m0 19v2m0 52v2m0 32v1m0 16v1m0 3v3m0 19v2m0 12v3m0 28v1m0 35v1m0 46v1m0 11v2m0 10v1M1891.81 989v2m0 308v3m0 55v1m0 1v1m0 30v2M1917.99 908v1m0 90v2m0 18v2m0 82v1m0 7v2m0 63v1m0 14v1m0 52v3m0 2v2m0 2v1m0 28v1m0 10v1m0 16v2m0 20v2m0 4v1m0 19v1m0 35v1M1944.17 900v1m0 11v1m0 56v1m0 110v2m0 5v2m0 7v1m0 178v1m0 8v1m0 27v1m0 8v2m0 59v1m0 17v2M1970.35 919v2m0 52v1m0 4v2m0 24v2m0 15v2m0 23v1m0 137v1m0 64v1m0 69v1m0 14v2m0 23v1m0 22v1m0 12v2M1996.53 1004v1m0 316v1m0 8v1m0 16v1M2022.71 962v1m0 2v1m0 13v1m0 170v1m0 31v1m0 39v2m0 53v1m0 79v1"/>
<path stroke="#eab" d="M1001.69 902v2m0 52v1m0 34v1M1132.59 1076v1M1184.95 1039v1M1342.03 1015v1M1368.21 1172v2M1420.57 992v2m0 19v1m0 4v1m0 36v1M1472.93 995v1m0 13v1m0 32v1m0 21v1M1499.11 1009v1m0 23v1M1525.29 896v1M1551.47 899v1m0 82v1m0 189v2M1787.09 1343v1M1944.17 1028v1M2022.71 1142v2"/>
<path stroke="#e98" d="M1001.69 904v1m0 69v2M1054.05 1132v1M1237.31 992v2m0 55v2M1263.49 1040v1M1289.67 995v1m0 75v2M1315.85 1025v2M1342.03 1157v1M1368.21 1014v1M1551.47 1177v1M1682.37 1062v2m0 16v2M1708.55 1067v2M1787.09 1374v1M1865.63 1234v2M1944.17 938v1"/>
<path stroke="#e66" d="M1001.69 905v1m0 4v1m0 20v1m0 2v2m0 11v1m0 24v2m0 18v2m0 14v1m0 6v1m0 22v1m0 12v2m0 60v1m0 100v1m0 75v2m0 20v1m0 10v2m0 3v1m0 3v2m0 35v1m0 17v2M1027.87 917v2m0 33v1m0 17v2m0 2v2m0 102v1m0 195v1m0 48v2m0 21v2M1054.05 897v1m0 3v1m0 7v1m0 4v2m0 18v4m0 15v1m0 4v2m0 96v2m0 52v1m0 3v2m0 38v2m0 8v1m0 32v2m0 130v2M1080.23 897v1m0 11v1m0 20v1m0 41v1m0 8v2m0 5v1m0 2v1m0 41v1m0 4v1m0 12v4m0 140v2m0 96v1M1106.41 897v1m0 7v1m0 5v1m0 44v1m0 16v1m0 20v1m0 4v2m0 7v1m0 31v1m0 1v1m0 4v2m0 35v2m0 165v2m0 34v2m0 17v1m0 37v2m0 16v2M1132.59 900v1m0 1v3m0 20v1m0 10v2m0 3v1m0 87v2m0 46v1m0 21v1m0 3v1m0 69v1m0 6v1m0 92v1M1158.77 924v1m0 11v2m0 18v1m0 42v2m0 23v1m0 18v1m0 109v1m0 3v1m0 13v1m0 84v1m0 112v1m0 10v1m0 2v1M1184.95 895v1m0 30v1m0 4v1m0 16v2m0 10v3m0 7v3m0 40v1m0 5v2m0 56v1m0 63v1M1211.13 934v1m0 10v1m0 25v1m0 153v1m0 7v1m0 40v1m0 27v1m0 77v1m0 107v1m0 9v1M1237.31 907v1m0 11v2m0 5v1m0 9v2m0 15v1m0 22v2m0 18v1m0 16v1m0 14v1m0 2v1m0 24v2m0 6v1m0 17v2m0 42v1m0 17v2m0 49v2m0 2v1M1263.49 902v3m0 8v1m0 9v1m0 5v1m0 2v2m0 8v1m0 4v1m0 5v1m0 4v2m0 20v1m0 34v1m0 26v1m0 24v2m0 4v2m0 2v1M1289.67 912v1m0 4v4m0 3v1m0 25v2m0 3v1m0 4v1m0 4v2m0 2v1m0 10v1m0 8v2m0 27v1m0 37v2m0 8v1m0 7v1m0 274v1M1315.85 937v1m0 91v2m0 10v1m0 13v1m0 70v1M1342.03 916v1m0 37v1m0 44v2m0 42v1m0 5v2m0 4v1m0 21v1m0 23v2m0 46v1m0 8v2m0 14v1m0 24v1m0 69v2M1368.21 896v1m0 10v1m0 11v2m0 27v4m0 31v2m0 14v2m0 1v2m0 35v1m0 2v1m0 17v4m0 7v2m0 3v1m0 86v1m0 14v2m0 5v1m0 165v2m0 22v1m0 5v1M1394.39 929v1m0 42v1m0 8v1m0 26v1m0 27v2m0 3v1m0 4v1m0 24v2m0 3v1m0 64v1m0 68v2m0 5v2M1420.57 899v1m0 143v1m0 3v2M1446.75 906v1m0 45v1m0 44v2m0 10v1m0 8v1m0 45v1m0 2v2m0 4v1m0 10v2m0 111v2m0 22v1m0 59v1m0 78v1M1472.93 1016v2m0 49v2m0 105v1m0 9v1m0 195v1m0 3v1M1499.11 921v1m0 27v1m0 31v1m0 42v1m0 18v1m0 42v1m0 15v2m0 45v1m0 139v1m0 41v1m0 34v1M1525.29 969v1m0 4v2m0 103v1m0 17v2m0 2v3m0 10v2m0 9v1m0 5v1m0 1v1m0 22v1m0 3v1m0 15v1m0 7v1m0 149v2m0 2v1M1551.47 1018v1m0 3v1m0 7v1m0 79v3m0 88v1m0 75v1M1577.65 914v2m0 1v2m0 12v3m0 47v1m0 29v1m0 12v1m0 16v1m0 25v2m0 9v1m0 37v2m0 1v2m0 6v2m0 46v1m0 1v1m0 13v1M1603.83 917v2m0 10v1m0 4v4m0 15v1m0 15v1m0 8v3m0 10v1m0 12v2m0 6v1m0 43v2m0 9v2m0 5v1m0 1v1m0 7v2m0 6v2m0 3v2m0 4v1m0 21v1m0 22v1m0 8v1m0 2v1m0 11v2m0 6v2m0 4v1m0 12v1m0 1v2m0 168v1M1630.01 1132v1m0 8v1m0 153v1M1656.19 900v1m0 6v1m0 1v2m0 35v1m0 5v1m0 18v1m0 44v1m0 6v1m0 28v1m0 37v1m0 170v1m0 40v1m0 26v1M1682.37 906v1m0 6v1m0 50v1m0 5v2m0 151v2m0 7v1m0 3v3m0 2v1m0 27v1m0 6v1m0 7v1m0 12v2m0 1v1m0 3v1m0 171v1M1708.55 912v1m0 8v2m0 7v1m0 55v2m0 36v1m0 64v1m0 4v2m0 1v2m0 35v2m0 6v2m0 21v2m0 3v2m0 31v1m0 51v2M1734.73 992v2m0 70v1m0 51v3m0 6v1m0 25v1m0 17v1m0 17v2m0 6v4m0 1v1m0 2v1m0 93v2m0 35v2m0 30v2M1760.91 1133v1M1787.09 989v2m0 93v2m0 10v1m0 128v2m0 12v1m0 36v1m0 16v1m0 13v1m0 7v1m0 46v2m0 8v2M1813.27 1213v1m0 13v1m0 25v1m0 3v2m0 26v2m0 3v2m0 107v1M1839.45 1010v1m0 129v1m0 106v2m0 15v1m0 58v2m0 6v1m0 25v1m0 11v1m0 16v1m0 10v1M1865.63 913v1m0 22v2m0 32v2m0 103v1m0 14v1m0 18v1m0 30v1m0 24v2m0 16v1m0 19v1m0 29v1m0 44v4m0 26v2m0 6v2m0 20v1m0 11v1m0 33v2M1891.81 1078v1m0 42v2m0 94v2m0 14v1m0 40v1m0 1v1m0 87v2M1917.99 906v1m0 4v1m0 19v1m0 11v2m0 43v1m0 12v1m0 12v1m0 26v1m0 14v2m0 159v2m0 28v2m0 8v2m0 8v1m0 24v1m0 1v1m0 4v3m0 3v1m0 15v2m0 26v2m0 2v2M1944.17 923v1m0 150v1m0 11v1m0 43v1m0 18v1m0 28v2m0 45v2m0 56v1m0 93v2m0 2v1M1970.35 991v1m0 4v1m0 58v1m0 38v2m0 62v2m0 113v1m0 38v1m0 16v2m0 20v2M1996.53 1042v1m0 113v1m0 142v1m0 56v2M2022.71 902v1m0 2v1m0 3v1m0 4v1m0 3v1m0 12v1m0 3v1m0 35v1m0 16v1m0 24v1m0 48v2m0 9v1m0 10v2m0 52v1m0 114v1m0 33v2m0 1v2"/>
<path stroke="#d78" d="M1001.69 906v1m0 47v1M1027.87 1174v1m0 35v2m0 10v2m0 63v2m0 66v1m0 24v1M1080.23 1148v1m0 54v1m0 36v2m0 114v1m0 7v2M1132.59 1039v1m0 31v2M1158.77 896v1m0 17v2m0 9v1M1184.95 1034v2M1263.49 1019v2M1289.67 1002v2M1315.85 1040v1M1342.03 964v1m0 5v2m0 2v2m0 88v1m0 104v1m0 150v1m0 60v1M1368.21 995v1M1446.75 917v2m0 59v2m0 189v1M1499.11 994v1m0 2v2m0 35v2m0 10v1m0 9v2M1525.29 954v1m0 100v1m0 211v1m0 39v1M1551.47 904v1m0 11v1m0 9v1m0 5v2m0 18v1m0 33v2m0 141v1m0 27v1m0 2v1m0 13v1m0 7v1m0 9v2m0 5v1M1630.01 961v2M1656.19 1079v1m0 61v1m0 2v2m0 29v1m0 1v1M1708.55 997v2M1734.73 960v1M1839.45 1024v1m0 54v1m0 24v1m0 51v1m0 68v2m0 65v1m0 3v1m0 11v2M1891.81 930v1m0 33v1M1917.99 927v2m0 26v1m0 35v1m0 61v2m0 139v1M2022.71 994v1m0 16v1m0 3v1m0 3v2m0 20v1m0 1v1m0 5v2m0 80v1m0 16v1m0 29v2m0 7v2m0 3v2m0 27v1m0 2v1m0 25v1m0 42v1m0 6v2m0 6v2m0 73v1"/>
<path stroke="#e99" d="M1001.69 907v1m0 42v2M1027.87 963v1m0 196v1m0 30v1M1054.05 995v1M1080.23 961v2m0 259v2m0 75v1M1106.41 904v1m0 34v2m0 9v2m0 375v1M1158.77 1042v1M1184.95 939v2m0 88v2m0 10v1M1237.31 1002v2M1263.49 965v2m0 27v1m0 54v2m0 25v1M1289.67 896v1m0 5v2m0 1v1m0 20v1m0 2v1m0 113v1m0 20v1M1315.85 1010v1m0 7v1M1342.03 1025v2m0 48v1M1368.21 1015v1m0 20v2m0 29v2m0 238v1M1420.57 1023v1m0 22v1m0 13v2m0 9v2M1472.93 1041v1m0 13v1m0 6v2M1499.11 1047v2m0 24v1m0 1v1M1551.47 1121v2m0 52v1m0 21v2M1577.65 952v1m0 112v1m0 188v1M1603.83 927v2M1630.01 1051v2m0 31v2m0 105v1M1656.19 1097v2m0 86v1M1682.37 916v1m0 65v1m0 81v1M1734.73 1027v1M1787.09 939v2m0 211v2M1813.27 950v2m0 24v2m0 68v1m0 101v1M1865.63 895v1m0 151v2m0 11v2m0 4v1M1891.81 916v1m0 148v1m0 155v1M1917.99 1079v1m0 140v1m0 10v2m0 129v2M1970.35 912v1m0 233v2"/>
<path stroke="#c78" d="M1001.69 909v1m0 230v1m0 76v2m0 14v1M1027.87 1109v1m0 208v1m0 47v2m0 2v1m0 13v2M1054.05 1039v1m0 90v1m0 10v1m0 82v1m0 15v2m0 34v1m0 91v1m0 2v1m0 28v2M1080.23 1174v1m0 17v2m0 112v1M1106.41 1161v2m0 136v1M1132.59 1027v1m0 47v1M1158.77 991v1M1184.95 1293v1M1237.31 1176v1M1263.49 1253v1M1342.03 899v1m0 69v1m0 120v1m0 22v1m0 140v1m0 131v1M1368.21 1180v2M1394.39 1334v2M1446.75 895v1m0 17v1m0 47v2m0 141v1m0 2v2m0 33v2m0 19v1M1525.29 910v1m0 42v1m0 57v1m0 6v1m0 214v1m0 76v3M1551.47 1185v1M1577.65 1321v2M1603.83 1360v2M1630.01 956v1m0 21v2m0 28v1m0 24v1M1682.37 1002v2m0 243v2m0 31v2M1708.55 911v1m0 100v1m0 194v1m0 149v1m0 29v2M1734.73 905v1m0 468v1M1813.27 972v1M1839.45 1031v1m0 10v1m0 124v2m0 73v2m0 15v2M1865.63 897v1m0 169v2M1891.81 1023v1m0 22v1m0 9v2m0 68v1m0 104v2m0 22v2m0 20v1m0 68v2M1917.99 916v1m0 69v2m0 36v1m0 37v2m0 23v2m0 50v1m0 32v2m0 4v2m0 3v1m0 16v1M1944.17 997v2m0 250v1m0 23v1m0 28v2M1970.35 1225v2m0 15v2m0 41v2m0 59v2m0 23v1M2022.71 1044v2m0 65v2m0 207v1m0 79v2"/>
<path stroke="#d32" d="M1001.69 912v1m0 84v2m0 14v1m0 2v2M1027.87 895v1m0 9v1m0 39v2m0 265v1m0 55v1m0 73v1M1054.05 926v1m0 45v1m0 10v2m0 75v2m0 74v2m0 49v2M1080.23 952v1m0 48v1m0 62v1M1106.41 906v1m0 54v2m0 23v2m0 55v1m0 12v2M1132.59 899v1m0 97v2m0 34v1m0 168v1m0 91v1M1158.77 930v1m0 94v2m0 39v1m0 146v1m0 111v1m0 39v1M1184.95 958v2m0 9v1m0 13v2m0 62v2m0 15v1m0 53v1m0 149v1M1211.13 960v1m0 81v1m0 10v1m0 31v1m0 100v1m0 152v1M1237.31 908v1m0 109v1m0 2v2m0 19v1m0 4v2m0 136v1M1263.49 948v2m0 36v2m0 53v1m0 252v1M1289.67 1006v2m0 5v1m0 14v1m0 33v2m0 316v1M1315.85 921v1m0 56v1m0 81v2m0 85v1m0 68v1M1368.21 902v2m0 50v1m0 27v1m0 30v1m0 17v1m0 37v2m0 113v1m0 163v1m0 27v1M1394.39 906v1m0 73v1m0 11v2m0 8v2m0 23v1m0 14v1m0 34v1M1420.57 1100v1M1446.75 1011v1m0 65v1m0 181v1M1472.93 1043v1M1499.11 1108v1m0 59v1m0 12v1M1525.29 1053v2m0 10v1m0 16v4M1551.47 1180v2m0 9v1m0 78v1M1577.65 905v1m0 10v1m0 48v2m0 39v2m0 82v1m0 6v2m0 4v2m0 64v1m0 25v2M1603.83 914v2m0 25v1m0 16v2m0 13v1m0 149v2m0 40v2m0 24v3M1630.01 952v1m0 58v1m0 309v2M1656.19 915v1m0 45v1m0 12v2m0 106v2m0 42v1M1682.37 925v1m0 3v1m0 2v2m0 46v1m0 128v1M1708.55 909v1m0 66v2m0 21v2m0 86v2m0 20v1m0 20v1m0 23v2M1734.73 1139v1m0 216v1M1760.91 1135v1m0 8v1m0 37v1m0 4v1M1787.09 1099v2m0 203v1m0 20v2m0 22v1M1813.27 1212v1m0 94v1M1839.45 991v1m0 230v2M1865.63 1266v1m0 16v1m0 29v2M1891.81 952v1m0 176v1m0 250v1M1917.99 1096v1m0 131v2m0 98v1M1970.35 917v2m0 437v1M1996.53 1182v1m0 105v1m0 57v1M2022.71 906v1m0 131v1m0 27v1m0 240v1m0 51v1"/>
<path stroke="#f99" d="M1001.69 913v1m0 31v2m0 54v1m0 190v2m0 162v1M1027.87 931v1m0 4v2m0 18v1m0 19v2m0 2v1m0 20v1m0 161v1M1054.05 911v1m0 35v1m0 34v1m0 148v1m0 78v2M1080.23 963v1m0 16v1m0 51v1m0 8v1m0 266v2M1106.41 932v2m0 4v1m0 46v1m0 5v1m0 24v2m0 5v1m0 14v1m0 16v1m0 2v2m0 160v1m0 107v1M1132.59 955v2m0 1v2m0 233v1M1158.77 926v1m0 31v2m0 37v2m0 3v2m0 63v2m0 2v2m0 8v1m0 123v1M1184.95 927v2m0 3v2m0 74v1m0 51v2m0 14v1M1211.13 978v1m0 15v1m0 85v1m0 53v1m0 16v1m0 47v1m0 75v1m0 82v1M1237.31 906v1m0 5v1m0 12v1m0 29v1m0 58v1m0 25v1m0 5v1M1263.49 900v1m0 101v2m0 14v1m0 6v2m0 11v1m0 297v2M1289.67 907v1m0 15v1m0 67v1m0 5v2M1315.85 1036v2m0 18v2m0 88v1M1342.03 992v2m0 8v2m0 35v1m0 104v2m0 26v2M1368.21 911v1m0 5v2m0 10v1m0 13v2m0 2v1m0 4v1m0 7v1m0 55v2m0 46v1m0 9v1M1394.39 927v2m0 65v1m0 9v2m0 3v1m0 37v2m0 111v1m0 2v1M1420.57 987v1m0 74v2M1446.75 894v1m0 113v1m0 15v1m0 214v1m0 20v1m0 88v1m0 37v1M1472.93 1225v1m0 38v1m0 55v1M1499.11 930v1m0 124v1m0 131v1m0 17v1m0 115v1M1525.29 1104v1m0 22v2m0 5v2m0 12v1m0 37v1m0 7v1M1551.47 939v2m0 385v1m0 10v1M1577.65 900v1m0 38v2m0 16v1m0 30v1m0 82v2m0 40v1m0 50v1m0 27v2m0 81v1M1603.83 908v1m0 7v1m0 104v2m0 41v1m0 13v1m0 30v1m0 41v1m0 9v2m0 113v1M1630.01 980v2m0 115v2m0 45v2m0 212v1M1656.19 953v1m0 2v1m0 50v1m0 86v2m0 292v1M1682.37 948v2m0 26v2m0 111v1m0 49v1M1708.55 985v1m0 150v2m0 13v1m0 5v1m0 17v1M1734.73 900v1m0 188v1m0 42v1m0 15v1m0 3v2m0 3v1m0 18v1m0 45v2M1760.91 1026v1m0 94v1m0 1v1m0 29v1m0 19v1m0 16v1m0 204v1M1787.09 894v1m0 5v1m0 66v2m0 365v2m0 5v1m0 9v2M1813.27 943v2m0 25v2m0 49v2m0 16v1m0 64v1m0 56v2m0 36v1m0 44v2m0 13v2m0 80v1m0 2v2M1839.45 1067v2M1865.63 947v1m0 144v2m0 83v1m0 37v2m0 7v1m0 17v2m0 10v1m0 42v2m0 59v1m0 23v1M1891.81 954v1m0 76v1m0 57v1m0 214v1m0 13v1m0 15v2m0 26v2M1917.99 996v1m0 108v2m0 108v2m0 8v2m0 51v4m0 2v1m0 5v2m0 77v1M1944.17 1078v1m0 15v2m0 13v1m0 87v2m0 63v2M1970.35 921v2m0 299v2m0 27v2m0 46v1M1996.53 1058v1M2022.71 898v1m0 77v1m0 99v1m0 57v2m0 72v2m0 113v2"/>
<path stroke="#faa" d="M1001.69 914v2m0 14v1m0 57v1m0 15v2m0 25v3m0 32v1m0 24v1m0 17v1m0 77v2m0 61v1m0 93v2M1027.87 896v1m0 19v1m0 7v2m0 43v1m0 120v1m0 203v1m0 24v1M1054.05 921v2m0 96v2m0 137v2m0 18v2m0 39v1m0 111v1M1080.23 896v1m0 10v1m0 15v1m0 52v2m0 11v2m0 51v1m0 3v1m0 129v1M1106.41 965v2m0 2v1m0 42v1m0 127v1m0 163v1M1132.59 945v2m0 42v2m0 62v2m0 92v1m0 59v1m0 161v1m0 21v1M1158.77 963v1m0 67v1m0 1v1m0 12v1m0 95v1M1184.95 900v1m0 96v2m0 41v1M1211.13 907v1m0 69v1m0 78v1m0 83v1m0 214v1M1237.31 994v2m0 3v2m0 26v1m0 6v2m0 8v2m0 7v3m0 21v1m0 41v2M1263.49 899v1m0 34v2m0 80v2m0 14v1m0 274v1M1289.67 914v2m0 38v1m0 8v1m0 12v2m0 3v1m0 19v1m0 65v2m0 95v1M1315.85 1043v1m0 99v1M1342.03 919v2m0 5v1m0 38v2m0 37v2m0 12v1m0 4v1m0 18v1m0 28v2m0 13v1m0 63v1m0 217v1M1368.21 894v1m0 2v1m0 27v1m0 31v1m0 12v2m0 39v1m0 35v2m0 48v2m0 93v2m0 195v1M1394.39 901v1m0 10v1m0 21v2m0 52v1m0 24v1m0 99v1M1420.57 948v1m0 63v1m0 40v2M1446.75 1021v2m0 32v1m0 19v1m0 156v1m0 11v1m0 73v1m0 14v1m0 12v1M1472.93 953v2m0 4v1m0 114v1M1499.11 996v1m0 124v1m0 18v1M1525.29 1136v2m0 44v1m0 22v2M1551.47 994v1m0 106v2m0 237v1m0 56v1M1577.65 913v1m0 159v1m0 35v1m0 22v1m0 27v1m0 44v2m0 136v1m0 38v1M1603.83 926v1m0 21v2m0 89v1m0 4v2m0 34v2m0 5v2m0 45v2m0 31v2m0 18v2m0 91v2m0 49v1M1630.01 932v2m0 9v2m0 46v1m0 7v2m0 8v1m0 21v1m0 102v2m0 27v1m0 33v2m0 144v1M1656.19 955v1m0 24v1m0 60v1m0 203v1M1682.37 952v1m0 5v2m0 3v1m0 25v3m0 22v1m0 76v1m0 2v2m0 78v1m0 7v1M1708.55 1116v2m0 8v1m0 17v2M1734.73 898v1m0 49v2m0 17v2m0 11v1m0 115v1m0 85v1m0 11v1M1760.91 1092v1m0 12v1m0 93v1M1787.09 1002v2m0 20v1m0 30v1m0 34v1m0 6v2m0 22v2m0 61v1m0 37v2m0 25v1m0 30v2m0 20v2m0 15v1m0 30v1m0 6v1m0 6v2m0 5v1m0 22v1m0 2v2M1813.27 907v1m0 59v2m0 110v1m0 41v2m0 26v1m0 64v1m0 18v1m0 16v1M1839.45 906v1m0 90v2m0 133v1m0 149v1m0 68v4M1865.63 1002v2m0 17v2m0 19v1m0 13v2m0 19v2m0 26v2m0 62v1m0 2v2m0 11v1m0 21v1m0 123v1m0 11v1m0 15v1m0 12v2M1891.81 906v1m0 97v2m0 13v2m0 228v1m0 12v2m0 28v1M1917.99 985v1m0 189v1m0 48v1m0 119v4m0 51v3M1944.17 929v1m0 23v1m0 4v3m0 43v2m0 3v1m0 3v1m0 24v1m0 3v1m0 21v1m0 8v1m0 27v2m0 1v1m0 5v1m0 5v2m0 28v2m0 35v1m0 3v2m0 68v2m0 10v2m0 78v1M1970.35 948v2m0 101v2m0 202v2m0 12v2M1996.53 1010v1m0 261v1M2022.71 904v1m0 55v1m0 31v2m0 29v1m0 273v2m0 95v1"/>
<path stroke="#ebb" d="M1001.69 917v2M1027.87 908v1M1420.57 1001v1m0 47v2M1499.11 999v2M1787.09 995v1m0 44v1m0 33v1M1813.27 953v1m0 43v2m0 247v1m0 78v2M1917.99 1327v1M1944.17 934v2m0 55v1M2022.71 1325v2"/>
<path stroke="#d22" d="M1001.69 919v2m0 39v1m0 38v2m0 9v1m0 12v2m0 28v2m0 204v2m0 98v1M1027.87 923v1m0 14v4m0 22v1m0 26v1m0 197v2M1054.05 895v1m0 6v2m0 2v1m0 1v1m0 22v1m0 13v2m0 31v2m0 195v1M1080.23 902v2m0 34v3m0 4v2m0 10v1m0 12v2m0 39v2m0 27v1m0 6v2m0 81v1m0 222v2M1106.41 921v2m0 32v1m0 24v1m0 7v1m0 7v1m0 32v2m0 1v1m0 16v2m0 2v2m0 20v1m0 1v1M1132.59 929v1m0 12v1m0 21v1m0 13v2m0 30v1m0 30v1m0 96v1m0 85v1m0 18v1m0 15v1m0 48v1m0 29v1M1158.77 1008v1m0 14v1m0 10v2m0 5v1m0 38v1m0 7v1m0 35v1m0 20v1m0 30v1m0 32v1m0 5v1m0 18v1m0 51v1m0 9v1m0 5v1m0 12v1M1184.95 921v2m0 2v1m0 21v1m0 9v1m0 24v1m0 41v3m0 9v2M1211.13 908v1m0 84v1m0 12v1m0 28v1m0 41v1m0 11v1m0 8v1m0 48v1m0 14v1m0 8v1m0 18v1m0 41v1m0 110v1m0 34v1M1237.31 909v1m0 75v1m0 5v1m0 31v1m0 34v2m0 13v1m0 1v1m0 75v1m0 88v2M1263.49 905v1m0 64v2m0 37v1m0 4v1m0 29v2m0 5v2m0 9v2M1289.67 931v1m0 35v2m0 14v2m0 25v1m0 16v1m0 30v2m0 194v1M1315.85 909v1m0 36v1m0 5v1m0 51v2m0 60v1m0 32v1m0 279v1M1342.03 908v1m0 100v1m0 52v2m0 125v2m0 89v2M1368.21 908v1m0 47v1m0 71v1M1394.39 902v2m0 3v1m0 18v1m0 9v2m0 22v1m0 49v2m0 3v1m0 27v3m0 10v2M1420.57 926v1m0 4v1m0 40v1m0 204v1m0 195v1M1446.75 947v1m0 54v2m0 2v2m0 20v1m0 31v2m0 188v1m0 21v1m0 47v1m0 4v1m0 8v1m0 22v1m0 9v1M1472.93 951v1m0 52v2m0 45v2m0 109v1m0 82v1M1499.11 972v1m0 137v1m0 17v1m0 40v1m0 13v1m0 10v1m0 54v1m0 35v1M1525.29 894v1m0 285v2m0 1v1m0 16v1M1551.47 1001v1m0 42v1m0 22v1m0 51v2m0 81v1m0 59v1m0 65v1M1577.65 1009v2m0 1v1m0 16v2m0 2v1m0 45v1m0 2v5m0 65v2m0 22v1M1603.83 901v1m0 3v1m0 57v1m0 52v3m0 97v2m0 1v2m0 20v1m0 2v2m0 23v1m0 14v1m0 19v1m0 169v1M1630.01 934v2m0 182v1m0 23v2m0 6v1m0 9v1m0 42v1M1656.19 920v1m0 1v1m0 36v1m0 31v1m0 63v1m0 198v1m0 10v1m0 12v1m0 6v1m0 21v1m0 7v1m0 36v1M1682.37 895v1m0 18v2m0 5v2m0 1v1m0 6v1m0 64v1m0 102v2m0 3v1m0 26v1m0 8v1m0 95v1m0 155v2M1708.55 1114v2m0 213v2M1734.73 931v1m0 107v1m0 109v2m0 3v2m0 120v1m0 8v2m0 94v1M1760.91 928v1m0 3v1m0 22v1m0 189v1m0 30v1M1787.09 1214v1m0 25v2m0 5v2m0 19v1m0 9v2m0 4v1m0 4v1m0 22v1m0 29v1m0 17v2m0 27v1m0 9v1M1813.27 1210v2m0 10v2m0 38v2m0 14v2m0 63v1m0 5v1m0 44v1M1839.45 1239v1m0 22v2m0 12v1M1865.63 1240v2m0 45v2m0 88v2m0 18v1M1891.81 1032v1m0 59v2m0 193v2m0 54v1m0 33v2M1917.99 989v2m0 106v2m0 78v1m0 43v1m0 39v1m0 86v1M1944.17 1119v2m0 73v1M1970.35 1053v2M1996.53 913v1m0 299v1m0 11v1m0 96v1m0 12v1m0 31v1M2022.71 929v1m0 6v1m0 48v1m0 60v1m0 13v2m0 2v1"/>
<path stroke="#e76" d="M1001.69 923v1m0 46v2M1027.87 1320v1M1054.05 955v1M1106.41 1031v1M1184.95 996v1m0 34v1M1237.31 1006v2m0 57v1m0 10v1m0 69v2M1263.49 896v1m0 34v1M1289.67 974v2m0 57v1m0 42v1M1315.85 994v1M1342.03 1066v1M1368.21 1010v1M1394.39 958v2M1472.93 1013v1M1525.29 1384v2M1577.65 929v1m0 11v1m0 83v2M1603.83 1195v2M1656.19 1189v2M1682.37 1082v2M1813.27 1293v1M1839.45 1075v1M1865.63 932v2M1917.99 1044v2"/>
<path stroke="#e87" d="M1001.69 925v1m0 1v2m0 131v2m0 211v1M1237.31 1133v1M1368.21 910v1m0 113v1m0 26v2M1472.93 994v1M1551.47 898v1m0 232v1M1577.65 1338v1M1603.83 974v2M1682.37 1187v2M1813.27 1113v1m0 248v2M1865.63 1323v2M1944.17 1328v1"/>
<path stroke="#fee" d="M1001.69 929v1m0 33v1m0 167v1m0 24v1m0 43v1m0 194v2M1080.23 917v2m0 6v1m0 3v1m0 106v2M1132.59 1275v1m0 44v1M1211.13 954v1m0 14v1m0 3v1m0 155v1M1237.31 895v1m0 46v1m0 13v1m0 67v1m0 8v1m0 7v1M1263.49 1259v2M1289.67 904v1m0 224v1M1368.21 991v1M1394.39 919v2m0 42v1M1446.75 916v1m0 99v2M1472.93 1049v2m0 104v1M1499.11 934v1m0 366v1M1525.29 1151v1M1551.47 964v1m0 265v1M1603.83 965v2M1630.01 921v2m0 144v2M1656.19 929v1m0 394v1M1682.37 912v1M1708.55 1169v1M1734.73 913v1m0 50v1m0 164v1M1760.91 1039v1M1787.09 913v1m0 36v2m0 345v2m0 49v1M1813.27 902v3m0 36v1m0 54v1m0 19v2m0 24v1m0 6v2M1865.63 916v1m0 182v2m0 73v1m0 135v2M1917.99 1271v2m0 83v1M1944.17 917v2m0 11v1m0 11v1m0 136v1m0 87v2M1970.35 1114v2m0 48v1M1996.53 1351v1M2022.71 1055v1"/>
<path stroke="#bbe" d="M1001.69 938v1M1027.87 1250v1M1054.05 1183v1m0 2v1M1080.23 1084v2m0 8v2m0 1v2m0 5v1m0 4v1m0 1v2m0 12v1m0 6v1m0 5v1m0 7v2m0 9v3m0 15v1m0 4v2m0 2v1m0 1v1m0 33v1m0 25v1m0 4v2m0 1v1m0 19v2m0 4v2m0 8v2m0 39v1m0 2v2m0 26v2m0 10v2m0 3v1m0 7v2m0 3v2M1132.59 994v1m0 9v2m0 22v1m0 7v3m0 7v3m0 13v2m0 1v2m0 11v3m0 2v5m0 1v2m0 5v1m0 1v1m0 1v1m0 1v1m0 1v3m0 1v2m0 1v12m0 1v6m0 2v6m0 3v3m0 1v1m0 2v8m0 3v3m0 1v2m0 1v1m0 1v5m0 1v6m0 1v4m0 1v5m0 1v1m0 1v1m0 1v1m0 1v4m0 1v4m0 1v2m0 2v1m0 3v2m0 7v3m0 5v1m0 1v2m0 3v1m0 1v1m0 1v1m0 5v1m0 2v3m0 8v3m0 1v1m0 8v1m0 1v1m0 1v2m0 1v2m0 1v2m0 1v4m0 2v3m0 1v4m0 1v3m0 1v1m0 1v2m0 1v1m0 1v2m0 3v1m0 1v1m0 1v2m0 1v1m0 1v3m0 2v1m0 5v2m0 2v1m0 2v1m0 2v2m0 2v1m0 2v1m0 3v2m0 6v1m0 1v2m0 5v1m0 1v1m0 1v1m0 3v2m0 3v2m0 3v1M1158.77 1078v2m0 2v3m0 1v2m0 2v4m0 1v4m0 1v3m0 1v3m0 1v2m0 3v1m0 1v4m0 1v4m0 1v1m0 1v3m0 1v6m0 1v4m0 2v1m0 1v4m0 1v2m0 1v1m0 1v1m0 1v2m0 1v10m0 1v1m0 1v2m0 1v1m0 2v7m0 1v5m0 2v4m0 3v1m0 1v1m0 1v3m0 1v2m0 2v1m0 1v9m0 2v1m0 3v2m0 2v3m0 1v2m0 1v10m0 1v3m0 1v5m0 1v5m0 1v3m0 1v2m0 2v5m0 1v3m0 1v9m0 1v5m0 1v8m0 1v3m0 1v1m0 1v2m0 1v3m0 3v3m0 1v3m0 1v2m0 1v2m0 1v1m0 2v8m0 1v3m0 1v4m0 1v2m0 2v3m0 1v10m0 1v2m0 2v4m0 2v11M1237.31 1167v2M1289.67 1036v2M1342.03 1259v2M1394.39 1129v1M1446.75 896v1m0 3v1m0 3v1m0 5v1m0 21v6m0 1v3m0 8v2m0 6v2m0 3v9m0 8v1m0 2v2m0 3v1m0 110v2m0 4v2m0 7v2m0 2v1m0 4v2m0 1v1m0 2v1m0 10v2m0 4v2m0 3v3m0 2v1m0 1v3m0 3v3m0 8v1m0 2v4m0 1v2m0 4v5m0 1v2m0 10v2m0 1v9m0 1v1m0 1v5m0 1v4m0 1v1m0 1v4m0 1v1m0 2v1m0 1v5m0 1v2m0 1v2m0 1v2m0 3v8m0 1v1m0 1v3m0 2v3m0 2v3m0 2v1m0 1v5m0 1v2m0 1v3m0 1v3m0 1v6m0 1v4m0 1v1m0 1v2m0 1v1m0 1v1m0 1v5m0 2v5m0 3v3m0 1v1m0 3v6m0 1v1m0 3v2m0 2v1m0 1v1m0 1v5m0 1v3m0 1v6m0 2v1m0 1v4m0 1v3m0 1v1m0 1v1M1525.29 909v1m0 19v1m0 13v2m0 3v2m0 2v1m0 3v1m0 1v3m0 6v2m0 14v2m0 1v2m0 7v1m0 12v2m0 6v2m0 7v2m0 42v2m0 183v1m0 22v1m0 103v1M1551.47 1000v1m0 45v1m0 166v1m0 4v1m0 10v1m0 134v1m0 8v1m0 19v1M1630.01 939v2M1682.37 1036v2m0 140v2M1708.55 1125v1M1734.73 1191v1M1813.27 1031v1M1839.45 900v1m0 3v1m0 11v1m0 26v5m0 4v1m0 12v4m0 16v3m0 6v1m0 4v2m0 35v2m0 11v2m0 25v1m0 5v2m0 2v1m0 22v1m0 1v3m0 11v1m0 12v1m0 15v2m0 16v2m0 13v2m0 6v2m0 3v1m0 2v1m0 4v2M1891.81 1125v1m0 34v1M1917.99 1002v2m0 258v2M2022.71 899v2m0 9v1m0 1v1m0 6v3m0 1v1m0 1v2m0 3v1m0 8v1m0 2v1m0 5v1m0 1v1m0 6v1m0 9v1m0 1v1m0 4v1m0 3v1m0 7v2m0 3v1m0 3v1m0 1v2m0 10v1m0 6v2m0 3v2m0 1v1m0 8v3m0 6v1m0 10v2m0 12v2m0 6v1m0 11v2m0 5v2m0 5v2m0 2v2m0 7v2m0 23v1m0 1v1m0 2v2m0 3v1m0 10v1m0 2v1m0 5v1m0 63v3m0 1v2m0 1v2m0 32v1m0 40v1m0 16v2m0 5v2m0 12v2m0 21v1m0 5v1m0 3v1m0 10v1"/>
<path stroke="#ede" d="M1001.69 939v2M1289.67 1049v2M1472.93 1027v1m0 10v1M1499.11 1023v1M1551.47 1118v1M1656.19 1140v1M1682.37 1134v2M1787.09 1016v2M1813.27 927v2m0 28v1m0 53v1m0 2v1M1865.63 1033v1M1944.17 1016v2"/>
<path stroke="#e54" d="M1001.69 942v1m0 51v1M1027.87 900v1m0 5v1M1054.05 905v1m0 286v2M1080.23 905v1m0 160v1M1106.41 923v1M1132.59 1058v2M1158.77 911v1m0 40v1m0 107v2M1184.95 1011v1m0 26v1M1237.31 1012v1m0 237v1M1263.49 999v2m0 26v1m0 32v2M1289.67 932v2m0 78v1M1315.85 1049v2M1342.03 898v1m0 84v2m0 73v2m0 13v1m0 23v2M1368.21 1041v1m0 335v2M1394.39 1060v2m0 42v1m0 223v1M1420.57 999v2M1499.11 995v1m0 48v2M1525.29 1165v2M1551.47 1113v1M1577.65 1051v2m0 58v2m0 45v2M1603.83 924v1m0 107v1m0 66v2m0 29v1m0 27v2M1630.01 994v1m0 1v1m0 68v1M1682.37 894v1m0 4v1m0 54v1m0 164v2M1708.55 1014v1m0 81v1m0 55v2m0 154v2M1813.27 1336v2m0 31v1M1839.45 1214v1m0 56v2m0 1v1M1891.81 908v1m0 72v1m0 181v1M1917.99 1265v1m0 10v1m0 102v1M1944.17 1214v1m0 63v2m0 56v2m0 20v1M1970.35 1042v1m0 53v1M2022.71 1191v1m0 146v1"/>
<path stroke="#e89" d="M1001.69 948v2M1289.67 1011v1M1315.85 1013v1m0 5v2M1368.21 1065v1M2022.71 1348v1"/>
<path stroke="#fbb" d="M1001.69 955v1m0 58v1M1027.87 894v1m0 18v1m0 20v2m0 14v2m0 140v2M1054.05 924v1m0 66v1m0 19v1M1080.23 895v1m0 46v1m0 61v2m0 4v1m0 17v3M1106.41 926v1m0 55v1m0 42v2m0 38v1m0 161v1M1132.59 897v1m0 55v1m0 11v2m0 3v2m0 53v2m0 195v1m0 96v1M1158.77 1016v2m0 3v2m0 6v2m0 9v1m0 14v1m0 87v1m0 6v1M1184.95 964v1m0 26v1m0 20v1m0 14v1m0 167v2M1211.13 898v1m0 81v1m0 63v1m0 104v1m0 14v1m0 13v1M1237.31 954v1m0 54v1M1263.49 927v2m0 16v2m0 8v1m0 7v1m0 37v1M1289.67 952v1m0 20v1m0 4v2m0 14v1m0 29v1m0 9v2m0 11v2M1315.85 913v1m0 70v1m0 3v1m0 7v1m0 132v1m0 74v1m0 103v1M1342.03 1010v1m0 8v2m0 55v1m0 2v1M1368.21 941v1m0 107v2m0 58v1m0 60v2M1394.39 923v2m0 13v1m0 43v1M1420.57 1320v1M1446.75 955v1m0 85v1m0 2v2m0 30v1m0 210v1m0 91v1M1499.11 992v2m0 105v1m0 44v1m0 56v1M1525.29 921v2m0 66v2m0 120v2M1551.47 1026v1m0 207v1m0 64v1M1577.65 930v1m0 30v2m0 117v2m0 23v2m0 82v2m0 6v2M1603.83 913v1m0 109v1m0 42v1m0 6v1m0 17v1m0 41v1m0 51v1m0 197v1M1630.01 1010v1m0 27v1m0 17v2m0 82v1M1656.19 937v1m0 28v1m0 18v1m0 388v1M1682.37 1074v1m0 22v2m0 160v2M1708.55 941v1m0 15v1m0 23v1m0 7v2m0 113v1m0 13v1m0 19v1m0 1v1M1734.73 1079v1m0 29v1m0 13v2m0 9v4M1760.91 1077v1m0 31v1m0 45v1m0 46v1M1787.09 923v1m0 77v1m0 178v2m0 71v2m0 27v1m0 23v1m0 29v2M1813.27 924v1m0 30v1m0 26v1m0 35v3m0 12v3m0 4v1m0 3v2m0 18v1m0 12v1m0 97v1m0 26v1m0 37v2m0 27v2m0 6v1m0 103v1M1839.45 963v1m0 197v2M1865.63 910v1m0 12v1m0 190v2m0 2v1m0 19v1m0 19v2m0 31v1m0 47v1m0 31v2m0 78v2M1891.81 1013v1M1917.99 974v2m0 254v1m0 43v1m0 59v2M1944.17 910v1m0 61v1m0 13v2m0 58v1m0 11v2m0 15v1m0 1v1m0 48v1m0 74v1m0 18v1M1970.35 965v2m0 158v1m0 154v2m0 10v1m0 28v2m0 41v2M1996.53 997v1m0 237v1m0 64v1m0 2v1m0 55v1m0 1v1M2022.71 895v1m0 38v1"/>
<path stroke="#d9a" d="M1001.69 957v1m0 18v2M1027.87 1197v2m0 54v1m0 43v2m0 32v1M1054.05 1170v2M1080.23 1197v2m0 65v1M1132.59 1011v1m0 4v2m0 25v1M1158.77 941v1m0 25v2m0 14v2M1237.31 1025v2M1289.67 936v2m0 66v2M1315.85 1033v1M1342.03 894v1m0 50v2m0 97v2m0 65v2m0 8v2m0 62v1M1394.39 1290v2M1420.57 997v2m0 3v2M1446.75 898v1m0 13v1m0 6v4m0 31v1m0 2v1m0 15v1m0 8v1m0 109v2m0 31v1m0 68v1M1525.29 964v1m0 106v2m0 147v1m0 16v2m0 43v1m0 33v2M1551.47 897v1m0 58v1m0 173v1m0 1v1m0 34v2M1603.83 1014v1M1630.01 930v1m0 23v1m0 37v2m0 42v2m0 317v1M1656.19 1089v1m0 1v1m0 33v1M1734.73 1242v2M1839.45 936v2m0 94v1m0 204v2m0 73v1m0 12v2m0 19v2m0 22v1m0 9v1M1865.63 953v1M1891.81 931v1m0 248v2m0 52v2m0 14v1m0 102v2M1917.99 897v1m0 11v2m0 110v2m0 20v1m0 32v1m0 69v2m0 22v2M1944.17 974v2M1970.35 1210v2M2022.71 1014v1m0 265v2m0 12v1m0 65v2m0 6v1"/>
<path stroke="#e65" d="M1001.69 958v2m0 42v2m0 52v2M1027.87 942v1m0 130v1M1054.05 938v1m0 30v1m0 134v1m0 233v1m0 44v1M1080.23 960v1M1106.41 981v1M1132.59 1009v1M1158.77 1062v2M1184.95 1051v2m0 9v2M1237.31 980v1M1263.49 925v1m0 127v3m0 15v2M1289.67 895v1m0 135v1m0 6v1M1315.85 1076v1M1342.03 1001v1m0 114v2M1368.21 994v1m0 24v2m0 8v2M1394.39 1058v2M1446.75 926v1m0 272v1M1472.93 1028v1M1525.29 973v1M1551.47 895v1m0 31v2m0 212v1M1603.83 895v1m0 46v1m0 196v1M1630.01 1215v2M1682.37 907v1M1708.55 1004v2M1734.73 1043v1M1813.27 1217v2m0 12v2M1865.63 1253v1m0 65v1m0 33v2M1891.81 934v2m0 5v1m0 155v2M1944.17 1224v1M1970.35 1233v1m0 79v2m0 28v1m0 11v1M2022.71 1202v1m0 66v2"/>
<path stroke="#f98" d="M1001.69 965v2M1027.87 972v1m0 15v1M1054.05 1184v1M1080.23 1336v2M1106.41 947v1M1132.59 991v1M1263.49 910v1m0 15v1M1289.67 957v1m0 34v2M1342.03 1034v2M1368.21 1056v2M1446.75 943v2m0 258v1M1499.11 1038v1M1656.19 1164v1M1682.37 1086v1M1839.45 1358v1M1865.63 1097v2M1917.99 924v1m0 472v1M1944.17 913v1m0 454v1"/>
<path stroke="#eaa" d="M1001.69 978v2M1027.87 1215v2M1054.05 960v1m0 118v1M1158.77 1044v2M1263.49 969v1m0 41v1M1289.67 927v2m0 70v2M1315.85 1065v1M1342.03 1056v2m0 9v2M1420.57 1075v1M1446.75 929v1M1472.93 1025v2M1499.11 1074v1M1551.47 938v1m0 168v2m0 29v1M1630.01 914v2M1734.73 912v1M1813.27 897v1m0 65v1m0 419v1M1865.63 942v1m0 9v1M1944.17 1051v2M2022.71 1217v2"/>
<path stroke="#e9a" d="M1001.69 980v1M1080.23 1149v1M1132.59 1034v2M1184.95 917v2M1289.67 1184v1M1315.85 1039v1m0 31v2M1420.57 1056v2m0 7v1M1472.93 1001v1m0 12v1m0 6v2m0 30v2M1499.11 1039v1M1551.47 909v1m0 57v2m0 118v3m0 71v2m0 2v2M1656.19 1191v1M1813.27 980v1M1944.17 978v2m0 395v1"/>
<path stroke="#ebc" d="M1001.69 981v1m0 97v1M1132.59 1031v1M1237.31 1016v2M1289.67 911v1m0 238v1m0 16v2M1315.85 1024v1m0 50v1M1420.57 1011v1m0 7v2m0 8v2M1472.93 1073v1m0 2v1M1499.11 1019v2m0 7v1m0 42v2M1551.47 908v1m0 260v1M1656.19 1114v2M1787.09 914v2m0 16v2m0 58v2M1839.45 941v1M1865.63 1034v2m0 308v2M1944.17 1014v1"/>
<path stroke="#e78" d="M1001.69 983v2"/>
<path stroke="#77c" d="M1001.69 985v1m0 92v1m0 22v3m0 3v2m0 9v1m0 7v3m0 3v1m0 15v1m0 2v1m0 23v1m0 1v1m0 4v1m0 2v1m0 19v2m0 1v4m0 10v2m0 58v1m0 4v2m0 5v1m0 20v1m0 56v2m0 1v1m0 16v3M1027.87 960v1M1054.05 1217v2m0 3v2m0 6v1m0 16v2m0 10v2m0 45v2m0 68v1m0 4v1m0 5v2m0 9v1M1106.41 963v1M1132.59 980v1M1158.77 1010v1M1184.95 1078v2m0 6v4m0 2v2m0 10v1m0 9v2m0 5v2m0 2v2m0 19v2m0 4v2m0 2v2m0 2v5m0 4v1m0 8v2m0 5v2m0 4v3m0 3v2m0 5v1m0 2v1m0 4v2m0 7v1m0 2v1m0 12v2m0 1v2m0 2v5m0 2v2m0 13v1m0 4v2m0 2v1m0 16v1m0 11v2m0 1v1m0 4v1m0 2v1m0 3v4m0 4v1m0 1v2m0 26v1m0 1v5m0 4v1m0 6v1m0 5v1m0 4v3m0 1v4m0 5v1M1237.31 917v2m0 173v2m0 11v2m0 11v1m0 10v1m0 8v1m0 11v1m0 5v1m0 1v3m0 23v1m0 7v2m0 19v1m0 3v2m0 28v2m0 28v1m0 6v1m0 4v1m0 4v1m0 5v2m0 8v2m0 1v2m0 6v2m0 25v1m0 2v2m0 7v2M1263.49 943v2m0 19v1m0 113v1m0 1v6m0 5v3m0 5v4m0 2v4m0 10v2m0 6v3m0 2v1m0 11v4m0 1v1m0 4v2m0 2v3m0 3v1m0 7v3m0 2v1m0 4v4m0 3v3m0 7v1m0 2v2m0 4v2m0 2v2m0 1v2m0 5v3m0 3v5m0 7v4m0 6v1m0 4v4m0 7v3m0 6v1m0 2v2m0 5v2m0 2v3m0 3v1m0 3v1m0 20v3m0 5v1m0 3v4m0 5v1m0 1v1m0 4v1m0 2v2m0 11v4m0 2v1m0 1v2m0 2v3m0 1v1m0 9v2m0 2v1m0 4v1M1289.67 1079v3m0 9v1m0 5v2m0 5v1m0 4v2m0 8v2m0 2v2m0 11v2m0 1v2m0 5v4m0 2v2m0 40v1m0 7v2m0 1v2m0 3v2m0 5v2m0 2v1m0 3v2m0 1v3m0 6v3m0 6v1m0 6v1m0 12v1m0 7v2m0 2v2m0 16v1m0 3v2m0 2v1m0 10v1m0 2v1m0 1v1m0 17v1m0 3v2m0 9v2m0 1v1m0 2v5m0 5v1m0 4v1m0 1v1m0 7v2m0 1v2m0 8v3M1368.21 914v2m0 62v2m0 98v1m0 13v2m0 11v2m0 11v1m0 6v1m0 12v1m0 11v1m0 6v1m0 19v1m0 4v1m0 17v2m0 2v1m0 39v2m0 1v2m0 45v1m0 15v2m0 9v2m0 6v2m0 3v2m0 59v2M1446.75 995v1m0 33v2M1577.65 908v1m0 80v2m0 191v1m0 24v1m0 2v2m0 5v2m0 3v3m0 9v3m0 7v2m0 4v1m0 8v2m0 4v1m0 19v2m0 2v1m0 9v1m0 10v3m0 3v2m0 2v1m0 4v3m0 8v2m0 11v1m0 1v2m0 2v1m0 2v1m0 3v2m0 16v1m0 8v1m0 2v2M1603.83 921v3m0 203v2m0 88v2m0 8v1m0 3v2m0 3v1m0 5v2m0 15v2m0 12v3m0 2v2m0 4v1m0 20v1m0 1v1m0 5v2m0 6v2m0 2v2m0 7v2m0 43v2m0 1v1m0 1v2m0 9v2M1630.01 1217v2m0 1v1m0 15v1m0 30v1m0 17v2m0 2v1m0 12v2m0 4v2m0 19v2m0 20v2m0 33v3m0 3v2M1682.37 1011v1m0 22v2m0 2v1m0 7v1m0 20v2m0 7v1m0 79v1m0 45v1m0 12v2m0 7v1m0 17v2m0 6v1m0 11v3m0 10v2m0 6v1m0 6v2m0 2v1m0 2v3m0 15v1m0 2v1m0 4v2m0 4v2m0 13v5m0 11v2m0 2v2m0 2v1m0 21v2m0 7v1M1708.55 1172v2M1734.73 1210v2m0 84v1m0 3v2m0 13v1m0 5v2m0 5v1m0 39v1m0 15v2m0 1v2m0 1v4m0 6v2M1787.09 1091v1m0 99v1m0 39v2m0 36v2m0 104v1M1813.27 1127v2m0 4v1m0 17v1m0 35v2m0 66v2m0 19v1m0 81v1m0 21v1m0 6v2M1865.63 905v1m0 67v1m0 183v1m0 26v1m0 4v2m0 46v2m0 67v1m0 22v2m0 31v2M1917.99 1210v2m0 96v2M1944.17 950v2m0 196v1m0 2v1m0 24v1m0 15v2m0 13v1m0 36v2m0 13v2m0 7v1m0 41v2m0 4v2m0 1v1m0 21v1m0 1v1m0 13v1m0 1v1m0 32v2M1970.35 894v1m0 10v1m0 4v1m0 13v1m0 28v1m0 6v1m0 28v2m0 287v2m0 68v1m0 41v2m0 5v1"/>
<path stroke="#eba" d="M1001.69 989v2"/>
<path stroke="#eee" d="M1001.69 996v1M1472.93 1008v1M1499.11 1049v4M1787.09 999v2"/>
<path stroke="#969" d="M1001.69 1006v2m0 193v2m0 46v1m0 4v1M1054.05 1284v1m0 107v2M1184.95 1150v1m0 199v1M1237.31 1366v2m0 30v1M1263.49 1136v2m0 124v2m0 9v1m0 36v2m0 85v1M1289.67 1207v1m0 6v1m0 18v1m0 30v1m0 60v2m0 37v2M1368.21 1300v2m0 96v1M1394.39 908v1M1577.65 978v2m0 168v1m0 70v1m0 46v1m0 28v1m0 88v2M1603.83 1213v1m0 52v1m0 82v1m0 27v2M1630.01 1246v1m0 102v1M1682.37 1217v2m0 74v1m0 61v2M1734.73 1278v2m0 39v1m0 56v1m0 5v1M1787.09 1075v1M1813.27 906v1m0 443v1m0 46v1M1917.99 1295v1M1944.17 1290v2m0 79v1M1970.35 930v1"/>
<path stroke="#44a" d="M1001.69 1009v1M1054.05 900v1M1080.23 950v2m0 33v1m0 9v1M1106.41 952v1m0 21v2m0 88v1M1132.59 926v1m0 4v1m0 54v2M1158.77 1012v1m0 26v1m0 7v2m0 15v1M1184.95 938v1M1237.31 897v1m0 4v2m0 25v1m0 44v2M1263.49 898v1m0 2v1m0 4v1m0 43v2M1368.21 898v1m0 43v1m0 45v1M1394.39 905v1m0 33v2m0 4v2m0 26v1m0 4v2m0 26v2M1446.75 992v2m0 20v1M1525.29 1094v2m0 3v2m0 73v1m0 20v2M1577.65 923v1m0 23v1m0 21v1m0 4v2m0 47v1m0 3v1m0 34v2m0 28v2m0 45v1m0 43v1m0 20v1M1603.83 925v1m0 28v1m0 9v1m0 88v2m0 52v2m0 88v2m0 4v1M1630.01 1082v2m0 32v2m0 8v1m0 4v1m0 32v1M1682.37 1161v2m0 26v2m0 12v1M1708.55 1177v1m0 9v2M1734.73 1097v2m0 14v1m0 5v2m0 23v2m0 26v2m0 12v1M1787.09 1079v1m0 9v1m0 15v2m0 9v2m0 1v2m0 33v2m0 2v2m0 3v1m0 13v1m0 96v2m0 83v1m0 32v2M1813.27 1082v2m0 21v2m0 2v1m0 8v1m0 17v2m0 19v3m0 4v3m0 22v2m0 28v1m0 5v2m0 70v2m0 14v2m0 5v1m0 2v2m0 64v1M1865.63 1089v1m0 1v1m0 9v2m0 4v2m0 21v1m0 1v1m0 3v2m0 6v2m0 15v2m0 32v2m0 123v1m0 4v2m0 5v4m0 58v1M1917.99 1212v1m0 51v1m0 53v1m0 6v2m0 45v2m0 13v2M1944.17 1084v2m0 11v2m0 32v1m0 2v5m0 21v1m0 4v2m0 10v1m0 21v1m0 3v1m0 1v2"/>
<path stroke="#aad" d="M1001.69 1021v2m0 59v2m0 10v2m0 25v2m0 146v2m0 13v1M1027.87 994v5m0 3v2m0 4v1m0 3v1m0 3v2m0 1v2m0 4v3m0 1v2m0 3v2m0 5v1m0 2v2m0 1v2m0 2v2m0 2v1m0 6v3m0 4v4m0 1v2m0 4v2m0 4v1m0 2v1m0 11v2m0 8v3m0 2v2m0 1v6m0 6v2m0 5v3m0 1v2m0 4v4m0 4v1m0 1v2m0 1v2m0 2v2m0 2v1m0 2v2m0 2v4m0 2v1m0 3v1m0 7v1m0 6v1m0 25v1m0 2v1m0 3v2m0 3v1m0 11v2m0 1v1m0 2v4m0 1v3m0 4v2m0 2v1m0 3v1m0 5v2m0 10v1m0 4v2m0 10v1m0 2v3m0 7v2m0 7v2m0 3v3m0 6v1m0 20v1m0 1v1m0 9v3m0 5v1m0 2v2M1054.05 1163v1m0 51v2m0 36v1m0 132v1M1080.23 1062v2m0 16v2m0 36v1m0 7v1m0 23v1m0 13v1m0 13v2m0 7v4m0 13v1m0 16v1m0 28v1m0 6v2m0 12v2m0 9v1m0 36v1m0 5v2m0 5v2m0 9v1m0 26v1m0 5v1m0 12v1M1106.41 1202v1m0 58v1m0 16v2M1132.59 1095v1m0 43v1m0 22v1m0 2v1m0 25v1M1158.77 894v1m0 2v1m0 10v1m0 1v1m0 6v2m0 2v2m0 4v3m0 9v2m0 2v2m0 5v2m0 3v1m0 1v1m0 3v2m0 1v1m0 11v2m0 107v1m0 8v1m0 12v1m0 2v2m0 2v1m0 4v1m0 58v1m0 46v1m0 3v1m0 42v1m0 2v1m0 6v1m0 34v1m0 6v1m0 36v1M1263.49 1090v1m0 215v1m0 51v1M1289.67 1086v1m0 55v4m0 15v2m0 99v2M1342.03 897v1m0 4v3m0 2v1m0 3v2m0 12v1m0 4v1m0 1v4m0 3v3m0 1v2m0 3v5m0 2v1m0 4v3m0 4v2m0 3v1m0 5v3m0 8v3m0 86v1m0 13v2m0 2v1m0 7v1m0 2v3m0 9v2m0 8v2m0 1v2m0 7v1m0 21v1m0 18v2m0 8v2m0 1v4m0 2v1m0 1v1m0 1v3m0 4v1m0 4v4m0 1v2m0 1v2m0 3v1m0 5v6m0 5v2m0 4v1m0 7v4m0 1v1m0 1v1m0 5v2m0 1v3m0 2v1m0 2v2m0 3v2m0 1v2m0 1v1m0 3v2m0 5v3m0 2v1m0 2v4m0 2v2m0 6v2m0 1v2m0 2v2m0 1v2m0 1v2m0 2v5m0 2v2m0 2v2m0 5v4m0 2v4m0 6v1m0 3v2m0 1v2m0 3v2m0 4v1M1368.21 1130v1M1394.39 1078v1m0 10v1m0 75v2M1446.75 1253v1m0 32v1m0 107v1M1525.29 895v1m0 5v1m0 22v3m0 7v4m0 1v2m0 1v1m0 27v2m0 40v2m0 18v1m0 31v1m0 143v4m0 2v1m0 6v3m0 1v3m0 3v2m0 9v7m0 4v1m0 7v6m0 1v1m0 2v2m0 1v2m0 4v2m0 1v1m0 5v4m0 2v2m0 5v2m0 1v1m0 2v2m0 9v1m0 1v2m0 2v2m0 1v1m0 3v2m0 5v2m0 1v4m0 2v1m0 6v4m0 3v9m0 1v4m0 1v2m0 4v1m0 2v8m0 1v2m0 1v1m0 1v2M1577.65 1087v2m0 91v2m0 57v1M1603.83 1033v1m0 188v2M1630.01 910v1m0 6v2m0 10v1m0 33v1m0 6v2m0 13v1m0 42v1m0 13v1m0 10v3m0 15v2m0 114v2m0 91v2m0 71v2M1682.37 1389v1M1708.55 914v2m0 374v2m0 54v2M1734.73 909v2m0 5v1m0 4v2m0 1v2m0 10v2m0 1v2m0 2v2m0 7v2m0 3v1m0 5v1m0 10v2m0 6v1m0 241v1m0 36v1M1787.09 895v1m0 51v3m0 8v2m0 26v2m0 48v2m0 4v1m0 37v2m0 67v1M1813.27 973v1m0 25v2m0 399v2M1839.45 899v1m0 8v2m0 2v2m0 3v2m0 5v1m0 4v1m0 8v1m0 11v2m0 5v1m0 6v1m0 7v1m0 23v1m0 30v2m0 4v1m0 12v1m0 17v1m0 9v1m0 26v3m0 1v2m0 16v2m0 4v2m0 8v1m0 4v4m0 26v1m0 5v2m0 12v1m0 17v1m0 6v1m0 7v1m0 5v3m0 30v1m0 6v1m0 4v2m0 7v2m0 4v1m0 1v1m0 1v2m0 19v1m0 1v3m0 4v1m0 1v2m0 5v2m0 10v1m0 19v1m0 10v1m0 15v2m0 1v1M1865.63 900v1m0 3v1m0 26v1m0 133v1m0 180v1M1891.81 901v1m0 3v1m0 6v1m0 13v1m0 16v2m0 3v2m0 10v1m0 6v2m0 11v1m0 31v1m0 5v1m0 2v2m0 4v1m0 8v2m0 20v2m0 4v1m0 25v1m0 5v1m0 10v2m0 1v1m0 21v1m0 9v2m0 14v2m0 39v1m0 2v1m0 1v1m0 89v1m0 41v2m0 51v1M1917.99 902v2m0 8v1m0 13v1m0 9v3m0 18v1m0 2v1m0 8v1m0 13v2m0 9v2m0 12v1m0 1v1m0 2v1m0 13v1m0 3v2m0 6v1m0 9v2m0 4v1m0 9v1m0 14v2m0 2v2m0 4v1m0 8v4m0 1v1m0 2v2m0 4v1m0 11v1m0 6v7m0 2v3m0 4v1m0 1v2m0 2v2m0 1v1m0 2v1m0 2v1m0 3v2m0 15v1m0 1v1m0 10v2M1944.17 911v1m0 68v1m0 34v1m0 40v2m0 150v2m0 17v1m0 138v2m0 1v1M1970.35 1039v1m0 9v2m0 109v1m0 218v1"/>
<path stroke="#55b" d="M1001.69 1036v2M1054.05 925v1M1080.23 996v1m0 17v1m0 34v2m0 9v2m0 11v1M1158.77 996v1m0 4v1m0 34v2m0 37v1M1237.31 961v2m0 249v1m0 48v1m0 43v1m0 73v1M1263.49 941v1m0 30v1M1289.67 1075v1M1368.21 912v1m0 8v2m0 7v1m0 34v2m0 5v1m0 12v1m0 239v2m0 35v2m0 28v1m0 53v2M1394.39 950v2m0 49v1M1446.75 1062v2M1577.65 902v2m0 17v2m0 41v1m0 2v2m0 7v2m0 96v1m0 21v1m0 17v2M1603.83 952v1m0 43v3m0 14v1m0 13v1m0 15v1M1630.01 1107v2M1682.37 911v1m0 62v2m0 173v1m0 7v1m0 9v2M1708.55 1090v1m0 12v1m0 52v1m0 21v2M1734.73 1107v2m0 47v1M1787.09 1094v2m0 7v1m0 34v1m0 1v1m0 16v1m0 9v2m0 6v1m0 58v2m0 19v2m0 35v1m0 60v2M1813.27 908v1m0 8v2m0 45v1m0 122v2m0 41v1m0 9v1m0 11v2m0 16v2m0 19v3m0 105v1m0 86v1M1865.63 1080v2m0 4v1m0 16v1m0 19v2m0 24v1m0 2v2m0 6v1m0 2v1m0 12v1m0 22v1m0 12v1m0 4v2m0 48v1m0 6v1m0 94v1m0 6v1M1917.99 1312v1m0 16v2M1944.17 906v1m0 20v2m0 210v1m0 34v1m0 14v2"/>
<path stroke="#957" d="M1001.69 1041v1M1394.39 965v2M1577.65 898v1m0 157v2m0 63v2M1603.83 1060v2M1708.55 1099v2M1787.09 1127v2M1917.99 1207v1m0 31v1m0 14v1"/>
<path stroke="#a8b" d="M1001.69 1042v1m0 90v1m0 247v1M1054.05 1013v1m0 313v1M1132.59 932v2M1158.77 1015v1M1184.95 1142v2m0 61v2m0 1v2m0 44v1m0 86v1m0 11v2M1237.31 1104v1m0 37v2m0 200v2m0 18v2M1263.49 930v1m0 148v1m0 54v2m0 20v1m0 89v1m0 33v2m0 75v1M1289.67 1087v2m0 88v1m0 23v1m0 82v1m0 31v2m0 23v1M1368.21 1111v2m0 29v2m0 32v1m0 25v1M1394.39 961v2m0 250v1m0 17v2m0 159v2M1577.65 938v1m0 294v1m0 13v2m0 64v2M1603.83 1306v1m0 13v1m0 55v1M1630.01 1283v1m0 93v2m0 16v2M1682.37 1019v4m0 4v1m0 82v1m0 166v1m0 27v1m0 76v1M1708.55 942v1m0 97v1m0 143v1M1734.73 1004v2m0 221v1m0 22v1m0 107v1M1787.09 964v1m0 15v1m0 10v1m0 39v1m0 97v1m0 16v2M1813.27 925v1m0 6v2m0 49v2M1865.63 969v1m0 149v2m0 218v2M1917.99 1233v1M1944.17 1047v2m0 11v2m0 41v1m0 1v2m0 16v2m0 59v1m0 46v2m0 67v2m0 11v2m0 38v2m0 1v1M1970.35 999v2m0 96v2m0 155v1m0 29v1m0 38v2m0 7v2"/>
<path stroke="#d33" d="M1001.69 1049v2m0 196v2M1027.87 897v1m0 75v1m0 7v1m0 22v2m0 50v2m0 109v2m0 77v1m0 66v2m0 41v1M1054.05 894v1m0 3v1m0 18v2m0 10v1m0 2v2m0 39v1m0 14v1m0 89v1m0 20v2m0 22v2m0 26v1m0 140v1m0 73v2m0 27v2M1080.23 901v1m0 11v1m0 18v2m0 7v1m0 32v2m0 10v2m0 6v1m0 70v1m0 201v1m0 131v1M1106.41 913v1m0 22v2m0 7v2m0 1v2m0 17v2m0 7v2m0 23v1m0 12v2m0 18v2m0 8v2m0 118v1M1132.59 907v1m0 1v1m0 3v1m0 20v2m0 14v2m0 30v1m0 124v1m0 138v1m0 130v1M1158.77 980v1m0 23v4m0 81v1m0 110v1m0 61v1m0 101v1m0 25v1M1184.95 896v1m0 17v2m0 51v2m0 26v1m0 5v1m0 4v2m0 58v1m0 2v2M1211.13 1205v1m0 53v1m0 140v1M1237.31 898v1m0 1v1m0 33v2m0 12v2m0 31v1m0 271v1m0 11v1M1263.49 939v2m0 26v2m0 9v2m0 8v1m0 42v1m0 64v1M1289.67 913v1m0 366v2M1315.85 1012v1m0 10v1m0 82v1M1342.03 1069v2m0 65v2m0 66v1M1368.21 963v1m0 418v1M1394.39 899v1m0 42v1m0 9v1m0 3v1m0 29v2m0 26v1m0 14v2m0 31v2m0 9v1m0 192v1m0 81v1M1446.75 999v2m0 3v2m0 250v1m0 13v1m0 11v1m0 58v1m0 19v1M1472.93 923v1m0 88v1m0 33v1m0 92v1M1499.11 1065v1m0 14v1m0 23v1M1525.29 897v1m0 225v2m0 39v1m0 10v1m0 137v2M1551.47 900v1m0 119v1m0 52v1m0 157v2m0 57v1m0 20v1M1577.65 943v2m0 74v2m0 48v2m0 58v1m0 3v1m0 27v2M1603.83 897v1m0 74v1m0 26v2m0 181v1M1630.01 906v1m0 53v1m0 8v1m0 126v1m0 13v1m0 89v1m0 181v1M1656.19 1075v1m0 28v1m0 16v2m0 203v1m0 27v1m0 43v1M1682.37 941v1m0 19v2m0 179v2m0 28v2M1708.55 964v1m0 115v2m0 45v2m0 75v1m0 126v1M1734.73 1103v1m0 56v1m0 28v2m0 43v2M1760.91 1002v1m0 115v1m0 49v1m0 16v1m0 9v1M1787.09 1227v1m0 45v1m0 112v1M1813.27 1249v1m0 11v1m0 11v1m0 20v1m0 5v2M1839.45 1349v1M1865.63 902v2m0 21v1m0 325v2m0 15v1m0 8v1m0 24v2m0 42v2M1891.81 913v1m0 59v1m0 368v1m0 44v2M1917.99 905v1m0 8v2m0 57v1m0 59v1m0 206v2m0 13v2m0 9v1m0 52v1M1944.17 1089v1m0 256v2m0 38v1M1970.35 1217v2m0 91v2m0 65v2M1996.53 1175v1m0 44v1m0 9v1m0 142v1m0 1v1M2022.71 952v1m0 29v1m0 175v2m0 4v1m0 49v1m0 24v1m0 72v3"/>
<path stroke="#a68" d="M1001.69 1065v1m0 20v1m0 91v2m0 4v1m0 22v1m0 98v1m0 41v1M1054.05 1280v2M1106.41 924v1m0 2v2m0 49v2M1184.95 1082v2m0 46v1m0 177v2m0 8v1M1237.31 1164v1m0 66v2m0 24v2M1263.49 1116v2m0 103v1M1368.21 936v2m0 308v1m0 122v1m0 24v1M1394.39 954v1M1525.29 1119v2m0 40v2M1577.65 963v1m0 113v1m0 184v2m0 75v2m0 23v2M1603.83 910v1m0 313v1m0 87v1m0 33v2M1630.01 1111v2M1682.37 1274v1m0 10v2m0 15v2m0 6v2M1734.73 1080v2m0 158v2m0 57v1m0 5v1m0 36v1M1813.27 1150v1M1865.63 1008v1m0 117v1M1917.99 1306v1M1944.17 1327v1m0 56v2M1970.35 947v1"/>
<path stroke="#b8a" d="M1001.69 1080v2M1027.87 1023v1m0 36v2m0 3v1m0 86v2m0 30v1m0 81v1m0 39v1m0 36v1m0 51v2M1054.05 1049v2m0 206v2m0 101v2m0 22v2M1080.23 1079v1m0 2v2m0 150v2m0 53v1m0 60v1m0 44v2M1106.41 1176v1m0 193v1m0 29v2M1158.77 901v3m0 69v1M1184.95 1264v1M1263.49 1269v2M1342.03 905v1m0 176v2m0 19v1m0 21v1m0 35v2m0 2v2m0 20v2m0 44v1m0 17v2m0 12v1m0 21v2m0 17v1m0 18v3m0 16v2m0 37v1m0 5v1m0 7v1M1368.21 900v1m0 268v1m0 4v1M1394.39 1121v2m0 16v1m0 38v2m0 25v2m0 148v1M1446.75 1058v2M1525.29 913v1m0 36v2m0 9v2m0 22v1m0 227v1m0 14v2m0 130v2m0 9v1M1577.65 1296v1m0 82v1M1630.01 986v2m0 74v2m0 10v1m0 11v1m0 174v1M1682.37 1004v2m0 65v2m0 239v1M1708.55 983v2m0 223v2m0 12v3m0 161v1m0 8v2M1734.73 1015v1m0 220v1m0 43v2m0 56v1m0 33v2M1787.09 1131v1M1813.27 895v1M1839.45 914v2m0 3v2m0 27v2m0 39v2m0 184v1m0 77v1m0 7v1m0 5v1m0 34v2m0 2v1m0 52v1m0 32v2M1865.63 992v2M1891.81 900v1m0 113v1m0 45v2m0 14v1m0 3v2m0 196v2M1917.99 942v1m0 27v2m0 25v2m0 17v3m0 56v1m0 33v1m0 48v2m0 1v2M1970.35 914v2m0 18v2m0 218v2m0 81v2m0 66v1m0 22v1"/>
<path stroke="#c8a" d="M1001.69 1084v2m0 141v1m0 43v2m0 93v2M1027.87 1006v2m0 2v1m0 4v1m0 15v2m0 3v2m0 38v1m0 22v2m0 25v1m0 6v1m0 61v2m0 31v2m0 45v1m0 13v1m0 20v2M1054.05 1023v1m0 47v2m0 237v2M1080.23 1043v1m0 46v1m0 12v1m0 17v2m0 11v4m0 3v1m0 63v2m0 1v2m0 2v1m0 17v1m0 8v1m0 22v2m0 5v2m0 6v1m0 17v1m0 16v1m0 2v1m0 7v2m0 21v2M1106.41 1078v1m0 10v1m0 104v1m0 24v1m0 14v2m0 56v1m0 15v4m0 1v2m0 4v1m0 38v1m0 21v1M1132.59 1023v1m0 40v1m0 9v1M1158.77 913v1m0 18v2M1184.95 1105v2m0 173v2M1237.31 1109v1m0 17v2m0 45v1m0 26v1M1289.67 1065v1m0 64v1m0 10v1m0 32v1m0 16v1m0 185v2M1342.03 900v1m0 56v1m0 173v1m0 16v1m0 7v1m0 89v1m0 58v1m0 32v1m0 55v3M1368.21 1046v1m0 74v2m0 90v1m0 5v1m0 16v3m0 77v2M1394.39 1082v4m0 1v2m0 20v1m0 21v1m0 4v2m0 56v1m0 100v1M1446.75 953v1m0 71v2m0 74v3m0 30v6m0 21v2M1525.29 899v1m0 16v1m0 14v1m0 143v1m0 208v1m0 2v2m0 26v1M1551.47 1078v1M1577.65 1213v1m0 59v1m0 10v1M1603.83 1359v1M1630.01 916v1m0 28v2m0 10v1m0 14v1m0 16v2m0 10v1M1682.37 902v2m0 91v1m0 253v1m0 16v1m0 46v2m0 59v1m0 11v1M1708.55 896v1m0 46v2m0 8v1m0 2v1m0 10v2m0 106v1m0 189v1m0 38v1m0 10v1m0 9v2M1734.73 894v1m0 7v2m0 54v2m0 10v2m0 4v2m0 247v2m0 104v1M1787.09 925v1m0 143v2M1813.27 926v1m0 138v1m0 63v1M1839.45 901v1m0 40v1m0 100v1m0 53v2m0 19v1m0 38v1m0 55v1m0 3v2m0 136v1m0 26v1M1865.63 901v1M1891.81 953v1m0 11v2m0 44v1m0 54v1m0 37v1m0 18v2m0 64v2m0 36v1m0 85v2m0 59v2M1917.99 904v1m0 45v2m0 4v1m0 172v1M1944.17 1092v2m0 123v2m0 42v1m0 42v1m0 75v1M1970.35 1080v2m0 7v1m0 11v2m0 47v1m0 123v1m0 52v1M2022.71 1132v1m0 66v1m0 3v1m0 16v1m0 54v1"/>
<path stroke="#99d" d="M1001.69 1087v2m0 40v1m0 6v2m0 4v2m0 10v2m0 20v1m0 14v1m0 3v2m0 22v1m0 41v3m0 1v1m0 2v1m0 7v1m0 12v1m0 12v2m0 42v2m0 3v2m0 7v2M1054.05 992v3m0 2v5m0 4v2m0 2v1m0 5v3m0 6v3m0 3v2m0 1v2m0 4v1m0 1v4m0 16v2m0 5v2m0 2v1m0 10v2m0 8v3m0 8v2m0 26v3m0 24v1m0 11v2m0 2v2m0 2v2m0 9v1m0 3v2m0 3v1m0 3v1m0 23v2m0 39v2m0 48v1m0 1v2m0 5v1m0 29v1m0 18v2m0 1v1m0 8v1M1106.41 902v2m0 175v5m0 7v1m0 18v3m0 1v2m0 3v10m0 1v1m0 3v2m0 3v1m0 1v1m0 7v3m0 11v1m0 5v1m0 2v4m0 9v1m0 3v2m0 10v1m0 1v4m0 1v2m0 4v3m0 4v3m0 1v2m0 1v3m0 2v1m0 2v4m0 7v3m0 3v6m0 3v2m0 2v1m0 1v1m0 4v2m0 1v1m0 13v2m0 1v1m0 8v2m0 12v2m0 2v1m0 8v5m0 5v5m0 4v5m0 2v2m0 7v4m0 3v1m0 3v1m0 3v1m0 1v2m0 1v2m0 1v2m0 3v6m0 1v1M1184.95 1111v2m0 16v1m0 125v2m0 91v1M1237.31 1080v2m0 52v2m0 4v1m0 16v1M1263.49 1152v2m0 138v1M1289.67 1105v2m0 62v3m0 6v2m0 7v2m0 108v2m0 45v2m0 20v2M1368.21 1107v2m0 86v2m0 72v2m0 54v2M1394.39 904v1m0 186v1m0 2v2m0 3v5m0 1v4m0 1v3m0 3v2m0 1v2m0 2v2m0 2v2m0 4v1m0 4v1m0 1v1m0 1v8m0 1v1m0 4v1m0 1v2m0 4v1m0 5v5m0 1v2m0 4v3m0 2v2m0 6v2m0 2v2m0 1v1m0 1v1m0 15v1m0 23v2m0 1v2m0 10v2m0 17v4m0 7v1m0 6v1m0 35v2m0 2v2m0 13v2m0 3v1m0 11v1m0 11v1m0 6v2M1577.65 1215v2M1603.83 1041v1m0 226v1M1630.01 895v1m0 46v1m0 71v1m0 6v3m0 17v1m0 22v1m0 1v1m0 140v1m0 32v4m0 62v1m0 9v2m0 30v1M1682.37 1066v1m0 8v1M1708.55 894v1m0 2v2m0 2v1m0 17v2m0 3v1m0 1v4m0 2v2m0 5v2m0 6v1m0 7v1m0 14v3m0 15v1m0 7v1m0 9v2m0 1v1m0 9v5m0 4v1m0 12v2m0 1v2m0 3v6m0 5v2m0 4v1m0 2v2m0 48v2m0 89v2m0 2v8m0 3v6m0 3v2m0 3v1m0 4v5m0 8v2m0 7v5m0 2v1m0 3v1m0 2v7m0 9v3m0 1v4m0 2v1m0 9v3m0 2v2m0 4v2m0 5v7m0 1v1m0 5v1m0 4v2m0 1v1m0 1v1m0 7v3m0 3v2m0 1v1m0 1v3m0 1v1m0 1v3m0 4v5m0 4v3M1734.73 965v2m0 30v2m0 2v3m0 6v1m0 2v2m0 3v1m0 4v1m0 1v2m0 1v3m0 1v7m0 5v3m0 15v2m0 2v3m0 2v2m0 1v2m0 1v1m0 114v2M1787.09 917v2M1813.27 936v2m0 113v2m0 25v1m0 196v1M1865.63 1127v2M1891.81 894v1m0 19v2m0 7v1m0 12v2m0 20v2m0 23v2m0 24v1m0 14v3m0 13v1m0 12v2m0 14v2m0 3v1m0 16v1m0 17v1m0 8v1m0 25v2m0 24v2m0 3v1m0 15v1m0 2v1m0 5v1m0 11v1m0 1v1m0 7v2m0 1v2m0 3v1m0 26v2m0 2v1m0 3v3m0 1v2m0 13v3m0 2v3m0 15v1m0 8v2m0 7v3m0 13v1m0 2v2m0 10v1m0 3v2m0 14v1m0 2v1m0 1v3M1917.99 913v1M1944.17 902v2m0 108v1m0 114v2m0 15v2m0 233v1M1970.35 898v1m0 9v1m0 17v1m0 9v2m0 25v1m0 12v2m0 17v1m0 1v2m0 10v1m0 4v1m0 19v2m0 54v1m0 18v1m0 20v1m0 10v1m0 2v2m0 17v1m0 13v3m0 6v1m0 4v1m0 35v1m0 3v2m0 43v2m0 47v2"/>
<path stroke="#cbd" d="M1001.69 1089v1M1027.87 1164v1m0 164v2M1054.05 1127v2m0 56v1M1080.23 1089v1m0 123v1m0 3v2m0 158v2M1106.41 1131v1m0 16v1m0 61v2M1132.59 1021v2M1289.67 986v2m0 31v2m0 179v1M1342.03 921v2m0 191v2m0 260v1M1394.39 1292v1M1446.75 907v1m0 73v1m0 129v2m0 36v1m0 27v1M1525.29 898v1m0 18v2m0 102v2m0 207v1M1630.01 925v1m0 374v2M1708.55 1213v1M1734.73 954v1M1787.09 904v2m0 66v1m0 8v1m0 12v1M1813.27 909v1m0 32v1m0 100v1m0 210v1M1839.45 925v1m0 298v1m0 29v1m0 101v1M1865.63 908v1m0 46v1M1917.99 925v1m0 66v2m0 188v1m0 18v1M1944.17 901v1m0 14v1m0 119v2m0 11v2m0 162v1M2022.71 1010v1m0 233v2m0 83v2m0 18v1"/>
<path stroke="#66b" d="M1001.69 1090v1m0 19v3m0 33v2m0 16v1m0 9v1m0 22v2m0 47v1m0 110v1M1027.87 921v2m0 24v1M1054.05 919v2m0 53v2M1080.23 955v1m0 2v2m0 65v3m0 43v2m0 4v1M1106.41 901v1m0 8v1m0 49v1M1158.77 992v2m0 38v1m0 23v2M1184.95 945v2m0 169v2m0 9v2m0 10v1m0 4v2m0 21v2m0 51v1m0 4v3m0 11v1m0 45v2m0 3v2m0 8v2m0 36v1m0 5v2m0 20v2m0 9v2m0 3v2m0 13v1M1237.31 916v1m0 40v1m0 6v3m0 6v1m0 8v1m0 203v1m0 20v3m0 4v3m0 5v2m0 1v6m0 3v2m0 3v1m0 4v2m0 3v1m0 1v2m0 1v1m0 4v2m0 1v3m0 3v3m0 2v2m0 3v4m0 3v2m0 5v1m0 2v1m0 6v3m0 1v4m0 2v1m0 5v1m0 1v1m0 4v2m0 1v11m0 3v1m0 3v2m0 2v1m0 2v5m0 1v1m0 2v2m0 4v2m0 1v1m0 3v4m0 1v3m0 3v1m0 2v3m0 3v3m0 1v1M1263.49 894v1m0 29v1m0 48v1m0 120v2m0 22v1m0 6v2m0 59v1m0 14v1m0 8v2m0 7v1m0 16v1m0 12v1m0 1v2m0 11v1m0 12v1m0 6v1m0 8v1m0 2v1m0 7v1m0 22v1m0 1v3m0 14v2m0 1v1m0 12v2m0 5v1m0 4v2m0 5v1m0 4v1m0 11v1m0 1v2M1289.67 1082v2m0 15v4m0 18v2m0 2v1m0 7v1m0 46v3m0 41v1m0 11v1m0 5v2m0 29v1m0 2v1m0 8v2m0 3v2m0 1v1m0 5v1m0 13v2m0 21v2m0 8v2m0 22v1m0 4v1m0 3v1m0 9v1m0 2v2M1368.21 901v1m0 24v1m0 34v2m0 138v2m0 104v1m0 2v2m0 2v5m0 1v2m0 2v1m0 3v2m0 3v1m0 15v8m0 2v2m0 4v3m0 5v2m0 5v2m0 1v1m0 5v3m0 4v1m0 2v1m0 4v2m0 2v2m0 5v1m0 2v1m0 1v1m0 2v2m0 2v1m0 3v1m0 10v4m0 7v6m0 1v6m0 5v3m0 9v3m0 1v2m0 8v1m0 1v3M1394.39 989v2m0 21v1m0 15v1m0 24v2M1446.75 1043v1m0 21v1M1577.65 919v2m0 13v2m0 95v1m0 34v1m0 9v1m0 14v1m0 50v2m0 55v1m0 2v1m0 5v2m0 17v1m0 2v1m0 18v1m0 5v2m0 17v1m0 1v1m0 6v1m0 6v2m0 1v1m0 10v1m0 1v4m0 21v1m0 2v2m0 14v1m0 15v2m0 15v1m0 3v2M1603.83 896v1m0 42v2m0 16v1m0 48v3m0 49v2m0 15v1m0 78v2m0 54v2m0 3v2m0 4v1m0 17v1m0 4v2m0 4v1m0 4v2m0 5v2m0 5v4m0 4v1m0 5v1m0 1v4m0 3v1m0 4v3m0 8v2m0 6v2m0 1v1m0 3v2m0 2v2m0 12v1m0 1v1m0 4v1m0 1v7m0 5v6m0 7v1m0 5v1m0 4v3m0 1v5m0 3v1M1630.01 1103v1m0 57v2m0 4v2m0 1v4m0 34v2m0 77v2m0 39v1m0 21v1M1682.37 901v1m0 203v2m0 58v2m0 43v2m0 39v2m0 1v1m0 2v2m0 66v2m0 60v2M1708.55 1105v2m0 6v1m0 15v1m0 34v1m0 21v1m0 7v1M1734.73 1110v1m0 22v1m0 8v2m0 20v1m0 19v2m0 60v1m0 148v2M1787.09 897v2m0 9v2m0 6v1m0 28v2m0 9v1m0 3v1m0 15v2m0 7v1m0 27v1m0 1v1m0 28v2m0 12v2m0 7v2m0 4v1m0 13v2m0 3v2m0 10v1m0 20v1m0 8v4m0 12v1m0 14v2m0 16v1m0 8v2m0 5v1m0 19v1m0 74v1m0 25v1m0 10v1m0 23v1m0 2v1m0 20v1M1813.27 948v2m0 2v1m0 32v1m0 100v1m0 14v2m0 7v1m0 21v1m0 1v2m0 2v2m0 1v3m0 2v2m0 6v2m0 26v1m0 1v2m0 8v1m0 20v2m0 20v2m0 45v1m0 46v1m0 25v1m0 12v1M1865.63 907v1m0 3v1m0 17v1m0 28v2m0 4v1m0 16v1m0 4v2m0 67v1m0 48v1m0 8v1m0 7v2m0 25v1m0 1v1m0 3v3m0 18v1m0 18v1m0 10v2m0 50v4m0 12v1m0 30v1m0 55v2m0 18v1m0 8v3M1917.99 1374v1m0 5v1m0 17v1M1944.17 904v1m0 14v2m0 11v2m0 20v1m0 10v2m0 16v2m0 3v1m0 7v1m0 69v1m0 15v2m0 27v2m0 1v2m0 5v2m0 6v1m0 3v1m0 7v1m0 8v1m0 7v2m0 35v2m0 5v1m0 1v1m0 42v2m0 5v1m0 10v1m0 26v1m0 6v1m0 70v1m0 23v1M1970.35 901v1m0 59v2m0 25v1m0 311v2"/>
<path stroke="#cac" d="M1001.69 1096v1m0 55v2m0 45v1M1027.87 1013v1m0 14v1m0 75v1m0 20v1m0 61v2m0 10v1m0 13v1m0 6v1m0 78v1m0 2v2m0 23v1m0 32v2m0 10v2m0 13v2M1054.05 1051v2m0 12v1m0 8v1m0 34v1M1080.23 1092v2m0 20v2m0 15v1m0 45v1m0 126v1m0 55v2m0 18v1M1106.41 1086v1M1132.59 996v1m0 4v1m0 13v1m0 16v1M1158.77 904v1m0 76v1M1184.95 1336v2M1237.31 1267v1M1342.03 906v1m0 3v1m0 13v1m0 61v2m0 135v2m0 9v2m0 16v2m0 30v1m0 46v2m0 38v2m0 106v1m0 10v2M1368.21 1164v1M1394.39 1186v1m0 125v1M1446.75 909v1m0 17v2m0 221v1m0 23v1M1525.29 906v1m0 90v2m0 15v1m0 204v1m0 29v1m0 23v1M1577.65 1374v1M1603.83 1400v2M1630.01 919v2m0 125v1M1682.37 1025v2M1708.55 945v2m0 80v1m0 10v1m0 253v1m0 81v1M1734.73 904v1m0 1v1m0 12v2m0 13v2m0 9v2m0 385v2M1787.09 1010v1m0 32v1M1813.27 901v1M1839.45 895v1m0 65v2m0 84v2m0 200v1m0 18v1m0 21v2m0 70v2M1865.63 894v1m0 148v1M1891.81 921v2m0 124v2m0 38v2m0 162v2M1917.99 894v1m0 26v2m0 7v1m0 8v2m0 20v2m0 15v2m0 1v1m0 46v1m0 18v2m0 33v2m0 37v2m0 7v2m0 17v1m0 2v2m0 2v1M1944.17 894v1m0 1v1m0 8v1m0 35v1m0 6v2m0 60v1m0 253v1m0 107v2M2022.71 1133v1m0 134v1"/>
<path stroke="#dcd" d="M1001.69 1097v2M1080.23 1327v1M1315.85 1006v2M1446.75 991v1m0 184v1M1525.29 1293v1M1656.19 1167v2m0 25v1M1787.09 927v2M1813.27 1036v2M1839.45 1009v1M1865.63 1038v1M1917.99 1078v1M1970.35 1200v1M2022.71 1104v1m0 160v1m0 80v2"/>
<path stroke="#fdd" d="M1001.69 1099v2m0 33v2M1027.87 919v2m0 36v1M1080.23 1034v2m0 223v2M1106.41 995v1m0 37v1m0 32v1m0 240v1m0 61v1M1132.59 1097v1m0 48v1m0 50v1m0 12v1m0 27v1M1158.77 1187v1m0 138v1m0 29v1M1184.95 981v1M1211.13 1207v1m0 158v1M1237.31 1370v1M1289.67 1046v1m0 4v2m0 25v1m0 13v2m0 105v1m0 4v1m0 64v2m0 41v1M1315.85 1193v1M1342.03 1012v1M1368.21 1103v1M1394.39 932v2m0 7v1m0 15v1m0 38v1m0 43v1M1420.57 1125v1m0 180v1M1446.75 1298v1M1472.93 987v1m0 56v2M1499.11 1090v1m0 39v1M1577.65 1101v2m0 38v1M1603.83 907v1m0 23v1m0 29v2m0 18v1m0 20v2m0 122v1M1630.01 1127v2m0 9v1M1656.19 908v1m0 93v1m0 328v1M1682.37 1180v2m0 184v2M1708.55 1148v1m0 25v1M1734.73 950v2m0 26v2m0 1v1m0 74v2m0 88v2m0 26v1M1760.91 1151v1M1787.09 901v1m0 125v1m0 4v1m0 136v1m0 31v1m0 125v1M1813.27 945v3m0 26v2m0 15v1m0 2v1m0 14v2m0 21v1m0 5v1m0 2v1m0 16v4m0 5v2m0 25v2m0 29v1m0 81v1m0 169v2M1839.45 1034v2m0 106v2M1865.63 917v2m0 2v2m0 71v1m0 18v1m0 5v2m0 23v2m0 96v2m0 58v1m0 16v1m0 2v2m0 171v2M1891.81 985v1M1917.99 901v1m0 320v2m0 51v1m0 7v1m0 73v1m0 19v2M1944.17 909v1m0 53v1m0 30v1m0 28v1m0 45v2m0 268v2M1970.35 1189v2m0 73v1M1996.53 1023v1m0 272v1M2022.71 913v1m0 182v1m0 134v2"/>
<path stroke="#bad" d="M1001.69 1104v1m0 200v1m0 93v1M1054.05 1239v1M1106.41 958v2m0 134v2m0 50v2m0 157v1m0 47v2m0 17v2M1237.31 1087v2M1289.67 921v2m0 211v2m0 29v2m0 116v1M1342.03 1360v2M1394.39 1118v1m0 50v1M1630.01 1312v1M1682.37 1058v2m0 274v2M1708.55 906v1m0 84v3m0 277v2m0 89v2M1734.73 1012v1M1787.09 942v1m0 75v1M1813.27 905v1M1865.63 999v2m0 38v1M1891.81 1002v2m0 390v1M1917.99 934v2M1944.17 981v1m0 71v3M1970.35 1123v2m0 24v1"/>
<path stroke="#bac" d="M1001.69 1105v2m0 197v1m0 20v2M1027.87 1192v2M1054.05 1221v1M1106.41 1142v2m0 8v2m0 58v2M1184.95 1253v1m0 35v1M1263.49 1318v1M1289.67 1090v1m0 106v2m0 13v1m0 119v2M1394.39 1240v2m0 27v2M1577.65 1231v2m0 138v1M1603.83 982v1M1630.01 1342v1m0 29v2m0 26v2M1682.37 1009v1m0 272v1M1708.55 1264v1M1734.73 1177v1M1787.09 1009v1m0 13v1m0 41v1M1865.63 995v1m0 40v2m0 13v2M1891.81 938v1m0 55v1m0 34v2m0 307v1M1917.99 919v2M1944.17 931v1M1970.35 1221v1m0 146v1"/>
<path stroke="#77b" d="M1001.69 1114v2m0 64v2m0 22v1m0 7v1M1184.95 1080v2m0 49v1m0 8v1m0 60v1m0 67v2m0 2v1m0 77v2m0 42v2M1237.31 941v1m0 416v1M1263.49 1139v2m0 29v2m0 166v1m0 48v2m0 3v2M1289.67 1111v2m0 44v1m0 5v1m0 218v1M1368.21 1287v2m0 4v1m0 72v2M1577.65 1329v2M1603.83 1230v1m0 98v2m0 7v1m0 5v2M1708.55 1101v2M1734.73 1357v1M1787.09 896v1m0 91v1M1944.17 1297v2"/>
<path stroke="#dbd" d="M1001.69 1116v2M1027.87 1024v1m0 57v2m0 171v2m0 79v2m0 36v1M1080.23 1214v1m0 168v1m0 2v1M1315.85 1069v2M1342.03 1234v2m0 19v2m0 16v1m0 57v1M1446.75 948v2m0 166v2m0 3v2m0 8v1M1525.29 905v1m0 26v2m0 342v1m0 29v1m0 69v1M1551.47 906v1m0 54v2m0 10v1m0 7v1m0 6v1m0 93v2m0 43v2m0 15v2M1630.01 1224v1M1787.09 1025v2M1839.45 1011v1m0 17v2m0 63v2m0 169v1M1865.63 1069v2M1891.81 986v2m0 67v1m0 17v1M1917.99 948v2m0 26v2m0 89v2m0 25v2M1970.35 994v1M2022.71 1018v1m0 12v1m0 19v2m0 18v2m0 188v1m0 20v1m0 51v2"/>
<path stroke="#a7a" d="M1001.69 1125v1m0 193v1M1054.05 1275v1m0 28v1M1106.41 907v1m0 193v2M1132.59 908v1M1158.77 1028v1m0 22v2m0 20v1M1184.95 1187v2m0 26v2m0 14v2M1237.31 1091v1m0 21v1m0 35v1m0 50v1m0 18v1m0 73v1m0 106v2M1263.49 909v1m0 64v2m0 241v2m0 86v1m0 83v1M1289.67 1131v1m0 22v2m0 52v2m0 45v2M1368.21 1113v3m0 11v2m0 15v2m0 81v1m0 6v2m0 32v1m0 81v1M1394.39 1219v1m0 44v1m0 41v1m0 68v1M1446.75 1015v1m0 58v1M1525.29 1154v2m0 14v2m0 13v1M1577.65 1126v1M1603.83 994v1m0 20v1m0 20v2m0 226v1m0 105v1M1630.01 1259v2m0 73v2m0 33v1m0 10v1M1682.37 1013v1m0 9v1m0 36v2m0 160v2m0 97v2m0 16v2m0 9v1m0 11v2m0 17v1M1734.73 1212v1m0 1v1m0 50v1m0 24v2m0 54v2m0 12v2M1787.09 1161v2M1813.27 1251v2M1865.63 919v2m0 3v1m0 93v1m0 246v1m0 98v2M1944.17 973v1m0 281v2m0 117v1m0 15v2m0 6v1M1970.35 906v1m0 20v2m0 27v1m0 122v1m0 290v1"/>
<path stroke="#b78" d="M1001.69 1130v1m0 122v1M1027.87 1233v1M1054.05 1036v2m0 44v2m0 257v1M1106.41 1386v1M1237.31 1111v2M1394.39 1201v1m0 125v1m0 67v2M1577.65 1305v1M1630.01 904v1M1708.55 1046v1M1734.73 1397v1M1865.63 965v2m0 107v1M1891.81 895v1m0 314v2m0 12v1m0 17v2M1970.35 1029v2m0 73v1m0 47v2"/>
<path stroke="#a9b" d="M1001.69 1138v1M1054.05 1370v1m0 1v2M1289.67 1351v2M1577.65 983v2M1603.83 1318v1M1630.01 1139v1m0 231v1M1682.37 1332v2M1787.09 921v2m0 385v2M1813.27 1176v1M1865.63 1249v1M1944.17 1039v1M1970.35 1192v2"/>
<path stroke="#97a" d="M1001.69 1139v1m0 73v1m0 10v1M1054.05 1213v1m0 68v1M1184.95 986v2m0 194v1m0 31v1m0 174v1M1237.31 1282v1m0 66v1M1263.49 1282v1M1289.67 1185v1m0 36v2m0 26v1m0 6v2m0 9v1M1368.21 1240v2m0 60v2M1394.39 983v2M1577.65 1315v1m0 2v1M1603.83 1251v2m0 29v1m0 6v1m0 5v1M1630.01 1262v2m0 54v1M1682.37 1207v1m0 13v1m0 65v2M1734.73 1343v1M1813.27 954v1M1865.63 1139v1M1944.17 899v1m0 47v1m0 51v2m0 275v1M1970.35 952v1"/>
<path stroke="#88c" d="M1001.69 1141v1m0 16v2m0 1v2m0 2v2m0 3v4m0 20v1m0 26v1m0 20v4m0 18v1m0 13v2m0 15v2m0 23v1m0 21v1m0 25v1m0 5v1m0 5v1M1054.05 1212v1m0 1v1m0 5v1m0 13v2m0 6v2m0 11v2m0 26v1m0 1v2m0 3v2m0 3v1m0 50v2m0 5v2M1080.23 954v1M1106.41 917v2m0 22v1m0 404v2M1132.59 912v1M1184.95 901v1m0 86v1m0 105v2m0 1v4m0 6v3m0 9v2m0 2v2m0 7v4m0 13v1m0 20v2m0 5v1m0 2v2m0 12v1m0 8v1m0 18v2m0 9v4m0 5v2m0 5v1m0 12v2m0 13v1m0 6v1m0 9v6m0 6v1m0 21v1m0 3v2m0 9v1m0 2v2m0 8v1m0 7v2m0 4v1m0 3v1m0 4v1m0 4v2M1237.31 983v2m0 114v2m0 22v3m0 15v1m0 21v1m0 8v2m0 4v2m0 9v2m0 11v1m0 1v1m0 61v1m0 72v2M1263.49 921v2m0 163v1m0 10v2m0 4v2m0 4v5m0 7v2m0 19v2m0 6v2m0 9v2m0 6v1m0 8v4m0 5v2m0 3v2m0 6v1m0 3v1m0 9v1m0 18v1m0 13v2m0 38v2m0 23v3m0 10v2m0 15v1m0 36v1m0 4v2m0 9v2M1289.67 1094v2m0 17v1m0 12v1m0 11v1m0 19v2m0 23v1m0 35v1m0 24v2m0 25v2m0 29v2m0 4v2m0 17v1m0 1v2m0 8v2m0 7v1m0 8v1m0 10v1M1368.21 938v1m0 145v2m0 13v2m0 57v2m0 43v1M1394.39 1086v1m0 39v1m0 80v1m0 4v1m0 1v1m0 9v1m0 2v1m0 2v1m0 5v1m0 2v1m0 14v3m0 4v3m0 9v1m0 2v1m0 5v2m0 1v4m0 4v1m0 3v2m0 5v2m0 12v3m0 2v2m0 14v4m0 1v2m0 12v1m0 7v2m0 3v1m0 5v3m0 4v3m0 3v2M1446.75 1039v1M1577.65 1110v1m0 101v1m0 29v2m0 9v1m0 40v1m0 2v2m0 42v2m0 3v2m0 8v1m0 29v1M1603.83 1212v1m0 1v1m0 4v2m0 75v1M1630.01 1210v2m0 2v1m0 4v1m0 10v1m0 2v3m0 11v2m0 1v1m0 2v4m0 9v1m0 1v1m0 21v2m0 1v1m0 2v1m0 8v1m0 7v2m0 5v1m0 4v2m0 5v2m0 2v3m0 2v1m0 14v1m0 7v2m0 2v1m0 6v1m0 8v2m0 8v1M1682.37 934v2m0 74v1m0 17v1m0 3v1m0 11v2m0 1v2m0 24v1m0 3v1m0 135v2m0 16v2m0 32v1m0 3v2m0 33v1m0 15v1m0 10v1m0 17v1m0 3v2m0 4v1m0 10v1m0 1v2m0 3v2m0 18v1M1708.55 1141v1m0 170v1M1734.73 1213v1m0 3v2m0 32v2m0 6v2m0 22v1m0 26v3m0 12v2m0 2v2m0 18v1m0 14v2m0 14v1m0 8v1M1787.09 934v2m0 19v1m0 5v2m0 49v1m0 36v2m0 2v2m0 58v1m0 60v1M1813.27 958v2m0 323v1m0 21v1M1865.63 1010v1m0 20v1m0 30v2m0 211v1M1891.81 1213v1M1917.99 1315v1M1944.17 1044v2m0 79v1m0 124v3m0 43v1M1970.35 895v1m0 13v1m0 31v2m0 14v1m0 9v2m0 5v2m0 6v1m0 25v1m0 7v2m0 6v1m0 33v2m0 47v2m0 4v1m0 2v2m0 3v2m0 33v1m0 4v2m0 9v2m0 1v1m0 4v2m0 12v1m0 6v1m0 55v2m0 2v1m0 54v2m0 13v1m0 4v2m0 15v2m0 3v1m0 22v1"/>
<path stroke="#b8b" d="M1001.69 1144v2m0 134v2m0 26v4m0 15v1M1027.87 1011v1m0 102v2m0 120v1m0 138v1M1054.05 950v2m0 103v1m0 20v1m0 42v2m0 194v1M1080.23 1320v1M1106.41 1167v2m0 26v2m0 80v1m0 40v1m0 15v2M1158.77 916v1M1342.03 1140v1m0 259v2M1368.21 964v1m0 129v2m0 79v1m0 10v1m0 90v1M1394.39 1381v1M1525.29 988v1m0 226v2m0 22v1m0 38v2m0 51v1m0 65v1M1577.65 1257v2M1603.83 1152v2M1630.01 1019v2m0 23v2m0 269v1M1682.37 1055v1M1708.55 895v1m0 99v1m0 40v2m0 33v2m0 169v2m0 120v2M1734.73 1231v2m0 44v1m0 92v1M1787.09 1071v2M1839.45 1390v2M1865.63 1383v1M1891.81 896v1m0 42v2m0 31v1m0 3v2m0 14v2m0 40v2m0 31v2m0 6v1m0 23v2m0 63v1m0 89v1m0 13v1m0 70v2M1917.99 958v2m0 98v2m0 26v1m0 87v1M1944.17 1157v1m0 78v1M1970.35 1019v2m0 11v2m0 4v1m0 112v1"/>
<path stroke="#99c" d="M1001.69 1149v1M1263.49 1323v2M1289.67 1215v2m0 178v2M1368.21 1230v1M1577.65 1151v1M1734.73 1230v1M1787.09 941v1m0 135v1M1813.27 988v1m0 108v2M1865.63 974v2m0 51v1m0 45v1M1944.17 1025v2m0 239v1"/>
<path stroke="#a9c" d="M1001.69 1150v1m0 6v1m0 5v1M1080.23 1015v1M1237.31 1183v1M1263.49 1265v1M1289.67 1220v1m0 68v1m0 16v1M1368.21 1116v2M1446.75 994v1M1577.65 1075v1m0 191v1m0 51v1M1603.83 1208v2M1682.37 947v1m0 325v1M1734.73 1130v1m0 108v1M1787.09 902v2m0 25v1m0 76v2M1813.27 934v2m0 153v1m0 114v1m0 84v1M1865.63 976v2m0 46v1M1944.17 1140v1m0 105v1M1970.35 1105v2m0 92v1m0 115v1"/>
<path stroke="#87c" d="M1001.69 1160v1M1054.05 1237v2m0 7v1M1184.95 1084v2m0 4v1m0 19v1m0 27v1m0 12v1m0 32v1m0 17v1m0 47v1m0 25v1m0 57v2m0 40v1M1263.49 1131v1m0 62v1m0 59v1m0 100v1M1289.67 1175v1m0 214v2M1368.21 1156v1m0 34v1M1577.65 1237v2m0 29v3m0 99v1M1603.83 898v1m0 335v2M1630.01 1221v1m0 82v1m0 18v2m0 2v1m0 29v1M1682.37 1289v1m0 6v1m0 10v1M1734.73 1282v1M1813.27 1205v2M1944.17 1306v1M1970.35 896v1m0 423v1m0 20v1"/>
<path stroke="#98b" d="M1001.69 1167v2m0 14v1M1237.31 1210v2m0 104v2m0 66v2M1263.49 1141v1M1289.67 1084v2M1577.65 1348v1M1603.83 1304v1M1682.37 1049v2m0 287v1M1787.09 973v3m0 75v2M1865.63 909v1m0 29v2M1944.17 961v2m0 38v1"/>
<path stroke="#ddf" d="M1001.69 1169v1M1211.13 895v1m0 1v1m0 1v2m0 1v1m0 1v1m0 1v1m0 2v2m0 1v1m0 4v2m0 2v1m0 4v2m0 5v1m0 1v4m0 2v1m0 2v1m0 3v1m0 1v1m0 1v1m0 2v1m0 1v1m0 1v1m0 5v1m0 1v2m0 3v1m0 2v2m0 2v1m0 1v1m0 4v1m0 1v3m0 4v1m0 1v3m0 3v1m0 1v1m0 1v2m0 3v1m0 3v1m0 1v5m0 1v3m0 1v2m0 1v1m0 1v1m0 3v2m0 2v1m0 3v4m0 2v1m0 2v1m0 6v1m0 1v4m0 3v1m0 2v1m0 2v1m0 1v1m0 3v3m0 5v1m0 1v2m0 6v1m0 6v2m0 3v1m0 1v2m0 1v1m0 2v1m0 3v1m0 6v1m0 7v1m0 1v1m0 2v2m0 2v1m0 8v1m0 1v1m0 5v1m0 1v1m0 2v1m0 1v1m0 2v2m0 4v1m0 3v1m0 2v1m0 2v1m0 6v1m0 1v1m0 7v1m0 2v1m0 1v3m0 1v2m0 1v1m0 3v2m0 2v1m0 1v2m0 2v2m0 1v2m0 1v6m0 3v1m0 2v1m0 1v1m0 5v1m0 1v1m0 4v4m0 1v3m0 2v1m0 4v1m0 2v2m0 1v1m0 3v3m0 2v1m0 1v3m0 4v3m0 5v2m0 1v1m0 7v2m0 1v3m0 1v1m0 2v2m0 5v1m0 1v2m0 6v3m0 5v3m0 1v1m0 2v2m0 2v1m0 1v1m0 6v1m0 3v2m0 1v1m0 1v2m0 1v1m0 2v1m0 3v1M1237.31 1071v2m0 57v1M1263.49 985v1M1315.85 920v1m0 26v1m0 22v1m0 116v1m0 2v1m0 10v1m0 2v1m0 16v1m0 46v1m0 1v1m0 4v1m0 1v1m0 12v1m0 33v1m0 15v1m0 10v2m0 13v1m0 40v1m0 51v1m0 34v1M1420.57 894v1m0 3v1m0 1v2m0 1v2m0 2v1m0 1v1m0 3v1m0 3v1m0 1v2m0 4v1m0 3v1m0 4v1m0 5v2m0 1v3m0 1v1m0 1v1m0 1v2m0 9v5m0 2v1m0 5v3m0 1v1m0 9v1m0 6v1m0 31v1m0 5v4m0 36v1m0 5v1m0 3v6m0 1v2m0 1v1m0 3v1m0 4v1m0 2v1m0 1v1m0 1v2m0 2v2m0 4v1m0 1v1m0 4v3m0 1v3m0 2v1m0 1v1m0 2v1m0 6v2m0 1v1m0 1v3m0 1v4m0 2v4m0 1v2m0 2v1m0 3v1m0 4v1m0 1v2m0 1v5m0 2v1m0 1v1m0 1v2m0 1v1m0 3v1m0 1v1m0 1v1m0 1v1m0 2v2m0 2v1m0 3v1m0 1v1m0 4v2m0 2v2m0 1v2m0 1v1m0 6v1m0 6v3m0 1v2m0 2v1m0 1v3m0 1v1m0 2v2m0 1v1m0 1v1m0 1v2m0 4v1m0 1v4m0 4v1m0 2v1m0 1v4m0 1v2m0 6v3m0 1v1m0 3v1m0 2v1m0 5v3m0 4v2m0 3v1m0 1v1m0 5v1m0 1v1m0 1v1m0 2v1m0 1v2m0 1v3m0 1v3m0 1v1m0 3v2m0 2v1m0 4v1m0 1v2m0 2v1m0 1v2m0 1v1m0 2v1m0 4v3M1446.75 1313v1M1472.93 894v17m0 2v4m0 1v1m0 1v3m0 2v3m0 1v13m0 2v7m0 1v1m0 2v4m0 1v9m0 2v1m0 1v12m0 3v2m0 1v3m0 16v1m0 4v1m0 15v2m0 7v1m0 15v2m0 7v2m0 2v4m0 4v11m0 1v7m0 1v9m0 2v5m0 1v1m0 1v2m0 1v2m0 2v13m0 1v2m0 1v1m0 1v1m0 1v4m0 1v4m0 1v1m0 1v6m0 1v1m0 3v7m0 1v6m0 1v2m0 1v4m0 2v4m0 1v29m0 1v2m0 1v12m0 1v3m0 1v12m0 1v5m0 1v1m0 1v2m0 1v7m0 1v3m0 1v8m0 1v20m0 1v8m0 1v4m0 1v7m0 1v1m0 1v1m0 2v4m0 3v6m0 1v1m0 1v1m0 1v1m0 1v8m0 1v12m0 1v3m0 1v16M1499.11 894v1m0 1v1m0 1v1m0 1v2m0 5v1m0 2v5m0 3v1m0 3v1m0 2v1m0 2v1m0 3v2m0 3v4m0 1v4m0 4v2m0 1v1m0 1v2m0 1v1m0 1v2m0 1v1m0 2v3m0 1v1m0 2v1m0 1v2m0 1v1m0 1v1m0 2v1m0 2v1m0 2v1m0 1v1m0 16v1m0 5v1m0 3v1m0 39v4m0 4v1m0 11v2m0 1v1m0 7v1m0 2v1m0 1v1m0 2v1m0 3v1m0 5v1m0 1v1m0 5v1m0 2v3m0 8v1m0 2v3m0 2v1m0 5v1m0 3v2m0 1v2m0 1v1m0 1v1m0 2v1m0 3v1m0 1v1m0 2v1m0 3v1m0 1v3m0 2v1m0 1v1m0 3v1m0 3v4m0 3v2m0 1v1m0 1v1m0 1v2m0 3v1m0 2v2m0 1v8m0 1v2m0 2v1m0 2v1m0 1v3m0 1v2m0 1v2m0 1v1m0 6v1m0 2v1m0 1v1m0 1v2m0 1v3m0 1v1m0 2v1m0 4v1m0 1v2m0 1v2m0 1v2m0 1v1m0 2v1m0 1v1m0 4v1m0 3v2m0 1v3m0 4v1m0 1v1m0 1v1m0 1v1m0 1v1m0 1v1m0 1v1m0 1v2m0 2v2m0 5v1m0 2v2m0 1v1m0 2v2m0 5v1m0 1v1m0 4v1m0 1v1m0 1v1m0 1v2m0 4v1m0 1v2m0 4v1m0 1v1m0 1v3m0 3v3m0 3v2m0 1v1m0 3v2m0 1v3M1577.65 1194v1M1656.19 1012v1m0 123v2m0 25v1M1760.91 899v1m0 1v1m0 7v1m0 5v2m0 8v1m0 1v1m0 7v1m0 2v2m0 17v1m0 5v2m0 2v1m0 3v1m0 6v1m0 3v1m0 15v1m0 2v1m0 16v1m0 11v3m0 12v1m0 1v1m0 15v1m0 5v1m0 2v1m0 2v1m0 12v1m0 13v1m0 1v1m0 1v2m0 8v1m0 22v1m0 7v1m0 6v1m0 3v1m0 1v1m0 1v1m0 2v1m0 25v1m0 2v1m0 12v1m0 4v1m0 6v1m0 5v1m0 5v1m0 9v1m0 2v1m0 3v1m0 2v1m0 5v1m0 8v2m0 2v3m0 11v1m0 24v1m0 4v1m0 4v2m0 5v1m0 3v1m0 5v1m0 10v1m0 8v1m0 12v1m0 2v1m0 7v1m0 2v1m0 1v1m0 3v2M1787.09 907v1M1813.27 1006v2m0 5v1m0 39v2M1996.53 907v2m0 9v1m0 9v1m0 5v1m0 2v2m0 26v1m0 9v1m0 4v1m0 2v1m0 10v1m0 18v1m0 10v1m0 2v1m0 16v1m0 1v1m0 4v1m0 7v1m0 5v2m0 2v1m0 1v1m0 4v1m0 4v1m0 19v1m0 2v1m0 6v1m0 16v1m0 12v1m0 15v1m0 2v1m0 5v3m0 21v1m0 2v1m0 3v1m0 1v1m0 9v1m0 8v1m0 15v1m0 6v1m0 7v1m0 1v1m0 4v1m0 1v1m0 6v1m0 3v1m0 1v1m0 18v1m0 21v1m0 13v1m0 10v1m0 33v1m0 7v2m0 5v1m0 12v1m0 1v1M2022.71 943v1"/>
<path stroke="#bbd" d="M1001.69 1186v1m0 195v1M1054.05 1028v1m0 340v1M1106.41 1116v2m0 36v3m0 114v2m0 22v1m0 93v1M1237.31 1084v2M1289.67 1127v2m0 47v1M1368.21 1148v1m0 16v2M1603.83 1233v1M1630.01 1029v2M1682.37 994v1m0 56v2m0 3v2M1708.55 1231v2m0 45v2m0 7v2M1734.73 986v2M1787.09 924v1m0 104v2m0 16v2M1891.81 899v1M1917.99 1164v1M1944.17 995v1m0 12v1m0 15v1m0 37v2m0 265v2M1970.35 1344v2"/>
<path stroke="#98c" d="M1001.69 1189v2m0 29v1m0 13v2m0 4v2m0 107v1m0 21v1M1054.05 1033v1m0 69v1m0 121v2m0 4v2m0 18v2m0 18v2m0 24v2m0 6v1m0 6v1m0 81v1m0 2v1M1106.41 1182v1m0 4v2m0 76v1m0 110v1M1184.95 1096v1m0 51v1m0 25v1m0 8v1m0 35v1m0 39v2m0 4v1m0 36v2M1237.31 1132v1M1263.49 1130v1m0 44v1m0 21v2m0 38v2m0 32v2M1368.21 1167v2m0 62v2m0 157v2M1394.39 1154v2m0 52v2m0 11v1m0 15v2m0 11v1m0 2v1m0 23v1m0 6v1m0 9v1m0 5v2m0 5v1m0 2v2m0 17v2m0 31v4m0 3v1m0 4v1m0 14v1m0 10v2M1577.65 1369v1m0 2v2M1630.01 1212v1m0 14v1m0 11v1m0 67v1m0 23v1m0 12v4m0 11v1m0 14v1M1682.37 1029v2m0 12v1m0 190v2m0 35v2m0 43v2m0 62v1M1708.55 1254v1m0 100v1m0 4v2M1734.73 1009v1m0 317v1M1891.81 1283v1M1944.17 967v2M1970.35 1025v2m0 1v1m0 47v1m0 10v2m0 2v1m0 37v1m0 1v2m0 1v2m0 6v2m0 69v1m0 1v2m0 30v2m0 46v1m0 22v1"/>
<path stroke="#a9d" d="M1001.69 1215v2M1027.87 1009v1m0 117v2m0 71v1m0 16v2m0 5v1m0 19v2M1054.05 1080v2M1106.41 1165v2m0 100v1m0 44v1M1158.77 895v1m0 16v1M1184.95 1257v2M1342.03 953v1m0 130v2m0 90v1m0 33v2m0 83v1m0 6v2m0 15v1m0 35v2m0 17v1M1394.39 1152v2M1525.29 1236v1m0 3v2m0 13v2m0 63v1m0 73v1M1603.83 1369v1M1630.01 900v1m0 7v2m0 17v2m0 7v2m0 3v1m0 31v3m0 6v1m0 32v1m0 33v2m0 26v1m0 221v1m0 66v2m0 15v1M1682.37 1033v1m0 350v2M1708.55 1359v1M1734.73 1398v1M1891.81 902v3m0 20v1m0 3v1m0 48v2m0 17v2m0 7v2m0 31v1m0 3v1m0 7v2m0 29v4m0 8v2m0 5v2m0 8v2m0 3v2m0 12v1m0 8v2m0 9v1m0 3v3m0 19v2m0 7v2m0 5v2m0 1v2m0 50v2M1917.99 929v1m0 159v1m0 29v2m0 2v2m0 60v1m0 18v1"/>
<path stroke="#c67" d="M1001.69 1225v2m0 157v2M1027.87 1038v1m0 10v2m0 46v2m0 172v2m0 7v2m0 8v2M1054.05 1092v2m0 3v2m0 12v2m0 26v1m0 6v2m0 57v2m0 58v1m0 93v1M1106.41 1104v1m0 254v1M1158.77 969v1m0 4v2m0 9v1M1184.95 1015v1M1237.31 1107v2M1263.49 1319v1m0 63v1M1289.67 1231v2m0 18v2m0 39v1m0 90v1M1342.03 956v1m0 49v2m0 91v2m0 93v1M1394.39 1092v2m0 263v1M1525.29 972v1m0 73v1m0 30v1m0 222v2m0 27v2m0 48v1M1577.65 1214v1M1603.83 1389v1M1630.01 965v2m0 264v2m0 42v1m0 122v1M1682.37 1040v1m0 359v2M1708.55 958v2m0 50v1m0 4v1m0 27v1M1734.73 938v1m0 3v1m0 108v2m0 180v1m0 34v1m0 125v1M1839.45 1255v2m0 27v1m0 87v2m0 20v1M1865.63 1040v1M1891.81 963v1m0 18v1m0 8v1m0 52v2m0 59v2m0 67v1m0 12v2m0 8v2m0 38v2m0 25v1m0 6v2m0 55v1m0 2v1M1917.99 947v1m0 61v1m0 108v1m0 25v2M1944.17 1323v2M1970.35 923v1m0 61v1m0 87v1m0 37v2m0 72v1m0 79v1m0 1v1m0 116v2"/>
<path stroke="#a6a" d="M1001.69 1228v2M1054.05 1264v1M1184.95 1339v2M1263.49 1195v2m0 119v2M1577.65 1368v1M1603.83 1293v1M1630.01 1397v1M1682.37 1069v2m0 168v1m0 87v1m0 43v1M1944.17 1315v1"/>
<path stroke="#c9b" d="M1001.69 1231v2m0 117v1M1027.87 967v2m0 30v2m0 13v1m0 43v2m0 7v2m0 77v2m0 37v1m0 33v1m0 11v2m0 9v2m0 3v2m0 43v2m0 11v1m0 32v1m0 11v1M1054.05 996v1m0 41v1m0 2v1m0 49v1m0 240v2M1080.23 1231v2m0 4v2m0 37v1m0 7v1m0 44v2m0 27v1M1106.41 1184v1m0 109v1M1132.59 1069v2M1158.77 938v1m0 39v2M1184.95 1101v2m0 213v2M1237.31 1197v2M1263.49 1274v1M1289.67 1240v2m0 7v1M1342.03 896v1m0 12v1m0 7v2m0 19v1m0 179v1m0 61v2m0 67v1m0 47v2m0 35v2M1394.39 1114v2m0 75v1m0 76v1M1446.75 899v1m0 56v1m0 28v3m0 1v2m0 122v1m0 40v2m0 31v2m0 15v1M1525.29 1036v2m0 2v1m0 6v2m0 2v2m0 164v2M1551.47 1105v2m0 47v2M1630.01 950v2m0 54v2m0 8v2m0 42v2m0 215v1M1656.19 1195v2m0 6v1M1682.37 1267v1m0 73v1M1708.55 900v1m0 6v1m0 147v1m0 233v1m0 54v2m0 5v2m0 16v2M1734.73 896v1m0 11v1m0 38v1m0 121v2m0 5v1M1787.09 899v1m0 83v2m0 53v1m0 2v1M1813.27 931v1m0 141v1M1839.45 988v1m0 50v1m0 44v2m0 10v1m0 52v1m0 27v1m0 21v1m0 46v1m0 52v1m0 5v1m0 10v2m0 14v2m0 5v2m0 42v1M1865.63 899v1m0 91v1M1891.81 996v1m0 31v1m0 4v1m0 43v1m0 58v2m0 167v1m0 2v2m0 5v1M1917.99 896v1m0 68v2m0 45v1m0 12v2m0 2v2m0 7v1m0 35v1m0 16v1m0 73v2M1944.17 907v1m0 18v1m0 55v1m0 291v1m0 67v1M1970.35 1006v2m0 23v1m0 43v1m0 16v2M2022.71 996v1m0 80v1m0 51v1m0 35v2m0 8v1m0 123v1m0 62v2"/>
<path stroke="#a69" d="M1001.69 1236v4m0 27v1m0 25v1m0 22v2M1054.05 1262v2m0 10v1m0 45v1m0 30v2m0 29v1m0 16v1M1106.41 900v1M1184.95 965v2m0 124v1m0 44v2m0 90v3m0 94v2m0 22v1M1237.31 945v2m0 42v2m0 87v1m0 22v2M1263.49 1157v1m0 49v1m0 142v1m0 5v1m0 14v1M1289.67 1328v1M1368.21 899v1m0 229v1m0 6v2m0 59v2m0 137v2m0 1v2M1394.39 1225v2m0 19v1m0 28v1m0 100v1m0 20v1M1525.29 1140v1M1577.65 1014v1m0 27v1m0 10v2m0 206v1m0 30v1m0 35v1m0 3v2m0 66v2M1603.83 919v2m0 9v1m0 294v2m0 27v1M1630.01 1244v2m0 18v1M1682.37 1039v1m0 93v1m0 57v1m0 38v1m0 13v2m0 38v1m0 34v1M1708.55 936v2m0 411v1M1734.73 1105v2m0 94v1m0 62v1m0 8v1M1787.09 997v2m0 65v1m0 152v2m0 9v2m0 47v1m0 5v1M1813.27 1114v2m0 126v2m0 23v1m0 85v2M1865.63 1094v2m0 37v1m0 58v2m0 154v1m0 22v1M1917.99 1307v1M1944.17 964v1m0 353v1m0 64v1M1970.35 1002v2m0 23v1m0 37v1m0 154v1m0 148v1m0 6v1m0 21v1"/>
<path stroke="#c9a" d="M1001.69 1251v2m0 24v1M1054.05 1349v1M1289.67 1089v1m0 26v2M1394.39 1315v1m0 56v2M1446.75 1109v1M1551.47 912v1m0 263v1M1603.83 1300v2M1656.19 1101v2M1813.27 961v2M1944.17 1040v1m0 254v1M1970.35 931v1m0 79v1m0 50v2m0 150v1m0 15v1m0 19v1m0 8v2m0 125v1M2022.71 1006v2m0 39v2m0 30v1m0 87v2m0 5v1m0 152v1m0 14v1"/>
<path stroke="#c89" d="M1001.69 1255v2m0 9v1m0 103v1M1054.05 1008v1m0 38v2m0 69v1m0 147v1M1080.23 1342v1m0 8v2m0 45v1M1184.95 1310v2M1237.31 1203v1M1263.49 1297v2m0 45v2M1289.67 1008v1m0 32v1M1368.21 1199v1M1394.39 1096v1M1446.75 976v2M1525.29 941v1M1630.01 1225v2M1682.37 1268v1M1708.55 1056v2M1734.73 1053v2m0 252v1M1813.27 930v1M1839.45 956v1m0 112v2m0 112v1M1944.17 1282v1m0 2v2M1970.35 907v1m0 358v1m0 15v1m0 10v1m0 93v2m0 10v1M2022.71 1080v2m0 54v2"/>
<path stroke="#b9c" d="M1001.69 1257v2m0 24v1M1054.05 1009v1m0 4v1m0 31v1m0 120v2m0 33v1m0 90v1m0 62v1M1106.41 1177v1m0 5v1m0 23v1m0 23v2m0 9v2m0 56v2m0 19v2M1184.95 1199v1m0 123v2M1237.31 1271v2M1289.67 1261v1M1394.39 1080v2m0 8v1m0 131v2M1630.01 955v1m0 257v1m0 14v2m0 80v2M1682.37 999v2m0 15v2m0 235v1m0 1v2M1708.55 934v2m0 14v2m0 17v1m0 266v1m0 14v2m0 136v1M1734.73 914v2m0 115v1m0 10v1m0 164v1m0 49v2M1787.09 1132v1M1865.63 896v1M1891.81 1103v1m0 9v1m0 89v1m0 69v1m0 21v1M1944.17 1099v2M1970.35 897v1m0 112v1m0 30v1m0 98v1m0 16v1m0 16v1m0 20v2"/>
<path stroke="#b7a" d="M1001.69 1274v1M1027.87 1157v1m0 163v2M1054.05 1012v1m0 2v1m0 149v2m0 60v1m0 49v1m0 101v1M1080.23 1163v1M1106.41 1105v2m0 26v1m0 65v1m0 40v2m0 115v1m0 2v2M1184.95 1154v2M1237.31 931v1m0 158v1m0 151v2M1263.49 1087v2m0 293v1M1289.67 1156v1m0 120v1M1342.03 1091v1M1368.21 1089v1m0 44v2m0 4v1m0 11v2M1394.39 921v2m0 238v2m0 65v2m0 83v2m0 38v2M1630.01 931v1m0 93v2m0 49v1M1682.37 1018v1m0 34v2M1708.55 923v1m0 1v1m0 28v1m0 118v2m0 3v1m0 226v1m0 74v1M1734.73 996v1m0 2v2m0 220v1m0 31v1m0 17v2m0 66v2m0 14v1m0 23v1M1787.09 952v1M1865.63 1076v1M1891.81 911v1m0 49v2m0 123v1m0 44v1m0 1v1m0 110v2m0 47v1m0 90v2m0 12v1M1917.99 1199v1M1944.17 1360v2m0 33v2M1970.35 911v1m0 57v1m0 86v2m0 68v1m0 6v1m0 149v1m0 18v2"/>
<path stroke="#d9b" d="M1001.69 1275v1M1054.05 1077v1M1080.23 1113v1m0 169v1M1132.59 1002v2M1237.31 1175v1M1289.67 939v2m0 353v1M1446.75 1097v2M1551.47 943v2m0 207v2M1577.65 1353v2M1656.19 1078v1m0 90v1M1813.27 1069v2M1839.45 1006v2m0 79v2m0 45v2M1891.81 1239v1M1970.35 1043v1m0 30v1M2022.71 1319v1m0 35v1"/>
<path stroke="#b57" d="M1001.69 1299v3m0 11v2m0 61v1m0 23v2M1054.05 1140v1m0 155v1m0 60v1M1184.95 1283v1m0 29v2m0 16v1M1237.31 1165v2m0 2v1m0 54v1M1263.49 1123v2M1289.67 925v1m0 361v2M1368.21 1090v1m0 60v1M1394.39 1350v1M1446.75 1001v1M1577.65 1360v2M1630.01 1274v1m0 106v1m0 7v1M1682.37 1031v1m0 187v1m0 175v2M1734.73 1249v1m0 94v2m0 37v1M1865.63 972v1M1944.17 1280v2m0 7v1m0 99v1M1970.35 950v2m0 29v1m0 102v2m0 33v2m0 228v1"/>
<path stroke="#c56" d="M1001.69 1307v1M1027.87 1202v1m0 150v2M1054.05 1157v1m0 96v1m0 6v1m0 16v2m0 28v2M1106.41 1246v1m0 22v2M1237.31 1004v2m0 4v1m0 180v1M1342.03 914v2m0 20v2m0 306v2M1368.21 1132v1M1394.39 1233v1m0 148v1M1577.65 1225v2M1630.01 924v1m0 58v2M1682.37 1308v2M1708.55 902v2m0 114v1m0 39v2M1734.73 995v1m0 223v1M1839.45 1002v2m0 253v2m0 35v1M1891.81 909v2m0 246v1m0 122v2m0 20v2m0 6v2m0 39v2m0 42v2M1917.99 923v1M1944.17 1305v1M1970.35 1013v1m0 155v1m0 13v1m0 35v1m0 69v1"/>
<path stroke="#b45" d="M1001.69 1318v1M1054.05 1343v1M1237.31 1139v1m0 14v2M1263.49 1261v1M1289.67 1371v1M1682.37 1306v1M1734.73 1262v2M1970.35 1203v1"/>
<path stroke="#a57" d="M1001.69 1321v2m0 60v1m0 6v2m0 6v1M1054.05 1273v1m0 39v2M1080.23 1031v1M1132.59 973v1M1184.95 941v1m0 21v1m0 246v2m0 5v2M1237.31 1233v1m0 138v2m0 18v2M1263.49 1220v1m0 147v1M1289.67 1132v1m0 149v1m0 89v2m0 7v1m0 4v1M1368.21 1212v1m0 9v2m0 88v1m0 79v2M1577.65 1089v1m0 40v1m0 90v1m0 29v2m0 34v2m0 110v1M1603.83 909v1m0 46v1m0 296v1m0 103v1m0 14v2M1630.01 1186v1m0 35v2M1682.37 896v1m0 45v1m0 122v1m0 226v1m0 49v1M1708.55 1191v1M1734.73 1228v2m0 90v1m0 78v1M1787.09 1321v2M1813.27 1092v2m0 50v2m0 23v1M1865.63 1200v1M1944.17 1222v2m0 83v1M1970.35 983v2m0 311v1"/>
<path stroke="#c79" d="M1001.69 1329v2M1027.87 992v2m0 45v1m0 37v1m0 13v1m0 216v2m0 48v1m0 5v2M1054.05 1325v2M1080.23 1127v2m0 23v2m0 31v1m0 63v1m0 122v2M1106.41 1113v1m0 4v1m0 161v2m0 15v2M1158.77 905v2m0 16v1M1184.95 1355v1m0 15v1m0 28v2M1237.31 1194v1M1263.49 1339v2M1342.03 1276v1m0 27v1m0 18v2m0 16v1m0 57v1M1368.21 1370v1M1394.39 1125v1m0 41v2M1446.75 1205v2M1525.29 1006v2m0 16v1m0 37v2m0 9v1m0 133v1m0 77v2m0 10v2m0 5v1m0 18v2m0 25v1M1577.65 1240v2m0 38v2m0 77v1M1630.01 912v1m0 63v2m0 17v1m0 6v2m0 20v1m0 7v1m0 7v1M1682.37 1006v2m0 349v1M1708.55 982v1m0 42v2m0 292v1m0 12v2M1734.73 897v1m0 96v1m0 220v2m0 77v1M1839.45 930v1m0 45v2m0 4v1m0 202v1m0 190v1m0 23v2M1891.81 898v1m0 100v2m0 41v1m0 84v2m0 5v2m0 42v2m0 2v1m0 45v2m0 128v1M1917.99 917v2m0 44v1m0 8v1m0 73v1m0 13v2m0 4v1m0 6v1m0 40v4m0 51v1m0 33v1M1944.17 1320v1m0 76v1M1970.35 929v1m0 15v2m0 39v2m0 148v2m0 59v2m0 76v1m0 118v1M2022.71 1156v1m0 40v2m0 29v2m0 106v2"/>
<path stroke="#c68" d="M1001.69 1334v2m0 19v1M1027.87 1040v1m0 139v2M1237.31 1182v1M1263.49 1163v1m0 41v2M1342.03 1164v1M1368.21 1187v2M1525.29 1299v1M1577.65 1246v1m0 134v1M1630.01 1370v1M1708.55 1033v1M1839.45 1056v2m0 2v2m0 153v2m0 170v2M1891.81 988v1m0 19v1M1917.99 907v1M1970.35 900v1m0 31v2m0 137v2m0 75v1"/>
<path stroke="#b9b" d="M1001.69 1336v2m0 48v1M1027.87 1046v1m0 156v1M1054.05 1113v1m0 15v1m0 8v1m0 13v2m0 96v1m0 111v2M1106.41 1180v2M1184.95 1282v1M1263.49 1167v2M1289.67 1172v2m0 60v2M1342.03 1126v1m0 19v2m0 151v1m0 69v1M1368.21 1091v1m0 57v1m0 58v2M1394.39 1274v1M1525.29 1250v1m0 18v2M1577.65 1271v2M1603.83 1397v1M1630.01 988v1M1682.37 1295v1M1708.55 913v1m0 117v2M1734.73 956v1m0 64v2M1787.09 978v2m0 176v1M1813.27 910v1m0 45v1m0 99v2m0 8v1M1839.45 1186v1m0 23v2M1865.63 1250v1M1891.81 907v1m0 42v2m0 17v1m0 92v2m0 7v2m0 65v1m0 12v1m0 49v1M1917.99 1126v1m0 68v2M1944.17 1029v2m0 12v1M1970.35 925v1m0 29v1m0 113v2m0 226v2m0 51v1"/>
<path stroke="#d8a" d="M1001.69 1338v1M1054.05 1090v1M1080.23 1287v2m0 60v1m0 31v1M1106.41 1129v1M1132.59 999v2M1237.31 1097v2M1342.03 982v1M1394.39 1321v2M1630.01 901v1m0 11v1m0 355v2M1839.45 969v1m0 129v2m0 104v2M1891.81 932v2m0 8v1m0 14v1m0 391v1m0 22v2M1944.17 1364v2M1970.35 1060v2m0 142v1m0 101v1M2022.71 1161v2m0 91v1m0 34v1m0 41v1"/>
<path stroke="#b69" d="M1001.69 1341v1M1054.05 1267v1M1184.95 1200v1M1237.31 1110v1m0 25v2M1368.21 1123v2m0 139v1M1577.65 1394v1M1603.83 1249v1M1630.01 1278v2m0 119v1M1682.37 1351v2M1787.09 1224v1M1813.27 986v2M1944.17 1239v1M1970.35 1234v2m0 54v2"/>
<path stroke="#b79" d="M1001.69 1343v1m0 45v1M1027.87 1043v1m0 90v2m0 18v2m0 14v2m0 33v2m0 7v1m0 92v1m0 24v2M1054.05 1066v3m0 218v2m0 11v2m0 53v1M1080.23 1096v1M1106.41 1092v2m0 2v1m0 10v2m0 48v1m0 12v2m0 87v2m0 3v1m0 19v1m0 11v1m0 26v2m0 43v1M1132.59 911v1M1237.31 1276v1M1263.49 1165v2m0 67v2M1342.03 942v1m0 184v2m0 10v1m0 35v1m0 10v1m0 13v1m0 56v2m0 25v1m0 74v1M1368.21 1160v1m0 44v2M1394.39 1097v2m0 31v1m0 171v2m0 90v1M1446.75 1012v1M1525.29 991v1m0 232v1m0 9v2m0 91v1M1577.65 1282v1M1603.83 1339v2M1630.01 894v1m0 10v1m0 17v1m0 89v1m0 25v1m0 134v1m0 76v2m0 12v1m0 18v1m0 12v2m0 20v1M1682.37 992v2m0 342v2M1708.55 994v1m0 16v1m0 1v1m0 2v2m0 47v1m0 167v1m0 25v2m0 62v2M1734.73 972v1m0 82v1m0 4v2m0 175v2m0 16v2m0 10v1m0 40v2m0 76v1M1787.09 1033v1m0 168v1M1813.27 916v1M1839.45 1051v2m0 288v2M1865.63 1049v2M1891.81 970v2m0 38v1m0 150v2m0 6v1m0 13v1m0 21v2m0 8v2m0 80v2m0 70v1M1944.17 1242v2m0 27v2m0 14v2M1970.35 943v2m0 19v1m0 27v2m0 21v1m0 122v1m0 28v2m0 38v1m0 38v1m0 21v1m0 97v2"/>
<path stroke="#c57" d="M1001.69 1358v1M1054.05 1323v2m0 65v2M1106.41 1315v1M1237.31 1180v2M1289.67 1350v1M1630.01 997v2M1708.55 960v1M1734.73 1359v1m0 15v1M1891.81 1348v1M1970.35 954v1m0 269v1"/>
<path stroke="#cab" d="M1001.69 1362v2M1054.05 1244v2M1787.09 936v2M1865.63 950v2M1944.17 908v1m0 83v2m0 82v1"/>
<path stroke="#b68" d="M1001.69 1364v2M1054.05 1089v1m0 31v2m0 3v1m0 15v2m0 57v1m0 114v2m0 16v2m0 12v1M1106.41 1097v2m0 98v2m0 1v1m0 16v2m0 117v2m0 39v2M1184.95 1103v1m0 9v1m0 61v1m0 13v2m0 87v2m0 7v2m0 53v1M1237.31 1086v1m0 2v1m0 6v1M1263.49 1114v2m0 111v1m0 125v2M1289.67 1186v1m0 2v2m0 132v2M1368.21 1119v2m0 20v1m0 207v1M1394.39 1132v1m0 1v2m0 14v1m0 24v1m0 91v1m0 81v1m0 20v1M1577.65 1357v1m0 17v1m0 19v2M1603.83 983v2M1630.01 899v1m0 26v1m0 160v2m0 160v1m0 23v1m0 2v1m0 5v1m0 56v2M1682.37 997v2m0 13v1m0 100v1m0 98v1m0 27v2m0 19v1m0 107v1M1708.55 908v1m0 8v2m0 61v1m0 58v1m0 36v1m0 135v1m0 27v2m0 8v1m0 56v1m0 2v2m0 1v2m0 26v1m0 29v1M1734.73 1047v2m0 198v2m0 20v2m0 52v2m0 44v1M1813.27 914v2m0 7v1M1891.81 947v1m0 171v2m0 25v2m0 1v1m0 57v1m0 51v2m0 59v1m0 11v2m0 16v1m0 48v1M1917.99 1364v2M1944.17 1308v2m0 22v4m0 15v2M1970.35 899v1m0 80v1m0 31v1m0 90v1m0 72v1m0 25v1m0 36v1m0 22v2"/>
<path stroke="#d89" d="M1001.69 1379v1M1027.87 1042v1m0 41v2m0 121v1m0 32v2m0 25v1m0 76v2m0 16v2m0 22v1m0 10v1m0 1v1M1054.05 1058v2m0 47v2m0 41v1m0 199v1m0 13v2M1080.23 1107v2m0 31v1m0 31v2m0 41v2m0 56v1m0 4v2m0 27v1m0 20v1m0 68v1M1106.41 1087v2m0 294v1M1132.59 995v1m0 12v1m0 33v1m0 13v2m0 2v2M1158.77 900v1m0 53v1m0 15v2m0 10v1M1184.95 1372v2M1237.31 1039v1M1289.67 916v1M1315.85 1038v1M1342.03 1014v1m0 12v1m0 110v1m0 28v2m0 1v2m0 78v1m0 131v1M1420.57 1010v1m0 20v1M1446.75 930v2m0 150v2m0 10v2m0 23v2m0 12v1m0 23v1m0 27v1M1472.93 1023v1M1499.11 1053v2M1525.29 1034v2m0 20v2m0 293v2M1551.47 896v1m0 5v2m0 1v1m0 1v1m0 2v2m0 13v1m0 10v2m0 17v1m0 9v2m0 130v2m0 43v2m0 2v2m0 36v1M1630.01 948v2m0 108v2M1656.19 1123v2m0 26v1m0 13v2M1708.55 938v1m0 26v2m0 270v2m0 22v1m0 114v1M1734.73 991v1m0 48v1m0 24v1M1787.09 1056v2M1839.45 894v1m0 170v1m0 141v1m0 13v1m0 55v1m0 60v1m0 42v1m0 2v2m0 13v1M1865.63 1071v2M1891.81 897v1m0 19v2m0 160v1m0 68v1m0 222v1M1917.99 895v1m0 3v1m0 41v1m0 12v1m0 51v2m0 61v2m0 39v1m0 76v4M1944.17 1325v2M1970.35 958v2m0 167v2M2022.71 1004v2m0 23v2m0 38v2m0 19v1m0 28v2m0 4v1m0 1v2m0 47v1m0 18v2m0 58v2m0 2v2m0 6v1m0 16v1m0 25v2m0 6v1m0 76v2m0 2v1"/>
<path stroke="#947" d="M1027.87 898v1m0 31v1M1080.23 898v1M1106.41 954v1m0 15v2M1132.59 919v2M1158.77 1018v1m0 8v1m0 21v2M1263.49 897v1M1368.21 1276v1M1394.39 955v1M1446.75 1047v2M1525.29 1144v2M1577.65 911v1m0 134v1m0 137v1M1603.83 970v2m0 37v1m0 36v1m0 67v2M1630.01 1092v2m0 11v2m0 49v1m0 32v2m0 10v1M1682.37 904v1m0 179v2m0 192v2M1708.55 1110v1m0 28v1M1734.73 1351v2M1787.09 1130v1m0 126v2M1813.27 1392v2M1865.63 1285v2m0 3v2m0 3v1m0 16v1m0 5v1m0 51v1m0 3v1M1917.99 1395v2M1944.17 895v1m0 211v2"/>
<path stroke="#958" d="M1027.87 902v2M1080.23 1018v1M1237.31 910v1m0 2v1m0 10v1m0 362v2m0 105v1M1289.67 1227v1m0 31v2M1368.21 1257v2m0 54v2m0 4v1m0 48v1m0 11v1M1446.75 1042v1M1577.65 895v1m0 305v1m0 188v2M1603.83 985v1m0 115v2m0 104v1m0 29v2m0 51v2m0 76v1M1682.37 986v2m0 258v1m0 96v1m0 54v1M1708.55 1079v1m0 109v2m0 8v1M1734.73 1126v1m0 157v1m0 10v1m0 20v2m0 30v1M1787.09 1296v1M1813.27 1360v2m0 4v2M1865.63 1400v2M1917.99 1376v1M1944.17 1169v3m0 121v1"/>
<path stroke="#fff" d="M1027.87 907v1m0 1v1m0 298v2M1132.59 1088v1M1158.77 934v2M1184.95 911v1M1237.31 1094v2M1263.49 917v2M1394.39 1018v1m0 60v1M1472.93 1107v1m0 120v1M1551.47 945v2m0 145v2M1577.65 1149v2M1630.01 1109v1M1656.19 930v1m0 445v1M1682.37 988v1M1708.55 1132v1M1734.73 1167v2m0 202v1M1760.91 904v1m0 179v1m0 47v1m0 3v1m0 63v1m0 195v1M1787.09 912v1m0 40v1m0 3v1m0 11v1m0 156v1m0 33v1m0 25v1M1813.27 900v1m0 12v1m0 25v2m0 51v2m0 14v1m0 19v1m0 45v1M1865.63 988v1m0 34v1M1944.17 957v1m0 18v2m0 93v2m0 139v1M1970.35 1212v1M1996.53 1170v1m0 50v1m0 114v1m0 44v1M2022.71 894v1"/>
<path stroke="#c9c" d="M1027.87 1018v1m0 91v1m0 246v1m0 19v2M1080.23 1091v1m0 102v1m0 24v1M1132.59 1006v2m0 41v2M1342.03 947v1m0 139v2m0 102v1m0 16v2m0 11v1m0 20v2m0 133v2M1446.75 1079v1M1525.29 1010v1m0 246v2m0 123v1M1734.73 988v1M1839.45 932v2m0 385v1M1917.99 898v1m0 135v2"/>
<path stroke="#bae" d="M1027.87 1021v2M1080.23 1086v1m0 18v2m0 9v2m0 1v2m0 2v2m0 4v1m0 3v1m0 5v1m0 11v1m0 8v1m0 6v2m0 1v2m0 10v2m0 7v1m0 8v1m0 1v1m0 7v2m0 12v1m0 11v1m0 7v2m0 7v1m0 7v1m0 30v1m0 1v1m0 5v4m0 6v2m0 29v1m0 6v1m0 6v1m0 28v2m0 8v1m0 5v2M1342.03 1328v1m0 46v1M1446.75 1090v1m0 53v2m0 56v1M1525.29 904v1m0 3v1m0 3v1m0 25v1m0 8v1m0 9v1m0 22v1m0 11v3m0 1v1m0 5v2m0 23v1m0 1v3m0 6v1m0 10v2m0 7v4m0 12v1m0 1v1m0 135v1m0 38v2m0 106v1m0 39v1M1839.45 896v3m0 3v2m0 17v2m0 4v2m0 5v2m0 17v1m0 4v2m0 10v2m0 8v2m0 1v2m0 28v5m0 1v2m0 2v1m0 1v2m0 28v1m0 2v2m0 6v1m0 4v2m0 17v4m0 13v2m0 5v2m0 5v2m0 3v1m0 9v2m0 12v4m0 11v2m0 2v1m0 8v2m0 9v5m0 10v1M1917.99 932v2m0 102v2m0 33v2m0 129v1m0 2v2"/>
<path stroke="#aae" d="M1027.87 1033v1m0 84v1M1080.23 1087v2m0 10v2m0 43v2m0 53v1m0 1v1m0 31v1m0 8v2m0 21v1m0 93v1M1342.03 931v1m0 245v1m0 35v2m0 52v1m0 83v2M1525.29 923v1m0 6v1m0 32v1m0 1v2m0 9v2m0 3v2m0 36v2m0 2v1m0 4v1m0 317v2m0 1v1m0 3v2M1734.73 927v2m0 12v1M1839.45 907v1m0 3v1m0 19v1m0 23v1m0 4v1m0 17v2m0 28v1m0 3v1m0 8v2m0 18v1m0 118v1m0 3v1m0 19v1M1917.99 1180v2"/>
<path stroke="#dab" d="M1027.87 1079v1m0 16v1M1080.23 1101v2m0 152v2m0 87v2m0 23v1M1106.41 1138v1M1132.59 1018v1m0 21v1M1237.31 1079v1M1263.49 1244v2M1289.67 1009v1M1315.85 997v5m0 60v2M1342.03 1105v2m0 35v2m0 84v2M1368.21 1080v2m0 28v1M1420.57 1069v2m0 2v1M1446.75 905v1m0 8v2m0 44v1M1499.11 1013v1m0 1v1m0 25v2M1525.29 902v2m0 3v1m0 70v2m0 64v2m0 21v2m0 249v1m0 17v2M1551.47 929v1m0 4v2m0 5v1m0 30v1m0 10v2m0 129v2m0 7v2m0 24v1M1630.01 967v2M1656.19 1084v3M1682.37 1008v1m0 291v2M1708.55 1062v2M1734.73 899v1m0 1v1m0 67v1m0 46v2m0 202v1M1839.45 905v1m0 156v2m0 13v1m0 2v2m0 7v1m0 26v2m0 79v2m0 41v2m0 129v1m0 3v1M1865.63 898v1m0 39v1m0 15v1M1891.81 956v1m0 59v2M1917.99 982v1m0 57v1m0 36v1m0 49v2M1944.17 985v1m0 41v1M1970.35 1110v1m0 129v2M2022.71 1002v2m0 32v2m0 238v1m0 64v1m0 16v1"/>
<path stroke="#cce" d="M1027.87 1107v2M1080.23 1207v1m0 39v2m0 64v2M1132.59 1073v1m0 137v1m0 1v3m0 2v2m0 1v1m0 7v2m0 6v1m0 1v1m0 1v1m0 3v1m0 1v1m0 1v1m0 1v2m0 3v3m0 2v3m0 3v1m0 1v1m0 1v2m0 1v1m0 3v1m0 1v1m0 2v1m0 2v1m0 2v1m0 5v1m0 3v1m0 4v1m0 5v1m0 2v1m0 4v1m0 3v1m0 1v1m0 2v1m0 1v1m0 3v2m0 1v2m0 1v2m0 2v1m0 2v1m0 2v2m0 2v2m0 1v1m0 2v3m0 2v5m0 2v1m0 2v3m0 1v1m0 1v1m0 1v1m0 1v3m0 2v1m0 4v3m0 1v4M1158.77 1103v1m0 33v1m0 55v2m0 33v1m0 9v1m0 13v1m0 58v1m0 25v1m0 5v1m0 8v1m0 31v1M1289.67 1151v1M1315.85 895v1m0 4v1m0 37v1m0 25v1m0 9v1m0 67v1m0 135v1m0 7v1m0 45v1m0 111v1m0 2v1m0 15v1m0 28v1M1394.39 1325v2M1446.75 1080v2m0 145v1m0 33v1m0 40v1m0 56v1m0 26v1M1472.93 1019v2M1551.47 894v1m0 6v1m0 12v2m0 1v8m0 5v1m0 17v2m0 3v2m0 2v3m0 32v2m0 1v3m0 1v1m0 3v7m0 1v2m0 1v2m0 1v1m0 1v1m0 1v1m0 1v2m0 3v2m0 1v7m0 2v3m0 2v1m0 1v4m0 1v11m0 1v3m0 1v5m0 1v2m0 1v1m0 13v1m0 24v2m0 16v2m0 14v2m0 26v2m0 14v1m0 10v8m0 2v3m0 1v10m0 4v1m0 1v11m0 1v15m0 1v1m0 1v5m0 2v5m0 1v4m0 1v7m0 1v7m0 3v1m0 1v8m0 1v14m0 1v1m0 1v1m0 1v6m0 1v1m0 2v1m0 1v3m0 1v3m0 1v5m0 1v1m0 1v2m0 2v1m0 3v3m0 1v2m0 2v3m0 1v14m0 1v3m0 1v4M1656.19 898v2m0 1v2m0 1v2m0 6v2m0 2v2m0 3v1m0 1v2m0 2v1m0 5v1m0 1v2m0 1v3m0 1v1m0 2v1m0 1v1m0 2v2m0 2v1m0 2v1m0 2v1m0 4v1m0 1v2m0 3v1m0 5v2m0 6v1m0 2v2m0 1v1m0 1v2m0 3v2m0 2v2m0 1v1m0 1v1m0 2v1m0 3v1m0 6v1m0 1v1m0 3v1m0 1v1m0 2v1m0 1v1m0 4v1m0 1v1m0 2v4m0 1v2m0 6v1m0 5v1m0 2v2m0 2v2m0 1v1m0 2v1m0 2v2m0 34v5m0 8v1m0 2v4m0 3v1m0 6v3m0 1v1m0 5v1m0 21v2m0 7v2m0 8v3m0 2v1m0 1v3m0 1v1m0 1v3m0 3v2m0 2v4m0 3v2m0 4v5m0 1v5m0 2v1m0 3v1m0 1v1m0 6v1m0 2v2m0 2v2m0 2v3m0 1v1m0 2v1m0 1v4m0 1v1m0 2v2m0 1v2m0 1v1m0 2v1m0 2v2m0 2v1m0 2v1m0 1v1m0 2v1m0 2v1m0 1v1m0 5v1m0 4v1m0 5v1m0 1v1m0 1v3m0 1v3m0 1v3m0 3v1m0 1v1m0 2v1m0 1v1m0 1v1m0 2v1m0 2v3m0 1v2m0 1v1m0 1v1m0 2v2m0 1v2m0 4v1m0 2v4m0 2v2M1734.73 895v1m0 77v1m0 67v1M1813.27 995v1M1865.63 943v2M1944.17 924v1m0 86v1m0 29v1M1970.35 1139v1M2022.71 896v1m0 4v1m0 1v1m0 3v1m0 3v1m0 3v2m0 5v1m0 1v1m0 2v2m0 3v2m0 6v1m0 3v4m0 3v1m0 1v4m0 4v1m0 1v2m0 5v1m0 2v1m0 1v1m0 1v1m0 2v2m0 1v2m0 4v2m0 10v1m0 6v1m0 47v2m0 33v1m0 11v1m0 6v1m0 12v2m0 60v1m0 8v1m0 6v1m0 2v3m0 23v1m0 5v1m0 5v2m0 7v2m0 4v2m0 7v1m0 28v1m0 32v1m0 14v1m0 20v4m0 1v2m0 1v2m0 5v2"/>
<path stroke="#cbe" d="M1027.87 1130v1m0 165v1m0 7v1M1080.23 1024v1M1132.59 1024v1M1237.31 1116v2M1289.67 1192v2M1342.03 1283v1M1525.29 1259v2M1551.47 1104v1M1708.55 1249v1M1734.73 911v1m0 49v2m0 355v1M1787.09 1123v2M1813.27 1002v2M1839.45 926v1m0 151v1M1891.81 1165v2m0 154v2M1970.35 904v1M2022.71 999v2m0 26v2m0 3v1m0 25v2m0 29v1m0 9v2m0 8v1m0 16v1m0 13v1m0 13v2m0 30v1m0 20v1m0 2v4m0 33v3m0 21v3m0 11v2m0 5v1m0 13v1m0 9v2m0 63v1m0 2v2m0 1v3m0 2v2"/>
<path stroke="#cad" d="M1027.87 1175v1m0 224v2M1158.77 986v2M1342.03 1310v2M1525.29 900v1m0 138v1m0 254v1M1839.45 1170v2m0 10v1m0 124v1M1917.99 952v1m0 98v2"/>
<path stroke="#d67" d="M1027.87 1249v1m0 15v1m0 12v2m0 48v1m0 69v1M1080.23 1165v2m0 58v2m0 58v2m0 34v2m0 67v2M1132.59 1055v1M1158.77 965v2M1342.03 994v1m0 220v2M1446.75 901v1m0 22v1m0 171v1m0 85v1M1525.29 945v2M1551.47 969v1m0 109v1m0 16v1M1656.19 1107v2M1839.45 1110v1m0 37v1m0 9v2m0 217v2M1891.81 945v2m0 48v1M1917.99 980v1M2022.71 1183v2m0 159v2"/>
<path stroke="#d77" d="M1027.87 1261v1M1289.67 899v1M1315.85 1021v2m0 24v2m0 15v1M1420.57 1016v2m0 21v1M1446.75 1089v1M1472.93 1029v2M1551.47 1195v2M1656.19 1160v1M2022.71 1040v1m0 263v1"/>
<path stroke="#b67" d="M1054.05 1002v2m0 71v1m0 11v2m0 100v2M1080.23 912v1M1106.41 1099v2m0 224v2M1263.49 1300v2m0 13v1M1289.67 1295v1M1577.65 1376v1M1630.01 902v2m0 49v1m0 10v1M1708.55 961v2m0 10v1m0 4v2m0 21v1m0 27v2m0 16v2m0 28v1m0 198v1m0 22v1M1734.73 1304v1m0 45v1M1865.63 963v1m0 25v2M1891.81 1219v1m0 180v2M1970.35 972v1m0 63v2m0 198v1m0 101v1m0 50v1m0 10v2"/>
<path stroke="#a79" d="M1054.05 1021v2m0 1v1m0 4v2m0 113v2m0 156v2M1106.41 1136v2m0 6v2m0 32v2m0 12v2m0 180v1m0 15v2M1184.95 934v2m0 37v1M1237.31 1103v1m0 57v2M1289.67 1267v1M1368.21 1086v3m0 7v1m0 97v1m0 66v1M1394.39 1180v2m0 33v2m0 25v2m0 155v1M1630.01 896v1m0 172v2m0 186v2m0 103v2M1682.37 1194v1M1708.55 905v1m0 158v1m0 188v1m0 21v1m0 19v1m0 24v1m0 61v1M1734.73 1178v2m0 86v1M1813.27 1201v1M1865.63 961v2m0 217v2M1891.81 1167v2m0 113v1m0 72v1m0 30v1M1970.35 1077v1m0 21v2m0 69v2m0 36v2m0 97v1"/>
<path stroke="#dac" d="M1054.05 1125v1M1342.03 976v2M1446.75 1170v2m0 29v1M1525.29 1041v1M1551.47 976v2m0 13v1m0 88v2m0 8v1m0 12v1m0 96v1m0 2v1M1630.01 911v1M1656.19 1113v1m0 47v2m0 19v2M1708.55 1350v1M1734.73 955v1M1839.45 1163v1M1891.81 1208v2M2022.71 1086v1m0 29v3m0 11v1m0 49v2m0 37v1m0 5v2m0 35v2m0 107v1m0 5v2"/>
<path stroke="#a8a" d="M1054.05 1208v2M1368.21 1239v1m0 134v1M1394.39 1251v2M1577.65 956v1M1630.01 1292v1M1787.09 938v1M1865.63 1028v1"/>
<path stroke="#98d" d="M1054.05 1249v1m0 92v1M1106.41 1109v1m0 22v1m0 27v1m0 25v1m0 102v1M1184.95 1172v2m0 184v1m0 21v1M1237.31 1187v2M1263.49 1133v1M1289.67 1400v2M1368.21 1104v1M1394.39 1189v2m0 1v2m0 40v2m0 13v1m0 21v2m0 26v1m0 8v2m0 21v1m0 6v1m0 7v2m0 11v1M1630.01 1237v2m0 140v1m0 10v2M1708.55 1274v1m0 18v2m0 103v1M1734.73 1008v1m0 2v1M1891.81 1306v1M1970.35 1066v1m0 19v1m0 31v1m0 68v2m0 16v2"/>
<path stroke="#cbc" d="M1054.05 1289v1M1682.37 1358v1M1787.09 1011v1M1813.27 896v1M1865.63 941v1m0 54v1"/>
<path stroke="#a58" d="M1054.05 1294v1M1106.41 899v1M1132.59 988v1M1184.95 1394v1M1237.31 1290v2m0 91v1m0 3v2M1263.49 1283v1m0 18v2m0 4v2m0 50v2M1289.67 1213v1m0 33v2M1577.65 1032v1M1603.83 1294v1M1630.01 1175v1m0 95v2M1682.37 1228v2M1708.55 1163v1M1787.09 1185v1m0 47v1M1813.27 1178v2m0 122v2M1865.63 960v1m0 53v1m0 114v1M1917.99 1208v2m0 3v1M1944.17 1156v1m0 6v1m0 18v1m0 84v1m0 80v1"/>
<path stroke="#b56" d="M1054.05 1299v1M1237.31 1114v2M1289.67 1305v1m0 4v2M1603.83 1315v1m0 20v2M1682.37 1001v1M1734.73 1287v3M1787.09 906v1M1944.17 1253v1m0 77v1m0 23v1"/>
<path stroke="#968" d="M1054.05 1336v2M1184.95 1165v2M1237.31 932v2M1263.49 1138v1m0 137v1M1289.67 1265v1M1368.21 1079v1M1603.83 1399v1M1787.09 943v2M1813.27 1160v1M1865.63 1151v1M1970.35 939v2"/>
<path stroke="#979" d="M1080.23 906v1m0 102v1M1184.95 906v1m0 29v2M1237.31 978v2M1394.39 1064v1M1708.55 1195v2M1917.99 1273v1"/>
<path stroke="#fba" d="M1080.23 924v1M1551.47 1099v2M1865.63 1327v1M1891.81 1397v1M1917.99 1227v1"/>
<path stroke="#d88" d="M1080.23 978v2M1158.77 907v1M1315.85 1009v1M1420.57 1038v1m0 27v1M1446.75 1127v2M1472.93 1011v1m0 12v1M1551.47 1156v1M1656.19 1170v2M2022.71 1074v1m0 95v2"/>
<path stroke="#55a" d="M1080.23 1056v4M1106.41 894v1m0 19v2m0 56v1M1158.77 1009v1M1184.95 976v2M1237.31 896v1m0 41v1m0 30v1M1368.21 906v1m0 62v1M1394.39 974v2m0 55v1m0 23v1M1446.75 1013v1m0 26v1M1525.29 1187v2M1577.65 1004v2m0 10v3m0 2v2m0 13v2m0 11v2m0 13v1m0 34v2m0 22v2m0 11v2m0 2v1m0 62v1M1603.83 992v2m0 31v2m0 38v1m0 98v1M1630.01 1104v1m0 14v4m0 31v2m0 1v1M1682.37 1111v2m0 33v2M1708.55 1082v2m0 23v2m0 24v1M1787.09 1086v1m0 14v2m0 6v1m0 1v2m0 20v1m0 8v2m0 26v2m0 10v1m0 21v1m0 7v1m0 7v1m0 102v2m0 13v1m0 48v2M1813.27 1080v2m0 2v2m0 5v1m0 4v1m0 6v1m0 59v1m0 8v3m0 20v4m0 1v1m0 7v2m0 37v2m0 70v1m0 35v1M1865.63 1064v1m0 45v3m0 28v1m0 4v2m0 38v1m0 10v2m0 2v1m0 6v4m0 8v1m0 79v2m0 39v1M1917.99 1251v2m0 63v2m0 48v2m0 7v1m0 5v1m0 2v3M1944.17 1090v2m0 40v1m0 9v2m0 10v2m0 5v2m0 28v1"/>
<path stroke="#dbc" d="M1080.23 1268v1m0 113v1M1106.41 1103v1M1237.31 1152v2M1289.67 1118v1M1315.85 1028v1M1342.03 929v1M1368.21 1021v2M1420.57 1008v1m0 18v1m0 30v2M1472.93 1058v2M1499.11 1006v2M1525.29 1004v2M1551.47 942v1m0 20v1m0 120v2m0 8v2M1630.01 1073v1M1656.19 1158v2M1734.73 923v1M1813.27 898v1m0 176v1M1839.45 954v1m0 178v1m0 151v2M1944.17 1067v2m0 281v1M1970.35 938v1M2022.71 1012v1m0 69v2m0 23v2m0 48v1m0 198v1"/>
<path stroke="#d56" d="M1080.23 1318v1m0 38v1M2022.71 1151v1"/>
<path stroke="#eef" d="M1106.41 1076v1M1132.59 1094v1M1211.13 1298v1m0 80v1M1368.21 1161v2M1446.75 1186v1M1472.93 911v1m0 7v1m0 22v1m0 27v1m0 1v1m0 13v1m0 10v2m0 40v1m0 56v1m0 18v1m0 20v1m0 4v1m0 24v1m0 14v1m0 59v1m0 24v1m0 44v1m0 13v1m0 7v1m0 3v2m0 4v1m0 12v1m0 1v1m0 8v1m0 33v1M1525.29 1118v1M1551.47 1016v1M1603.83 1028v1m0 148v1M1656.19 1260v1M1708.55 1182v1M1760.91 894v5m0 1v1m0 1v2m0 1v4m0 1v5m0 2v8m0 1v1m0 2v3m0 1v2m0 1v2m0 2v11m0 1v3m0 1v1m0 1v3m0 1v1m0 2v2m0 2v2m0 1v6m0 1v3m0 1v15m0 1v2m0 2v15m0 1v7m0 1v3m0 3v6m0 1v5m0 1v1m0 2v2m0 1v11m0 1v5m0 1v2m0 1v2m0 1v1m0 3v4m0 1v3m0 1v3m0 1v9m0 6v1m0 1v2m0 1v3m0 1v1m0 2v1m0 1v1m0 2v3m0 1v1m0 1v1m0 2v1m0 3v1m0 1v4m0 2v1m0 1v1m0 1v1m0 5v2m0 1v1m0 1v1m0 2v1m0 1v2m0 1v4m0 1v2m0 1v1m0 1v3m0 2v1m0 1v1m0 5v2m0 2v3m0 2v1m0 1v1m0 1v1m0 2v4m0 1v6m0 1v5m0 1v2m0 1v2m0 1v9m0 1v2m0 1v3m0 1v2m0 1v3m0 1v1m0 1v8m0 2v2m0 3v11m0 1v22m0 1v1m0 1v4m0 1v4m0 2v5m0 1v3m0 1v5m0 1v10m0 1v8m0 1v12m0 1v2m0 1v7m0 1v2m0 1v1m0 1v3m0 2v4m0 2v5M1787.09 919v2m0 5v1m0 101v1m0 37v1m0 11v1m0 69v1M1813.27 1025v2m0 2v2m0 45v1M1865.63 1276v1m0 104v1M1891.81 1038v1m0 102v1M1944.17 952v1M1970.35 1271v2M1996.53 894v13m0 2v4m0 1v4m0 1v9m0 1v5m0 1v2m0 2v26m0 1v9m0 1v4m0 1v2m0 1v10m0 1v2m0 1v6m0 1v5m0 1v2m0 1v9m0 2v2m0 1v14m0 1v1m0 1v1m0 1v4m0 1v6m0 2v5m0 2v2m0 1v1m0 1v4m0 1v4m0 1v19m0 1v2m0 1v6m0 1v16m0 1v12m0 1v14m0 2v2m0 1v5m0 3v1m0 1v4m0 1v6m0 1v7m0 1v2m0 1v3m0 1v1m0 1v9m0 2v2m0 1v2m0 1v1m0 1v1m0 2v3m0 2v3m0 1v3m0 2v5m0 1v7m0 1v1m0 1v4m0 1v1m0 2v5m0 1v3m0 1v1m0 2v1m0 1v9m0 1v3m0 1v1m0 1v5m0 1v2m0 2v2m0 1v8m0 1v3m0 1v4m0 2v3m0 1v3m0 1v4m0 4v7m0 2v3m0 3v2m0 2v1m0 3v5m0 1v3m0 1v1m0 1v1m0 1v3m0 3v1m0 1v2m0 1v12m0 1v1"/>
<path stroke="#c45" d="M1106.41 1285v2M1708.55 1397v1"/>
<path stroke="#946" d="M1132.59 905v1m0 11v2M1237.31 947v1m0 10v2m0 383v1M1368.21 923v1m0 8v2m0 404v1M1394.39 900v1m0 164v1M1577.65 1302v2M1603.83 902v2m0 28v2M1630.01 1133v1m0 65v1M1682.37 981v1m0 105v2M1708.55 1084v2M1787.09 1344v2M1813.27 1310v2m0 26v1m0 33v2m0 8v1M1917.99 1236v1m0 104v1m0 1v1"/>
<path stroke="#936" d="M1132.59 983v2M1184.95 909v1M1446.75 1031v1m0 14v1M1525.29 1158v2M1682.37 923v1m0 201v1M1708.55 1149v1M1917.99 1382v1M1944.17 1118v1m0 67v1"/>
<path stroke="#d68" d="M1132.59 1051v2M1342.03 973v1m0 228v1M1839.45 974v2"/>
<path stroke="#f88" d="M1184.95 999v2M1656.19 1096v1M1917.99 1011v1"/>
<path stroke="#d43" d="M1184.95 1004v2m0 37v1M1237.31 1029v2"/>
<path stroke="#fbc" d="M1184.95 1073v1"/>
<path stroke="#a46" d="M1184.95 1158v2M1237.31 1315v1M1368.21 1285v2m0 72v1M1577.65 1228v2M1630.01 1182v1M1787.09 1251v2M1865.63 982v1m0 245v2M1944.17 1200v1m0 143v2"/>
<path stroke="#aac" d="M1184.95 1267v1M1263.49 912v1m0 263v1M1289.67 1107v2m0 5v2m0 278v1M1368.21 1146v2m0 238v1M1577.65 1013v1M1865.63 927v2m0 112v1m0 122v1M1917.99 1320v1"/>
<path stroke="#edd" d="M1237.31 1069v2M1420.57 1024v1M1499.11 1040v1m0 36v1M1787.09 1004v2M1813.27 1062v2m0 7v2M1944.17 943v2m0 74v2M2022.71 1078v1"/>
<path stroke="#869" d="M1237.31 1236v1"/>
<path stroke="#76b" d="M1237.31 1237v2M1630.01 1205v2"/>
<path stroke="#86a" d="M1237.31 1246v1"/>
<path stroke="#859" d="M1237.31 1255v2m0 26v1m0 15v1M1368.21 1278v2"/>
<path stroke="#96a" d="M1237.31 1275v1m0 47v2M1368.21 1306v1m0 72v1M1603.83 1267v1m0 90v1M1787.09 965v2"/>
<path stroke="#959" d="M1237.31 1297v2M1289.67 1358v1M1368.21 1284v1M1577.65 1278v2M1603.83 1240v2M1682.37 1383v1"/>
<path stroke="#97b" d="M1237.31 1319v1M1289.67 1195v2M1368.21 1275v1M1603.83 1261v1m0 40v2m0 6v2M1787.09 910v1m0 128v1m0 6v1M1865.63 930v1m0 3v2M1944.17 898v1m0 107v2"/>
<path stroke="#858" d="M1263.49 1239v1M1289.67 1334v2M1368.21 1242v2m0 38v1m0 12v1m0 1v2M1603.83 1246v1m0 10v2m0 6v1M1944.17 1219v1m0 1v1m0 177v1"/>
<path stroke="#d99" d="M1289.67 901v1M1525.29 1066v1M1551.47 960v1M1839.45 1018v1"/>
<path stroke="#ecd" d="M1289.67 958v2M1315.85 1011v1m0 61v1M1342.03 1031v1M1368.21 1027v1M1420.57 1004v2M1472.93 1006v2M1499.11 1001v1m0 23v2m0 49v1M1551.47 1125v1M1734.73 926v1m0 62v2M1787.09 1014v1M1813.27 894v1m0 24v2M1865.63 985v1m0 46v1M1944.17 936v2m0 32v2"/>
<path stroke="#ecc" d="M1315.85 1053v2M1368.21 1075v1M1420.57 1041v1M1472.93 1036v2M1787.09 911v1M1865.63 1006v2m0 17v2M1944.17 1018v1M2022.71 1121v2"/>
<path stroke="#d66" d="M1342.03 1024v1M1368.21 1018v1M1551.47 1204v1M2022.71 1065v1m0 106v2"/>
<path stroke="#b46" d="M1368.21 1271v2M1682.37 1227v1M1865.63 1011v1M1944.17 1210v2m0 150v2m0 23v2"/>
<path stroke="#99b" d="M1394.39 969v1"/>
<path stroke="#dde" d="M1420.57 995v1m0 10v2m0 36v2m0 21v2m0 8v1M1499.11 1010v3m0 3v2m0 14v1m0 29v2M1551.47 980v1M1656.19 1092v2m0 44v1M1944.17 1034v2"/>
<path stroke="#daa" d="M1472.93 999v2M1499.11 1027v1"/>
<path stroke="#c8b" d="M1525.29 927v2M1839.45 910v1m0 265v1m0 24v1M1917.99 1023v1"/>
<path stroke="#fcb" d="M1577.65 1058v2M1656.19 1131v1M1734.73 1024v1M1813.27 1316v2"/>
<path stroke="#fa9" d="M1603.83 1049v2M1630.01 1294v1M1787.09 954v1m0 27v1M1813.27 1287v2M1891.81 1172v2m0 138v1"/>
<path stroke="#a47" d="M1682.37 1375v1M1734.73 1275v1M1865.63 983v2"/>
<path stroke="#a8c" d="M1682.37 1394v1"/>
<path stroke="#ccd" d="M1787.09 1008v1"/>
<path stroke="#98a" d="M1787.09 1267v1M1813.27 1334v2M1865.63 1087v2"/>
<path stroke="#b89" d="M1813.27 921v2"/>
<path stroke="#fcd" d="M1813.27 1012v1"/>
<path stroke="#fde" d="M1944.17 914v2"/>
</g></g>
<line x1="988.6" x2="2035.8" y1="992.2" y2="992.2" stroke="#101020" stroke-width="0.9" opacity="0.9"/>
<line x1="988.6" x2="2035.8" y1="1077.9" y2="1077.9" stroke="#101020" stroke-width="0.9" opacity="0.9"/>
<line x1="988.6" x2="2035.8" y1="1207.1" y2="1207.1" stroke="#101020" stroke-width="0.9" opacity="0.9"/>
<rect x="989.1" y="896" width="1046.2" height="503.9" fill="none" stroke="#000" stroke-width="1.8"/>
<rect x="967.5" y="896" width="17.2" height="96.2" fill="#B4C8E8"/>
<text transform="translate(957.3 952.1) scale(1.045 1)" font-size="23.1" text-anchor="end">MS2</text>
<rect x="967.5" y="992.2" width="17.2" height="85.7" fill="#FBBC7C"/>
<text transform="translate(957.3 1043.05) scale(1.045 1)" font-size="23.1" text-anchor="end">MS3</text>
<rect x="967.5" y="1077.9" width="17.2" height="129.2" fill="#3FC0CF"/>
<text transform="translate(957.3 1150.5) scale(1.045 1)" font-size="23.1" text-anchor="end">MS1</text>
<rect x="967.5" y="1207.1" width="17.2" height="192.8" fill="#A6E27F"/>
<text transform="translate(957.3 1311.5) scale(1.045 1)" font-size="23.1" text-anchor="end">MS4</text>
<path d="M993.8 890.3V882.8H1245.2V890.3" fill="none" stroke="#000" stroke-width="1.5"/>
<text transform="translate(1113.8 838.7) scale(1.04 1)" font-size="23.1" text-anchor="middle">MS2</text>
<text transform="translate(1113.8 867.6) scale(1.04 1)" font-size="23.1" text-anchor="middle">HLA-DR<tspan font-size="12" dy="-7.4">hi</tspan><tspan dy="7.4"> CD14 Mono</tspan></text>
<path d="M1255.6 890.3V882.8H1507V890.3" fill="none" stroke="#000" stroke-width="1.5"/>
<text transform="translate(1381.1 838.7) scale(1.04 1)" font-size="23.1" text-anchor="middle">MS3</text>
<text transform="translate(1381.1 867.6) scale(1.04 1)" font-size="23.1" text-anchor="middle">CD16+ mono</text>
<path d="M1517.4 890.3V882.8H1768.8V890.3" fill="none" stroke="#000" stroke-width="1.5"/>
<text transform="translate(1641 838.7) scale(1.04 1)" font-size="23.1" text-anchor="middle">MS1</text>
<text transform="translate(1641 867.6) scale(1.04 1)" font-size="23.1" text-anchor="middle">New Mono State</text>
<path d="M1779.2 890.3V882.8H2030.6V890.3" fill="none" stroke="#000" stroke-width="1.5"/>
<text transform="translate(1893.2 838.7) scale(1.04 1)" font-size="23.1" text-anchor="middle">MS4</text>
<text transform="translate(1893.2 867.6) scale(1.04 1)" font-size="23.1" text-anchor="middle">Resting CD14 Mono</text>
<text transform="translate(1006.09 1413.7) rotate(-90) scale(0.989 1)" font-size="20" text-anchor="end">HLA-DRB1</text>
<text transform="translate(1032.27 1413.7) rotate(-90) scale(0.989 1)" font-size="20" text-anchor="end">LGALS2</text>
<text transform="translate(1058.45 1413.7) rotate(-90) scale(0.989 1)" font-size="20" text-anchor="end">FOS</text>
<text transform="translate(1084.63 1413.7) rotate(-90) scale(0.989 1)" font-size="20" text-anchor="end">HLA-DMA</text>
<text transform="translate(1110.81 1413.7) rotate(-90) scale(0.989 1)" font-size="20" text-anchor="end">HLA-DRB5</text>
<text transform="translate(1136.99 1413.7) rotate(-90) scale(0.989 1)" font-size="20" text-anchor="end">CPVL</text>
<text transform="translate(1163.17 1413.7) rotate(-90) scale(0.989 1)" font-size="20" text-anchor="end">HLA-DQB1</text>
<text transform="translate(1189.35 1413.7) rotate(-90) scale(0.989 1)" font-size="20" text-anchor="end">HLA-DPA1</text>
<text transform="translate(1215.53 1413.7) rotate(-90) scale(0.989 1)" font-size="20" text-anchor="end">EGR1</text>
<text transform="translate(1241.71 1413.7) rotate(-90) scale(0.989 1)" font-size="20" text-anchor="end">MYL12A</text>
<text transform="translate(1267.89 1413.7) rotate(-90) scale(0.989 1)" font-size="20" text-anchor="end">HLA-DPA1</text>
<text transform="translate(1294.07 1413.7) rotate(-90) scale(0.989 1)" font-size="20" text-anchor="end">HLA-DRB1</text>
<text transform="translate(1320.25 1413.7) rotate(-90) scale(0.989 1)" font-size="20" text-anchor="end">C1QA</text>
<text transform="translate(1346.43 1413.7) rotate(-90) scale(0.989 1)" font-size="20" text-anchor="end">CD47</text>
<text transform="translate(1372.61 1413.7) rotate(-90) scale(0.989 1)" font-size="20" text-anchor="end">MYL12A</text>
<text transform="translate(1398.79 1413.7) rotate(-90) scale(0.989 1)" font-size="20" text-anchor="end">HLA-DRB5</text>
<text transform="translate(1424.97 1413.7) rotate(-90) scale(0.989 1)" font-size="20" text-anchor="end">CD79B</text>
<text transform="translate(1451.15 1413.7) rotate(-90) scale(0.989 1)" font-size="20" text-anchor="end">LTB</text>
<text transform="translate(1477.33 1413.7) rotate(-90) scale(0.989 1)" font-size="20" text-anchor="end">C1QB</text>
<text transform="translate(1503.51 1413.7) rotate(-90) scale(0.989 1)" font-size="20" text-anchor="end">UNC119</text>
<text transform="translate(1529.69 1413.7) rotate(-90) scale(0.989 1)" font-size="20" text-anchor="end">RETN</text>
<text transform="translate(1555.87 1413.7) rotate(-90) scale(0.989 1)" font-size="20" text-anchor="end">ALOX5AP</text>
<text transform="translate(1582.05 1413.7) rotate(-90) scale(0.989 1)" font-size="20" text-anchor="end">CD63</text>
<text transform="translate(1608.23 1413.7) rotate(-90) scale(0.989 1)" font-size="20" text-anchor="end">SEC61G</text>
<text transform="translate(1634.41 1413.7) rotate(-90) scale(0.989 1)" font-size="20" text-anchor="end">TXN</text>
<text transform="translate(1660.59 1413.7) rotate(-90) scale(0.989 1)" font-size="20" text-anchor="end">MT1X</text>
<text transform="translate(1686.77 1413.7) rotate(-90) scale(0.989 1)" font-size="20" text-anchor="end">FOS</text>
<text transform="translate(1712.95 1413.7) rotate(-90) scale(0.989 1)" font-size="20" text-anchor="end">SOD2</text>
<text transform="translate(1739.13 1413.7) rotate(-90) scale(0.989 1)" font-size="20" text-anchor="end">NCF1</text>
<text transform="translate(1765.31 1413.7) rotate(-90) scale(0.989 1)" font-size="20" text-anchor="end">IL1R2</text>
<text transform="translate(1791.49 1413.7) rotate(-90) scale(0.989 1)" font-size="20" text-anchor="end">AC090498.1</text>
<text transform="translate(1817.67 1413.7) rotate(-90) scale(0.989 1)" font-size="20" text-anchor="end">NBEAL1</text>
<text transform="translate(1843.85 1413.7) rotate(-90) scale(0.989 1)" font-size="20" text-anchor="end">C1orf56</text>
<text transform="translate(1870.03 1413.7) rotate(-90) scale(0.989 1)" font-size="20" text-anchor="end">RPL17</text>
<text transform="translate(1896.21 1413.7) rotate(-90) scale(0.989 1)" font-size="20" text-anchor="end">CDC42SE1</text>
<text transform="translate(1922.39 1413.7) rotate(-90) scale(0.989 1)" font-size="20" text-anchor="end">HNRNPH1</text>
<text transform="translate(1948.57 1413.7) rotate(-90) scale(0.989 1)" font-size="20" text-anchor="end">CYBB</text>
<text transform="translate(1974.75 1413.7) rotate(-90) scale(0.989 1)" font-size="20" text-anchor="end">ATP5EP2</text>
<text transform="translate(2000.93 1413.7) rotate(-90) scale(0.989 1)" font-size="20" text-anchor="end">BRSK1</text>
<text transform="translate(2027.11 1413.7) rotate(-90) scale(0.989 1)" font-size="20" text-anchor="end">IL16</text>
<path d="M1001.69 1400.8v5.6M1027.87 1400.8v5.6M1054.05 1400.8v5.6M1080.23 1400.8v5.6M1106.41 1400.8v5.6M1132.59 1400.8v5.6M1158.77 1400.8v5.6M1184.95 1400.8v5.6M1211.13 1400.8v5.6M1237.31 1400.8v5.6M1263.49 1400.8v5.6M1289.67 1400.8v5.6M1315.85 1400.8v5.6M1342.03 1400.8v5.6M1368.21 1400.8v5.6M1394.39 1400.8v5.6M1420.57 1400.8v5.6M1446.75 1400.8v5.6M1472.93 1400.8v5.6M1499.11 1400.8v5.6M1525.29 1400.8v5.6M1551.47 1400.8v5.6M1577.65 1400.8v5.6M1603.83 1400.8v5.6M1630.01 1400.8v5.6M1656.19 1400.8v5.6M1682.37 1400.8v5.6M1708.55 1400.8v5.6M1734.73 1400.8v5.6M1760.91 1400.8v5.6M1787.09 1400.8v5.6M1813.27 1400.8v5.6M1839.45 1400.8v5.6M1865.63 1400.8v5.6M1891.81 1400.8v5.6M1917.99 1400.8v5.6M1944.17 1400.8v5.6M1970.35 1400.8v5.6M1996.53 1400.8v5.6M2022.71 1400.8v5.6" fill="none" stroke="#000" stroke-width="1.4"/>
<path d="M2042.5 944.2H2099.4V1035.4H2042.5M2042.5 1142.7H2112V1303.2H2042.5M2099.4 989.8H2122.5V1222.95H2112" fill="none" stroke="#000" stroke-width="1.6" stroke-linejoin="miter"/>
<text x="853.2" y="839.2" font-size="47" font-weight="bold" fill="#000">d</text>
<!-- panel e -->
<defs><clipPath id="cpe"><rect x="171.8" y="1665.2" width="780" height="504.1"/></clipPath><filter id="ble" filterUnits="userSpaceOnUse" x="163.8" y="1657" width="796" height="521" color-interpolation-filters="sRGB"><feGaussianBlur in="SourceGraphic" stdDeviation="0.35 0.5" result="S"/><feColorMatrix in="S" values=".299 .587 .114 0 0 .299 .587 .114 0 0 .299 .587 .114 0 0 0 0 0 1 0" result="L"/><feGaussianBlur in="SourceGraphic" stdDeviation="0.9 1.3"/><feColorMatrix values=".3505 -.2935 -.057 0 .5 -.1495 .2065 -.057 0 .5 -.1495 -.2935 .443 0 .5 0 0 0 1 0"/><feComposite in2="L" operator="arithmetic" k1="0" k2="2" k3="1" k4="-1"/></filter></defs>
<g clip-path="url(#cpe)"><g filter="url(#ble)" fill="none" stroke-width="26" shape-rendering="crispEdges">
<rect x="165.8" y="1659" width="792" height="517" fill="#d8d4ee"/>
<path stroke="#e66" d="M184.8 1663v1m0 4v1m0 8v1m0 13v2m0 5v1m0 8v2m0 2v2m0 54v1m0 14v1m0 73v2m0 73v1M210.8 1664v2m0 12v1m0 10v1m0 7v1m0 15v2m0 5v2m0 8v1m0 10v1m0 23v1m0 12v1m0 1v1m0 23v2m0 45v2m0 21v1m0 8v2m0 8v2m0 4v1m0 20v2m0 17v1M236.8 1706v1m0 16v1m0 42v1m0 27v1m0 4v2m0 7v1m0 5v2m0 10v1m0 7v1m0 14v2m0 29v2m0 6v2m0 22v2m0 10v1m0 79v2M262.8 1715v1m0 26v1m0 26v1m0 27v1m0 23v1m0 44v1m0 276v2M288.8 1832v2m0 106v2m0 53v1M314.8 1672v1m0 181v2m0 9v1m0 16v1m0 275v1M340.8 1669v1m0 34v1m0 48v2m0 14v1m0 44v4m0 2v1m0 41v1M366.8 1695v2m0 101v1m0 202v1m0 13v1m0 133v1m0 14v2M392.8 1704v1m0 12v1m0 31v1m0 10v1m0 18v1m0 51v1m0 26v1m0 1v1m0 78v1m0 5v1m0 128v1m0 89v2M418.8 1700v1m0 28v1m0 13v3m0 11v1m0 3v2m0 17v1m0 11v2m0 24v2m0 6v1m0 1v2m0 18v1m0 9v1m0 31v1m0 4v2m0 4v2m0 34v1m0 1v3m0 83v2m0 132v1m0 2v2M444.8 1676v1m0 144v1m0 44v1m0 61v2m0 26v1m0 7v4m0 17v2m0 3v3m0 14v3m0 3v2m0 21v2m0 2v1m0 2v1m0 4v2m0 5v2m0 3v1m0 2v2m0 5v2m0 1v1m0 15v2m0 1v1m0 13v1m0 5v1m0 6v6m0 4v1m0 9v1M470.8 1818v2m0 6v1m0 124v2m0 6v2m0 3v1m0 10v2m0 12v1m0 2v1m0 8v2m0 4v2m0 16v2m0 5v4m0 34v2m0 26v2m0 1v2m0 5v2m0 9v4m0 7v2m0 1v2m0 4v3m0 4v2M496.8 1695v2m0 44v1m0 220v2m0 6v1m0 4v2m0 5v2m0 28v1m0 2v1m0 18v2m0 8v2m0 11v2m0 27v2m0 3v1m0 14v1m0 6v2m0 6v2m0 6v1m0 15v1m0 6v2M522.8 1930v1m0 14v2m0 8v1m0 5v1m0 6v2m0 7v2m0 15v1m0 14v1m0 5v1m0 8v1m0 11v2m0 12v2m0 3v2m0 8v1m0 1v2m0 12v1m0 2v4m0 1v6m0 13v2m0 7v1m0 3v2m0 22v1m0 13v1M548.8 1668v1m0 4v2m0 215v1m0 60v2m0 4v2m0 12v4m0 9v3m0 5v1m0 8v2m0 26v2m0 19v2m0 13v1m0 1v2m0 7v2m0 5v1m0 1v1m0 17v1m0 3v3m0 7v1m0 5v6m0 3v1m0 2v1m0 14v2m0 14v2M574.8 1782v1m0 68v2m0 92v2m0 1v1m0 4v3m0 1v4m0 7v2m0 12v3m0 10v2m0 12v7m0 28v2m0 19v1m0 8v2m0 6v2m0 4v1m0 12v2m0 4v1m0 7v2m0 13v3m0 12v1m0 8v1M600.8 1741v1m0 205v1m0 11v2m0 1v2m0 7v4m0 15v2m0 2v1m0 5v1m0 6v2m0 12v2m0 2v2m0 9v2m0 5v1m0 4v2m0 15v1m0 8v2m0 2v1m0 2v1m0 1v1m0 7v4m0 6v2m0 7v2m0 6v1m0 11v3m0 6v1m0 6v2m0 2v2m0 5v2M626.8 1943v1m0 11v2m0 8v1m0 14v4m0 13v3m0 4v2m0 19v2m0 13v1m0 14v2m0 2v1m0 5v1m0 1v2m0 9v3m0 7v1m0 2v1m0 5v1m0 3v2m0 10v2m0 2v1m0 1v2m0 21v1m0 2v1m0 13v1m0 6v2M652.8 1790v2m0 98v1m0 57v1m0 10v2m0 14v2m0 5v2m0 1v2m0 7v1m0 4v1m0 7v2m0 6v1m0 24v1m0 11v5m0 10v3m0 25v2m0 10v1m0 5v2m0 2v1m0 5v2m0 2v2m0 1v3m0 9v1m0 7v2m0 2v1M678.8 1851v2m0 14v1m0 77v2m0 4v2m0 31v5m0 3v1m0 1v1m0 9v2m0 6v1m0 5v1m0 2v2m0 2v2m0 4v1m0 6v2m0 10v2m0 1v2m0 14v3m0 2v2m0 5v1m0 19v2m0 14v1m0 3v2m0 6v1m0 15v1m0 2v2m0 2v2M704.8 1703v1m0 28v1m0 44v1m0 64v1m0 7v1m0 7v1m0 26v1m0 113v1m0 24v1m0 13v2m0 77v1m0 30v2M730.8 1830v1m0 25v1m0 21v1m0 289v2M756.8 1957v2m0 12v2m0 22v2m0 7v2m0 13v1m0 46v1M782.8 1715v1m0 45v1m0 49v1m0 18v1m0 52v1m0 5v1m0 25v1m0 45v1m0 8v1m0 19v2m0 156v2M808.8 1685v1m0 31v1m0 43v2m0 157v2m0 112v2M834.8 1666v1m0 23v1m0 24v1m0 39v2m0 9v1m0 21v2m0 16v3m0 57v1m0 32v1m0 42v1m0 4v1m0 42v2m0 7v1m0 12v1m0 11v1m0 13v2m0 23v2m0 8v1m0 23v1M860.8 1717v1m0 72v2m0 19v2m0 119v1m0 11v1m0 131v2m0 37v2m0 43v2M886.8 1670v1m0 40v1m0 15v1m0 110v1m0 18v1m0 38v1m0 95v1m0 45v2m0 70v2M912.8 1792v2m0 57v2m0 96v2m0 5v1m0 5v2m0 4v2m0 20v2m0 9v2m0 101v2m0 19v4m0 25v1m0 5v2M938.8 1690v1m0 46v1m0 25v1m0 7v1m0 58v1m0 55v2m0 220v1m0 57v2m0 2v2"/>
<path stroke="#55b" d="M184.8 1664v2m0 50v1m0 46v1m0 6v1m0 50v1m0 85v2m0 31v2M210.8 1924v1m0 6v1m0 6v1M236.8 1739v2m0 37v1m0 126v1M262.8 1673v2m0 11v1m0 36v1m0 43v1m0 43v2m0 5v2m0 11v1m0 10v2m0 2v1m0 52v1m0 6v1m0 18v1M340.8 1677v1m0 55v1m0 68v2m0 7v2m0 92v1m0 10v2m0 13v2M418.8 1663v1m0 2v1m0 8v1m0 11v3m0 46v1m0 16v1m0 57v2m0 31v2m0 46v1m0 13v1m0 13v2m0 11v2M444.8 1666v1m0 19v1m0 6v4m0 5v1m0 13v1m0 1v2m0 7v2m0 13v1m0 5v1m0 5v1m0 3v2m0 5v1m0 2v1m0 1v1m0 1v2m0 4v1m0 13v2m0 3v1m0 1v2m0 5v3m0 4v3m0 26v2m0 4v1m0 2v2m0 1v2m0 4v1m0 13v1m0 11v2m0 12v1m0 6v3m0 1v1m0 4v3m0 18v2M470.8 1663v1m0 2v1m0 2v1m0 5v1m0 13v1m0 7v1m0 1v1m0 3v1m0 2v1m0 8v2m0 1v2m0 2v1m0 7v1m0 3v2m0 2v1m0 7v1m0 4v3m0 1v2m0 11v1m0 16v1m0 2v2m0 2v2m0 8v2m0 2v2m0 14v2m0 14v4m0 5v2m0 4v3m0 3v1m0 4v1m0 9v1m0 16v1m0 27v1m0 8v2m0 2v1M496.8 1663v1m0 5v1m0 5v2m0 9v1m0 6v2m0 2v1m0 3v1m0 1v1m0 3v2m0 4v2m0 7v1m0 2v5m0 9v2m0 6v1m0 3v2m0 1v1m0 8v1m0 5v1m0 9v1m0 6v8m0 1v2m0 31v3m0 4v2m0 22v1m0 5v1m0 2v2m0 2v2m0 11v1m0 14v3m0 6v1m0 14v1m0 13v1m0 3v1M522.8 1672v1m0 6v2m0 8v1m0 1v2m0 8v1m0 7v2m0 4v1m0 2v2m0 3v1m0 9v1m0 20v3m0 4v3m0 3v2m0 11v1m0 1v1m0 5v2m0 4v1m0 11v2m0 1v2m0 2v8m0 1v2m0 2v2m0 4v5m0 1v2m0 7v1m0 10v1m0 2v3m0 1v2m0 1v2m0 10v2m0 32v1m0 11v2m0 3v1m0 8v2M548.8 1669v1m0 5v3m0 22v1m0 21v1m0 20v2m0 1v2m0 12v1m0 12v1m0 4v5m0 5v2m0 5v2m0 2v2m0 10v2m0 1v2m0 5v1m0 5v1m0 12v2m0 6v1m0 2v2m0 14v1m0 2v2m0 6v2m0 30v1m0 1v2m0 8v3m0 8v2m0 7v1M574.8 1673v3m0 2v1m0 10v1m0 5v2m0 8v2m0 10v1m0 5v1m0 35v1m0 6v1m0 6v5m0 1v2m0 2v2m0 1v4m0 2v2m0 7v1m0 9v2m0 8v1m0 2v2m0 23v2m0 16v1m0 6v1m0 5v2m0 3v1m0 28v1m0 16v1m0 7v1m0 2v1M600.8 1666v3m0 8v1m0 7v1m0 7v2m0 9v1m0 1v3m0 15v1m0 8v1m0 8v1m0 11v1m0 2v3m0 6v2m0 3v1m0 2v5m0 2v2m0 2v1m0 16v2m0 10v2m0 12v2m0 7v1m0 8v1m0 1v3m0 2v3m0 2v2m0 18v2m0 2v1m0 2v1m0 4v1m0 6v1m0 2v1m0 6v2m0 1v1m0 3v1m0 7v2m0 1v3m0 2v1m0 4v2M626.8 1668v1m0 7v1m0 2v2m0 10v2m0 2v2m0 2v1m0 3v1m0 5v2m0 11v1m0 7v1m0 7v1m0 6v1m0 7v1m0 4v1m0 5v3m0 2v1m0 1v1m0 6v3m0 9v2m0 5v1m0 1v2m0 1v2m0 4v1m0 2v3m0 4v2m0 2v4m0 2v2m0 1v1m0 3v2m0 5v2m0 4v1m0 15v2m0 9v1m0 12v2m0 3v4m0 4v2m0 2v1m0 1v3m0 10v2m0 3v1m0 5v1m0 3v2m0 2v1M652.8 1669v3m0 17v1m0 5v4m0 8v2m0 9v2m0 2v1m0 4v2m0 8v1m0 1v2m0 7v2m0 5v2m0 1v1m0 5v1m0 11v2m0 4v3m0 1v4m0 4v1m0 7v4m0 3v2m0 5v4m0 11v1m0 16v3m0 7v1m0 1v1m0 1v1m0 2v1m0 4v2m0 14v2m0 11v1m0 3v2m0 1v1m0 2v2m0 4v3m0 6v2m0 5v1m0 7v1M678.8 1673v2m0 16v2m0 8v1m0 4v1m0 2v2m0 23v2m0 2v1m0 3v1m0 2v2m0 1v1m0 2v4m0 4v1m0 1v3m0 9v3m0 16v2m0 3v4m0 7v1m0 4v1m0 2v4m0 8v2m0 14v2m0 15v1m0 21v2m0 5v1m0 6v1m0 7v1m0 3v1m0 4v2m0 14v1m0 6v1m0 4v1"/>
<path stroke="#a57" d="M184.8 1666v1M210.8 1798v1M236.8 1679v2M262.8 1738v1M340.8 1687v2m0 16v1m0 154v1M418.8 1905v1m0 51v2M548.8 1770v1M600.8 1715v1M678.8 1666v1M834.8 1720v2m0 24v1m0 25v1m0 76v2m0 64v1"/>
<path stroke="#e77" d="M184.8 1667v1m0 2v2m0 33v1m0 45v2m0 2v2m0 8v1m0 31v1m0 4v2m0 55v1m0 18v2m0 36v2m0 24v1m0 63v1M210.8 1691v2m0 2v2m0 1v1m0 12v2m0 2v1m0 43v2m0 3v1m0 67v2m0 20v2m0 20v2m0 2v3m0 8v1m0 19v1m0 3v1m0 17v2M236.8 1672v1m0 8v2m0 15v1m0 16v1m0 33v1m0 7v1m0 23v1m0 15v1m0 61v1m0 8v4m0 4v2m0 50v3m0 1v1m0 67v1m0 100v2m0 15v1m0 14v2M262.8 1675v2m0 6v2m0 12v1m0 11v2m0 5v1m0 54v1m0 16v2m0 18v1m0 19v2m0 60v1m0 27v1m0 1v2m0 4v2m0 2v1m0 93v1M288.8 1748v1m0 52v1m0 18v1m0 14v2m0 25v1m0 15v2m0 8v2m0 242v1m0 22v1M314.8 1700v1m0 148v2m0 23v1m0 35v1m0 1v2m0 10v1m0 10v2m0 180v1m0 44v2M340.8 1685v1m0 43v1m0 31v2m0 27v2m0 32v2m0 5v1m0 2v1m0 12v1m0 22v2m0 23v2m0 1v1m0 15v1m0 245v2M366.8 1706v1m0 53v1m0 65v1m0 8v2m0 317v1m0 11v2m0 2v2M392.8 1767v1m0 2v1m0 155v2m0 162v1m0 69v2M418.8 1670v2m0 21v2m0 6v1m0 92v1m0 19v2m0 49v1m0 31v1m0 268v2m0 2v2M444.8 1724v1m0 105v1m0 95v2m0 33v3m0 6v1m0 30v2m0 17v1m0 10v1m0 6v2m0 6v2m0 11v1m0 14v4m0 4v1m0 1v1m0 3v1m0 4v2m0 9v2m0 12v1m0 6v4m0 1v3m0 5v1m0 4v2m0 9v1m0 4v1M470.8 1698v1m0 95v1m0 100v3m0 45v1m0 13v2m0 21v2m0 15v2m0 1v1m0 2v3m0 6v1m0 7v1m0 15v2m0 17v2m0 2v2m0 2v2m0 2v2m0 3v1m0 6v2m0 12v2m0 2v1m0 2v1m0 12v4m0 1v1m0 6v2m0 5v1m0 3v2m0 10v2m0 5v2m0 11v2M496.8 1685v1m0 135v1m0 104v2m0 15v1m0 1v2m0 2v7m0 9v3m0 5v2m0 9v1m0 4v3m0 3v2m0 4v2m0 1v2m0 4v2m0 4v2m0 6v1m0 2v4m0 15v2m0 18v1m0 2v1m0 2v1m0 1v2m0 5v1m0 2v1m0 4v2m0 10v2m0 1v2m0 4v2m0 5v1m0 14v1m0 13v2m0 2v2m0 2v1M522.8 1724v1m0 25v1m0 9v1m0 103v1m0 84v2m0 8v2m0 4v1m0 9v2m0 7v1m0 5v2m0 14v1m0 13v4m0 16v1m0 12v2m0 2v2m0 7v1m0 16v1m0 4v1m0 9v2m0 12v3m0 4v2m0 11v1m0 7v3m0 11v1M548.8 1938v1m0 9v3m0 14v1m0 9v2m0 3v2m0 15v2m0 1v1m0 9v2m0 8v1m0 11v2m0 6v1m0 2v1m0 15v1m0 6v1m0 5v4m0 8v1m0 16v2m0 27v2m0 1v2m0 3v1m0 3v3m0 1v2m0 7v2M574.8 1886v2m0 56v1m0 4v2m0 19v5m0 28v1m0 2v1m0 18v2m0 4v1m0 11v1m0 6v2m0 3v2m0 3v1m0 2v2m0 5v3m0 6v2m0 5v2m0 7v3m0 15v2m0 6v4m0 4v1m0 8v1m0 21v2m0 2v2M600.8 1764v1m0 178v1m0 7v2m0 3v1m0 18v2m0 5v2m0 1v2m0 16v1m0 2v1m0 6v2m0 5v1m0 2v1m0 28v1m0 20v1m0 5v2m0 3v1m0 13v3m0 2v1m0 3v1m0 4v1m0 6v2m0 6v3m0 5v1m0 6v1m0 2v1m0 6v2m0 5v1M626.8 1677v1m0 267v2m0 2v2m0 15v2m0 2v7m0 2v1m0 9v3m0 3v2m0 3v1m0 2v1m0 16v3m0 18v2m0 1v2m0 7v2m0 6v2m0 43v2m0 7v2m0 19v2m0 5v2m0 1v4M652.8 1867v1m0 76v1m0 4v2m0 5v1m0 16v2m0 22v2m0 1v1m0 2v1m0 6v5m0 3v2m0 3v2m0 6v3m0 2v2m0 3v3m0 15v4m0 2v1m0 4v2m0 6v3m0 7v1m0 9v2m0 3v3m0 29v1m0 9v1m0 2v2m0 2v2M678.8 1716v2m0 51v1m0 118v2m0 53v1m0 27v2m0 6v5m0 6v2m0 18v2m0 8v1m0 23v2m0 9v2m0 28v1m0 5v1m0 1v4m0 15v1m0 12v2m0 6v2m0 11v2m0 11v1M704.8 1699v1m0 18v1m0 41v1m0 33v1m0 46v1m0 34v1m0 16v1m0 8v1m0 3v1m0 16v1m0 95v1m0 39v1m0 86v2M730.8 1796v1m0 107v1m0 61v1m0 203v2M756.8 1742v1m0 15v1m0 92v2m0 13v1m0 127v1m0 29v1m0 34v2m0 24v1m0 54v2m0 8v2M782.8 1707v1m0 185v1m0 175v1M808.8 1772v1m0 65v2m0 184v1m0 58v1M834.8 1750v1m0 159v1m0 13v1m0 59v1m0 19v2m0 30v2m0 89v2M860.8 1707v2m0 61v1m0 10v1m0 128v1m0 107v1m0 12v1m0 114v2m0 4v2M886.8 1675v1m0 16v1m0 6v1m0 5v1m0 16v1m0 44v1m0 81v1m0 15v1m0 8v1m0 132v2m0 3v1m0 78v1m0 51v2M912.8 1718v2m0 19v2m0 160v2m0 41v1m0 6v2m0 20v4m0 10v2m0 40v2m0 7v2m0 10v3m0 10v2m0 33v2m0 7v1M938.8 1678v1m0 79v1m0 38v1m0 13v2m0 57v2m0 13v1m0 17v2m0 41v1m0 68v1m0 11v1m0 110v1m0 7v1"/>
<path stroke="#936" d="M184.8 1669v1M210.8 1701v1M236.8 1704v1M262.8 1749v1M418.8 1742v1m0 129v3M444.8 1673v2"/>
<path stroke="#dbc" d="M184.8 1672v1M236.8 2164v2M262.8 2078v1m0 61v2M288.8 1695v2m0 152v2M314.8 1802v2m0 20v2M366.8 1677v1m0 1v2M392.8 1697v1m0 2v1m0 98v2M548.8 1704v1m0 183v2M704.8 1980v2m0 22v2m0 19v2m0 80v1m0 5v2M756.8 2138v1M782.8 1959v2m0 4v1m0 87v2m0 48v1m0 6v2M808.8 1675v1m0 133v2m0 61v2m0 196v2M834.8 2055v2M860.8 1854v2M886.8 2060v1m0 9v2m0 6v1M912.8 1706v1M938.8 1691v2m0 238v1"/>
<path stroke="#eef" d="M184.8 1673v2m0 10v1M210.8 1957v4m0 14v2m0 13v2m0 52v2m0 17v2m0 4v1m0 13v1m0 1v1m0 22v2m0 22v1M262.8 1670v2m0 100v1m0 107v2m0 88v1m0 26v2m0 66v1m0 49v2m0 21v1m0 31v2M340.8 1701v1m0 126v2m0 171v2m0 37v1m0 25v1m0 39v2m0 25v2m0 8v2M418.8 1980v2m0 133v2M444.8 1685v1m0 170v2m0 9v1m0 17v1m0 20v1m0 33v2M470.8 1686v1m0 55v1m0 65v1M496.8 1746v1m0 90v1m0 97v2M522.8 1893v2M548.8 1732v1m0 6v2m0 18v1M574.8 1670v2m0 118v2m0 16v1m0 5v2M626.8 1746v1m0 152v1m0 18v1m0 9v2M652.8 1673v2m0 152v1m0 35v1M678.8 1707v2M704.8 1749v1M730.8 1663v1m0 1v21m0 1v2m0 2v4m0 1v6m0 1v3m0 1v7m0 1v2m0 2v2m0 1v5m0 1v5m0 1v8m0 1v5m0 1v2m0 1v1m0 2v13m0 1v2m0 1v2m0 1v4m0 1v1m0 1v5m0 1v7m0 2v14m0 1v3m0 2v5m0 1v5m0 3v7m0 1v5m0 1v1m0 1v2m0 1v1m0 1v3m0 2v6m0 1v1m0 1v2m0 1v4m0 1v4m0 1v2m0 1v3m0 2v5m0 1v8m0 1v2m0 1v11m0 1v5m0 1v1m0 1v1m0 1v8m0 1v4m0 2v5m0 1v2m0 2v12m0 3v41m0 2v3m0 1v25m0 1v10m0 2v1m0 1v8m0 1v2m0 1v6m0 1v1m0 1v5m0 1v2m0 2v10m0 1v8m0 1v2m0 1v10m0 1v1m0 1v8m0 1v22m0 1v1m0 1v5M782.8 2050v2M886.8 1735v1m0 20v1M912.8 2110v2"/>
<path stroke="#e88" d="M184.8 1675v1m0 24v1m0 48v1m0 4v1m0 5v1m0 22v2m0 35v1m0 47v2m0 12v1m0 12v2m0 2v1m0 5v1m0 3v1m0 1v1m0 3v1M210.8 1663v1m0 2v1m0 3v2m0 96v1m0 5v2m0 55v1m0 32v1m0 5v2m0 16v2m0 8v1m0 15v1m0 20v2m0 5v1M236.8 1663v1m0 21v1m0 34v2m0 15v1m0 15v1m0 22v2m0 14v2m0 27v1m0 42v1m0 30v2M262.8 1736v2m0 3v1m0 67v2m0 2v1m0 42v2m0 5v1m0 22v2m0 3v1m0 19v1M288.8 1717v1m0 158v2m0 47v1m0 122v1m0 45v1M314.8 1761v2m0 13v2m0 168v1m0 100v1M340.8 1668v1m0 7v1m0 18v2m0 5v2m0 28v1m0 6v2m0 6v2m0 11v1m0 24v1m0 13v2m0 21v2m0 41v1m0 41v3m0 29v1M366.8 1689v1m0 107v1m0 87v1m0 5v1m0 121v1m0 62v1m0 7v1m0 34v1m0 21v1M392.8 1691v2m0 83v2m0 140v1m0 63v1M418.8 1673v2m0 10v1m0 62v1m0 5v1m0 24v1m0 81v1m0 8v2m0 127v1M444.8 1668v1m0 18v2m0 48v1m0 207v2m0 10v2m0 14v2m0 20v2m0 19v3m0 66v1m0 15v2m0 4v1m0 5v2m0 2v1m0 27v1M470.8 1681v2m0 226v1m0 39v2m0 10v1m0 3v1m0 11v2m0 16v2m0 22v1m0 4v1m0 4v2m0 10v2m0 1v2m0 28v2m0 2v1m0 6v1m0 20v1m0 3v2M496.8 1760v1m0 105v1m0 19v2m0 22v1m0 33v1m0 14v2m0 18v1m0 12v1m0 6v1m0 3v1m0 3v3m0 3v2m0 23v2m0 10v2m0 13v1m0 1v2m0 16v1m0 22v2m0 32v1M522.8 1676v1m0 121v1m0 113v2m0 29v1m0 4v1m0 17v2m0 2v1m0 9v2m0 5v2m0 12v2m0 13v2m0 7v2m0 4v5m0 23v1m0 41v3m0 6v2m0 6v1m0 4v2m0 2v3m0 25v2M548.8 1858v1m0 111v1m0 11v2m0 19v3m0 6v1m0 8v2m0 2v2m0 17v4m0 9v2m0 10v3m0 32v2m0 9v2m0 23v2m0 6v2M574.8 1713v2m0 247v2m0 11v2m0 10v2m0 12v2m0 18v2m0 4v4m0 1v2m0 2v2m0 14v1m0 14v2m0 29v3m0 7v2m0 2v1m0 23v2m0 4v1m0 27v2M600.8 1722v1m0 32v2m0 31v2m0 102v1m0 84v2m0 1v2m0 10v1m0 2v2m0 7v2m0 10v2m0 37v2m0 2v1m0 46v1m0 14v2m0 25v2m0 4v1M626.8 1672v1m0 187v1m0 92v2m0 7v2m0 20v1m0 2v2m0 3v1m0 20v3m0 8v1m0 4v2m0 19v2m0 8v1m0 20v3m0 8v1m0 11v2m0 33v1m0 14v1M652.8 1716v1m0 40v1m0 68v1m0 49v2m0 75v2m0 6v1m0 9v2m0 54v2m0 17v2m0 2v2m0 11v2m0 8v1m0 11v1m0 3v3m0 8v1m0 5v1m0 5v1m0 2v2m0 1v1m0 10v1m0 6v2m0 1v1m0 6v2M678.8 1947v1m0 8v1m0 8v1m0 2v2m0 27v3m0 16v2m0 1v1m0 14v2m0 25v2m0 16v2m0 17v3m0 7v2m0 5v2m0 23v2m0 8v2M704.8 1700v1m0 33v1m0 46v1m0 21v1m0 106v1m0 133v2m0 83v1M730.8 2080v1m0 73v1m0 9v2M756.8 1771v1m0 39v2m0 77v1m0 70v1m0 3v1m0 7v2m0 77v1m0 42v2m0 30v2m0 39v2M782.8 1665v1m0 98v1m0 14v1m0 182v2m0 118v1M808.8 1677v1m0 25v1m0 7v2m0 51v1m0 147v2m0 8v2m0 9v2m0 18v2m0 6v1m0 150v3m0 14v1m0 29v1M834.8 1794v1m0 61v2m0 98v1m0 23v2m0 19v2m0 80v1m0 1v3m0 1v2m0 1v1M860.8 1666v1m0 38v1m0 10v1m0 8v2m0 135v1m0 44v2m0 110v1m0 12v2m0 52v2M886.8 1724v1m0 22v1m0 23v1m0 48v1m0 5v1m0 50v1m0 106v1m0 16v2m0 69v1m0 9v1m0 9v1M912.8 1720v2m0 26v1m0 190v1m0 64v2m0 30v2m0 62v1M938.8 1713v2m0 2v1m0 279v1m0 162v2m0 6v2"/>
<path stroke="#e55" d="M184.8 1676v1m0 6v2m0 19v1m0 4v2m0 2v2m0 10v2m0 26v1m0 10v1m0 4v1m0 9v1m0 14v1m0 18v1m0 12v1m0 11v2m0 51v1m0 1v2m0 202v1m0 67v1M210.8 1673v2m0 24v1m0 4v1m0 12v1m0 4v1m0 13v1m0 8v1m0 7v1m0 32v2m0 20v1m0 28v1m0 4v2m0 4v1m0 12v1M236.8 1673v2m0 28v1m0 21v2m0 23v1m0 3v1m0 4v2m0 63v2m0 9v2m0 17v2m0 26v1m0 54v1m0 4v1M262.8 1693v2m0 6v1m0 49v3m0 28v1m0 43v1m0 7v1m0 18v3m0 11v1m0 8v2m0 41v1M288.8 1700v1m0 64v1m0 1v1m0 60v2m0 34v1m0 28v2m0 219v1m0 39v1M314.8 1705v1m0 28v2m0 15v2m0 25v1m0 313v1M340.8 1697v1m0 1v2m0 19v2m0 33v3m0 1v1m0 6v1m0 41v1m0 39v1m0 2v2m0 27v2m0 33v1m0 9v1m0 4v1M366.8 1691v2m0 43v1m0 116v1m0 216v1M392.8 1745v1m0 5v2m0 51v2m0 82v2m0 96v1m0 44v1m0 108v1M418.8 1677v1m0 12v1m0 58v1m0 9v1m0 35v2m0 19v2m0 70v2m0 29v1m0 135v2m0 103v2m0 6v2M444.8 1779v1m0 142v2m0 27v2m0 2v1m0 3v2m0 26v2m0 30v1m0 32v1m0 19v1m0 6v2m0 10v1m0 8v1m0 9v2m0 3v2m0 19v2m0 19v2M470.8 1828v2m0 114v1m0 2v1m0 5v3m0 14v1m0 19v2m0 17v1m0 3v2m0 3v1m0 19v2m0 8v2m0 11v2m0 3v1m0 14v1m0 7v3m0 3v2m0 7v2m0 1v1m0 21v1m0 8v1m0 13v2m0 5v1M496.8 1736v1m0 153v1m0 49v2m0 14v1m0 23v2m0 3v4m0 11v1m0 5v1m0 14v2m0 2v2m0 4v1m0 9v2m0 5v2m0 3v2m0 15v2m0 7v2m0 7v1m0 4v4m0 6v1m0 8v1m0 2v2m0 2v2m0 2v2m0 2v2m0 1v2m0 23v2M522.8 1673v2m0 97v1m0 174v1m0 16v1m0 20v2m0 5v1m0 2v2m0 32v2m0 12v1m0 2v2m0 13v2m0 13v5m0 26v1m0 28v2m0 1v1m0 10v2m0 5v2M548.8 1734v2m0 17v1m0 190v4m0 5v2m0 9v1m0 1v2m0 9v2m0 10v1m0 17v2m0 15v1m0 9v2m0 2v2m0 1v2m0 55v2m0 6v1m0 3v2m0 1v2m0 14v1m0 9v1m0 5v1M574.8 1956v1m0 4v1m0 2v4m0 9v2m0 18v3m0 4v2m0 17v1m0 10v2m0 4v1m0 28v1m0 6v3m0 6v1m0 7v2m0 9v2m0 4v2m0 5v1m0 7v4m0 4v2m0 4v1M600.8 1832v2m0 110v1m0 8v2m0 2v2m0 2v1m0 3v3m0 16v1m0 12v2m0 2v2m0 16v1m0 9v2m0 3v2m0 4v3m0 14v2m0 1v3m0 3v1m0 15v1m0 5v1m0 28v1m0 7v2m0 11v1M626.8 1685v1m0 261v1m0 3v2m0 4v2m0 2v1m0 6v2m0 7v2m0 14v1m0 16v3m0 5v1m0 12v1m0 11v1m0 4v2m0 13v2m0 4v1m0 3v5m0 11v2m0 2v2m0 23v1m0 8v3m0 2v1m0 37v2M652.8 1701v1m0 190v1m0 52v2m0 4v2m0 17v1m0 9v2m0 8v2m0 14v1m0 18v2m0 2v2m0 13v2m0 2v2m0 16v1m0 5v1m0 11v1m0 53v1m0 16v2m0 2v1M678.8 1741v1m0 158v1m0 60v1m0 2v1m0 24v1m0 16v3m0 18v4m0 5v2m0 3v2m0 5v2m0 13v2m0 2v2m0 3v2m0 8v1m0 9v1m0 14v1m0 11v2m0 21v3M704.8 1710v1m0 5v1m0 13v1m0 27v1m0 2v1m0 9v1m0 30v1m0 3v1m0 100v1m0 1v1m0 16v1m0 10v1m0 9v1m0 167v2m0 26v2M730.8 1865v1m0 74v1m0 112v1m0 66v1M756.8 1668v1m0 77v1m0 47v1m0 97v1m0 35v2m0 21v2m0 44v2m0 28v2m0 135v2M782.8 1721v1m0 92v1m0 164v1M808.8 1844v2m0 98v1m0 40v2m0 2v1m0 41v1M834.8 1773v1m0 16v2m0 19v2m0 1v4m0 30v1m0 21v2m0 8v2m0 34v2m0 33v2m0 18v2m0 16v1m0 37v2m0 12v2m0 22v1m0 1v2m0 37v1m0 14v2m0 2v2m0 13v2m0 24v4M860.8 1698v1m0 59v1m0 75v1m0 64v1m0 93v1m0 9v1m0 36v1M886.8 1671v1m0 23v1m0 17v1m0 54v1m0 32v1m0 100v1m0 12v1m0 49v1m0 61v2M912.8 1663v1m0 26v1m0 52v2m0 41v2m0 77v1m0 143v1m0 51v2m0 11v2m0 37v2m0 14v3m0 20v2m0 3v2m0 7v2M938.8 1715v2m0 14v1m0 27v1m0 25v1m0 72v1m0 24v2m0 5v1m0 82v1m0 75v1m0 18v1m0 30v1m0 28v1"/>
<path stroke="#d33" d="M184.8 1678v1m0 53v1m0 4v1m0 70v1m0 97v1m0 254v1M210.8 1679v2m0 68v1m0 23v1m0 2v2m0 10v2m0 2v2m0 59v1m0 24v2M236.8 1666v1m0 8v1m0 82v1m0 9v1m0 2v1m0 74v1m0 45v1m0 29v2m0 126v2m0 31v1m0 28v1M262.8 1679v2m0 21v1m0 43v1m0 77v2m0 36v1m0 38v2m0 4v2m0 28v1M288.8 1811v2m0 102v1m0 37v1m0 78v1M314.8 1706v1m0 88v2m0 89v2m0 112v1m0 16v1M340.8 1663v1m0 6v2m0 14v1m0 55v1m0 36v1m0 26v2m0 10v2M366.8 1669v1m0 60v1m0 57v2m0 296v1m0 35v1M392.8 1677v1m0 81v1m0 406v2M418.8 1698v1m0 40v3m0 39v1m0 15v1m0 1v3m0 47v2m0 12v1m0 3v1m0 12v2m0 11v2M444.8 1971v2m0 11v1m0 82v2m0 17v2m0 10v2M470.8 1971v2M496.8 2076v2m0 65v2M522.8 1737v1m0 26v1m0 279v2M548.8 2081v1M574.8 2053v2M600.8 2018v1m0 25v2m0 43v2M626.8 2016v2M652.8 1767v1m0 340v2m0 9v2M704.8 1666v1m0 30v1m0 14v1m0 287v1m0 163v2m0 2v2M730.8 1702v1m0 45v1m0 32v1M756.8 1816v2m0 218v2M782.8 1679v1m0 61v1m0 23v1m0 374v2M808.8 1736v1M834.8 1875v1m0 59v2m0 7v1m0 153v2m0 50v2M860.8 1764v1m0 173v1m0 113v1m0 90v2M886.8 1672v1m0 68v1m0 80v1m0 65v1m0 195v1M912.8 2086v2m0 5v2M938.8 1736v1m0 31v1m0 4v1m0 57v1m0 74v1m0 2v1"/>
<path stroke="#d22" d="M184.8 1679v2m0 6v2m0 12v1m0 4v1m0 26v1m0 46v1m0 20v1m0 61v1m0 1v1m0 8v1m0 39v1m0 11v2m0 2v1m0 88v1m0 142v1M210.8 1731v1m0 19v2m0 5v1m0 4v1m0 42v2m0 93v4M236.8 1702v1m0 21v1m0 23v1m0 123v2m0 9v3m0 33v1M262.8 1707v2m0 20v1m0 48v1m0 43v2m0 3v1m0 55v2m0 50v2M288.8 1666v1m0 22v1m0 161v2m0 39v1m0 86v1m0 36v1m0 49v1m0 5v1m0 9v1m0 41v1M314.8 1670v2m0 3v1m0 194v2m0 16v2m0 174v1m0 91v2M340.8 1749v1m0 15v1m0 2v1m0 9v1m0 47v2M366.8 1801v1m0 56v1m0 85v1m0 21v1m0 27v1m0 31v1m0 1v1m0 26v1m0 29v1m0 28v1m0 6v1m0 13v1M392.8 1670v2m0 4v1m0 151v2m0 33v1m0 37v2m0 17v2m0 9v1M418.8 1664v2m0 6v1m0 31v1m0 4v2m0 14v2m0 38v1m0 5v1m0 32v2m0 62v2m0 33v2m0 20v3m0 2v1M444.8 1757v1m0 410v2M470.8 1705v1m0 166v2M496.8 1939v1M522.8 1727v2m0 215v1M548.8 1861v1m0 73v2m0 69v1m0 85v1M574.8 2007v2m0 57v1m0 24v1M600.8 1786v2m0 75v1m0 84v1M626.8 1930v1m0 202v2M704.8 1668v1m0 11v1m0 30v1m0 14v1m0 25v1m0 56v1m0 13v1m0 37v1m0 2v1m0 12v1m0 51v1m0 38v2m0 200v2M730.8 1811v1m0 39v1m0 3v1m0 30v1M756.8 1799v2m0 3v2M782.8 1682v1m0 59v1M808.8 1669v1m0 127v1m0 347v1M834.8 1686v1m0 150v1m0 117v1m0 17v2m0 143v1M860.8 1685v1m0 48v2m0 15v2m0 79v2m0 49v2m0 27v2m0 106v1m0 36v2M886.8 1664v1m0 88v1m0 8v1m0 30v1m0 10v1m0 1v1m0 11v1m0 26v1m0 41v1m0 54v1m0 46v1m0 25v1m0 5v2M912.8 1867v1m0 98v2m0 113v2M938.8 1782v1m0 61v2m0 55v2m0 110v1m0 37v1m0 81v1"/>
<path stroke="#d32" d="M184.8 1681v2m0 115v1m0 17v2m0 19v1m0 141v1m0 108v1m0 38v2M210.8 1761v2m0 20v2m0 120v1M236.8 1695v2m0 3v1m0 150v2M262.8 1699v1m0 13v2m0 66v1m0 13v2m0 91v2M288.8 1724v1M314.8 1885v1m0 4v1m0 124v1M340.8 1678v3m0 211v1m0 42v2M366.8 1779v1m0 159v1m0 215v1M392.8 1727v2m0 227v1m0 65v1M418.8 1667v1m0 27v2m0 111v1m0 18v1m0 12v2m0 20v1m0 19v1M444.8 1774v2M470.8 1973v2M496.8 1897v1M522.8 1790v2m0 343v1M548.8 1681v2m0 307v2M574.8 1666v1m0 414v1m0 37v2M600.8 1949v2m0 61v1M626.8 1678v1M652.8 1742v1m0 56v2m0 188v1M678.8 1788v2M704.8 1683v1m0 30v1m0 13v1m0 14v1m0 46v1m0 46v1m0 2v1m0 6v1m0 312v4m0 2v2M730.8 1935v1M756.8 1776v2m0 204v2M782.8 1999v1M808.8 1886v2m0 28v2m0 141v1M834.8 1743v2m0 141v2m0 220v2M860.8 1742v1m0 135v2M886.8 1781v1m0 23v1m0 28v1m0 47v1m0 40v1m0 25v2m0 65v2m0 25v1m0 9v2m0 87v1m0 11v1M912.8 1757v1m0 262v1m0 4v2m0 5v2m0 14v2m0 28v1M938.8 1709v2m0 91v2"/>
<path stroke="#f99" d="M184.8 1686v1m0 8v2m0 49v1m0 14v2m0 15v1m0 25v2m0 28v1m0 51v2m0 31v1M210.8 1677v1m0 65v2m0 5v1m0 43v1m0 32v1m0 16v2m0 10v2m0 70v3M236.8 1689v2m0 41v2m0 12v1m0 64v2m0 25v2m0 319v1M262.8 1689v1m0 16v1m0 27v2m0 7v2m0 12v1m0 58v2m0 60v2m0 60v2M288.8 2003v1m0 141v1m0 10v1M314.8 1820v1m0 153v1m0 35v1m0 13v1m0 4v1m0 48v1M340.8 1666v1m0 119v2m0 71v1m0 52v2m0 19v2m0 3v1m0 207v2M366.8 2005v1m0 6v1m0 131v1M392.8 1683v2m0 368v1m0 51v1m0 7v1M418.8 1679v2m0 52v1m0 3v1m0 392v2m0 32v2M444.8 1697v1m0 17v1m0 228v1m0 32v2m0 3v2m0 20v2m0 6v1m0 12v2m0 68v2m0 11v2m0 25v1m0 12v2M470.8 1767v1m0 92v1m0 4v1m0 1v1m0 94v2m0 4v2m0 14v1m0 2v2m0 5v1m0 28v1m0 16v1m0 2v1m0 2v2m0 5v2m0 2v2m0 10v1m0 6v2m0 5v1m0 2v3m0 28v1m0 5v2m0 20v1M496.8 1861v1m0 13v3m0 33v1m0 36v1m0 48v2m0 21v1m0 115v3M522.8 1663v1m0 235v1m0 51v2m0 4v2m0 12v2m0 90v2m0 65v2M548.8 1695v2m0 265v2m0 15v1m0 72v1m0 36v2m0 45v2M574.8 1883v2m0 39v1m0 121v2m0 100v2m0 2v2M600.8 1663v1m0 128v2m0 176v1m0 75v2m0 28v2m0 62v2M626.8 1964v1m0 20v2m0 83v3m0 39v1m0 25v1m0 13v2m0 6v2M652.8 1864v1m0 78v1m0 3v1m0 14v2m0 2v2m0 9v2m0 30v1m0 82v1m0 4v1m0 27v2m0 30v2m0 7v2M678.8 1832v2m0 22v2m0 68v4m0 14v1m0 70v1m0 62v1m0 5v1m0 4v2m0 22v2m0 3v1M704.8 1759v1m0 24v1m0 15v1m0 27v1m0 1v1m0 36v1m0 21v1m0 5v1m0 7v1m0 127v1M730.8 1690v1m0 155v1m0 79v1m0 112v1m0 89v1M756.8 1910v1m0 14v1m0 21v1m0 36v1m0 40v2M782.8 1874v1M808.8 1856v2m0 294v2M834.8 1844v2m0 172v1M860.8 1670v2m0 23v2m0 6v1m0 75v1m0 219v1M886.8 1729v1m0 160v1m0 14v1m0 180v2m0 60v2M912.8 1691v2m0 144v1m0 60v1m0 17v2m0 14v1m0 44v2m0 5v1m0 27v1m0 84v1m0 38v2M938.8 1663v1m0 90v1m0 10v1m0 396v2"/>
<path stroke="#66b" d="M184.8 1689v1m0 44v2m0 30v1m0 23v4m0 33v1m0 2v1m0 22v1m0 13v1m0 7v1m0 34v1M210.8 1754v3m0 52v2m0 10v1m0 13v2m0 9v1m0 12v1m0 52v2m0 4v1M236.8 1664v2m0 21v2m0 4v2m0 4v1m0 11v2m0 3v2m0 13v1m0 133v1M262.8 1668v1m0 12v2m0 2v1m0 5v2m0 31v1m0 2v2m0 26v2m0 2v1m0 19v1m0 22v2m0 31v2m0 11v3m0 24v1m0 38v1M340.8 1667v1m0 39v2m0 13v1m0 27v1m0 43v1m0 26v1m0 53v1m0 42v1m0 3v2M418.8 1686v1m0 19v1m0 31v1m0 28v2m0 33v2m0 17v1m0 13v2m0 17v2m0 22v2m0 19v1m0 31v1m0 32v1m0 14v1m0 4v1m0 44v2m0 10v2m0 20v2m0 2v2m0 17v2m0 24v1M444.8 1681v2m0 7v1m0 7v2m0 17v1m0 11v1m0 11v1m0 8v1m0 16v1m0 1v1m0 6v2m0 4v1m0 7v2m0 19v2m0 18v1m0 2v1m0 9v2m0 1v1m0 5v1m0 4v1m0 4v1m0 12v2m0 2v2m0 9v1m0 1v2m0 8v3m0 13v1m0 5v1m0 7v2M470.8 1670v5m0 2v1m0 13v2m0 11v1m0 27v1m0 3v1m0 4v1m0 1v2m0 5v1m0 7v2m0 3v1m0 1v1m0 3v1m0 2v1m0 1v2m0 2v2m0 24v2m0 5v2m0 3v2m0 3v1m0 5v1m0 14v2m0 14v1m0 11v2m0 8v3m0 3v2m0 5v2m0 8v2m0 9v1m0 3v1m0 12v1m0 1v2m0 2v1M496.8 1664v2m0 12v1m0 12v2m0 18v2m0 37v1m0 8v1m0 11v2m0 5v1m0 19v3m0 1v4m0 2v1m0 11v1m0 13v1m0 5v4m0 3v1m0 6v2m0 14v2m0 10v1m0 8v1m0 14v3m0 7v2m0 1v1m0 10v1m0 1v1m0 4v1M522.8 1669v1m0 8v1m0 11v1m0 11v1m0 2v1m0 14v2m0 10v1m0 13v1m0 4v2m0 13v1m0 2v1m0 1v1m0 9v1m0 3v1m0 11v1m0 1v2m0 3v2m0 5v2m0 15v2m0 12v2m0 2v1m0 1v3m0 3v2m0 19v1m0 9v1m0 49v2M548.8 1663v1m0 6v2m0 6v1m0 10v1m0 1v2m0 4v1m0 1v1m0 2v1m0 6v2m0 13v5m0 19v1m0 6v3m0 3v2m0 5v2m0 13v2m0 1v2m0 2v2m0 24v4m0 2v2m0 8v6m0 8v1m0 12v1m0 4v2m0 17v2m0 8v2m0 4v1m0 1v4m0 13v1m0 6v3m0 4v1m0 4v1M574.8 1672v1m0 6v2m0 4v1m0 5v2m0 7v2m0 1v1m0 3v2m0 2v2m0 2v1m0 6v1m0 6v1m0 1v1m0 2v4m0 1v2m0 1v1m0 5v1m0 2v3m0 1v3m0 2v1m0 2v1m0 7v2m0 36v2m0 7v2m0 2v2m0 3v1m0 3v4m0 7v2m0 2v1m0 1v1m0 4v1m0 5v1m0 1v1m0 3v1m0 34v6m0 1v2m0 3v2m0 1v3m0 1v1m0 2v2m0 2v4m0 2v5M600.8 1669v3m0 1v3m0 3v2m0 2v2m0 2v3m0 5v2m0 2v1m0 1v2m0 2v1m0 12v2m0 10v1m0 1v1m0 1v4m0 8v1m0 1v1m0 20v1m0 10v1m0 2v2m0 10v2m0 1v1m0 2v1m0 7v2m0 9v1m0 3v2m0 36v1m0 11v2m0 7v2m0 8v2m0 14v1m0 14v1m0 14v1M626.8 1663v1m0 2v1m0 20v2m0 15v1m0 8v2m0 1v1m0 6v1m0 25v4m0 1v3m0 4v3m0 8v4m0 7v2m0 1v2m0 4v3m0 11v2m0 1v2m0 3v2m0 4v2m0 15v5m0 4v2m0 1v2m0 3v2m0 7v1m0 2v1m0 7v1m0 1v2m0 12v2m0 19v4m0 1v2m0 1v1m0 2v2m0 2v2m0 10v1M652.8 1672v1m0 27v1m0 12v2m0 26v1m0 12v1m0 6v2m0 3v1m0 11v1m0 16v4m0 14v1m0 7v1m0 6v2m0 8v2m0 4v3m0 14v1m0 13v1m0 4v3m0 31v1m0 27v1M678.8 1667v1m0 35v1m0 9v2m0 24v2m0 16v1m0 6v1m0 5v1m0 7v1m0 1v1m0 13v1m0 7v2m0 10v2m0 6v4m0 4v2m0 2v1m0 5v2m0 7v2m0 11v1m0 1v1m0 15v2m0 17v1m0 10v1m0 5v2m0 22v2M834.8 1668v1m0 1v2m0 23v2m0 1v1m0 1v1m0 1v1m0 10v2m0 2v1m0 13v1m0 4v1m0 12v1m0 1v2m0 1v1m0 14v1m0 25v2m0 12v2m0 23v1m0 33v2m0 20v1m0 4v3m0 11v1m0 2v2"/>
<path stroke="#e44" d="M184.8 1690v1m0 47v1m0 3v1m0 2v1m0 35v1m0 29v2m0 9v2m0 8v2m0 1v2m0 21v1m0 5v1m0 35v1M210.8 1687v2m0 11v1m0 4v1m0 23v1m0 16v1m0 34v1m0 15v1m0 26v2m0 36v1m0 3v1m0 39v1m0 9v2m0 8v2M236.8 1697v1m0 67v1m0 13v2m0 28v2m0 5v4m0 77v1m0 5v2m0 2v2m0 17v2m0 25v2m0 29v1m0 177v2M262.8 1666v1m0 28v2m0 6v1m0 70v2m0 16v2m0 44v2m0 4v2m0 49v2m0 18v1M288.8 1799v2M314.8 1711v2m0 3v1m0 81v1m0 47v1m0 28v1m0 7v2m0 30v1m0 53v1M340.8 1681v2m0 60v2m0 13v1m0 42v1m0 11v1m0 26v2M366.8 1697v1m0 9v2m0 36v1m0 84v1m0 66v1m0 21v1m0 77v1m0 6v1m0 55v1m0 42v1m0 56v4M392.8 1669v1m0 48v2m0 158v2m0 30v1m0 36v1m0 220v2M418.8 1702v1m0 14v1m0 6v1m0 7v1m0 43v2m0 5v2m0 81v1m0 8v1M444.8 1826v1m0 172v2m0 9v2m0 20v2m0 16v2m0 14v1m0 14v1M470.8 1985v2m0 6v1m0 16v2m0 19v1m0 20v1m0 12v1m0 61v2m0 13v1M496.8 1730v1m0 147v2m0 97v2m0 39v1m0 13v2m0 26v1m0 37v2m0 39v1m0 17v2M522.8 1704v1m0 223v2m0 23v2m0 38v1m0 3v2m0 8v2m0 1v2m0 152v2M548.8 1844v2m0 69v1m0 43v2m0 32v1m0 15v1m0 3v2m0 8v1m0 130v1M574.8 1979v1m0 10v2m0 2v1m0 21v3m0 29v2m0 9v1m0 24v1m0 50v1m0 10v2m0 2v2M600.8 1816v2m0 48v1m0 101v2m0 57v2m0 3v2m0 33v2m0 3v1m0 13v2m0 9v1m0 6v2m0 2v2m0 3v4m0 16v2m0 8v2M626.8 1834v1m0 113v1m0 45v1m0 6v2m0 3v1m0 20v2m0 5v2m0 50v2m0 7v2m0 24v2m0 34v2M652.8 1676v1m0 310v2m0 27v2m0 68v2m0 52v2m0 1v2M678.8 1687v2m0 259v1m0 21v1m0 32v1m0 20v1m0 79v2m0 4v2M704.8 1698v1m0 42v1m0 45v1m0 25v1m0 201v1m0 18v2m0 59v2M730.8 2162v2M756.8 1679v2m0 5v1m0 127v2m0 139v1m0 154v2M782.8 1726v1m0 228v1m0 204v2M808.8 1774v2m0 114v1m0 115v1m0 6v2m0 51v1m0 69v2M834.8 1878v2m0 38v1m0 121v1m0 3v2m0 99v1m0 16v2M860.8 1746v1m0 129v2m0 123v2m0 21v1M886.8 1684v1m0 4v1m0 6v1m0 68v1m0 20v1m0 28v1m0 7v1m0 19v1m0 27v1m0 56v1m0 3v1m0 136v1m0 68v1M912.8 1749v1m0 192v1m0 4v1m0 5v2m0 34v1m0 9v1m0 57v2m0 59v1m0 2v2m0 17v2m0 6v2M938.8 1675v1m0 46v1m0 38v2m0 7v1m0 10v1m0 34v2m0 64v1m0 15v1m0 265v2"/>
<path stroke="#958" d="M184.8 1693v2m0 46v1M210.8 1826v1M236.8 1668v1m0 224v2M262.8 1718v2m0 12v1M340.8 1672v1m0 115v2m0 95v1M418.8 1747v1m0 50v1M444.8 1678v1M470.8 1901v2M600.8 1903v2M652.8 1853v1m0 86v2M678.8 1711v2m0 5v2M834.8 1672v1m0 14v2m0 43v1m0 1v2m0 47v2m0 315v1"/>
<path stroke="#55a" d="M184.8 1697v1m0 59v1m0 90v1M210.8 1742v1m0 4v1m0 18v1m0 28v2m0 17v2m0 84v1m0 18v1M236.8 1745v1m0 9v2m0 13v1m0 14v1m0 81v1m0 7v1M262.8 1669v1m0 34v1m0 59v3m0 9v2m0 7v1m0 13v2m0 5v2m0 22v1m0 41v2m0 35v1m0 29v1M340.8 1675v1m0 58v2m0 56v2m0 44v2m0 27v1m0 6v1m0 15v1m0 2v2m0 33v2m0 7v1M418.8 1678v1m0 2v2m0 16v1m0 16v1m0 3v2m0 33v2m0 12v1m0 3v1m0 32v2m0 75v2m0 1v2m0 47v2M444.8 1667v1m0 1v1m0 2v1m0 2v1m0 25v1m0 2v1m0 4v4m0 17v1m0 1v1m0 6v2m0 8v1m0 3v1m0 1v2m0 9v1m0 4v1m0 9v1m0 1v2m0 10v2m0 1v1m0 2v1m0 26v2m0 8v2m0 6v1m0 2v2m0 8v1m0 10v2m0 3v1m0 12v3m0 1v1m0 8v2m0 9v4m0 4v2m0 8v1m0 4v2M470.8 1664v2m0 13v2m0 14v2m0 27v1m0 12v1m0 1v2m0 13v1m0 5v3m0 1v1m0 1v1m0 13v1m0 1v1m0 37v1m0 30v2m0 3v2m0 5v1m0 11v1m0 12v2m0 9v1m0 6v3m0 1v1m0 5v2m0 6v1m0 13v2m0 2v1M496.8 1666v1m0 5v1m0 10v2m0 13v1m0 1v1m0 1v1m0 6v2m0 7v4m0 1v1m0 7v1m0 2v2m0 6v4m0 18v1m0 16v1m0 3v1m0 11v1m0 15v1m0 18v2m0 33v1m0 15v2m0 20v1m0 16v2m0 9v2M522.8 1675v1m0 21v1m0 1v1m0 6v1m0 6v2m0 7v1m0 6v1m0 1v1m0 10v1m0 14v2m0 11v1m0 2v3m0 25v3m0 33v1m0 2v2m0 17v1m0 16v2m0 4v1m0 8v1m0 6v1m0 1v1m0 2v2m0 10v1m0 23v1m0 2v1M548.8 1690v1m0 7v1m0 4v1m0 3v2m0 2v2m0 10v1m0 9v1m0 40v2m0 16v2m0 3v1m0 3v1m0 4v5m0 15v1m0 1v3m0 7v2m0 7v1m0 15v1m0 11v1m0 15v1m0 3v2m0 12v1m0 18v2M574.8 1677v1m0 12v1m0 6v1m0 20v2m0 10v1m0 63v4m0 1v2m0 3v2m0 34v2m0 16v1m0 1v1m0 14v1m0 22v1m0 7v1m0 2v2m0 27v1M600.8 1672v1m0 8v2m0 3v1m0 4v2m0 30v1m0 1v2m0 18v1m0 7v1m0 6v1m0 33v1m0 4v2m0 17v2m0 1v1m0 4v1m0 7v3m0 3v4m0 24v2m0 31v2m0 8v1m0 3v1m0 17v2m0 2v1M626.8 1669v3m0 1v2m0 6v2m0 15v1m0 3v1m0 12v1m0 2v2m0 16v1m0 5v1m0 5v1m0 8v1m0 10v1m0 29v1m0 5v2m0 20v1m0 3v1m0 13v2m0 5v2m0 6v1m0 2v1m0 7v4m0 9v5m0 9v1m0 42v2M652.8 1664v3m0 12v2m0 2v2m0 2v2m0 4v2m0 7v1m0 1v1m0 15v2m0 8v1m0 1v1m0 12v1m0 1v1m0 20v1m0 2v1m0 2v2m0 5v1m0 10v2m0 14v1m0 15v2m0 6v2m0 3v1m0 4v2m0 10v2m0 3v1m0 6v1m0 18v1m0 5v1m0 1v2m0 3v1m0 2v2m0 8v1m0 14v2m0 2v1m0 6v1M678.8 1664v2m0 3v1m0 9v4m0 2v2m0 2v1m0 3v2m0 20v1m0 9v7m0 11v2m0 2v1m0 1v2m0 14v1m0 1v1m0 3v2m0 3v2m0 8v2m0 7v2m0 4v1m0 2v2m0 3v2m0 9v1m0 14v3m0 10v1m0 5v2m0 9v2m0 3v2m0 3v3m0 13v4m0 3v1m0 2v4m0 6v1m0 10v2m0 7v1"/>
<path stroke="#e54" d="M184.8 1699v1m0 47v1m0 24v1m0 359v1M210.8 1681v2m0 89v1m0 99v2m0 21v2M236.8 1763v1M262.8 1664v2M288.8 1681v2m0 138v1m0 120v1M314.8 1790v2m0 14v2M366.8 1759v1m0 99v1M392.8 1748v1m0 413v2M444.8 1947v4m0 46v2m0 24v1m0 17v2m0 60v1m0 46v2m0 3v2M470.8 1945v2m0 59v1m0 136v2M496.8 1968v2m0 1v2m0 88v2m0 19v1m0 14v1m0 2v1m0 32v2m0 24v1M522.8 1989v1m0 9v1m0 69v1M548.8 1994v1m0 87v1m0 12v2M574.8 2103v1m0 55v1M600.8 2015v1m0 8v1m0 45v2m0 13v1m0 69v2M626.8 1959v2m0 48v1m0 36v2m0 9v2M652.8 2004v2m0 76v1m0 27v2M704.8 2072v1M756.8 1792v2m0 141v2m0 101v2M808.8 1792v2M834.8 1706v1m0 53v1m0 327v1m0 46v1M860.8 1968v2m0 17v2m0 93v1M886.8 2125v2M912.8 1899v1m0 57v2m0 11v1m0 29v1m0 15v2M938.8 1872v2"/>
<path stroke="#947" d="M184.8 1702v1m0 235v1M210.8 1739v2M236.8 1938v1M340.8 1764v1m0 89v2m0 30v2m0 36v1M418.8 1731v1m0 26v1m0 75v1m0 93v2M470.8 1693v2m0 36v1M496.8 1670v2m0 240v2M522.8 1738v1m0 9v1M548.8 1771v1M626.8 1898v1M652.8 1780v1M678.8 1705v1"/>
<path stroke="#77c" d="M184.8 1703v1m0 142v1m0 45v1m0 25v1m0 18v1M210.8 1668v1m0 56v2M236.8 1738v1m0 98v1m0 40v2m0 10v1M262.8 1663v1m0 8v1m0 5v1m0 84v1m0 128v1M340.8 1711v2m0 14v2m0 69v1m0 64v1m0 2v1m0 43v1M418.8 1711v2m0 9v1m0 37v1m0 130v1m0 63v1m0 15v2m0 22v2m0 4v2m0 9v1m0 10v1m0 16v1m0 16v3m0 18v1m0 4v1m0 8v1m0 5v2m0 3v1m0 2v1m0 29v2m0 1v1m0 12v2m0 1v2M444.8 1764v1M470.8 1725v2m0 46v1m0 87v1M496.8 1716v1m0 147v1M522.8 1895v2m0 14v1M548.8 1738v1m0 3v1m0 6v2m0 47v1m0 3v2m0 45v2M574.8 1667v1m0 19v2m0 35v1m0 105v1m0 60v1m0 33v1M600.8 1750v1m0 17v1m0 42v2m0 52v1m0 10v2m0 40v1M626.8 1882v1M652.8 1663v1m0 51v1m0 47v1M678.8 1722v1m0 216v1M834.8 1664v2m0 9v1m0 28v1m0 18v2m0 16v2m0 22v1m0 4v1m0 5v2m0 44v2m0 18v2m0 30v1m0 7v1m0 15v1m0 1v1m0 30v1m0 7v1m0 85v2m0 39v1m0 48v2m0 6v2m0 29v1"/>
<path stroke="#a68" d="M184.8 1715v1m0 93v2M210.8 1734v2M236.8 1806v2m0 5v1M262.8 1910v1M340.8 1780v1M418.8 1774v2m0 10v2m0 88v2m0 262v2M470.8 1701v1M548.8 1886v2m0 52v2M574.8 1816v2M626.8 1867v1M678.8 1782v1M834.8 1771v1m0 14v2m0 30v2m0 11v1m0 327v1"/>
<path stroke="#969" d="M184.8 1717v1M210.8 1860v1M262.8 1722v1M678.8 1720v2m0 210v1M834.8 2139v1"/>
<path stroke="#e43" d="M184.8 1718v2m0 10v1m0 40v1m0 46v2m0 27v1m0 6v2m0 16v2m0 2v2m0 7v1m0 12v1m0 23v3m0 14v1M210.8 1686v1m0 6v2m0 12v2m0 14v1m0 3v2m0 73v2m0 9v1m0 14v2m0 45v1m0 33v2M236.8 1686v1m0 14v1m0 5v2m0 13v1m0 104v1m0 14v2m0 14v1m0 7v1m0 33v1m0 9v1m0 28v3m0 38v2m0 38v1M262.8 1687v2m0 41v1m0 16v1m0 10v1m0 139v1m0 39v1M288.8 1690v1m0 24v1m0 41v1m0 174v1m0 13v1m0 57v1m0 58v1M314.8 1673v2m0 8v2m0 157v2m0 62v1m0 15v2m0 16v2m0 42v1m0 24v1M340.8 1673v2m0 34v2m0 34v1m0 5v2m0 23v2m0 71v2m0 10v1m0 44v1m0 19v2M366.8 1713v2m0 218v2m0 8v1m0 78v1m0 65v1m0 3v1m0 52v1M392.8 1746v1m0 90v1m0 100v1m0 84v1M418.8 1683v2m0 33v2m0 43v1m0 6v1m0 1v1m0 40v1m0 6v1m0 10v1m0 15v1m0 12v1m0 46v2m0 2v1m0 3v1M444.8 1980v2m0 21v1m0 23v2m0 5v2m0 17v2m0 23v1m0 54v2M470.8 1720v2m0 305v2m0 44v1m0 76v2M496.8 2036v2m0 80v1M522.8 1730v1m0 34v1m0 196v2m0 54v1m0 33v1m0 29v1m0 63v2M548.8 1876v2m0 90v2m0 48v1m0 36v2m0 31v1m0 29v3M574.8 1992v1m0 7v1m0 40v2m0 114v2M600.8 1720v2m0 158v2m0 82v1m0 45v2m0 26v2m0 13v2M626.8 2110v2m0 38v2M652.8 1725v2m0 228v1m0 82v2M678.8 1677v1m0 277v1m0 87v1m0 2v2m0 82v2M704.8 1664v1m0 72v1m0 15v1m0 44v1m0 39v1m0 62v1m0 37v1M730.8 1873v1M756.8 1681v2m0 15v1m0 166v1m0 67v2M782.8 1821v1m0 49v1m0 195v2M808.8 1691v2M834.8 1906v3m0 36v2m0 48v2m0 85v1m0 12v2m0 58v2M860.8 1667v1m0 61v1m0 205v2m0 164v2m0 67v2M886.8 1720v1m0 28v1m0 53v1m0 35v1m0 33v1m0 90v1m0 45v2m0 6v1m0 145v2M912.8 1827v1m0 4v2m0 169v1m0 17v2m0 83v1M938.8 1723v1m0 135v1m0 6v1m0 170v1m0 38v1"/>
<path stroke="#fbb" d="M184.8 1720v2m0 14v1m0 49v2m0 82v2m0 8v2m0 51v2M210.8 1690v1m0 94v1m0 34v1m0 19v2m0 16v1m0 156v1m0 81v1m0 72v2M236.8 1705v1m0 28v2m0 5v1m0 32v2m0 10v2m0 13v1m0 54v2m0 56v1m0 10v1M262.8 1725v2m0 120v1m0 22v2m0 56v2m0 212v1M288.8 1853v1M340.8 1718v2m0 5v2m0 4v1m0 41v1m0 58v2m0 34v2m0 31v2m0 16v1m0 20v2m0 23v1m0 43v1m0 17v2m0 32v2m0 67v2m0 4v2m0 10v2m0 9v1m0 2v2M366.8 1940v2m0 92v1M392.8 1874v1m0 1v2m0 292v2M418.8 1707v2m0 137v1m0 67v1m0 95v2m0 121v2m0 13v2m0 7v2M444.8 1723v1m0 265v1m0 71v2M470.8 1745v1m0 51v1m0 80v2m0 5v1m0 26v2m0 6v2M496.8 1679v2m0 135v4m0 29v2m0 2v1m0 93v1m0 13v1m0 2v1M522.8 1685v1m0 7v4m0 306v1m0 34v2m0 8v2m0 75v2m0 21v2M548.8 1717v1m0 86v2m0 108v1m0 28v1m0 51v2m0 19v2M574.8 1663v1m0 38v1m0 67v1m0 64v2m0 152v1m0 102v1m0 69v2m0 2v2M600.8 1711v2m0 34v1m0 113v1m0 207v1m0 94v2M626.8 1795v2m0 113v1m0 108v1m0 12v2m0 51v1m0 82v2M652.8 1785v1m0 28v2m0 24v2m0 122v1m0 205v2M678.8 1724v1m0 43v1m0 197v2m0 5v2m0 180v2M704.8 1705v1m0 15v1m0 52v1m0 82v1m0 8v1m0 292v1M730.8 2160v2M756.8 1830v1m0 176v2M782.8 1875v1m0 90v2m0 196v2m0 2v2M808.8 1883v2m0 39v1m0 5v1m0 85v2m0 7v2M834.8 1774v2m0 59v2m0 24v1m0 115v2m0 37v2M860.8 1813v1m0 81v2M886.8 1886v1m0 145v2m0 105v1m0 26v2M912.8 1880v2m0 187v1m0 94v2M938.8 1790v2m0 64v2m0 265v1"/>
<path stroke="#faa" d="M184.8 1722v1m0 50v1m0 14v2m0 76v1m0 239v1M210.8 1675v1m0 30v1m0 2v2m0 7v2m0 4v1m0 7v1m0 24v1m0 11v1m0 41v2m0 21v1m0 3v2m0 28v2m0 52v2m0 8v1m0 173v1m0 28v1M236.8 1670v2m0 37v2m0 31v1m0 21v1m0 2v1m0 15v2m0 5v2m0 68v1m0 55v2m0 15v2m0 40v2M262.8 1717v1m0 42v1m0 37v1m0 66v1m0 27v2m0 47v1m0 16v2m0 60v2m0 96v2M288.8 1669v1m0 75v1m0 140v2m0 24v2m0 24v1m0 52v1m0 52v1m0 56v1m0 58v2M314.8 1668v1m0 144v1m0 44v1m0 8v1m0 69v1m0 130v1m0 62v1M340.8 1736v1m0 26v1m0 18v1m0 100v2m0 3v2m0 211v2m0 63v2M366.8 1700v1m0 165v1m0 276v1M392.8 1729v2m0 82v1m0 30v2m0 78v1m0 15v2M418.8 1697v1m0 5v1m0 1v1m0 7v3m0 50v1m0 75v2m0 41v1m0 12v1m0 39v1m0 10v2m0 26v2m0 27v1m0 62v1M444.8 1785v1m0 109v2m0 109v1m0 14v2m0 6v2m0 52v1M470.8 1783v2m0 49v1m0 14v2m0 54v1m0 42v1m0 50v1m0 82v1m0 1v1m0 18v1m0 50v1M496.8 1689v2m0 70v2m0 88v2m0 39v1m0 5v1m0 95v1m0 57v1m0 2v2m0 83v2M522.8 1792v2m0 188v2m0 20v2m0 7v2m0 12v2m0 41v2m0 61v2m0 17v2M548.8 1874v1m0 81v1m0 70v2m0 19v2m0 10v3m0 16v2m0 19v1m0 20v2M574.8 1754v1m0 12v1m0 175v1m0 3v1m0 45v1m0 25v2m0 147v2M600.8 1729v1m0 186v2m0 61v1m0 19v1m0 63v2m0 58v2M626.8 1724v1m0 12v1m0 89v1m0 52v2m0 10v1m0 51v1m0 62v2m0 14v1m0 28v1m0 45v2m0 30v2m0 8v2m0 13v2M652.8 1667v1m0 68v1m0 6v2m0 8v1m0 81v2m0 120v2m0 6v1m0 2v2m0 25v2m0 24v2m0 34v2m0 15v4m0 5v1m0 17v2M678.8 1668v1m0 6v1m0 243v1m0 29v2m0 2v2m0 4v2m0 1v2m0 29v1m0 7v2m0 6v1m0 30v1m0 25v1m0 16v1m0 2v2m0 39v2m0 6v3m0 16v1m0 2v2M704.8 1763v1m0 90v1m0 73v1m0 35v1m0 20v2m0 8v2M730.8 2083v1M756.8 1968v2M782.8 1693v1m0 1v1m0 97v1m0 15v1m0 17v1m0 115v1m0 100v2m0 26v1m0 18v1m0 74v2M834.8 2000v1m0 58v1m0 83v2M860.8 1820v1m0 39v1m0 36v1m0 21v1m0 92v1M886.8 1755v1m0 40v1m0 64v1m0 19v1m0 69v4m0 27v2m0 175v1M912.8 2024v1m0 76v2m0 52v2M938.8 1940v2m0 2v1"/>
<path stroke="#a7a" d="M184.8 1723v1m0 7v1M262.8 1801v1m0 80v1m0 48v1M340.8 1738v1m0 96v2M418.8 1727v2m0 181v1m0 216v2M444.8 1705v1m0 30v1m0 103v2m0 89v1M496.8 1687v2m0 191v2m0 32v1M522.8 1681v2m0 15v1m0 4v1m0 127v1m0 54v2m0 4v1m0 25v1m0 18v1M548.8 1853v1m0 43v1m0 22v2M574.8 1828v2M626.8 1717v1M652.8 1690v1m0 20v2M678.8 1737v1m0 108v1M756.8 1711v2m0 131v2M834.8 1663v1m0 95v1m0 66v1m0 233v1M860.8 1957v2M912.8 1727v2m0 30v1m0 42v2m0 20v2m0 4v1m0 47v2"/>
<path stroke="#f98" d="M184.8 1724v1m0 124v2m0 37v2M210.8 1925v1M236.8 1804v2M288.8 1742v1M340.8 2164v2M418.8 1924v1M444.8 1943v1m0 24v2m0 74v2m0 94v2m0 10v2M470.8 2021v2m0 112v1M496.8 2023v1M522.8 2000v1m0 40v2m0 17v1M548.8 2015v1m0 47v2m0 32v1M574.8 2118v1M600.8 2136v2M626.8 2038v2M652.8 1984v1M678.8 2013v2m0 42v2M808.8 1826v1M834.8 1832v2M860.8 1723v1m0 268v1M912.8 2073v1"/>
<path stroke="#a79" d="M184.8 1727v2m0 354v1M210.8 1667v1m0 199v1m0 18v2M236.8 1727v2m0 119v1M262.8 1754v1m0 85v2M340.8 1920v2M444.8 1677v1m0 42v2m0 41v1M470.8 1876v2M496.8 1724v1m0 193v1M548.8 1731v1M574.8 1876v2m0 42v2M600.8 1804v2M626.8 1686v1m0 10v1m0 103v1M652.8 1675v1M756.8 1709v2m0 9v2m0 39v2m0 35v1m0 9v1m0 51v1m0 19v2M860.8 1761v2m0 10v1m0 61v2m0 26v1m0 85v2m0 5v1M912.8 1797v2m0 48v1m0 27v1m0 6v1m0 5v2m0 1v1"/>
<path stroke="#ddf" d="M184.8 1729v1M210.8 1980v2M262.8 1900v1m0 203v2m0 1v1m0 27v1m0 9v1M340.8 1876v2m0 67v2m0 203v2M392.8 1733v1M418.8 2060v1m0 4v1M444.8 1794v1m0 37v2M470.8 1846v1m0 75v2m0 1v1M496.8 1706v1m0 69v2m0 66v2m0 318v2M522.8 1700v1M548.8 1666v1m0 97v1m0 146v1M574.8 1802v2m0 43v1m0 40v2m0 2v1m0 4v1M600.8 1717v1m0 9v2m0 84v1m0 91v1M626.8 1732v1M652.8 1677v1m0 28v1m0 27v2m0 84v1m0 84v1M678.8 1758v1m0 52v2m0 59v2M704.8 1681v1M730.8 1664v1m0 21v1m0 30v1m0 9v1m0 23v1m0 1v2m0 16v1m0 2v1m0 20v1m0 19v1m0 47v1m0 4v1m0 32v1m0 20v1m0 24v1m0 3v1m0 12v2m0 47v1m0 48v1m0 21v1m0 10v1m0 11v1m0 10v1M782.8 1681v1m0 463v1M912.8 2146v2M938.8 1772v1"/>
<path stroke="#946" d="M184.8 1739v2m0 18v1M210.8 1799v2M236.8 1773v1m0 57v1m0 86v1M262.8 1731v1m0 1v1m0 56v2M340.8 1795v2M418.8 1723v1m0 22v1m0 3v1m0 13v1m0 99v1m0 47v2M496.8 1766v1M548.8 1706v1M574.8 1872v2M678.8 1925v1"/>
<path stroke="#968" d="M184.8 1743v2m0 3v1M236.8 1915v1M340.8 1891v1M444.8 1747v1M834.8 1997v2"/>
<path stroke="#44a" d="M184.8 1750v1m0 7v1m0 17v2m0 7v1m0 13v2m0 13v2m0 8v2m0 25v2m0 30v2m0 40v1m0 9v2M210.8 1676v1m0 8v1m0 84v1m0 114v1m0 4v1M236.8 1713v2m0 3v2m0 9v2m0 20v2m0 16v1m0 25v2m0 23v1m0 85v1M262.8 1750v1m0 10v2m0 20v2m0 9v1m0 19v2m0 4v1m0 38v1m0 8v2M340.8 1693v2m0 11v1m0 9v2m0 23v1m0 28v1m0 59v1m0 6v1m0 26v1m0 46v1M418.8 1691v2m0 37v1m0 78v2m0 89v1m0 31v1M444.8 1663v1m0 15v2m0 41v1m0 10v1m0 11v1m0 34v1m0 5v4m0 28v2m0 48v2m0 12v1m0 59v1M470.8 1683v2m0 42v2m0 18v1m0 28v2m0 46v2m0 4v1m0 6v1m0 30v2m0 60v1m0 9v2M496.8 1677v1m0 55v1m0 3v1m0 19v1m0 24v1m0 39v2m0 3v1m0 3v1m0 16v1m0 44v2m0 30v1m0 2v2M522.8 1711v2m0 23v1m0 2v2m0 6v1m0 11v1m0 23v2m0 10v2m0 33v1m0 25v2m0 16v1m0 15v1m0 18v1m0 9v1M548.8 1705v1m0 12v2m0 9v2m0 89v1m0 35v2m0 8v1m0 1v2m0 46v2m0 1v1m0 11v1M574.8 1732v1m0 87v1m0 49v2m0 10v1M600.8 1697v1m0 11v2m0 20v1m0 19v2m0 8v3m0 1v1m0 64v1m0 13v2m0 73v1m0 8v2M626.8 1664v2m0 59v2m0 2v1m0 1v1m0 7v2m0 6v1m0 12v1m0 92v1m0 46v1M652.8 1685v2m0 30v1m0 47v1m0 7v1m0 48v2m0 44v2m0 50v2M678.8 1670v2m0 6v1m0 4v2m0 13v1m0 1v1m0 32v1m0 32v1m0 18v1m0 4v2m0 14v2m0 30v2m0 23v1m0 10v1m0 7v1m0 3v2m0 24v2m0 19v2m0 3v1"/>
<path stroke="#aad" d="M184.8 1768v1m0 174v1m0 4v1m0 10v2m0 31v1m0 2v2m0 2v1m0 10v2m0 13v2m0 14v3m0 16v1m0 12v6m0 2v1m0 39v2m0 31v1m0 5v1M236.8 1943v1m0 3v1m0 3v2m0 6v2m0 1v2m0 4v2m0 1v4m0 2v3m0 2v2m0 1v4m0 1v2m0 2v6m0 1v2m0 3v3m0 3v1m0 3v3m0 2v3m0 8v2m0 2v2m0 6v2m0 6v1m0 2v2m0 2v2m0 2v2m0 2v2m0 1v2m0 1v1m0 4v1m0 3v1m0 8v1m0 12v3m0 1v2m0 3v2m0 4v2m0 2v4m0 3v2m0 4v2m0 1v3m0 3v1m0 2v2m0 7v2M262.8 1858v1m0 112v2m0 9v2m0 6v2m0 17v1m0 5v1m0 2v1m0 1v1m0 22v1m0 11v2m0 3v1m0 2v2m0 1v1m0 2v3m0 4v2m0 39v1m0 21v1m0 22v2M418.8 1676v1m0 289v4m0 17v2m0 35v1m0 9v4m0 5v1m0 64v2m0 33v2M444.8 1683v2m0 139v2m0 113v1M470.8 1667v1m0 89v1m0 56v2M496.8 1732v1m0 47v1m0 25v2m0 38v1m0 27v1m0 45v2m0 9v1M522.8 1667v1m0 49v1m0 7v2m0 16v3m0 121v1M548.8 1713v2m0 5v2m0 44v1m0 5v1m0 21v1m0 67v1m0 37v1m0 263v2M574.8 1698v1m0 48v1m0 1v1m0 63v1m0 42v2m0 4v1m0 1v1m0 13v2M600.8 1698v1m0 44v2m0 28v1m0 5v1m0 84v1m0 77v1M626.8 1832v2m0 72v1M652.8 1729v1M678.8 1672v1m0 17v1m0 8v1m0 206v1m0 13v2m0 2v1M756.8 1683v2m0 88v1m0 171v2m0 12v2m0 3v1m0 10v2m0 2v3m0 17v1m0 3v1m0 14v1m0 12v1m0 12v2m0 4v2m0 5v2m0 2v2m0 2v1m0 3v1m0 2v1m0 8v1m0 7v2m0 7v3m0 14v3m0 3v2m0 2v2m0 3v2m0 13v1m0 8v1m0 7v2M782.8 1912v1M834.8 1761v2m0 16v1m0 22v2M860.8 1861v1m0 278v2M912.8 1909v1m0 1v1m0 83v2m0 126v2m0 8v2m0 3v1"/>
<path stroke="#e65" d="M184.8 1774v2m0 64v2m0 59v2m0 17v2M288.8 1664v2m0 45v2M314.8 1782v1M340.8 1858v1M366.8 1741v1m0 8v1m0 113v1m0 10v1m0 292v2M392.8 1868v2M418.8 1830v1M444.8 1975v2m0 2v1m0 14v1m0 147v1m0 3v2M470.8 1956v1m0 155v1m0 44v2M496.8 1993v1m0 65v1m0 23v1m0 64v2M522.8 1973v2m0 97v1m0 24v1m0 8v1M548.8 1955v1m0 5v1m0 37v1m0 19v1m0 11v1m0 21v2m0 23v1m0 7v2m0 3v1m0 20v1m0 39v2M574.8 1951v2m0 32v2m0 51v2m0 17v2m0 14v1m0 32v1m0 33v2m0 1v2m0 10v2M600.8 1945v2m0 8v1m0 31v2m0 4v1m0 101v2M626.8 2066v1m0 17v1m0 18v1m0 4v2m0 15v2M652.8 1992v1m0 27v1m0 60v1M678.8 2059v2m0 4v1m0 31v1m0 5v1M756.8 1677v1M782.8 2055v2m0 29v2m0 30v1M808.8 1814v2m0 85v2m0 39v1M834.8 1905v1m0 213v2M860.8 2041v2m0 52v2M886.8 2046v2M912.8 1808v1m0 231v1m0 67v2m0 5v2M938.8 1783v2m0 79v1m0 26v1"/>
<path stroke="#fdd" d="M184.8 1795v2M210.8 1672v1m0 75v1m0 195v1m0 2v1m0 8v1m0 7v1m0 6v2m0 4v2m0 3v2m0 5v1m0 19v1m0 6v4m0 1v2m0 8v1m0 28v1m0 4v1m0 6v4m0 10v2m0 10v2m0 1v2m0 9v1m0 8v4m0 2v2m0 4v2m0 8v3m0 4v2m0 7v3M236.8 1899v1m0 20v2M262.8 1768v1m0 91v1m0 55v2m0 33v2m0 41v1m0 6v2m0 69v1m0 9v1m0 65v2m0 2v2m0 14v2M288.8 1705v1m0 116v2m0 249v1m0 57v1M314.8 1745v1m0 407v1M340.8 1771v1m0 81v1m0 93v1m0 1v2m0 6v5m0 6v2m0 1v2m0 2v2m0 12v1m0 2v1m0 1v1m0 2v4m0 3v3m0 3v2m0 12v1m0 6v3m0 2v2m0 5v1m0 4v5m0 2v2m0 8v1m0 4v2m0 6v3m0 4v1m0 3v2m0 2v2m0 13v5m0 19v1m0 24v2M392.8 1794v1m0 124v1M418.8 1859v1m0 62v2m0 18v1m0 46v1m0 4v1m0 12v2m0 4v2m0 76v1M444.8 2057v2M470.8 1685v1m0 4v1m0 99v2m0 3v2m0 2v2M496.8 1667v1m0 81v1m0 24v2m0 7v2m0 26v2m0 1v2m0 47v1m0 31v2m0 265v2M522.8 1677v1m0 38v1m0 127v2m0 70v2m0 15v2m0 138v1M548.8 1701v1m0 122v2M574.8 1669v1m0 16v1m0 12v1m0 58v1m0 221v2M600.8 1838v2m0 320v2M626.8 1711v2m0 14v2m0 38v1m0 8v2m0 4v1m0 132v1m0 21v1M652.8 1681v2m0 16v1m0 111v2m0 65v2M678.8 1781v1m0 71v1m0 24v2m0 282v2M704.8 1821v1m0 247v1M730.8 1721v1M756.8 1990v2m0 131v2m0 7v1M808.8 1848v1M834.8 1767v1m0 241v1m0 93v1M886.8 1813v1m0 44v1m0 309v2M938.8 1939v1"/>
<path stroke="#fcc" d="M184.8 1806v2m0 34v2m0 59v2M210.8 1702v1m0 76v1m0 50v1m0 106v1m0 27v1m0 59v2m0 2v2m0 50v1m0 6v1m0 4v2m0 20v2m0 8v2m0 2v1m0 34v2m0 2v2M236.8 1798v1m0 3v2m0 87v1m0 9v2M262.8 1745v1m0 40v2m0 109v1m0 129v2m0 69v2m0 8v2m0 3v2m0 42v2M288.8 1786v2m0 16v2m0 165v1M314.8 1767v1m0 152v2M340.8 1713v2m0 8v1m0 6v1m0 6v1m0 71v2m0 45v2m0 93v4m0 7v2m0 13v2m0 3v3m0 8v1m0 13v2m0 4v2m0 10v2m0 19v2m0 9v2m0 27v2m0 7v3m0 20v1m0 6v4m0 16v1m0 6v2m0 1v2m0 13v2M392.8 1885v1m0 97v1M418.8 1668v1m0 119v2m0 32v2m0 13v1m0 177v1m0 94v2m0 9v2M444.8 1861v1m0 35v1m0 264v2M470.8 1862v1m0 119v2M496.8 1705v1m0 67v1m0 35v2m0 229v1m0 37v1M522.8 1664v3m0 1v1m0 17v1m0 91v1m0 42v1m0 38v1M548.8 1763v1m0 12v2m0 82v1m0 69v1m0 105v2m0 121v1M574.8 1838v2m0 53v2M600.8 1738v1m0 152v1m0 28v2m0 240v2M652.8 1705v1m0 63v1m0 64v1m0 83v2m0 8v2m0 49v1m0 13v1m0 168v4M678.8 1695v2m0 39v1m0 46v2m0 172v2m0 129v1m0 50v1M704.8 1672v1m0 1v1m0 58v1m0 5v1m0 30v1m0 44v1m0 18v1m0 84v1M730.8 1844v1m0 40v1m0 123v1M756.8 1768v1m0 113v1M782.8 1683v1M808.8 2057v2m0 73v1M834.8 1943v1m0 137v1M860.8 1808v3m0 239v2m0 11v2M886.8 1682v1m0 48v1M912.8 1668v1m0 295v1M938.8 1705v1m0 44v1m0 169v2m0 2v1"/>
<path stroke="#99d" d="M184.8 1828v2m0 131v3m0 4v2m0 10v4m0 1v2m0 13v1m0 2v3m0 7v2m0 1v2m0 22v1m0 3v6m0 3v2m0 2v3m0 6v1m0 2v1m0 2v1m0 6v2m0 1v1m0 2v3m0 1v3m0 15v1m0 2v2m0 1v2m0 8v2m0 13v1m0 4v2m0 1v2m0 2v2m0 3v2M210.8 1669v1m0 101v1m0 46v2M236.8 2086v2m0 5v2M262.8 1705v1m0 98v2m0 79v1m0 237v2M418.8 1856v2m0 90v1m0 24v2m0 34v1m0 8v1m0 42v2m0 26v2m0 47v1M444.8 1670v2m0 79v2m0 82v2m0 323v2m0 2v2m0 4v2M470.8 1676v1m0 10v2m0 246v2m0 229v2M496.8 1758v1m0 8v1M522.8 1707v2m0 25v2m0 40v2m0 73v2m0 48v2m0 29v1M548.8 1683v2M574.8 1716v1m0 33v1m0 18v1m0 28v1m0 38v1m0 28v1M600.8 1831v1M626.8 1693v2M652.8 1733v1m0 12v1m0 13v1m0 177v1M678.8 1827v1M756.8 1669v1m0 3v3m0 14v8m0 1v1m0 1v2m0 1v1m0 2v2m0 9v2m0 10v1m0 16v1m0 5v1m0 5v1m0 4v1m0 2v1m0 2v1m0 1v1m0 1v2m0 2v1m0 11v2m0 3v2m0 4v1m0 4v2m0 1v2m0 7v3m0 13v1m0 2v3m0 7v1m0 6v2m0 3v1m0 1v2m0 4v1m0 7v1m0 9v3m0 11v1m0 12v2m0 1v1m0 2v1m0 1v5m0 1v2m0 4v1m0 4v2m0 31v1m0 50v2m0 120v2M834.8 1962v2m0 86v2m0 22v4M860.8 1663v3m0 2v1m0 3v1m0 4v2m0 7v1m0 2v2m0 11v1m0 10v3m0 2v2m0 2v1m0 1v1m0 6v1m0 1v1m0 9v3m0 1v3m0 7v1m0 9v1m0 3v1m0 2v2m0 12v2m0 38v2m0 7v3m0 6v2m0 8v2m0 1v1m0 4v2m0 1v1m0 7v1m0 6v1m0 3v2m0 4v1m0 7v3m0 6v1m0 8v1m0 1v4m0 2v2m0 5v2m0 4v1m0 2v2m0 11v1m0 14v1m0 9v2m0 3v2m0 2v1m0 4v5m0 5v2m0 1v2m0 6v1m0 7v1m0 36v1m0 8v4m0 8v1m0 2v2m0 3v3m0 6v2m0 7v1m0 2v2m0 1v2m0 2v1m0 1v2m0 9v2m0 3v1m0 2v1m0 9v4m0 3v2M912.8 1673v2m0 3v1m0 4v2m0 1v1m0 10v1m0 18v1m0 6v1m0 14v1m0 6v2m0 14v2m0 8v1m0 9v1m0 8v2m0 17v2m0 15v1m0 7v1m0 27v2m0 2v1m0 16v2m0 18v2m0 7v2m0 10v1m0 10v2m0 97v2"/>
<path stroke="#d78" d="M184.8 1831v1m0 100v1M288.8 1667v1m0 10v1m0 7v1m0 6v2m0 28v1m0 89v1m0 23v3m0 4v2m0 1v1m0 50v1m0 31v1M314.8 1689v1m0 17v4m0 35v1m0 3v1m0 8v1m0 71v1m0 28v1m0 81v1M366.8 1676v1m0 60v1m0 13v2m0 13v1m0 2v1m0 32v2m0 42v1m0 31v2m0 10v1m0 16v2m0 21v1M392.8 1672v1m0 2v1m0 5v2m0 4v2m0 33v3m0 14v3m0 22v1m0 1v1m0 19v2m0 4v2m0 30v2m0 30v2m0 24v1m0 3v2m0 19v2m0 23v1m0 2v2M704.8 1975v2m0 16v1m0 26v1m0 65v2m0 45v3m0 3v1M756.8 1956v1m0 30v2m0 74v2m0 26v1m0 44v2m0 8v2m0 11v1M782.8 1948v1m0 19v2m0 34v2m0 4v2m0 54v1m0 88v2M808.8 1693v2m0 50v1m0 17v1m0 21v1m0 27v1m0 53v1m0 17v1m0 5v1m0 3v2m0 8v1m0 8v1m0 36v2m0 15v2m0 50v1m0 2v1m0 3v4m0 13v2m0 27v1m0 45v2m0 6v2M834.8 1964v1M886.8 1943v2m0 40v2m0 10v2m0 5v2m0 44v2m0 15v2m0 5v4M912.8 2018v2m0 7v2M938.8 1672v1m0 8v2m0 12v2m0 6v1m0 16v2m0 45v1m0 6v2m0 18v1m0 23v2m0 8v2m0 37v1m0 8v2m0 41v1"/>
<path stroke="#a58" d="M184.8 1844v2M210.8 1767v1M236.8 1743v2m0 129v1M262.8 1780v1m0 122v2M418.8 1751v2m0 71v2M444.8 1664v2M470.8 1798v1M548.8 1939v1M834.8 1679v2m0 35v1m0 1v2m0 10v1m0 82v1m0 207v2"/>
<path stroke="#b79" d="M184.8 1860v1m0 112v2m0 158v2M210.8 1737v1M236.8 2057v2m0 36v2m0 53v2m0 16v2M262.8 1711v2M418.8 2132v1M756.8 1826v1m0 8v2m0 26v1m0 12v2m0 20v1m0 44v1m0 22v2m0 167v1M834.8 1748v1m0 19v1m0 32v1m0 211v2m0 38v2m0 24v2M860.8 1711v2m0 53v1m0 5v1m0 5v1m0 3v1m0 14v1m0 26v2m0 48v1m0 30v1m0 24v1m0 187v1m0 23v1M912.8 1737v1m0 169v2"/>
<path stroke="#fee" d="M184.8 1861v1M210.8 1683v2m0 178v1m0 43v2m0 39v7m0 11v2m0 2v1m0 8v1m0 7v2m0 6v4m0 1v1m0 5v3m0 3v1m0 10v1m0 3v2m0 3v4m0 2v2m0 8v2m0 5v4m0 2v2m0 3v3m0 7v3m0 5v1m0 4v3m0 3v2m0 3v1m0 3v2m0 1v1m0 2v2m0 5v2m0 11v2m0 6v5m0 3v4m0 7v2m0 3v2M236.8 1676v1m0 105v1m0 115v1m0 10v1m0 1v1M262.8 1739v2m0 29v1m0 93v1m0 138v1m0 19v1m0 22v2m0 2v2m0 49v2m0 7v2M288.8 1663v1m0 61v2m0 361v1M340.8 1783v2m0 157v1m0 1v1m0 10v1m0 10v2m0 2v1m0 2v2m0 4v3m0 3v4m0 1v2m0 11v1m0 11v1m0 3v4m0 6v2m0 7v2m0 13v2m0 4v2m0 2v2m0 2v3m0 2v1m0 1v4m0 3v2m0 1v1m0 6v1m0 6v2m0 13v4m0 2v2m0 14v1m0 2v4m0 12v1M366.8 1973v1M392.8 1769v1M418.8 1669v1m0 275v2m0 105v1m0 28v1m0 68v2M444.8 1760v1m0 76v1m0 26v1m0 7v2m0 9v2M470.8 1733v1m0 101v2m0 74v1m0 3v1M496.8 1738v1m0 9v1m0 21v1m0 354v2m0 33v2M522.8 1683v2m0 225v1m0 11v3M548.8 1672v1m0 43v1m0 19v1M574.8 1746v1m0 21v1m0 9v1m0 75v2M600.8 1676v1m0 26v1m0 104v1m0 63v2m0 24v2M626.8 1734v2m0 120v2M652.8 1723v2m0 13v1m0 11v1m0 21v1m0 127v1m0 259v2M678.8 1663v1m0 157v1M704.8 1676v1m0 38v1m0 81v1M730.8 1768v1M782.8 1927v1M808.8 2086v2M834.8 1885v1m0 2v2m0 36v2m0 120v2m0 110v2M860.8 1679v2M886.8 1872v1M912.8 2162v2"/>
<path stroke="#fff" d="M184.8 1862v1m0 49v2M210.8 1849v2m0 92v1m0 1v2m0 14v1m0 22v3m0 6v1m0 26v1m0 3v1m0 18v1m0 6v2m0 1v2m0 15v2m0 20v1m0 20v2m0 21v2m0 16v1M236.8 1788v2m0 258v2M262.8 1690v1m0 160v2m0 95v1m0 4v2m0 30v2m0 138v2M288.8 1842v2M340.8 1943v1m0 12v1m0 66v1m0 10v2m0 8v2m0 57v3m0 15v4m0 4v1m0 12v1M366.8 1821v1m0 165v1M392.8 1827v1m0 272v1M418.8 1782v1m0 312v2m0 45v1M444.8 1707v2m0 16v2m0 7v2m0 73v2M470.8 1700v1m0 6v2m0 77v2m0 102v1M522.8 1670v2m0 152v2m0 27v1M548.8 1693v2m0 147v2M574.8 1693v2m0 48v2m0 150v2m0 14v1M600.8 1822v2m0 43v1m0 70v1M626.8 1759v1m0 101v1m0 16v2m0 44v1M652.8 1847v1M678.8 1676v1m0 27v1m0 50v2m0 403v2M704.8 1782v1m0 69v2M730.8 1689v1m0 16v1m0 7v1m0 3v1m0 14v1m0 8v1m0 36v1m0 7v1m0 28v1m0 5v1m0 5v2m0 8v1m0 10v1m0 31v1m0 10v1m0 23v1m0 7v1m0 16v1m0 8v1m0 57v1m0 41v2m0 13v1m0 6v1m0 1v1m0 29v1m0 47v1M912.8 2053v2"/>
<path stroke="#957" d="M184.8 1890v1M262.8 1698v1M340.8 1691v2M418.8 1734v2m0 115v2m0 56v1m0 8v1M444.8 1804v2M652.8 1874v1M678.8 1697v1m0 128v1"/>
<path stroke="#b8a" d="M184.8 1897v1m0 30v2m0 91v2m0 1v1m0 110v1M236.8 1956v1m0 32v1m0 23v2m0 12v2m0 11v3m0 22v1m0 8v2m0 13v2m0 12v1m0 3v1M418.8 1951v2M756.8 1840v2m0 168v2m0 71v1m0 58v1M834.8 1669v1m0 31v1m0 122v2m0 149v2m0 17v1m0 20v1m0 141v2M860.8 1697v1m0 2v1m0 52v1m0 183v1m0 33v2m0 65v2m0 60v1M912.8 1886v2m0 203v1m0 51v2"/>
<path stroke="#cac" d="M184.8 1944v3m0 68v1m0 20v2m0 54v1m0 19v1M236.8 1955v1m0 5v1m0 31v1m0 30v1m0 21v2m0 24v1m0 48v2m0 9v1M262.8 1973v2m0 2v2m0 40v1m0 83v1M288.8 1763v1m0 167v1m0 232v2M314.8 1718v2m0 148v2M340.8 1846v1M366.8 1743v2M418.8 2046v2M496.8 2168v2M548.8 2170v2M756.8 1888v2m0 10v1m0 2v2m0 135v3m0 12v2m0 44v2m0 26v1m0 22v2M808.8 1668v1m0 31v1M860.8 1704v1m0 87v3m0 184v1m0 49v2m0 108v1M912.8 1677v1m0 270v1m0 33v2m0 104v1m0 30v2m0 24v1m0 4v2"/>
<path stroke="#a9d" d="M184.8 1947v1m0 5v3m0 1v2m0 5v4m0 3v2m0 2v4m0 11v2m0 5v2m0 2v2m0 6v1m0 2v1m0 10v1m0 5v2m0 1v2m0 21v2m0 10v2m0 15v1m0 15v6m0 9v2m0 1v3m0 18v1m0 2v1m0 2v1m0 11v2M236.8 1949v2m0 115v1m0 9v2m0 32v2M262.8 2044v2M418.8 2074v2M470.8 2160v2M756.8 1745v1m0 216v2m0 13v2m0 36v1m0 30v2M860.8 1687v2m0 117v2m0 85v2"/>
<path stroke="#c79" d="M184.8 1949v2m0 147v2m0 25v2m0 2v1m0 6v2M236.8 1948v1m0 211v2M262.8 2016v2m0 7v2M314.8 1679v2m0 18v1M756.8 1782v1m0 110v2m0 21v2m0 35v2m0 211v2M834.8 1953v2m0 115v2m0 57v1M860.8 1720v2m0 237v2m0 52v2M912.8 1994v1m0 77v1m0 44v1"/>
<path stroke="#bbe" d="M184.8 1951v2m0 210v2m0 1v6M236.8 1992v1M262.8 1945v2m0 8v1m0 12v2m0 17v2m0 17v1m0 5v1m0 27v1m0 7v2m0 45v2m0 3v1m0 5v1m0 43v2M288.8 1722v1m0 6v1m0 1v1m0 9v1m0 7v1m0 23v3m0 2v1m0 4v3m0 32v2m0 6v1m0 13v2m0 23v2m0 32v1m0 19v3m0 4v2m0 5v2m0 9v2m0 1v4m0 6v5m0 6v1m0 4v3m0 1v1m0 2v2m0 6v1m0 1v1m0 1v2m0 2v1m0 1v1m0 2v1m0 4v2m0 1v7m0 1v1m0 3v4m0 1v2m0 1v1m0 3v4m0 3v2m0 4v2m0 2v3m0 1v1m0 1v5m0 4v1m0 1v4m0 3v4m0 1v1m0 3v1m0 1v2m0 2v3m0 5v1m0 2v1m0 1v1m0 1v1m0 1v1m0 3v1m0 1v1m0 2v1m0 3v1m0 2v1m0 3v2m0 1v1m0 3v1m0 2v1m0 6v2m0 3v1m0 1v1m0 2v1m0 4v2m0 6v6M314.8 1676v1m0 13v1m0 2v2m0 2v1m0 15v2m0 2v1m0 2v2m0 2v1m0 23v2m0 7v1m0 2v1m0 3v1m0 7v1m0 6v1m0 29v4m0 14v3m0 10v2m0 51v2m0 8v2m0 11v2m0 7v3m0 2v1m0 12v3m0 3v1m0 2v2m0 1v2m0 1v1m0 1v2m0 2v1m0 3v1m0 1v3m0 3v1m0 1v4m0 5v3m0 2v2m0 2v4m0 3v3m0 5v1m0 1v2m0 4v1m0 5v3m0 3v1m0 7v8m0 1v2m0 1v2m0 1v1m0 1v1m0 2v1m0 3v1m0 6v1m0 4v1m0 1v1m0 2v2m0 1v3m0 1v4m0 2v2m0 2v2m0 1v2m0 2v2m0 6v1m0 5v2m0 1v1m0 1v1m0 1v1m0 1v1m0 4v1m0 4v1m0 2v5m0 2v2m0 1v2m0 3v1m0 4v2m0 4v2M340.8 1878v2M366.8 1673v3m0 17v2m0 28v1m0 29v1m0 9v2m0 5v1m0 11v1m0 23v2m0 24v3m0 25v1m0 9v4m0 6v2m0 13v2m0 15v2m0 8v2m0 1v3m0 10v1m0 6v2m0 2v4m0 1v2m0 1v2m0 4v1m0 1v1m0 3v1m0 1v2m0 1v4m0 2v1m0 1v1m0 1v1m0 1v1m0 1v1m0 2v1m0 3v2m0 1v2m0 2v2m0 2v3m0 11v1m0 2v3m0 4v1m0 7v5m0 1v1m0 3v3m0 2v1m0 4v1m0 3v4m0 1v3m0 2v1m0 5v3m0 1v1m0 7v1m0 7v5m0 1v4m0 1v1m0 5v1m0 1v1m0 2v1m0 3v3m0 1v1m0 1v4m0 2v1m0 2v1m0 7v2m0 2v1m0 6v2M392.8 1861v1m0 13v1m0 68v1m0 3v1m0 17v1m0 3v2m0 13v1m0 1v1m0 3v1m0 8v1m0 3v1m0 14v1m0 5v1m0 1v1m0 1v1m0 14v1m0 1v1m0 18v1m0 15v1m0 2v1m0 3v1m0 5v3m0 5v1m0 4v1m0 3v1m0 3v1m0 1v1m0 13v1m0 3v1m0 23v1M418.8 2016v2m0 66v1m0 19v2m0 12v1M470.8 1723v1m0 77v1m0 90v1m0 5v1M496.8 1668v1m0 191v1m0 1v1M522.8 1938v1m0 221v4m0 2v2M548.8 1679v2m0 173v2M574.8 1704v1m0 121v1m0 36v1M600.8 1678v1M626.8 1683v2M652.8 1907v2m0 23v1M678.8 1723v1m0 136v1M704.8 1754v1m0 100v1m0 18v1m0 38v1M756.8 1992v1m0 27v1M808.8 1786v2M886.8 1669v1m0 17v1m0 16v1m0 11v1m0 6v1m0 14v1m0 38v1m0 22v1m0 10v1m0 12v1m0 8v1m0 6v1m0 1v1m0 83v1M912.8 1993v1M938.8 1950v1m0 9v3m0 1v1m0 11v1m0 4v1m0 5v1m0 15v1m0 4v1m0 1v1m0 9v2m0 7v1m0 1v1m0 7v1m0 13v1m0 4v1m0 6v1m0 8v1m0 2v1m0 9v2m0 2v1m0 3v1m0 5v1m0 3v1m0 13v1m0 23v1m0 9v2m0 1v1m0 2v1"/>
<path stroke="#c56" d="M184.8 1956v1m0 61v1M236.8 2061v2M756.8 1802v2m0 103v2m0 5v1m0 155v2M834.8 1681v2m0 121v2m0 15v1m0 97v1m0 173v2m0 41v2M860.8 1676v1m0 189v1m0 18v1M912.8 1730v1m0 115v1m0 248v2"/>
<path stroke="#b78" d="M184.8 1970v1m0 159v2M340.8 1882v1M470.8 2170v2M756.8 1732v1m0 21v1m0 31v2m0 76v1M834.8 1707v2m0 29v1m0 88v1m0 105v2M860.8 1706v1m0 73v1m0 77v1m0 44v2m0 19v1m0 119v2M912.8 1664v2m0 326v1"/>
<path stroke="#b67" d="M184.8 1984v1m0 53v2M756.8 1664v3m0 60v2m0 19v1M834.8 1711v2m0 147v1m0 71v1M860.8 1738v1m0 20v1m0 171v1m0 102v2m0 17v2m0 6v2m0 40v1m0 2v1m0 5v1M912.8 1736v1m0 131v2"/>
<path stroke="#b9b" d="M184.8 1987v2m0 63v1m0 17v2M236.8 2155v2M418.8 1953v2M756.8 1703v1m0 32v1m0 105v2m0 51v2m0 109v1m0 2v1m0 72v1M834.8 1763v1m0 246v2M860.8 2104v2m0 39v1M912.8 1687v2m0 80v1m0 125v2m0 163v1"/>
<path stroke="#c8a" d="M184.8 1989v1m0 3v1m0 26v1m0 131v2M236.8 2088v1m0 63v2M288.8 1668v1m0 30v1m0 32v1m0 64v1m0 8v2m0 93v2m0 3v1m0 30v1M314.8 1687v2m0 133v2m0 48v2M366.8 1701v1m0 22v1m0 43v1m0 4v1m0 30v2m0 16v2m0 68v1m0 17v1M392.8 1765v1m0 29v2M444.8 1743v2M522.8 2168v2M548.8 2160v2M704.8 1966v2m0 186v1M756.8 1785v1m0 92v2m0 51v1m0 57v1m0 23v2m0 14v2M808.8 1806v2m0 23v1m0 78v1m0 14v1m0 156v1m0 25v2M834.8 2112v1m0 4v1M860.8 1750v1m0 14v1m0 20v2m0 7v2m0 7v2m0 24v1m0 9v2m0 28v2m0 8v2m0 43v1m0 14v2m0 9v2m0 9v2m0 52v2m0 30v2m0 5v2m0 107v2M886.8 2052v1M912.8 1667v1m0 4v1m0 22v2m0 18v1m0 31v1m0 20v1m0 49v3m0 64v1m0 85v2m0 37v2m0 19v1m0 34v1m0 45v1m0 22v1M938.8 1860v1m0 4v1m0 76v1"/>
<path stroke="#b7a" d="M184.8 1994v1m0 32v2m0 21v2m0 11v2M210.8 1782v1M236.8 2003v1M418.8 2100v1M756.8 1713v2m0 40v2m0 8v1m0 62v2m0 1v1m0 17v2m0 32v2m0 16v2m0 8v1m0 100v1m0 30v1M834.8 1722v1m0 215v1m0 203v1m0 5v2M860.8 1673v2m0 123v1m0 2v1m0 19v1m0 126v1m0 4v2m0 11v2m0 125v2m0 34v1m0 6v2M912.8 1669v1m0 81v2m0 2v2m0 13v1m0 57v2m0 24v2"/>
<path stroke="#c9b" d="M184.8 2007v2M236.8 1944v3m0 63v2m0 134v2M262.8 1984v1m0 8v1m0 19v2m0 52v2m0 77v2M288.8 1697v1m0 15v2m0 131v1m0 12v1m0 1v1M314.8 1686v1m0 220v2m0 30v1m0 228v2M366.8 1699v1m0 17v1m0 130v1M392.8 1773v1m0 46v1m0 25v1M418.8 1959v2M496.8 2170v2M626.8 1788v2M704.8 1961v1m0 91v2m0 70v2m0 30v2M756.8 1700v1m0 24v2m0 16v2m0 34v1m0 236v2m0 70v1m0 4v2m0 53v2m0 5v2M782.8 2074v2M808.8 1903v2M834.8 1959v2m0 31v1m0 26v1M860.8 1737v1m0 25v1m0 62v1m0 15v2m0 4v1m0 4v1m0 37v1m0 129v2m0 36v1m0 61v2m0 4v2M886.8 2020v1m0 80v2M912.8 1741v1m0 18v1m0 52v1m0 2v2m0 197v1m0 7v1m0 20v2M938.8 1804v2m0 122v2m0 3v2"/>
<path stroke="#dce" d="M184.8 2031v1M210.8 2166v2M262.8 1943v1m0 20v1m0 132v1m0 32v2M288.8 1916v2M314.8 1742v1m0 10v1m0 27v1m0 79v1m0 173v1M340.8 2073v1M366.8 1681v2m0 3v1m0 201v2M392.8 1771v1m0 25v1m0 181v1m0 93v1m0 27v1M418.8 1982v2M444.8 1746v1m0 118v1m0 44v1M470.8 1832v2M496.8 1673v2M522.8 1808v1M548.8 1715v1m0 49v1m0 119v1M574.8 1664v2m0 54v2m0 42v1M600.8 1749v1m0 156v1M626.8 1675v1m0 14v1m0 10v1M652.8 1801v1m0 120v2m0 244v2M704.8 1702v1m0 6v1m0 17v1m0 7v1m0 20v1m0 78v1m0 23v1m0 64v1m0 5v1m0 14v2m0 119v1m0 37v2m0 12v1m0 11v2M730.8 1695v1M756.8 1993v1m0 90v1M782.8 1664v1m0 1v2m0 1v1m0 2v1m0 1v1m0 2v2m0 8v2m0 1v1m0 6v1m0 3v1m0 2v3m0 1v2m0 2v1m0 1v1m0 3v2m0 2v4m0 2v2m0 1v3m0 1v2m0 2v2m0 4v2m0 6v2m0 4v1m0 3v1m0 2v2m0 2v7m0 1v1m0 2v1m0 1v1m0 2v1m0 1v1m0 1v1m0 1v1m0 1v1m0 4v1m0 2v1m0 1v1m0 1v3m0 1v1m0 1v1m0 2v6m0 1v1m0 10v1m0 2v1m0 1v3m0 1v2m0 1v2m0 2v1m0 3v1m0 3v1m0 3v2m0 2v1m0 3v1m0 3v1m0 3v1m0 2v3m0 4v1m0 6v2m0 5v1m0 1v2m0 2v3m0 4v1m0 2v1m0 1v1m0 2v1m0 3v1m0 2v1m0 3v3m0 1v1m0 1v1m0 1v2m0 2v2m0 2v2m0 2v2m0 2v2m0 66v2m0 2v2m0 61v1m0 11v2m0 2v2m0 11v6M808.8 1704v1m0 37v1m0 4v1m0 2v1m0 84v2m0 111v3m0 104v2m0 103v2m0 4v2m0 2v2M834.8 1914v1M886.8 1681v1m0 18v1m0 9v1m0 6v1m0 14v2m0 16v1m0 117v1m0 48v1m0 41v2m0 104v1M912.8 2067v2M938.8 1912v2m0 76v1m0 131v1"/>
<path stroke="#c78" d="M184.8 2034v2M236.8 2043v1m0 25v1m0 11v1m0 35v1m0 24v3M288.8 1746v1m0 48v2M314.8 1701v1m0 56v1M366.8 1780v1m0 14v2m0 30v3m0 14v2m0 3v4m0 23v2m0 28v1M418.8 2123v2M756.8 1676v1m0 60v1m0 43v1m0 109v1m0 47v1m0 2v1m0 58v2m0 64v2m0 9v3m0 11v1M808.8 2106v1M834.8 1745v1m0 53v2m0 58v1m0 5v1m0 37v2m0 20v1m0 22v1m0 8v2m0 2v1m0 67v2m0 99v2M860.8 1851v2m0 92v2m0 53v1m0 8v1m0 33v1M912.8 1699v1m0 29v1m0 49v1m0 58v2m0 225v1M938.8 1854v2m0 70v2"/>
<path stroke="#bad" d="M184.8 2061v2m0 2v1m0 51v1m0 30v2M262.8 2088v1M340.8 1715v1M418.8 2019v1M444.8 2166v2M548.8 1737v1M756.8 1663v1m0 58v1m0 1v1m0 63v2m0 23v1M834.8 1851v2m0 129v2M860.8 1965v1m0 191v2"/>
<path stroke="#b8b" d="M184.8 2093v2M236.8 1970v1m0 38v1m0 9v1m0 14v2m0 61v1m0 72v2M418.8 1790v2m0 256v2M444.8 1924v1M548.8 2162v2M756.8 1685v1m0 52v1m0 10v1m0 82v2m0 200v2m0 50v2M834.8 1949v2m0 36v2m0 115v2M860.8 1709v2m0 65v2m0 24v2m0 178v2m0 52v2m0 45v1m0 41v2M912.8 1754v1m0 46v1m0 40v2m0 87v1"/>
<path stroke="#d9a" d="M184.8 2095v2M236.8 1828v2M288.8 1683v2m0 22v2m0 7v1m0 16v3m0 17v2m0 59v2m0 14v1m0 27v1m0 8v1m0 15v2m0 22v2M314.8 1663v1m0 38v1m0 34v1m0 17v2m0 12v2m0 3v2m0 9v3m0 56v2m0 16v1m0 15v2M366.8 1722v1m0 8v1m0 1v1m0 33v1m0 3v1m0 14v2m0 4v2m0 22v2m0 20v2m0 14v2m0 6v1m0 69v1m0 9v1M392.8 1664v2m0 35v1m0 34v1m0 16v1m0 54v3m0 38v4m0 53v1m0 8v1M418.8 2107v1m0 9v1m0 36v1M496.8 1768v1M600.8 1664v2M626.8 1903v2M704.8 1949v2m0 43v1m0 11v1m0 5v1m0 33v2m0 45v2m0 13v2m0 42v2M756.8 2103v1m0 15v2M782.8 1951v2m0 29v5m0 33v1m0 60v1m0 35v1m0 41v1M808.8 1706v1m0 23v1m0 10v1m0 27v1m0 108v2m0 127v2m0 12v2m0 51v2m0 17v2m0 22v1m0 20v1M834.8 2007v2m0 155v2M860.8 1693v2m0 35v1m0 24v2m0 11v1m0 14v2m0 64v2m0 17v2m0 195v1M886.8 1999v1m0 40v1m0 65v1m0 20v2M912.8 2006v1m0 132v1M938.8 1677v1m0 11v1m0 55v1m0 80v1m0 20v1m0 62v1"/>
<path stroke="#c9c" d="M184.8 2108v2M236.8 2029v2m0 48v2m0 48v1M262.8 2010v2M314.8 1768v1M834.8 2170v2M860.8 2168v2M912.8 2079v2"/>
<path stroke="#bac" d="M184.8 2140v2M262.8 2053v2M418.8 2125v2M834.8 2034v2m0 21v2M860.8 1701v1m0 25v2m0 298v2M912.8 1938v1"/>
<path stroke="#d89" d="M184.8 2159v1M236.8 1935v2m0 116v2M262.8 1979v1M288.8 1670v2m0 3v1m0 1v1m0 9v2m0 69v1m0 9v1m0 29v1m0 32v1m0 16v1m0 46v3m0 26v1M314.8 1685v1m0 18v1m0 31v1m0 2v2m0 42v2m0 33v2m0 1v1m0 4v1m0 7v1m0 62v1m0 13v1m0 252v2M340.8 1797v1M366.8 1666v1m0 1v1m0 47v1m0 8v2m0 2v1m0 2v1m0 76v2m0 7v2m0 22v2m0 3v1m0 15v1m0 22v2m0 10v2m0 3v2m0 4v1m0 27v1M392.8 1679v2m0 8v1m0 64v1m0 35v2m0 78v2m0 8v2m0 17v2m0 27v2M470.8 2162v2M704.8 1970v1m0 50v2m0 38v2m0 4v2m0 1v2m0 10v1m0 6v2m0 36v2m0 7v2m0 7v1M756.8 1687v2m0 45v2m0 134v2m0 181v2m0 18v1m0 38v1m0 47v2M782.8 1987v2m0 20v1m0 21v1m0 27v1m0 29v2m0 15v1m0 25v1m0 21v1m0 7v2M808.8 1678v3m0 50v1m0 2v2m0 7v2m0 26v1m0 6v2m0 40v1m0 32v3m0 41v2m0 39v1m0 17v1m0 2v2m0 18v1m0 98v1m0 46v2M860.8 1691v2m0 39v1m0 3v1m0 85v2m0 91v1m0 94v2m0 121v2M886.8 1962v2m0 16v2m0 8v2m0 31v1m0 24v2m0 31v1m0 13v2m0 1v2m0 15v2m0 2v2m0 25v2m0 7v2M912.8 1943v1m0 17v1m0 122v1M938.8 1683v2m0 2v2m0 12v1m0 4v1m0 22v1m0 34v1m0 23v2m0 2v2m0 14v1m0 4v1m0 23v1m0 4v2"/>
<path stroke="#a69" d="M210.8 1703v1m0 188v1m0 47v2M236.8 1832v2m0 13v1M262.8 1720v2m0 152v1M340.8 1804v2m0 36v2m0 28v2m0 23v1M418.8 1785v1m0 46v2m0 19v1m0 102v1M444.8 1827v1M470.8 1711v2m0 68v1m0 101v2M522.8 1888v2m0 30v2M548.8 1686v3m0 56v1M574.8 1868v2M652.8 1770v1m0 80v2M678.8 1702v1m0 76v1M834.8 1677v1m0 5v2m0 178v1m0 37v2m0 65v2m0 76v2m0 4v1m0 57v2M912.8 1685v1m0 25v2m0 52v1m0 8v2m0 7v2m0 55v2m0 84v2"/>
<path stroke="#88c" d="M210.8 1716v1m0 105v2m0 41v1M236.8 1886v2M262.8 1932v1M340.8 1683v2m0 214v1m0 3v2M418.8 1947v1m0 56v2m0 14v1m0 49v2m0 7v2m0 48v1M444.8 1691v2M470.8 1713v2m0 14v1m0 40v1m0 42v1m0 86v1M496.8 1801v1m0 24v1m0 61v2m0 13v2M522.8 1786v2M548.8 1872v2m0 8v1M574.8 1683v2m0 24v2m0 74v1M600.8 1790v2m0 14v2m0 48v2m0 82v2M626.8 1700v1m0 32v1m0 7v1m0 191v2M652.8 1668v1m0 34v1m0 229v2M678.8 1918v1M756.8 1856v2M834.8 1689v1m0 15v1m0 76v1m0 81v1m0 11v2m0 13v1m0 131v1m0 37v2m0 44v1m0 5v2M860.8 1898v1m0 48v1m0 58v1M912.8 1675v1m0 24v1m0 1v2m0 3v4m0 14v2m0 6v1m0 8v1m0 7v1m0 2v1m0 9v2m0 1v1m0 9v2m0 4v1m0 5v2m0 4v1m0 16v2m0 9v2m0 11v2m0 37v1m0 18v2m0 2v1m0 8v1m0 7v1m0 10v1m0 11v1"/>
<path stroke="#a8b" d="M210.8 1733v1m0 82v2m0 79v1M236.8 1691v2m0 151v2M262.8 1677v1m0 246v1M340.8 1690v1m0 33v1m0 21v1m0 153v1M444.8 1706v1m0 54v2m0 53v2m0 2v1m0 1v2m0 38v1m0 69v1M470.8 1709v2m0 6v1m0 31v1m0 21v1m0 154v2M496.8 1681v2m0 72v2m0 37v1m0 43v2m0 75v1M522.8 1779v1m0 117v1M548.8 1685v1m0 65v2m0 154v2M574.8 1727v2m0 115v2M600.8 1847v1M626.8 1743v2m0 123v2M652.8 1888v2m0 7v1M678.8 1858v1m0 76v2M756.8 1930v1M834.8 1697v1m0 83v1m0 110v1m0 37v1M912.8 1698v1m0 221v2m0 18v2"/>
<path stroke="#98b" d="M210.8 1738v1M418.8 2066v1M834.8 1699v1m0 25v2m0 37v1m0 27v2"/>
<path stroke="#b68" d="M210.8 1790v2m0 9v1M236.8 1669v1M600.8 1886v2M756.8 1667v1m0 4v1m0 16v1m0 15v1m0 51v1m0 2v1m0 60v1m0 2v2m0 32v1m0 13v3m0 65v2M834.8 1709v2m0 109v1m0 119v2m0 130v1M860.8 1741v1m0 74v2m0 9v1m0 83v1m0 52v1m0 12v2m0 88v2m0 23v1m0 39v1M912.8 1717v1m0 4v1m0 11v2m0 22v1m0 14v1m0 21v2m0 56v1m0 7v1m0 2v1m0 40v1m0 170v2"/>
<path stroke="#e87" d="M210.8 1847v1M236.8 1736v1m0 24v2m0 99v1M600.8 1989v1M652.8 2034v2M678.8 1868v2m0 130v1m0 75v2m0 45v2M756.8 2106v1M782.8 2133v2M834.8 2138v1M860.8 1928v2M912.8 2168v2"/>
<path stroke="#dcd" d="M210.8 1955v1M262.8 1975v2m0 64v2m0 16v1m0 61v2m0 9v1M288.8 1911v1m0 10v2M314.8 1741v1m0 95v1m0 76v1M366.8 1738v1m0 26v1m0 71v1m0 23v1M392.8 1695v2m0 119v2m0 41v1m0 5v1m0 32v1M418.8 1970v1M496.8 2166v2M704.8 1957v2M782.8 2036v2M808.8 1667v1m0 8v1m0 373v2m0 110v2M886.8 1995v2m0 16v2m0 97v1M912.8 1959v2M938.8 1693v2m0 173v2"/>
<path stroke="#edd" d="M210.8 1962v2m0 4v2m0 22v1m0 43v2M262.8 2129v1M496.8 1856v2M600.8 2170v2M808.8 2168v2"/>
<path stroke="#ede" d="M210.8 1973v2m0 19v1m0 45v3m0 16v1m0 19v2m0 22v1m0 48v2m0 1v2M288.8 1890v1M340.8 1964v1m0 51v2m0 23v2m0 40v1M678.8 2170v2M782.8 1993v1m0 101v2M808.8 1882v1"/>
<path stroke="#eee" d="M210.8 1999v1m0 3v3m0 76v1M262.8 2160v2M340.8 2088v1M418.8 2113v2"/>
<path stroke="#ecd" d="M210.8 2001v2M262.8 1962v2m0 120v1M288.8 1685v1m0 69v2m0 7v1M340.8 1948v1M418.8 2101v2M574.8 1890v1M600.8 2168v2M626.8 1932v1m0 229v2M678.8 2168v2M704.8 2123v2M808.8 2012v1M938.8 1937v1"/>
<path stroke="#fef" d="M210.8 2010v2m0 40v1M340.8 1995v2"/>
<path stroke="#fde" d="M210.8 2013v2m0 31v2m0 71v2M340.8 2012v1m0 5v1m0 73v1m0 7v1m0 16v1"/>
<path stroke="#a9c" d="M236.8 1667v1M262.8 1837v1M418.8 1838v2m0 125v1m0 72v2m0 32v1m0 20v2M444.8 1689v1m0 13v1m0 9v2m0 87v2M470.8 1748v1m0 60v2m0 20v1m0 12v2M522.8 1870v2m0 34v1M574.8 1738v1m0 2v1m0 198v2M600.8 1739v2m0 119v1M626.8 1816v2M678.8 1842v2m0 3v1m0 11v1M834.8 1676v1m0 76v1m0 315v1"/>
<path stroke="#eab" d="M236.8 1677v1M288.8 1779v1m0 12v2M314.8 1731v1m0 1v1m0 125v1M366.8 1703v1m0 7v2m0 36v1M392.8 1663v1m0 117v1m0 32v2m0 50v1M418.8 2031v1M496.8 1899v1M600.8 1797v1M704.8 1944v1m0 128v3M782.8 2013v2m0 68v1m0 55v1M808.8 1738v1m0 326v1m0 23v2m0 30v2M834.8 1830v1M886.8 2135v1m0 9v1M912.8 1955v1M938.8 1753v1m0 41v2m0 91v2"/>
<path stroke="#979" d="M236.8 1678v1m0 151v1M340.8 1772v1"/>
<path stroke="#e89" d="M236.8 1683v2M912.8 1980v2M938.8 1666v1"/>
<path stroke="#e99" d="M236.8 1747v1m0 183v1M262.8 1748v1m0 112v1M288.8 1808v1m0 54v1M314.8 1747v1m0 118v1m0 64v1M340.8 1767v1m0 13v1m0 386v2M366.8 1672v1M392.8 1826v1m0 95v2M444.8 1878v2m0 73v2m0 38v1m0 21v1m0 81v1M470.8 1668v1m0 297v2m0 47v3M496.8 2019v1m0 23v1M522.8 1687v2m0 290v1m0 32v1m0 61v2m0 19v2m0 3v1m0 3v2M574.8 1681v2m0 378v2M600.8 2031v1m0 18v2M626.8 2036v2m0 85v2m0 39v2M652.8 2133v2M678.8 1975v2m0 18v2m0 135v1M704.8 1992v1M756.8 1853v1m0 65v1m0 128v2m0 58v2m0 47v2M782.8 2023v1m0 119v2M808.8 2063v2m0 11v2m0 86v2M834.8 1778v1m0 75v2m0 109v1m0 77v1M860.8 1754v1m0 76v1m0 276v2m0 56v2M886.8 1957v2m0 149v2M912.8 1704v1m0 139v2m0 151v2m0 8v2m0 4v2m0 117v1M938.8 1679v2"/>
<path stroke="#e98" d="M236.8 1772v1M782.8 2070v2M886.8 2162v2"/>
<path stroke="#a9b" d="M236.8 1822v2M262.8 1667v1M444.8 1898v1M470.8 1702v1m0 163v1M522.8 1753v1M548.8 1667v1m0 163v1M600.8 1770v1m0 56v1m0 84v2M626.8 1781v1M652.8 1872v2"/>
<path stroke="#fa9" d="M236.8 1840v2M444.8 2069v1M470.8 2092v1M496.8 2073v1M574.8 2024v1M626.8 1770v1M834.8 2031v1M938.8 1899v1"/>
<path stroke="#98a" d="M236.8 1853v1M262.8 1700v1"/>
<path stroke="#d88" d="M236.8 1861v1M366.8 1755v2M392.8 1834v1M418.8 2053v2M704.8 2063v2m0 16v1M782.8 1992v1m0 4v2m0 80v2m0 26v1m0 22v2M808.8 1705v1m0 59v1M860.8 1785v1M886.8 1973v2m0 4v1m0 29v1"/>
<path stroke="#eaa" d="M236.8 1863v1M262.8 1905v1m0 27v2M288.8 1816v2M392.8 1667v1m0 162v1M522.8 1883v2M626.8 2100v1M704.8 1953v2M756.8 2170v2M782.8 2170v2M834.8 1737v1m0 241v1m0 13v1M886.8 2093v2M912.8 2059v1m0 110v2M938.8 1673v2"/>
<path stroke="#d67" d="M236.8 1957v2m0 139v2M288.8 1718v2m0 19v2m0 41v1M314.8 1763v1m0 66v1M366.8 1916v2M392.8 1706v1m0 157v1M756.8 2023v1M782.8 2041v2m0 99v1M808.8 1683v2m0 208v2m0 4v1m0 153v2m0 30v1M860.8 2162v2M886.8 2006v1m0 48v2M912.8 1979v1m0 63v1m0 11v2M938.8 1667v1m0 17v1m0 14v1m0 148v2m0 49v1m0 34v2"/>
<path stroke="#cbd" d="M236.8 1964v1m0 120v1M262.8 2061v2m0 16v2m0 4v1M288.8 1672v1m0 151v2m0 336v2M366.8 1811v2M418.8 2003v1M756.8 1906v1m0 37v1m0 162v1M860.8 1814v2m0 257v1M912.8 1666v1m0 3v2m0 134v2m0 48v2m0 34v1m0 26v1m0 121v2m0 49v1"/>
<path stroke="#c67" d="M236.8 1965v1m0 49v1m0 9v2m0 73v1M418.8 1997v2M548.8 2168v2M756.8 1780v1m0 65v1m0 50v1m0 87v2m0 45v2m0 70v2m0 12v1M834.8 2003v1m0 2v1m0 25v2m0 67v2M860.8 1681v4m0 54v2m0 58v2m0 43v2m0 60v1m0 7v1m0 1v2m0 107v2m0 47v2m0 2v1M912.8 1804v2m0 139v2m0 38v2m0 96v1m0 1v1m0 56v1"/>
<path stroke="#dab" d="M236.8 1966v2m0 70v2M262.8 2034v2M288.8 1691v2m0 73v1m0 35v2m0 99v2m0 9v1M314.8 1780v1m0 27v1m0 5v2m0 64v2m0 19v2m0 25v2M366.8 1776v3m0 77v2m0 25v2M392.8 1738v1m0 170v1m0 32v1M600.8 1851v2M704.8 1943v1m0 53v2m0 17v2m0 25v1m0 8v1M756.8 1739v2m0 10v2m0 10v1m0 2v1m0 55v2m0 289v2M782.8 2012v1m0 52v1m0 35v2M808.8 1666v1m0 88v2m0 10v1m0 27v2m0 11v1m0 18v1m0 36v1m0 132v2m0 5v2m0 98v2m0 48v1M834.8 1970v1M886.8 1947v1m0 39v2m0 74v2m0 75v2m0 8v2M938.8 1699v1m0 55v2m0 12v1m0 36v2m0 45v1m0 7v1m0 18v2m0 15v1m0 18v2"/>
<path stroke="#cad" d="M236.8 2031v1m0 60v1M262.8 1966v2M756.8 2074v2"/>
<path stroke="#aae" d="M236.8 2084v1m0 42v2m0 6v1M262.8 2154v1"/>
<path stroke="#dbd" d="M236.8 2115v2m0 37v1m0 11v2M262.8 1957v2m0 21v2m0 18v1m0 6v2m0 23v2m0 52v2m0 5v2m0 23v1M288.8 1673v2m0 1v1m0 29v1m0 81v2m0 37v1m0 47v1m0 33v1M314.8 1876v2m0 17v2M366.8 1705v1m0 12v2m0 34v1m0 6v2m0 57v1m0 53v1M392.8 1686v1m0 28v1m0 181v1M418.8 2044v2M704.8 1951v2m0 34v2m0 47v2m0 27v1m0 26v1m0 5v2m0 38v1M756.8 2133v2M782.8 2018v1m0 21v1M808.8 1690v1m0 34v2m0 31v1m0 62v1m0 84v1m0 21v2m0 73v1m0 44v2m0 17v2m0 61v2M886.8 1971v2m0 112v1m0 3v2M912.8 1965v1m0 104v2m0 31v1M938.8 1702v1m0 1v1m0 2v2m0 2v2m0 28v1m0 78v1m0 1v2m0 8v2m0 61v2"/>
<path stroke="#c68" d="M236.8 2138v1M834.8 1798v1"/>
<path stroke="#99c" d="M262.8 1773v1M418.8 2085v1M444.8 1731v1m0 6v1M470.8 1678v1M496.8 1824v2M522.8 1741v1M548.8 1758v1m0 8v1m0 45v1m0 78v1M600.8 1690v1m0 25v1m0 171v2m0 42v1M652.8 1691v2m0 16v2m0 20v1m0 124v2m0 25v2M678.8 1885v1"/>
<path stroke="#a47" d="M262.8 1832v2M418.8 1778v1"/>
<path stroke="#76b" d="M262.8 1912v2M600.8 1931v1"/>
<path stroke="#ebb" d="M262.8 1922v2m0 203v2M288.8 1880v2M522.8 1905v1M678.8 1760v1M704.8 2132v1M782.8 2052v1M938.8 1760v1"/>
<path stroke="#cce" d="M262.8 1944v1m0 16v1m0 27v1m0 2v1m0 6v1m0 29v2m0 21v1m0 4v2m0 14v3m0 13v2m0 21v1m0 42v2m0 9v2M288.8 1698v1m0 10v2m0 9v2m0 5v2m0 7v1m0 13v1m0 21v1m0 36v2m0 23v1m0 19v2m0 4v1m0 7v6m0 11v1m0 14v1m0 34v2m0 6v1m0 7v2m0 1v3m0 5v6m0 1v2m0 1v1m0 3v1m0 1v1m0 3v6m0 1v1m0 4v1m0 2v1m0 1v2m0 1v1m0 2v1m0 2v1m0 9v3m0 4v1m0 2v1m0 1v2m0 5v3m0 2v2m0 1v1m0 3v1m0 3v1m0 1v1m0 5v2m0 1v1m0 6v1m0 6v1m0 1v2m0 2v1m0 2v1m0 4v2m0 1v2m0 1v2m0 3v1m0 1v1m0 1v3m0 1v1m0 1v1m0 2v3m0 1v2m0 1v1m0 1v1m0 2v1m0 1v1m0 3v2m0 1v6m0 3v2m0 1v1m0 1v2m0 4v1M314.8 1666v1m0 2v1m0 11v2m0 60v2m0 9v1m0 10v1m0 7v1m0 20v1m0 53v1m0 7v2m0 5v1m0 34v1m0 6v1m0 3v1m0 8v2m0 18v1m0 8v2m0 1v2m0 2v1m0 2v1m0 1v1m0 2v2m0 1v3m0 5v1m0 1v1m0 1v1m0 4v2m0 1v2m0 3v2m0 2v2m0 5v2m0 3v3m0 3v1m0 3v1m0 1v1m0 1v4m0 4v1m0 1v1m0 1v3m0 1v3m0 11v1m0 2v1m0 1v1m0 1v2m0 1v3m0 2v3m0 1v1m0 1v4m0 1v1m0 2v1m0 2v1m0 3v1m0 4v1m0 3v2m0 2v1m0 2v2m0 2v6m0 1v4m0 3v1m0 1v1m0 1v1m0 1v1m0 1v3m0 2v4m0 1v2m0 5v2m0 2v1m0 2v1m0 1v1m0 4v1M366.8 1664v2m0 4v2m0 6v1m0 19v1m0 16v1m0 23v2m0 6v2m0 9v1m0 31v2m0 7v2m0 12v1m0 10v2m0 14v2m0 26v2m0 12v1m0 17v3m0 2v1m0 8v2m0 2v1m0 1v2m0 25v2m0 4v1m0 2v1m0 2v4m0 1v1m0 2v2m0 1v1m0 7v2m0 1v1m0 1v1m0 1v1m0 3v2m0 1v2m0 6v1m0 8v3m0 2v1m0 1v4m0 1v1m0 5v1m0 1v1m0 1v3m0 1v3m0 5v1m0 1v3m0 3v2m0 1v1m0 1v2m0 1v1m0 1v1m0 4v1m0 4v1m0 1v3m0 1v1m0 3v1m0 1v1m0 3v1m0 1v1m0 1v1m0 1v5m0 10v1m0 1v4m0 2v1m0 1v1m0 4v1m0 3v1m0 1v1m0 4v1m0 2v2m0 1v1m0 1v1m0 3v1m0 3v1m0 1v2m0 2v2M392.8 1666v1m0 1v1m0 9v1m0 14v2m0 3v1m0 3v1m0 2v1m0 3v6m0 5v2m0 3v2m0 4v2m0 1v2m0 1v1m0 4v3m0 5v1m0 6v1m0 5v1m0 10v2m0 7v2m0 3v2m0 8v1m0 2v1m0 4v2m0 10v2m0 12v2m0 1v2m0 1v2m0 2v2m0 3v1m0 19v1m0 4v2m0 9v2m0 6v4m0 8v3m0 5v4m0 1v2m0 7v1m0 7v2m0 2v1m0 5v1m0 2v1m0 2v7m0 1v9m0 1v3m0 2v7m0 1v2m0 2v1m0 3v3m0 1v8m0 1v3m0 1v14m0 1v2m0 2v1m0 1v1m0 1v1m0 1v1m0 1v12m0 1v1m0 1v6m0 1v11m0 1v7m0 2v6m0 1v2m0 1v3m0 1v1m0 1v3m0 3v3m0 3v2m0 1v1m0 1v3m0 1v1m0 1v1m0 1v1m0 1v13m0 1v3m0 1v4m0 1v18M418.8 1961v1m0 23v2m0 3v2m0 29v2m0 59v1M496.8 1715v1m0 1v1m0 35v1m0 11v1M522.8 1872v2M548.8 1664v2m0 232v1M574.8 1668v1m0 56v2m0 34v2m0 2v1m0 40v2m0 122v1M626.8 1705v1m0 79v1m0 156v1M652.8 1759v1m0 70v1m0 104v2M678.8 1907v2m0 257v2M704.8 1663v1m0 1v1m0 1v1m0 1v3m0 1v1m0 1v1m0 1v3m0 2v1m0 1v13m0 4v1m0 2v1m0 1v3m0 4v1m0 3v1m0 1v2m0 1v4m0 3v1m0 1v1m0 4v1m0 1v1m0 1v1m0 1v1m0 1v5m0 1v2m0 3v1m0 1v1m0 4v1m0 1v6m0 2v2m0 1v2m0 1v3m0 2v1m0 1v2m0 1v2m0 1v3m0 1v2m0 2v1m0 1v1m0 2v2m0 1v2m0 1v3m0 1v1m0 1v5m0 1v1m0 1v4m0 1v1m0 1v3m0 2v1m0 2v1m0 3v4m0 1v2m0 1v1m0 4v1m0 3v1m0 1v2m0 1v1m0 2v6m0 1v1m0 2v7m0 1v3m0 1v3m0 1v1m0 1v5m0 3v2m0 2v1m0 2v2m0 1v5m0 1v3m0 2v1m0 1v1m0 3v6m0 1v1m0 1v3m0 5v1m0 6v2m0 8v1m0 5v2m0 6v1m0 2v3m0 4v1m0 11v3m0 9v2m0 8v1m0 3v4m0 17v4m0 3v4m0 19v1m0 5v2m0 2v1m0 8v1m0 5v1m0 6v3m0 6v4m0 19v1m0 7v2m0 3v2M782.8 1663v1m0 4v1m0 1v2m0 1v1m0 1v2m0 3v1m0 3v3m0 2v1m0 1v2m0 1v1m0 1v1m0 1v3m0 1v2m0 6v2m0 1v1m0 2v2m0 2v1m0 6v1m0 2v1m0 3v1m0 2v2m0 4v2m0 2v6m0 2v4m0 1v1m0 1v1m0 5v2m0 7v1m0 2v1m0 1v1m0 1v2m0 1v1m0 1v1m0 1v1m0 3v4m0 1v2m0 1v1m0 1v1m0 7v1m0 9v4m0 1v2m0 1v2m0 1v2m0 1v1m0 3v1m0 2v1m0 2v2m0 1v3m0 1v3m0 1v3m0 2v2m0 1v3m0 1v1m0 1v1m0 3v1m0 1v2m0 4v3m0 1v1m0 1v3m0 3v5m0 1v1m0 2v2m0 3v2m0 1v1m0 2v1m0 1v1m0 1v2m0 1v3m0 2v1m0 1v3m0 3v1m0 1v1m0 1v1m0 3v1m0 2v1m0 27v4m0 1v2m0 18v4m0 11v3m0 9v2m0 5v2m0 2v2m0 3v1m0 2v4m0 11v2m0 10v1m0 2v2m0 6v2m0 12v3m0 11v1m0 2v2m0 2v2m0 6v3m0 5v1m0 2v1m0 7v2m0 2v4M808.8 1686v4m0 5v3m0 11v2m0 2v4m0 1v7m0 2v3m0 2v2m0 5v2m0 5v1m0 1v2m0 1v4m0 4v2m0 5v1m0 1v1m0 4v1m0 8v1m0 5v4m0 2v1m0 7v4m0 10v2m0 4v4m0 2v3m0 1v3m0 14v4m0 7v4m0 2v1m0 1v2m0 4v1m0 1v2m0 2v2m0 10v1m0 7v1m0 6v3m0 5v1m0 2v2m0 6v2m0 7v2m0 3v2m0 5v1m0 9v2m0 3v3m0 1v2m0 2v3m0 7v5m0 2v2m0 1v7m0 2v1m0 9v3m0 3v1m0 2v2m0 16v8m0 2v2m0 4v1m0 16v1m0 2v1m0 11v1m0 6v2m0 2v6m0 6v1m0 27v1m0 3v6m0 1v2m0 2v2m0 3v4M886.8 1663v1m0 1v4m0 4v2m0 1v5m0 2v1m0 1v2m0 1v1m0 1v2m0 1v2m0 2v2m0 2v3m0 2v4m0 2v1m0 1v2m0 2v2m0 1v1m0 3v2m0 1v1m0 1v1m0 3v1m0 1v2m0 1v2m0 1v5m0 1v1m0 2v2m0 1v1m0 2v5m0 1v2m0 1v1m0 2v2m0 1v5m0 1v3m0 1v4m0 1v6m0 1v2m0 1v3m0 2v1m0 4v4m0 1v1m0 1v1m0 1v2m0 1v1m0 1v1m0 3v1m0 1v6m0 2v3m0 3v1m0 2v1m0 1v3m0 1v7m0 2v2m0 1v3m0 1v2m0 1v2m0 4v2m0 1v3m0 2v3m0 3v1m0 1v5m0 1v5m0 1v2m0 1v9m0 1v1m0 1v5m0 1v2m0 1v1m0 1v3m0 1v9m0 13v2m0 9v5m0 29v1m0 2v1m0 15v1m0 5v2m0 2v2m0 3v4m0 3v2m0 16v1m0 1v2m0 3v1m0 6v1m0 5v2m0 16v1m0 5v3m0 11v2m0 14v2m0 22v2M938.8 1664v2m0 2v1m0 7v1m0 9v1m0 10v2m0 26v2m0 7v2m0 2v1m0 3v1m0 4v1m0 1v1m0 16v1m0 9v2m0 1v2m0 5v2m0 10v4m0 7v2m0 3v2m0 8v2m0 8v3m0 1v4m0 4v1m0 1v1m0 2v2m0 22v1m0 2v2m0 12v3m0 10v1m0 8v1m0 7v2m0 6v1m0 1v1m0 10v1m0 1v1m0 1v3m0 1v9m0 3v1m0 1v8m0 1v2m0 1v4m0 1v5m0 1v2m0 1v6m0 1v5m0 1v4m0 1v1m0 1v2m0 1v1m0 1v4m0 2v5m0 1v1m0 1v1m0 1v5m0 1v1m0 1v9m0 1v1m0 1v1m0 1v4m0 1v6m0 1v2m0 1v5m0 1v1m0 2v9m0 2v2m0 1v3m0 1v3m0 1v1m0 1v3m0 1v2m0 1v10m0 1v2m0 2v4m0 1v4m0 1v4m0 1v4m0 1v2m0 1v6m0 2v1m0 1v2"/>
<path stroke="#dac" d="M262.8 1947v1m0 216v2M288.8 1737v1m0 43v1m0 12v1M314.8 1695v2m0 28v2m0 74v1m0 98v1M366.8 1746v1m0 84v1m0 35v1m0 25v2M392.8 1703v1m0 12v1m0 30v1m0 13v2m0 5v1m0 3v1m0 5v1m0 3v1m0 19v2m0 18v2m0 16v2m0 88v1M418.8 2097v1M626.8 1706v1M704.8 1962v2m0 13v2m0 28v2m0 9v1m0 21v3m0 36v2m0 10v1M782.8 1973v2m0 49v1m0 7v2m0 23v2m0 1v1m0 27v1m0 8v1m0 15v2M808.8 1707v2m0 61v1m0 12v2m0 16v1m0 45v1m0 40v2m0 65v1m0 17v2m0 2v2m0 21v1m0 31v2m0 27v2m0 25v1m0 12v2m0 7v2m0 6v1M886.8 1948v1m0 45v1m0 29v1m0 32v2m0 24v1M938.8 1670v2m0 46v2m0 10v1m0 143v1"/>
<path stroke="#cbe" d="M262.8 1949v2m0 53v2m0 77v1M288.8 1679v2m0 20v1m0 28v1m0 30v2m0 8v1m0 84v2m0 24v1m0 8v1M314.8 1664v2m0 1v1m0 10v1m0 24v1m0 25v2m0 35v1m0 37v2m0 26v2m0 30v1m0 67v1M366.8 1667v1m0 34v1m0 1v1m0 37v1m0 31v2m0 9v1m0 8v1m0 70v1m0 45v1m0 16v2m0 1v1m0 3v2M392.8 1755v2m0 1v1m0 89v1m0 41v1M418.8 2073v1m0 61v1M704.8 2009v1m0 66v2m0 62v2M756.8 1949v2M808.8 1781v1m0 36v2m0 38v1m0 11v2m0 65v1m0 27v1m0 149v2M834.8 1937v1M860.8 2066v1M886.8 1975v2m0 54v1m0 75v1m0 15v2m0 7v1M938.8 1724v1m0 193v1"/>
<path stroke="#ebc" d="M262.8 1956v1m0 8v1m0 72v2M288.8 1738v1m0 37v2m0 132v1M314.8 1722v1m0 48v1m0 81v1M418.8 2145v1M626.8 1667v1M782.8 1971v2m0 21v1m0 12v2"/>
<path stroke="#bae" d="M262.8 1995v2m0 39v2m0 43v1m0 9v1m0 44v2"/>
<path stroke="#dde" d="M262.8 2031v1m0 101v2m0 24v1M314.8 1838v2M392.8 1699v1m0 80v1m0 30v2M418.8 2027v2M600.8 2166v2M652.8 1912v2M678.8 2164v2M704.8 1990v2m0 40v2M782.8 2021v2m0 55v1m0 14v2M808.8 1837v1m0 93v2m0 127v1M886.8 2152v2M938.8 1743v2"/>
<path stroke="#fcb" d="M262.8 2092v1M756.8 2000v1M886.8 2121v2M938.8 1915v1"/>
<path stroke="#d56" d="M288.8 1702v1m0 87v2M314.8 1723v1m0 168v1M522.8 2170v2M938.8 1727v2m0 134v1"/>
<path stroke="#d9b" d="M288.8 1703v1m0 65v2m0 157v2M314.8 1677v1m0 37v1m0 217v2M366.8 1727v2m0 52v1m0 32v2m0 108v1M392.8 1690v1m0 94v1m0 35v1m0 32v2m0 6v1M418.8 2000v1m0 118v2M704.8 1959v2m0 99v1M782.8 1956v1m0 7v1m0 24v1m0 5v2M808.8 1672v1m0 25v1m0 3v1m0 73v2m0 64v2m0 21v1m0 9v1m0 63v1m0 61v2m0 78v1m0 21v1M860.8 1888v2M886.8 1945v2m0 30v2m0 14v1m0 50v2m0 42v1M912.8 1848v1M938.8 1739v2m0 37v1"/>
<path stroke="#d8a" d="M288.8 1704v1M314.8 1738v1m0 53v2M366.8 1663v1m0 19v2m0 49v2m0 72v1M756.8 1715v1m0 381v1m0 41v1M808.8 1663v1M860.8 2079v2"/>
<path stroke="#e76" d="M288.8 1743v2M314.8 1797v1m0 372v2M496.8 1957v2m0 104v2m0 27v1M522.8 1956v1m0 181v1M548.8 1987v2m0 104v2M600.8 2009v1M652.8 2001v2m0 90v2M678.8 2023v1m0 114v1M730.8 2166v2M756.8 1733v1m0 342v2M782.8 2157v2M808.8 1757v1M834.8 1691v2m0 34v2m0 10v2m0 244v2"/>
<path stroke="#d77" d="M288.8 1747v1m0 126v1M314.8 1727v2m0 59v2m0 45v2m0 10v1M366.8 1687v2m0 83v1M704.8 2100v1M782.8 2006v1m0 56v2M912.8 2046v2M938.8 1669v1m0 87v1"/>
<path stroke="#c9a" d="M288.8 1751v2m0 7v1M314.8 1698v1m0 33v1m0 83v2m0 73v1M392.8 1853v1m0 41v2M418.8 1943v1m0 132v2M704.8 2010v2m0 71v1m0 22v1M756.8 1678v1M808.8 1664v2m0 15v2m0 18v1m0 78v1m0 18v2m0 10v2m0 33v1m0 64v1m0 31v1m0 135v2m0 52v2M834.8 1678v1m0 341v1M886.8 2100v1M912.8 1785v1M938.8 1732v1m0 13v1m0 74v1m0 85v2"/>
<path stroke="#c89" d="M288.8 1759v1M314.8 1799v2M366.8 1685v1m0 23v2m0 46v1M756.8 1670v2m0 34v1m0 9v1M808.8 1859v1m0 263v2M834.8 1846v1m0 25v2m0 54v2M860.8 1669v1m0 29v1m0 290v2m0 131v2m0 29v1M912.8 1701v1m0 30v1m0 195v3"/>
<path stroke="#d66" d="M288.8 1780v1M314.8 1691v2M392.8 1685v1M808.8 2148v2M938.8 1748v1m0 113v1m0 48v1m0 26v1"/>
<path stroke="#e9a" d="M288.8 1905v1m0 12v1M366.8 1690v1m0 29v2m0 61v2M392.8 1673v2m0 32v2M600.8 1772v1M704.8 1973v2m0 126v2M782.8 2019v1m0 116v2M808.8 1699v1m0 37v1m0 102v2M886.8 1961v1m0 167v3m0 4v2M938.8 1733v1m0 93v1"/>
<path stroke="#ecc" d="M288.8 1939v1M756.8 1783v2M808.8 1670v2"/>
<path stroke="#f88" d="M314.8 1851v2M444.8 2024v1m0 40v1M470.8 1979v1m0 70v2M496.8 2107v1m0 27v1M522.8 2019v1m0 95v2m0 26v2M548.8 2157v2M574.8 2089v2M626.8 2135v1M652.8 2121v2M678.8 1977v2m0 53v2m0 18v1m0 53v1M834.8 1867v1M886.8 2160v2m0 8v2M912.8 1689v1M938.8 1751v2"/>
<path stroke="#d99" d="M314.8 1899v1M808.8 1975v2M886.8 2113v2M938.8 1925v1"/>
<path stroke="#b57" d="M340.8 1664v2M834.8 1703v1m0 76v1m0 16v1m0 42v2m0 5v1m0 14v1m0 30v2m0 71v2m0 178v2M912.8 1780v1m0 50v1m0 58v1"/>
<path stroke="#aac" d="M340.8 1689v1m0 154v2M444.8 1700v1m0 198v1M496.8 1858v1M522.8 1907v2m0 16v1M548.8 1741v1m0 12v1m0 30v1m0 119v1M574.8 1676v1M600.8 1713v2m0 180v2M626.8 1689v1m0 30v2M652.8 1751v2m0 53v2M678.8 1895v2"/>
<path stroke="#fba" d="M340.8 1698v1M808.8 1798v1m0 146v2"/>
<path stroke="#a46" d="M340.8 1774v2M418.8 1916v2M834.8 1673v2"/>
<path stroke="#b9c" d="M418.8 1944v1M756.8 1731v1m0 9v1m0 8v1m0 46v1m0 107v1M834.8 1853v1m0 224v1M860.8 1961v1m0 13v2m0 111v1M912.8 1724v1m0 89v2"/>
<path stroke="#98c" d="M418.8 1962v2M574.8 1733v1M756.8 1717v1m0 109v1M834.8 1858v1M860.8 1890v1m0 155v2M912.8 1676v1m0 2v2m0 24v1m0 25v1m0 35v1m0 4v1m0 26v2m0 20v1m0 27v2m0 7v2m0 12v2m0 2v2m0 22v1m0 9v1m0 4v1m0 6v2m0 9v2"/>
<path stroke="#bbd" d="M418.8 1975v2m0 16v1M522.8 1749v1M652.8 1678v1M756.8 1868v2M834.8 1920v2m0 230v2M860.8 1973v2m0 122v1M912.8 1713v2"/>
<path stroke="#77b" d="M418.8 1992v1m0 39v2m0 54v1m0 57v2M496.8 1699v1m0 4v1M574.8 1781v1M652.8 1779v1M834.8 1785v1"/>
<path stroke="#ccd" d="M418.8 2050v2"/>
<path stroke="#c57" d="M470.8 2164v2M756.8 1729v1m0 39v1M834.8 1922v2m0 208v3M860.8 1769v1m0 389v1M912.8 1870v2"/>
<path stroke="#87c" d="M522.8 1878v2M548.8 1880v2M574.8 1745v1m0 153v1m0 18v1"/>
<path stroke="#99b" d="M548.8 1906v1"/>
<path stroke="#a8a" d="M574.8 1937v1M600.8 1700v1m0 169v2M626.8 1858v1M652.8 1895v2M678.8 1732v1M834.8 2084v1"/>
<path stroke="#b69" d="M626.8 1707v2"/>
<path stroke="#98d" d="M756.8 1723v1m0 124v1m0 60v1M860.8 1675v1m0 84v1m0 57v2m0 52v2m0 110v1M912.8 1681v2m0 10v2m0 83v1m0 81v1m0 57v1"/>
<path stroke="#d43" d="M756.8 1948v1"/>
<path stroke="#daa" d="M808.8 1673v2"/>
<path stroke="#97b" d="M834.8 1667v1"/>
<path stroke="#b56" d="M834.8 1685v1m0 43v1m0 28v1m0 332v1"/>
<path stroke="#859" d="M834.8 1693v2"/>
<path stroke="#858" d="M834.8 1733v1m0 13v1"/>
<path stroke="#e78" d="M834.8 1757v1"/>
<path stroke="#959" d="M834.8 1828v2"/>
<path stroke="#b45" d="M834.8 1838v2m0 71v1"/>
<path stroke="#cab" d="M834.8 1883v2"/>
<path stroke="#d68" d="M912.8 2089v2"/>
<path stroke="#fbc" d="M912.8 2159v1"/>
</g></g>
<line x1="171.8" x2="951.8" y1="1943" y2="1943" stroke="#101020" stroke-width="0.9" opacity="0.9"/>
<line x1="171.8" x2="951.8" y1="2160" y2="2160" stroke="#101020" stroke-width="0.9" opacity="0.9"/>
<rect x="172.3" y="1665.2" width="779" height="504.1" fill="none" stroke="#000" stroke-width="1.8"/>
<rect x="151.3" y="1665.2" width="17.4" height="277.8" fill="#FF9E9E"/>
<text transform="translate(140.5 1811.6) scale(1.045 1)" font-size="23.1" text-anchor="end">DS1</text>
<rect x="151.3" y="1943" width="17.4" height="217" fill="#DDB8F0"/>
<text transform="translate(140.5 2059) scale(1.045 1)" font-size="23.1" text-anchor="end">DS2</text>
<rect x="151.3" y="2160" width="17.4" height="9" fill="#CBA08C"/>
<text transform="translate(140.5 2172) scale(1.045 1)" font-size="23.1" text-anchor="end">DS3</text>
<path d="M177 1659V1652H426.6V1659" fill="none" stroke="#000" stroke-width="1.5"/>
<text transform="translate(298.8 1605.9) scale(1.04 1)" font-size="23.1" text-anchor="middle">DS1</text>
<text transform="translate(298.8 1634.8) scale(1.04 1)" font-size="23.1" text-anchor="middle">cDC</text>
<path d="M437 1659V1652H686.6V1659" fill="none" stroke="#000" stroke-width="1.5"/>
<text transform="translate(557.8 1605.9) scale(1.04 1)" font-size="23.1" text-anchor="middle">DS2</text>
<text transform="translate(557.8 1634.8) scale(1.04 1)" font-size="23.1" text-anchor="middle">pDC</text>
<path d="M697 1659V1652H946.6V1659" fill="none" stroke="#000" stroke-width="1.5"/>
<text transform="translate(827.6 1605.9) scale(1.04 1)" font-size="23.1" text-anchor="middle">DS3</text>
<text transform="translate(827.6 1634.8) scale(1.04 1)" font-size="23.1" text-anchor="middle">AS DC</text>
<text transform="translate(189.6 2184.1) rotate(-90) scale(1.0 1)" font-size="20" text-anchor="end">LGALS2</text>
<text transform="translate(215.6 2184.1) rotate(-90) scale(1.0 1)" font-size="20" text-anchor="end">HLA-DRB1</text>
<text transform="translate(241.6 2184.1) rotate(-90) scale(1.0 1)" font-size="20" text-anchor="end">CPVL</text>
<text transform="translate(267.6 2184.1) rotate(-90) scale(1.0 1)" font-size="20" text-anchor="end">HLA-DQB1</text>
<text transform="translate(293.6 2184.1) rotate(-90) scale(1.0 1)" font-size="20" text-anchor="end">CD1C</text>
<text transform="translate(319.6 2184.1) rotate(-90) scale(1.0 1)" font-size="20" text-anchor="end">HLA-DQB2</text>
<text transform="translate(345.6 2184.1) rotate(-90) scale(1.0 1)" font-size="20" text-anchor="end">HLA-DPA1</text>
<text transform="translate(371.6 2184.1) rotate(-90) scale(1.0 1)" font-size="20" text-anchor="end">IGSF6</text>
<text transform="translate(397.6 2184.1) rotate(-90) scale(1.0 1)" font-size="20" text-anchor="end">CLEC10A</text>
<text transform="translate(423.6 2184.1) rotate(-90) scale(1.0 1)" font-size="20" text-anchor="end">HLA-DQA1</text>
<text transform="translate(449.6 2184.1) rotate(-90) scale(1.0 1)" font-size="20" text-anchor="end">ITM2C</text>
<text transform="translate(475.6 2184.1) rotate(-90) scale(1.0 1)" font-size="20" text-anchor="end">GZMB</text>
<text transform="translate(501.6 2184.1) rotate(-90) scale(1.0 1)" font-size="20" text-anchor="end">IGKC</text>
<text transform="translate(527.6 2184.1) rotate(-90) scale(1.0 1)" font-size="20" text-anchor="end">ALOX5AP</text>
<text transform="translate(553.6 2184.1) rotate(-90) scale(1.0 1)" font-size="20" text-anchor="end">C12orf75</text>
<text transform="translate(579.6 2184.1) rotate(-90) scale(1.0 1)" font-size="20" text-anchor="end">LILRA4</text>
<text transform="translate(605.6 2184.1) rotate(-90) scale(1.0 1)" font-size="20" text-anchor="end">HERPUD1</text>
<text transform="translate(631.6 2184.1) rotate(-90) scale(1.0 1)" font-size="20" text-anchor="end">IRF8</text>
<text transform="translate(657.6 2184.1) rotate(-90) scale(1.0 1)" font-size="20" text-anchor="end">PLD4</text>
<text transform="translate(683.6 2184.1) rotate(-90) scale(1.0 1)" font-size="20" text-anchor="end">IRF7</text>
<text transform="translate(709.6 2184.1) rotate(-90) scale(1.0 1)" font-size="20" text-anchor="end">PPP1R14A</text>
<text transform="translate(735.6 2184.1) rotate(-90) scale(1.0 1)" font-size="20" text-anchor="end">AXL</text>
<text transform="translate(761.6 2184.1) rotate(-90) scale(1.0 1)" font-size="20" text-anchor="end">CRIP1</text>
<text transform="translate(787.6 2184.1) rotate(-90) scale(1.0 1)" font-size="20" text-anchor="end">DAB2</text>
<text transform="translate(813.6 2184.1) rotate(-90) scale(1.0 1)" font-size="20" text-anchor="end">FABP5</text>
<text transform="translate(839.6 2184.1) rotate(-90) scale(1.0 1)" font-size="20" text-anchor="end">PTPRE</text>
<text transform="translate(865.6 2184.1) rotate(-90) scale(1.0 1)" font-size="20" text-anchor="end">CD63</text>
<text transform="translate(891.6 2184.1) rotate(-90) scale(1.0 1)" font-size="20" text-anchor="end">SOX4</text>
<text transform="translate(917.6 2184.1) rotate(-90) scale(1.0 1)" font-size="20" text-anchor="end">PHB</text>
<text transform="translate(943.6 2184.1) rotate(-90) scale(1.0 1)" font-size="20" text-anchor="end">CLEC10A</text>
<path d="M184.8 2170.2v5.6M210.8 2170.2v5.6M236.8 2170.2v5.6M262.8 2170.2v5.6M288.8 2170.2v5.6M314.8 2170.2v5.6M340.8 2170.2v5.6M366.8 2170.2v5.6M392.8 2170.2v5.6M418.8 2170.2v5.6M444.8 2170.2v5.6M470.8 2170.2v5.6M496.8 2170.2v5.6M522.8 2170.2v5.6M548.8 2170.2v5.6M574.8 2170.2v5.6M600.8 2170.2v5.6M626.8 2170.2v5.6M652.8 2170.2v5.6M678.8 2170.2v5.6M704.8 2170.2v5.6M730.8 2170.2v5.6M756.8 2170.2v5.6M782.8 2170.2v5.6M808.8 2170.2v5.6M834.8 2170.2v5.6M860.8 2170.2v5.6M886.8 2170.2v5.6M912.8 2170.2v5.6M938.8 2170.2v5.6" fill="none" stroke="#000" stroke-width="1.4"/>
<path d="M958.6 2051.3H1006.3V2164.5H958.6M958.6 1804.3H1038V2107.9H1006.3" fill="none" stroke="#000" stroke-width="1.6" stroke-linejoin="miter"/>
<text x="0" y="1630.5" font-size="47" font-weight="bold" fill="#000">e</text>
<defs><linearGradient id="cb" x1="0" y1="0" x2="0" y2="1"><stop offset="0" stop-color="rgb(224,40,28)"/><stop offset="0.17" stop-color="rgb(236,82,80)"/><stop offset="0.33" stop-color="rgb(252,172,172)"/><stop offset="0.5" stop-color="rgb(255,255,255)"/><stop offset="0.67" stop-color="rgb(190,182,236)"/><stop offset="0.83" stop-color="rgb(100,100,188)"/><stop offset="1" stop-color="rgb(68,68,165)"/></linearGradient></defs>
<rect x="1160" y="1760.5" width="18" height="305.3" fill="url(#cb)" stroke="#000" stroke-width="1.6"/>
<text x="1189.3" y="1767.9" font-size="19.2" word-spacing="0.5">&gt; 1.5</text>
<text x="1189.3" y="1818.78" font-size="19.2" word-spacing="0.5">1.0</text>
<text x="1189.3" y="1869.67" font-size="19.2" word-spacing="0.5">0.5</text>
<text x="1189.3" y="1920.55" font-size="19.2" word-spacing="0.5">0.0</text>
<text x="1189.3" y="1971.43" font-size="19.2" word-spacing="0.5">−0.5</text>
<text x="1189.3" y="2022.32" font-size="19.2" word-spacing="0.5">−1.0</text>
<text x="1189.3" y="2073.2" font-size="19.2" word-spacing="2.4">&lt; −1.5</text>
<path d="M1178.8 1760.5h5M1178.8 1811.38h5M1178.8 1862.27h5M1178.8 1913.15h5M1178.8 1964.03h5M1178.8 2014.92h5M1178.8 2065.8h5" fill="none" stroke="#000" stroke-width="1.4"/>
</svg>
</body></html>
